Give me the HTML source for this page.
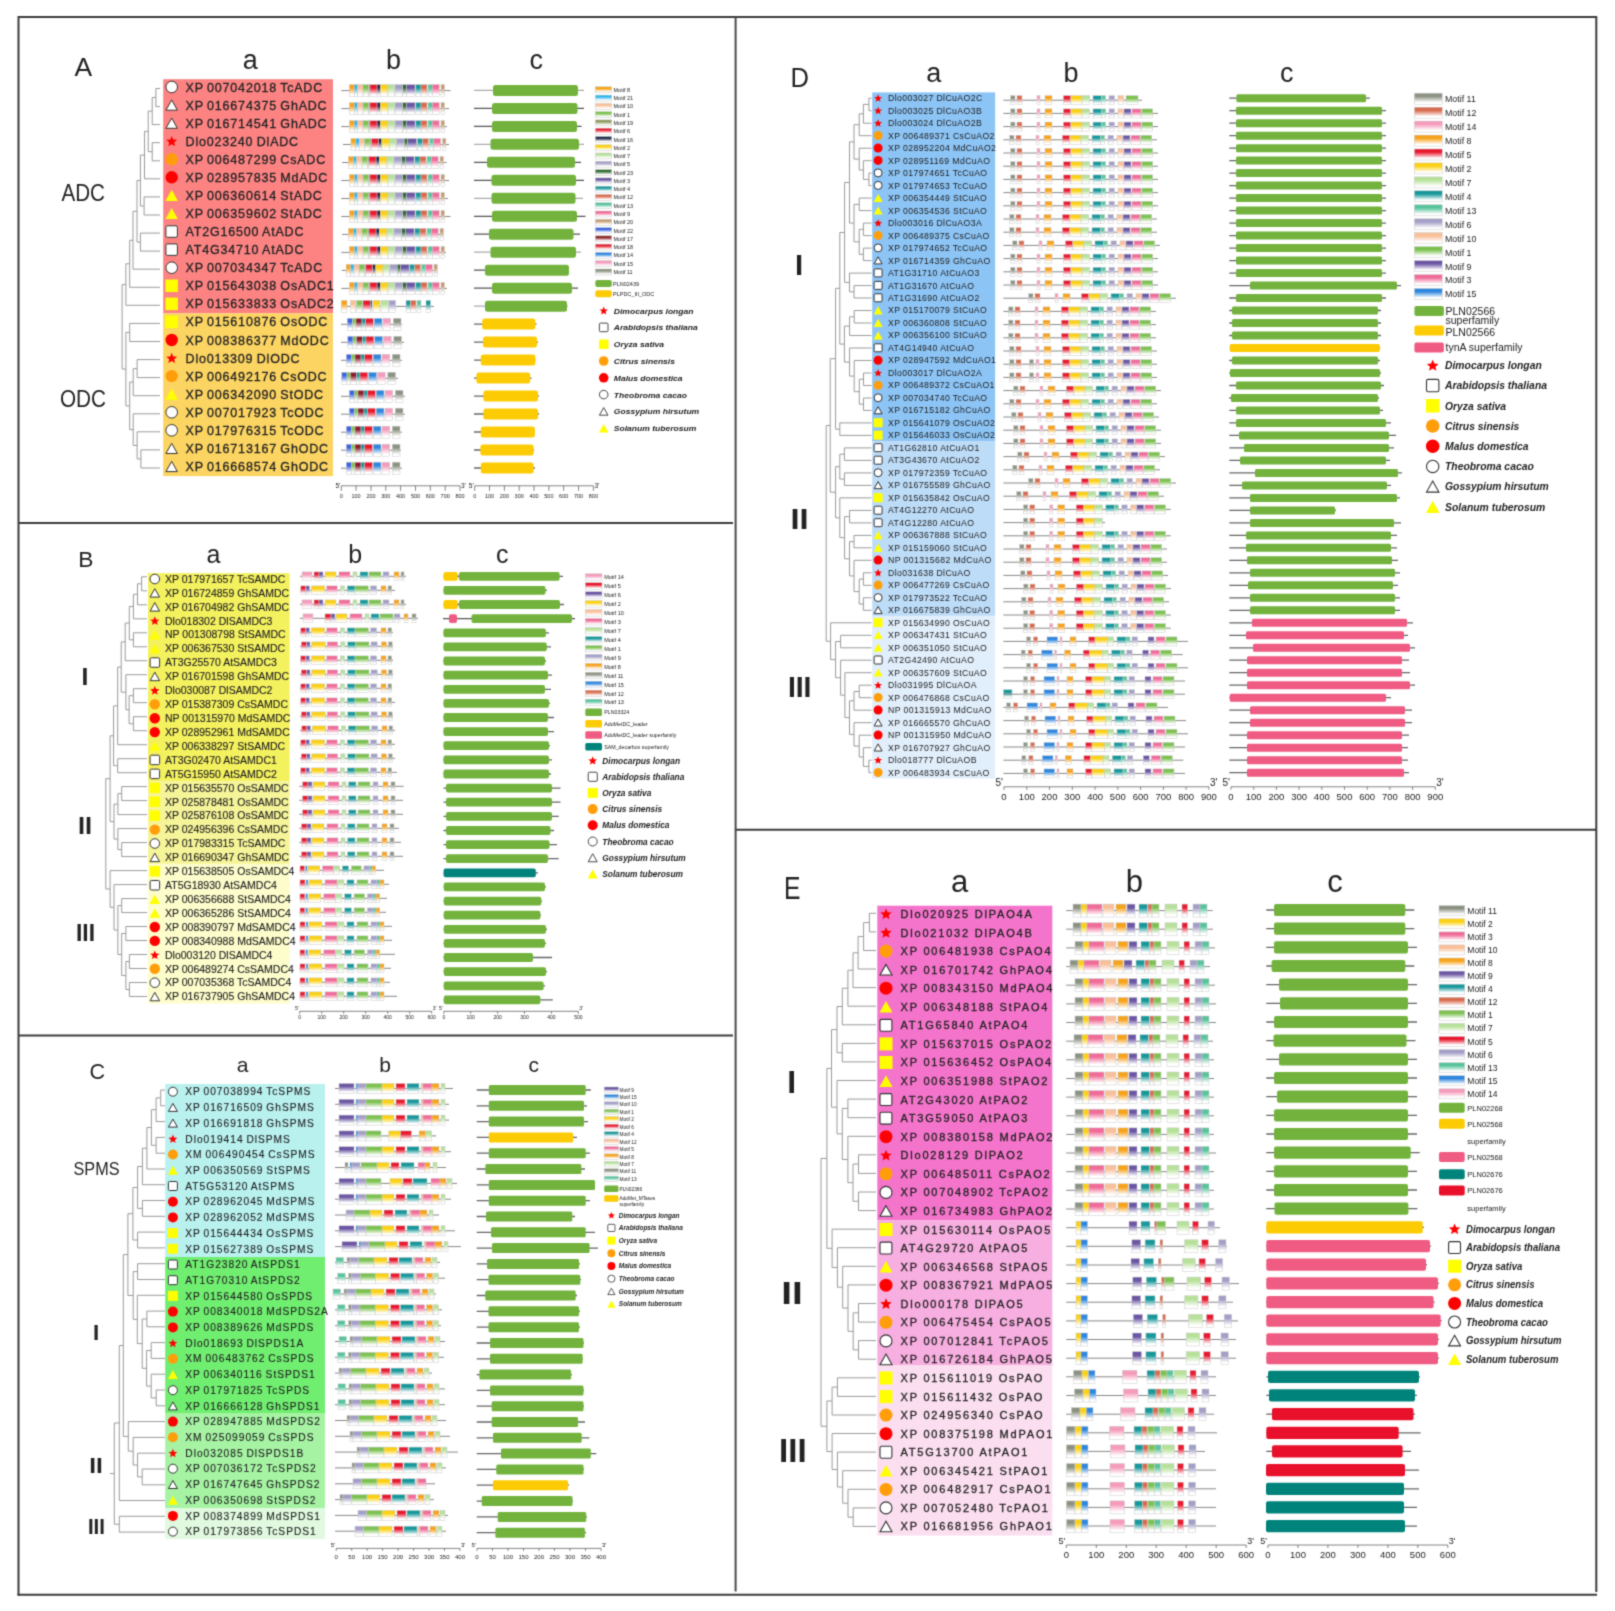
<!DOCTYPE html>
<html><head><meta charset="utf-8"><title>Polyamine gene families</title>
<style>html,body{margin:0;padding:0;background:#fff;}svg{display:block;}text{font-family:'Liberation Sans',Arial,sans-serif;fill:#222;}.m{stroke:#c9c9c9;stroke-width:.5px}.t{stroke:#222;stroke-width:.3px}.t2{stroke:#222;stroke-width:.12px}</style>
</head><body>
<svg width="1615" height="1611" viewBox="0 0 1615 1611">
<defs><linearGradient id="g0" x1="0" y1="0" x2="0" y2="1"><stop offset="0" stop-color="#f7a21b"/><stop offset="0.28" stop-color="#f7a21b"/><stop offset="0.84" stop-color="#fff"/><stop offset="1" stop-color="#fff"/></linearGradient>
<linearGradient id="g1" x1="0" y1="0" x2="0" y2="1"><stop offset="0" stop-color="#2cb5ea"/><stop offset="0.28" stop-color="#2cb5ea"/><stop offset="0.84" stop-color="#fff"/><stop offset="1" stop-color="#fff"/></linearGradient>
<linearGradient id="g2" x1="0" y1="0" x2="0" y2="1"><stop offset="0" stop-color="#f9bf98"/><stop offset="0.28" stop-color="#f9bf98"/><stop offset="0.84" stop-color="#fff"/><stop offset="1" stop-color="#fff"/></linearGradient>
<linearGradient id="g3" x1="0" y1="0" x2="0" y2="1"><stop offset="0" stop-color="#7cc150"/><stop offset="0.28" stop-color="#7cc150"/><stop offset="0.84" stop-color="#fff"/><stop offset="1" stop-color="#fff"/></linearGradient>
<linearGradient id="g4" x1="0" y1="0" x2="0" y2="1"><stop offset="0" stop-color="#8c9a5e"/><stop offset="0.28" stop-color="#8c9a5e"/><stop offset="0.84" stop-color="#fff"/><stop offset="1" stop-color="#fff"/></linearGradient>
<linearGradient id="g5" x1="0" y1="0" x2="0" y2="1"><stop offset="0" stop-color="#e8182e"/><stop offset="0.28" stop-color="#e8182e"/><stop offset="0.84" stop-color="#fff"/><stop offset="1" stop-color="#fff"/></linearGradient>
<linearGradient id="g6" x1="0" y1="0" x2="0" y2="1"><stop offset="0" stop-color="#1d2747"/><stop offset="0.28" stop-color="#1d2747"/><stop offset="0.84" stop-color="#fff"/><stop offset="1" stop-color="#fff"/></linearGradient>
<linearGradient id="g7" x1="0" y1="0" x2="0" y2="1"><stop offset="0" stop-color="#fbd014"/><stop offset="0.28" stop-color="#fbd014"/><stop offset="0.84" stop-color="#fff"/><stop offset="1" stop-color="#fff"/></linearGradient>
<linearGradient id="g8" x1="0" y1="0" x2="0" y2="1"><stop offset="0" stop-color="#b7e19a"/><stop offset="0.28" stop-color="#b7e19a"/><stop offset="0.84" stop-color="#fff"/><stop offset="1" stop-color="#fff"/></linearGradient>
<linearGradient id="g9" x1="0" y1="0" x2="0" y2="1"><stop offset="0" stop-color="#a29ec6"/><stop offset="0.28" stop-color="#a29ec6"/><stop offset="0.84" stop-color="#fff"/><stop offset="1" stop-color="#fff"/></linearGradient>
<linearGradient id="g10" x1="0" y1="0" x2="0" y2="1"><stop offset="0" stop-color="#2f6b2f"/><stop offset="0.28" stop-color="#2f6b2f"/><stop offset="0.84" stop-color="#fff"/><stop offset="1" stop-color="#fff"/></linearGradient>
<linearGradient id="g11" x1="0" y1="0" x2="0" y2="1"><stop offset="0" stop-color="#6b56a3"/><stop offset="0.28" stop-color="#6b56a3"/><stop offset="0.84" stop-color="#fff"/><stop offset="1" stop-color="#fff"/></linearGradient>
<linearGradient id="g12" x1="0" y1="0" x2="0" y2="1"><stop offset="0" stop-color="#17979a"/><stop offset="0.28" stop-color="#17979a"/><stop offset="0.84" stop-color="#fff"/><stop offset="1" stop-color="#fff"/></linearGradient>
<linearGradient id="g13" x1="0" y1="0" x2="0" y2="1"><stop offset="0" stop-color="#d8694c"/><stop offset="0.28" stop-color="#d8694c"/><stop offset="0.84" stop-color="#fff"/><stop offset="1" stop-color="#fff"/></linearGradient>
<linearGradient id="g14" x1="0" y1="0" x2="0" y2="1"><stop offset="0" stop-color="#58c49c"/><stop offset="0.28" stop-color="#58c49c"/><stop offset="0.84" stop-color="#fff"/><stop offset="1" stop-color="#fff"/></linearGradient>
<linearGradient id="g15" x1="0" y1="0" x2="0" y2="1"><stop offset="0" stop-color="#f06c98"/><stop offset="0.28" stop-color="#f06c98"/><stop offset="0.84" stop-color="#fff"/><stop offset="1" stop-color="#fff"/></linearGradient>
<linearGradient id="g16" x1="0" y1="0" x2="0" y2="1"><stop offset="0" stop-color="#c59a6d"/><stop offset="0.28" stop-color="#c59a6d"/><stop offset="0.84" stop-color="#fff"/><stop offset="1" stop-color="#fff"/></linearGradient>
<linearGradient id="g17" x1="0" y1="0" x2="0" y2="1"><stop offset="0" stop-color="#3a63e0"/><stop offset="0.28" stop-color="#3a63e0"/><stop offset="0.84" stop-color="#fff"/><stop offset="1" stop-color="#fff"/></linearGradient>
<linearGradient id="g18" x1="0" y1="0" x2="0" y2="1"><stop offset="0" stop-color="#8c1c2c"/><stop offset="0.28" stop-color="#8c1c2c"/><stop offset="0.84" stop-color="#fff"/><stop offset="1" stop-color="#fff"/></linearGradient>
<linearGradient id="g19" x1="0" y1="0" x2="0" y2="1"><stop offset="0" stop-color="#2f86dd"/><stop offset="0.28" stop-color="#2f86dd"/><stop offset="0.84" stop-color="#fff"/><stop offset="1" stop-color="#fff"/></linearGradient>
<linearGradient id="g20" x1="0" y1="0" x2="0" y2="1"><stop offset="0" stop-color="#f59bbb"/><stop offset="0.28" stop-color="#f59bbb"/><stop offset="0.84" stop-color="#fff"/><stop offset="1" stop-color="#fff"/></linearGradient>
<linearGradient id="g21" x1="0" y1="0" x2="0" y2="1"><stop offset="0" stop-color="#8b9282"/><stop offset="0.28" stop-color="#8b9282"/><stop offset="0.84" stop-color="#fff"/><stop offset="1" stop-color="#fff"/></linearGradient>
<linearGradient id="g22" x1="0" y1="0" x2="0" y2="1"><stop offset="0" stop-color="#8e2a2a"/><stop offset="0.28" stop-color="#8e2a2a"/><stop offset="0.84" stop-color="#fff"/><stop offset="1" stop-color="#fff"/></linearGradient>
<linearGradient id="g23" x1="0" y1="0" x2="0" y2="1"><stop offset="0" stop-color="#e3202f"/><stop offset="0.28" stop-color="#e3202f"/><stop offset="0.84" stop-color="#fff"/><stop offset="1" stop-color="#fff"/></linearGradient><filter id="bl" x="0" y="0" width="1615" height="1611" filterUnits="userSpaceOnUse" color-interpolation-filters="sRGB"><feConvolveMatrix order="3" kernelMatrix="0.0277 0.1110 0.0277 0.1110 0.4452 0.1110 0.0277 0.1110 0.0277" edgeMode="duplicate" preserveAlpha="true"/></filter></defs>
<g filter="url(#bl)">
<rect x="0" y="0" width="1615" height="1611" fill="#ffffff"/>
<path d="M18.5 17H1596.5" stroke="#3c3c3c" stroke-width="2"/>
<path d="M18.5 16V1595.5" stroke="#3c3c3c" stroke-width="2"/>
<path d="M17.5 1594.7H1597" stroke="#3c3c3c" stroke-width="2"/>
<path d="M1596.3 16V1592" stroke="#3c3c3c" stroke-width="2"/>
<path d="M735.6 17V1591.5" stroke="#4a4a4a" stroke-width="2"/>
<path d="M18.5 522.9H733" stroke="#3c3c3c" stroke-width="2"/>
<path d="M18.5 1035.6H733" stroke="#3c3c3c" stroke-width="2"/>
<path d="M735.6 829.7H1596.3" stroke="#3c3c3c" stroke-width="2"/>
<text x="74.5" y="76" font-size="26.5" fill="#111">A</text>
<text x="250.2" y="68.6" font-size="27" fill="#111" text-anchor="middle">a</text>
<text x="393.5" y="68.6" font-size="27" fill="#111" text-anchor="middle">b</text>
<text x="536.3" y="68.6" font-size="27" fill="#111" text-anchor="middle">c</text>
<text x="61.5" y="200.5" font-size="23.7" fill="#111" textLength="43.5" lengthAdjust="spacingAndGlyphs">ADC</text>
<text x="60" y="407" font-size="23.7" fill="#111" textLength="46" lengthAdjust="spacingAndGlyphs">ODC</text>
<rect x="163.2" y="79.2" width="169.8" height="234.2" fill="#fd8383"/>
<rect x="163.2" y="313.4" width="169.8" height="162.7" fill="#fcd462"/>
<path d="M155.9 88.5H160" stroke="#9a9a9a" stroke-width="1"/>
<path d="M155.9 106.6H160" stroke="#9a9a9a" stroke-width="1"/>
<path d="M155.9 88.5V106.6" stroke="#9a9a9a" stroke-width="1"/>
<path d="M152.2 97.5H155.9" stroke="#9a9a9a" stroke-width="1"/>
<path d="M152.2 124.6H160" stroke="#9a9a9a" stroke-width="1"/>
<path d="M152.2 97.5V124.6" stroke="#9a9a9a" stroke-width="1"/>
<path d="M152.2 142.7H160" stroke="#9a9a9a" stroke-width="1"/>
<path d="M152.2 160.8H160" stroke="#9a9a9a" stroke-width="1"/>
<path d="M152.2 142.7V160.8" stroke="#9a9a9a" stroke-width="1"/>
<path d="M148.2 111.1H152.2" stroke="#9a9a9a" stroke-width="1"/>
<path d="M148.2 151.7H152.2" stroke="#9a9a9a" stroke-width="1"/>
<path d="M148.2 111.1V151.7" stroke="#9a9a9a" stroke-width="1"/>
<path d="M144.5 131.4H148.2" stroke="#9a9a9a" stroke-width="1"/>
<path d="M144.5 178.8H160" stroke="#9a9a9a" stroke-width="1"/>
<path d="M144.5 131.4V178.8" stroke="#9a9a9a" stroke-width="1"/>
<path d="M144.1 196.9H160" stroke="#9a9a9a" stroke-width="1"/>
<path d="M144.1 215H160" stroke="#9a9a9a" stroke-width="1"/>
<path d="M144.1 196.9V215" stroke="#9a9a9a" stroke-width="1"/>
<path d="M140.4 155.1H144.5" stroke="#9a9a9a" stroke-width="1"/>
<path d="M140.4 206H144.1" stroke="#9a9a9a" stroke-width="1"/>
<path d="M140.4 155.1V206" stroke="#9a9a9a" stroke-width="1"/>
<path d="M140.4 233.1H160" stroke="#9a9a9a" stroke-width="1"/>
<path d="M140.4 251.1H160" stroke="#9a9a9a" stroke-width="1"/>
<path d="M140.4 233.1V251.1" stroke="#9a9a9a" stroke-width="1"/>
<path d="M137 180.5H140.4" stroke="#9a9a9a" stroke-width="1"/>
<path d="M137 242.1H140.4" stroke="#9a9a9a" stroke-width="1"/>
<path d="M137 180.5V242.1" stroke="#9a9a9a" stroke-width="1"/>
<path d="M133 211.3H137" stroke="#9a9a9a" stroke-width="1"/>
<path d="M133 269.2H160" stroke="#9a9a9a" stroke-width="1"/>
<path d="M133 211.3V269.2" stroke="#9a9a9a" stroke-width="1"/>
<path d="M129.7 240.3H133" stroke="#9a9a9a" stroke-width="1"/>
<path d="M129.7 287.3H160" stroke="#9a9a9a" stroke-width="1"/>
<path d="M129.7 240.3V287.3" stroke="#9a9a9a" stroke-width="1"/>
<path d="M125.9 263.8H129.7" stroke="#9a9a9a" stroke-width="1"/>
<path d="M125.9 305.3H160" stroke="#9a9a9a" stroke-width="1"/>
<path d="M125.9 263.8V305.3" stroke="#9a9a9a" stroke-width="1"/>
<path d="M129.7 323.4H160" stroke="#9a9a9a" stroke-width="1"/>
<path d="M129.7 341.5H160" stroke="#9a9a9a" stroke-width="1"/>
<path d="M129.7 323.4V341.5" stroke="#9a9a9a" stroke-width="1"/>
<path d="M137.1 359.6H160" stroke="#9a9a9a" stroke-width="1"/>
<path d="M137.1 377.6H160" stroke="#9a9a9a" stroke-width="1"/>
<path d="M137.1 359.6V377.6" stroke="#9a9a9a" stroke-width="1"/>
<path d="M133.2 368.6H137.1" stroke="#9a9a9a" stroke-width="1"/>
<path d="M133.2 395.7H160" stroke="#9a9a9a" stroke-width="1"/>
<path d="M133.2 368.6V395.7" stroke="#9a9a9a" stroke-width="1"/>
<path d="M140.9 449.9H160" stroke="#9a9a9a" stroke-width="1"/>
<path d="M140.9 468H160" stroke="#9a9a9a" stroke-width="1"/>
<path d="M140.9 449.9V468" stroke="#9a9a9a" stroke-width="1"/>
<path d="M137.1 431.8H160" stroke="#9a9a9a" stroke-width="1"/>
<path d="M137.1 458.9H140.9" stroke="#9a9a9a" stroke-width="1"/>
<path d="M137.1 431.8V458.9" stroke="#9a9a9a" stroke-width="1"/>
<path d="M133.2 413.8H160" stroke="#9a9a9a" stroke-width="1"/>
<path d="M133.2 445.4H137.1" stroke="#9a9a9a" stroke-width="1"/>
<path d="M133.2 413.8V445.4" stroke="#9a9a9a" stroke-width="1"/>
<path d="M129.7 382.1H133.2" stroke="#9a9a9a" stroke-width="1"/>
<path d="M129.7 429.6H133.2" stroke="#9a9a9a" stroke-width="1"/>
<path d="M129.7 382.1V429.6" stroke="#9a9a9a" stroke-width="1"/>
<path d="M125.9 332.4H129.7" stroke="#9a9a9a" stroke-width="1"/>
<path d="M125.9 405.9H129.7" stroke="#9a9a9a" stroke-width="1"/>
<path d="M125.9 332.4V405.9" stroke="#9a9a9a" stroke-width="1"/>
<path d="M122.1 284.6H125.9" stroke="#9a9a9a" stroke-width="1"/>
<path d="M122.1 369.1H125.9" stroke="#9a9a9a" stroke-width="1"/>
<path d="M122.1 284.6V369.1" stroke="#9a9a9a" stroke-width="1"/>
<circle cx="171.7" cy="87" r="5.8" fill="#fff" stroke="#333" stroke-width="1"/>
<text x="185.6" y="91.5" font-size="12.5" class="t" letter-spacing="0.8" word-spacing="-0.8">XP 007042018 TcADC</text>
<polygon points="171.7,99.9 177.4,110.2 165.9,110.2" fill="#fff" stroke="#333" stroke-width="1" stroke-linejoin="miter"/>
<text x="185.6" y="109.5" font-size="12.5" class="t" letter-spacing="0.8" word-spacing="-0.8">XP 016674375 GhADC</text>
<polygon points="171.7,118 177.4,128.3 165.9,128.3" fill="#fff" stroke="#333" stroke-width="1" stroke-linejoin="miter"/>
<text x="185.6" y="127.6" font-size="12.5" class="t" letter-spacing="0.8" word-spacing="-0.8">XP 016714541 GhADC</text>
<polygon points="171.7,135.9 173.2,139.5 177.2,139.8 174.2,142.4 175.1,146.3 171.7,144.2 168.3,146.3 169.2,142.4 166.2,139.8 170.2,139.5" fill="#f00"/>
<text x="185.6" y="145.7" font-size="12.5" class="t" letter-spacing="0.8" word-spacing="-0.8">Dlo023240 DlADC</text>
<circle cx="171.7" cy="159.3" r="6.2" fill="#ff9e0a"/>
<text x="185.6" y="163.8" font-size="12.5" class="t" letter-spacing="0.8" word-spacing="-0.8">XP 006487299 CsADC</text>
<circle cx="171.7" cy="177.3" r="6.2" fill="#ff0000"/>
<text x="185.6" y="181.8" font-size="12.5" class="t" letter-spacing="0.8" word-spacing="-0.8">XP 028957835 MdADC</text>
<polygon points="171.7,189.8 177.9,201 165.4,201" fill="#ffff00"/>
<text x="185.6" y="199.9" font-size="12.5" class="t" letter-spacing="0.8" word-spacing="-0.8">XP 006360614 StADC</text>
<polygon points="171.7,207.9 177.9,219.1 165.4,219.1" fill="#ffff00"/>
<text x="185.6" y="218" font-size="12.5" class="t" letter-spacing="0.8" word-spacing="-0.8">XP 006359602 StADC</text>
<rect x="165.9" y="225.8" width="11.5" height="11.5" rx="1.5" fill="#fff" stroke="#333" stroke-width="1"/>
<text x="185.6" y="236" font-size="12.5" class="t" letter-spacing="0.8" word-spacing="-0.8">AT2G16500 AtADC</text>
<rect x="165.9" y="243.9" width="11.5" height="11.5" rx="1.5" fill="#fff" stroke="#333" stroke-width="1"/>
<text x="185.6" y="254.1" font-size="12.5" class="t" letter-spacing="0.8" word-spacing="-0.8">AT4G34710 AtADC</text>
<circle cx="171.7" cy="267.7" r="5.8" fill="#fff" stroke="#333" stroke-width="1"/>
<text x="185.6" y="272.2" font-size="12.5" class="t" letter-spacing="0.8" word-spacing="-0.8">XP 007034347 TcADC</text>
<rect x="165.4" y="279.5" width="12.5" height="12.5" fill="#ffff00"/>
<text x="185.6" y="290.2" font-size="12.5" class="t" letter-spacing="0.8" word-spacing="-0.8">XP 015643038 OsADC1</text>
<rect x="165.4" y="297.6" width="12.5" height="12.5" fill="#ffff00"/>
<text x="185.6" y="308.3" font-size="12.5" class="t" letter-spacing="0.8" word-spacing="-0.8">XP 015633833 OsADC2</text>
<rect x="165.4" y="315.7" width="12.5" height="12.5" fill="#ffff00"/>
<text x="185.6" y="326.4" font-size="12.5" class="t" letter-spacing="0.8" word-spacing="-0.8">XP 015610876 OsODC</text>
<circle cx="171.7" cy="340" r="6.2" fill="#ff0000"/>
<text x="185.6" y="344.5" font-size="12.5" class="t" letter-spacing="0.8" word-spacing="-0.8">XP 008386377 MdODC</text>
<polygon points="171.7,352.7 173.2,356.4 177.2,356.7 174.2,359.2 175.1,363.1 171.7,361 168.3,363.1 169.2,359.2 166.2,356.7 170.2,356.4" fill="#f00"/>
<text x="185.6" y="362.5" font-size="12.5" class="t" letter-spacing="0.8" word-spacing="-0.8">Dlo013309 DlODC</text>
<circle cx="171.7" cy="376.1" r="6.2" fill="#ff9e0a"/>
<text x="185.6" y="380.6" font-size="12.5" class="t" letter-spacing="0.8" word-spacing="-0.8">XP 006492176 CsODC</text>
<polygon points="171.7,388.6 177.9,399.8 165.4,399.8" fill="#ffff00"/>
<text x="185.6" y="398.7" font-size="12.5" class="t" letter-spacing="0.8" word-spacing="-0.8">XP 006342090 StODC</text>
<circle cx="171.7" cy="412.3" r="5.8" fill="#fff" stroke="#333" stroke-width="1"/>
<text x="185.6" y="416.7" font-size="12.5" class="t" letter-spacing="0.8" word-spacing="-0.8">XP 007017923 TcODC</text>
<circle cx="171.7" cy="430.3" r="5.8" fill="#fff" stroke="#333" stroke-width="1"/>
<text x="185.6" y="434.8" font-size="12.5" class="t" letter-spacing="0.8" word-spacing="-0.8">XP 017976315 TcODC</text>
<polygon points="171.7,443.3 177.4,453.5 165.9,453.5" fill="#fff" stroke="#333" stroke-width="1" stroke-linejoin="miter"/>
<text x="185.6" y="452.9" font-size="12.5" class="t" letter-spacing="0.8" word-spacing="-0.8">XP 016713167 GhODC</text>
<polygon points="171.7,461.3 177.4,471.6 165.9,471.6" fill="#fff" stroke="#333" stroke-width="1" stroke-linejoin="miter"/>
<text x="185.6" y="470.9" font-size="12.5" class="t" letter-spacing="0.8" word-spacing="-0.8">XP 016668574 GhODC</text>
<path d="M341.3 90.6H450.5" stroke="#888" stroke-width="1"/>
<rect class="m" x="349.4" y="84.6" width="4.9" height="12" fill="url(#g0)"/>
<rect class="m" x="354.3" y="84.6" width="3.4" height="12" fill="url(#g1)"/>
<rect class="m" x="357.7" y="84.6" width="5.3" height="12" fill="url(#g2)"/>
<rect class="m" x="363" y="84.6" width="5.5" height="12" fill="url(#g3)"/>
<rect class="m" x="368.5" y="84.6" width="1.5" height="12" fill="url(#g4)"/>
<rect class="m" x="370" y="84.6" width="7.1" height="12" fill="url(#g5)"/>
<rect class="m" x="377.1" y="84.6" width="3.2" height="12" fill="url(#g6)"/>
<rect class="m" x="380.3" y="84.6" width="7.7" height="12" fill="url(#g7)"/>
<rect class="m" x="388" y="84.6" width="6.5" height="12" fill="url(#g8)"/>
<rect class="m" x="395" y="84.6" width="7.8" height="12" fill="url(#g9)"/>
<rect class="m" x="402.8" y="84.6" width="3.5" height="12" fill="url(#g10)"/>
<rect class="m" x="406.3" y="84.6" width="8.7" height="12" fill="url(#g11)"/>
<rect class="m" x="415.8" y="84.6" width="5.2" height="12" fill="url(#g12)"/>
<rect class="m" x="421" y="84.6" width="6" height="12" fill="url(#g13)"/>
<rect class="m" x="428" y="84.6" width="4.3" height="12" fill="url(#g14)"/>
<rect class="m" x="432.3" y="84.6" width="6.9" height="12" fill="url(#g15)"/>
<rect class="m" x="441" y="84.6" width="3.4" height="12" fill="url(#g16)"/>
<path d="M341.3 108.6H449" stroke="#888" stroke-width="1"/>
<rect class="m" x="349.4" y="102.6" width="4.9" height="12" fill="url(#g0)"/>
<rect class="m" x="354.3" y="102.6" width="3.4" height="12" fill="url(#g1)"/>
<rect class="m" x="357.7" y="102.6" width="5.3" height="12" fill="url(#g2)"/>
<rect class="m" x="363" y="102.6" width="5.5" height="12" fill="url(#g3)"/>
<rect class="m" x="368.5" y="102.6" width="1.5" height="12" fill="url(#g4)"/>
<rect class="m" x="370" y="102.6" width="7.1" height="12" fill="url(#g5)"/>
<rect class="m" x="377.1" y="102.6" width="3.2" height="12" fill="url(#g6)"/>
<rect class="m" x="380.3" y="102.6" width="7.7" height="12" fill="url(#g7)"/>
<rect class="m" x="388" y="102.6" width="6.5" height="12" fill="url(#g8)"/>
<rect class="m" x="395" y="102.6" width="7.8" height="12" fill="url(#g9)"/>
<rect class="m" x="402.8" y="102.6" width="3.5" height="12" fill="url(#g10)"/>
<rect class="m" x="406.3" y="102.6" width="8.7" height="12" fill="url(#g11)"/>
<rect class="m" x="415.8" y="102.6" width="5.2" height="12" fill="url(#g12)"/>
<rect class="m" x="421" y="102.6" width="6" height="12" fill="url(#g13)"/>
<rect class="m" x="428" y="102.6" width="4.3" height="12" fill="url(#g14)"/>
<rect class="m" x="432.3" y="102.6" width="6.9" height="12" fill="url(#g15)"/>
<rect class="m" x="441" y="102.6" width="3.4" height="12" fill="url(#g16)"/>
<path d="M341.3 126.6H447" stroke="#888" stroke-width="1"/>
<rect class="m" x="349.4" y="120.6" width="4.9" height="12" fill="url(#g0)"/>
<rect class="m" x="354.3" y="120.6" width="3.4" height="12" fill="url(#g1)"/>
<rect class="m" x="357.7" y="120.6" width="5.3" height="12" fill="url(#g2)"/>
<rect class="m" x="363" y="120.6" width="5.5" height="12" fill="url(#g3)"/>
<rect class="m" x="368.5" y="120.6" width="1.5" height="12" fill="url(#g4)"/>
<rect class="m" x="370" y="120.6" width="7.1" height="12" fill="url(#g5)"/>
<rect class="m" x="377.1" y="120.6" width="3.2" height="12" fill="url(#g6)"/>
<rect class="m" x="380.3" y="120.6" width="7.7" height="12" fill="url(#g7)"/>
<rect class="m" x="388" y="120.6" width="6.5" height="12" fill="url(#g8)"/>
<rect class="m" x="395" y="120.6" width="7.8" height="12" fill="url(#g9)"/>
<rect class="m" x="402.8" y="120.6" width="3.5" height="12" fill="url(#g10)"/>
<rect class="m" x="406.3" y="120.6" width="8.7" height="12" fill="url(#g11)"/>
<rect class="m" x="415.8" y="120.6" width="5.2" height="12" fill="url(#g12)"/>
<rect class="m" x="421" y="120.6" width="6" height="12" fill="url(#g13)"/>
<rect class="m" x="428" y="120.6" width="4.3" height="12" fill="url(#g14)"/>
<rect class="m" x="432.3" y="120.6" width="6.9" height="12" fill="url(#g15)"/>
<rect class="m" x="441" y="120.6" width="3.4" height="12" fill="url(#g16)"/>
<path d="M343 144.5H449" stroke="#888" stroke-width="1"/>
<rect class="m" x="350.9" y="138.5" width="4.9" height="12" fill="url(#g0)"/>
<rect class="m" x="355.8" y="138.5" width="3.4" height="12" fill="url(#g1)"/>
<rect class="m" x="359.2" y="138.5" width="5.3" height="12" fill="url(#g2)"/>
<rect class="m" x="364.5" y="138.5" width="5.5" height="12" fill="url(#g3)"/>
<rect class="m" x="370" y="138.5" width="1.5" height="12" fill="url(#g4)"/>
<rect class="m" x="371.5" y="138.5" width="7.1" height="12" fill="url(#g5)"/>
<rect class="m" x="378.6" y="138.5" width="3.2" height="12" fill="url(#g6)"/>
<rect class="m" x="381.8" y="138.5" width="7.7" height="12" fill="url(#g7)"/>
<rect class="m" x="389.5" y="138.5" width="6.5" height="12" fill="url(#g8)"/>
<rect class="m" x="396.5" y="138.5" width="7.8" height="12" fill="url(#g9)"/>
<rect class="m" x="404.3" y="138.5" width="3.5" height="12" fill="url(#g10)"/>
<rect class="m" x="407.8" y="138.5" width="8.7" height="12" fill="url(#g11)"/>
<rect class="m" x="417.3" y="138.5" width="5.2" height="12" fill="url(#g12)"/>
<rect class="m" x="422.5" y="138.5" width="6" height="12" fill="url(#g13)"/>
<rect class="m" x="429.5" y="138.5" width="4.3" height="12" fill="url(#g14)"/>
<rect class="m" x="433.8" y="138.5" width="6.9" height="12" fill="url(#g15)"/>
<rect class="m" x="442.5" y="138.5" width="3.4" height="12" fill="url(#g16)"/>
<path d="M342 162.5H446.6" stroke="#888" stroke-width="1"/>
<rect class="m" x="348.4" y="156.5" width="4.9" height="12" fill="url(#g0)"/>
<rect class="m" x="353.3" y="156.5" width="3.4" height="12" fill="url(#g1)"/>
<rect class="m" x="356.7" y="156.5" width="5.3" height="12" fill="url(#g2)"/>
<rect class="m" x="362" y="156.5" width="5.5" height="12" fill="url(#g3)"/>
<rect class="m" x="367.5" y="156.5" width="1.5" height="12" fill="url(#g4)"/>
<rect class="m" x="369" y="156.5" width="7.1" height="12" fill="url(#g5)"/>
<rect class="m" x="376.1" y="156.5" width="3.2" height="12" fill="url(#g6)"/>
<rect class="m" x="379.3" y="156.5" width="7.7" height="12" fill="url(#g7)"/>
<rect class="m" x="387" y="156.5" width="6.5" height="12" fill="url(#g8)"/>
<rect class="m" x="394" y="156.5" width="7.8" height="12" fill="url(#g9)"/>
<rect class="m" x="401.8" y="156.5" width="3.5" height="12" fill="url(#g10)"/>
<rect class="m" x="405.3" y="156.5" width="8.7" height="12" fill="url(#g11)"/>
<rect class="m" x="414.8" y="156.5" width="5.2" height="12" fill="url(#g12)"/>
<rect class="m" x="420" y="156.5" width="6" height="12" fill="url(#g13)"/>
<rect class="m" x="427" y="156.5" width="4.3" height="12" fill="url(#g14)"/>
<rect class="m" x="431.3" y="156.5" width="6.9" height="12" fill="url(#g15)"/>
<rect class="m" x="440" y="156.5" width="3.4" height="12" fill="url(#g16)"/>
<path d="M341.3 180.5H449" stroke="#888" stroke-width="1"/>
<rect class="m" x="349.4" y="174.5" width="4.9" height="12" fill="url(#g0)"/>
<rect class="m" x="354.3" y="174.5" width="3.4" height="12" fill="url(#g1)"/>
<rect class="m" x="357.7" y="174.5" width="5.3" height="12" fill="url(#g2)"/>
<rect class="m" x="363" y="174.5" width="5.5" height="12" fill="url(#g3)"/>
<rect class="m" x="368.5" y="174.5" width="1.5" height="12" fill="url(#g4)"/>
<rect class="m" x="370" y="174.5" width="7.1" height="12" fill="url(#g5)"/>
<rect class="m" x="377.1" y="174.5" width="3.2" height="12" fill="url(#g6)"/>
<rect class="m" x="380.3" y="174.5" width="7.7" height="12" fill="url(#g7)"/>
<rect class="m" x="388" y="174.5" width="6.5" height="12" fill="url(#g8)"/>
<rect class="m" x="395" y="174.5" width="7.8" height="12" fill="url(#g9)"/>
<rect class="m" x="402.8" y="174.5" width="3.5" height="12" fill="url(#g10)"/>
<rect class="m" x="406.3" y="174.5" width="8.7" height="12" fill="url(#g11)"/>
<rect class="m" x="415.8" y="174.5" width="5.2" height="12" fill="url(#g12)"/>
<rect class="m" x="421" y="174.5" width="6" height="12" fill="url(#g13)"/>
<rect class="m" x="428" y="174.5" width="4.3" height="12" fill="url(#g14)"/>
<rect class="m" x="432.3" y="174.5" width="6.9" height="12" fill="url(#g15)"/>
<rect class="m" x="441" y="174.5" width="3.4" height="12" fill="url(#g16)"/>
<path d="M341.3 198.5H448" stroke="#888" stroke-width="1"/>
<rect class="m" x="349.4" y="192.5" width="4.9" height="12" fill="url(#g0)"/>
<rect class="m" x="354.3" y="192.5" width="3.4" height="12" fill="url(#g1)"/>
<rect class="m" x="357.7" y="192.5" width="5.3" height="12" fill="url(#g2)"/>
<rect class="m" x="363" y="192.5" width="5.5" height="12" fill="url(#g3)"/>
<rect class="m" x="368.5" y="192.5" width="1.5" height="12" fill="url(#g4)"/>
<rect class="m" x="370" y="192.5" width="7.1" height="12" fill="url(#g5)"/>
<rect class="m" x="377.1" y="192.5" width="3.2" height="12" fill="url(#g6)"/>
<rect class="m" x="380.3" y="192.5" width="7.7" height="12" fill="url(#g7)"/>
<rect class="m" x="388" y="192.5" width="6.5" height="12" fill="url(#g8)"/>
<rect class="m" x="395" y="192.5" width="7.8" height="12" fill="url(#g9)"/>
<rect class="m" x="402.8" y="192.5" width="3.5" height="12" fill="url(#g10)"/>
<rect class="m" x="406.3" y="192.5" width="8.7" height="12" fill="url(#g11)"/>
<rect class="m" x="415.8" y="192.5" width="5.2" height="12" fill="url(#g12)"/>
<rect class="m" x="421" y="192.5" width="6" height="12" fill="url(#g13)"/>
<rect class="m" x="428" y="192.5" width="4.3" height="12" fill="url(#g14)"/>
<rect class="m" x="432.3" y="192.5" width="6.9" height="12" fill="url(#g15)"/>
<rect class="m" x="441" y="192.5" width="3.4" height="12" fill="url(#g16)"/>
<path d="M341.3 216.5H450.5" stroke="#888" stroke-width="1"/>
<rect class="m" x="349.4" y="210.5" width="4.9" height="12" fill="url(#g0)"/>
<rect class="m" x="354.3" y="210.5" width="3.4" height="12" fill="url(#g1)"/>
<rect class="m" x="357.7" y="210.5" width="5.3" height="12" fill="url(#g2)"/>
<rect class="m" x="363" y="210.5" width="5.5" height="12" fill="url(#g3)"/>
<rect class="m" x="368.5" y="210.5" width="1.5" height="12" fill="url(#g4)"/>
<rect class="m" x="370" y="210.5" width="7.1" height="12" fill="url(#g5)"/>
<rect class="m" x="377.1" y="210.5" width="3.2" height="12" fill="url(#g6)"/>
<rect class="m" x="380.3" y="210.5" width="7.7" height="12" fill="url(#g7)"/>
<rect class="m" x="388" y="210.5" width="6.5" height="12" fill="url(#g8)"/>
<rect class="m" x="395" y="210.5" width="7.8" height="12" fill="url(#g9)"/>
<rect class="m" x="402.8" y="210.5" width="3.5" height="12" fill="url(#g10)"/>
<rect class="m" x="406.3" y="210.5" width="8.7" height="12" fill="url(#g11)"/>
<rect class="m" x="415.8" y="210.5" width="5.2" height="12" fill="url(#g12)"/>
<rect class="m" x="421" y="210.5" width="6" height="12" fill="url(#g13)"/>
<rect class="m" x="428" y="210.5" width="4.3" height="12" fill="url(#g14)"/>
<rect class="m" x="432.3" y="210.5" width="6.9" height="12" fill="url(#g15)"/>
<rect class="m" x="441" y="210.5" width="3.4" height="12" fill="url(#g16)"/>
<path d="M342 234.4H444" stroke="#888" stroke-width="1"/>
<rect class="m" x="348.4" y="228.4" width="4.9" height="12" fill="url(#g0)"/>
<rect class="m" x="353.3" y="228.4" width="3.4" height="12" fill="url(#g1)"/>
<rect class="m" x="356.7" y="228.4" width="5.3" height="12" fill="url(#g2)"/>
<rect class="m" x="362" y="228.4" width="5.5" height="12" fill="url(#g3)"/>
<rect class="m" x="367.5" y="228.4" width="1.5" height="12" fill="url(#g4)"/>
<rect class="m" x="369" y="228.4" width="7.1" height="12" fill="url(#g5)"/>
<rect class="m" x="376.1" y="228.4" width="3.2" height="12" fill="url(#g6)"/>
<rect class="m" x="379.3" y="228.4" width="7.7" height="12" fill="url(#g7)"/>
<rect class="m" x="387" y="228.4" width="6.5" height="12" fill="url(#g8)"/>
<rect class="m" x="394" y="228.4" width="7.8" height="12" fill="url(#g9)"/>
<rect class="m" x="401.8" y="228.4" width="3.5" height="12" fill="url(#g10)"/>
<rect class="m" x="405.3" y="228.4" width="8.7" height="12" fill="url(#g11)"/>
<rect class="m" x="414.8" y="228.4" width="5.2" height="12" fill="url(#g12)"/>
<rect class="m" x="420" y="228.4" width="6" height="12" fill="url(#g13)"/>
<rect class="m" x="427" y="228.4" width="4.3" height="12" fill="url(#g14)"/>
<rect class="m" x="431.3" y="228.4" width="6.9" height="12" fill="url(#g15)"/>
<rect class="m" x="440" y="228.4" width="3.4" height="12" fill="url(#g16)"/>
<path d="M341.3 252.4H446" stroke="#888" stroke-width="1"/>
<rect class="m" x="349.4" y="246.4" width="4.9" height="12" fill="url(#g0)"/>
<rect class="m" x="354.3" y="246.4" width="3.4" height="12" fill="url(#g1)"/>
<rect class="m" x="357.7" y="246.4" width="5.3" height="12" fill="url(#g2)"/>
<rect class="m" x="363" y="246.4" width="5.5" height="12" fill="url(#g3)"/>
<rect class="m" x="368.5" y="246.4" width="1.5" height="12" fill="url(#g4)"/>
<rect class="m" x="370" y="246.4" width="7.1" height="12" fill="url(#g5)"/>
<rect class="m" x="377.1" y="246.4" width="3.2" height="12" fill="url(#g6)"/>
<rect class="m" x="380.3" y="246.4" width="7.7" height="12" fill="url(#g7)"/>
<rect class="m" x="388" y="246.4" width="6.5" height="12" fill="url(#g8)"/>
<rect class="m" x="395" y="246.4" width="7.8" height="12" fill="url(#g9)"/>
<rect class="m" x="402.8" y="246.4" width="3.5" height="12" fill="url(#g10)"/>
<rect class="m" x="406.3" y="246.4" width="8.7" height="12" fill="url(#g11)"/>
<rect class="m" x="415.8" y="246.4" width="5.2" height="12" fill="url(#g12)"/>
<rect class="m" x="421" y="246.4" width="6" height="12" fill="url(#g13)"/>
<rect class="m" x="428" y="246.4" width="4.3" height="12" fill="url(#g14)"/>
<rect class="m" x="432.3" y="246.4" width="6.9" height="12" fill="url(#g15)"/>
<rect class="m" x="441" y="246.4" width="3.4" height="12" fill="url(#g16)"/>
<path d="M341.8 270.4H437" stroke="#888" stroke-width="1"/>
<rect class="m" x="346.1" y="264.4" width="4.7" height="12" fill="url(#g0)"/>
<rect class="m" x="350.8" y="264.4" width="3.3" height="12" fill="url(#g1)"/>
<rect class="m" x="354" y="264.4" width="5.1" height="12" fill="url(#g2)"/>
<rect class="m" x="359.1" y="264.4" width="5.3" height="12" fill="url(#g3)"/>
<rect class="m" x="364.4" y="264.4" width="1.4" height="12" fill="url(#g4)"/>
<rect class="m" x="365.9" y="264.4" width="6.8" height="12" fill="url(#g5)"/>
<rect class="m" x="372.7" y="264.4" width="3.1" height="12" fill="url(#g6)"/>
<rect class="m" x="375.7" y="264.4" width="7.4" height="12" fill="url(#g7)"/>
<rect class="m" x="383.1" y="264.4" width="6.2" height="12" fill="url(#g8)"/>
<rect class="m" x="389.9" y="264.4" width="7.5" height="12" fill="url(#g9)"/>
<rect class="m" x="397.3" y="264.4" width="3.4" height="12" fill="url(#g10)"/>
<rect class="m" x="400.7" y="264.4" width="8.4" height="12" fill="url(#g11)"/>
<rect class="m" x="409.8" y="264.4" width="5" height="12" fill="url(#g12)"/>
<rect class="m" x="414.8" y="264.4" width="5.8" height="12" fill="url(#g13)"/>
<rect class="m" x="421.5" y="264.4" width="4.1" height="12" fill="url(#g14)"/>
<rect class="m" x="425.7" y="264.4" width="6.6" height="12" fill="url(#g15)"/>
<rect class="m" x="434" y="264.4" width="3.3" height="12" fill="url(#g16)"/>
<path d="M341.3 288.4H447" stroke="#888" stroke-width="1"/>
<rect class="m" x="349.4" y="282.4" width="4.9" height="12" fill="url(#g0)"/>
<rect class="m" x="354.3" y="282.4" width="3.4" height="12" fill="url(#g1)"/>
<rect class="m" x="357.7" y="282.4" width="5.3" height="12" fill="url(#g2)"/>
<rect class="m" x="363" y="282.4" width="5.5" height="12" fill="url(#g3)"/>
<rect class="m" x="368.5" y="282.4" width="1.5" height="12" fill="url(#g4)"/>
<rect class="m" x="370" y="282.4" width="7.1" height="12" fill="url(#g5)"/>
<rect class="m" x="377.1" y="282.4" width="3.2" height="12" fill="url(#g6)"/>
<rect class="m" x="380.3" y="282.4" width="7.7" height="12" fill="url(#g7)"/>
<rect class="m" x="388" y="282.4" width="6.5" height="12" fill="url(#g8)"/>
<rect class="m" x="395" y="282.4" width="7.8" height="12" fill="url(#g9)"/>
<rect class="m" x="402.8" y="282.4" width="3.5" height="12" fill="url(#g10)"/>
<rect class="m" x="406.3" y="282.4" width="8.7" height="12" fill="url(#g11)"/>
<rect class="m" x="415.8" y="282.4" width="5.2" height="12" fill="url(#g12)"/>
<rect class="m" x="421" y="282.4" width="6" height="12" fill="url(#g13)"/>
<rect class="m" x="428" y="282.4" width="4.3" height="12" fill="url(#g14)"/>
<rect class="m" x="432.3" y="282.4" width="6.9" height="12" fill="url(#g15)"/>
<rect class="m" x="441" y="282.4" width="3.4" height="12" fill="url(#g16)"/>
<path d="M341.3 306.4H434" stroke="#888" stroke-width="1"/>
<rect class="m" x="341.3" y="300.4" width="5.7" height="12" fill="url(#g0)"/>
<rect class="m" x="350.5" y="300.4" width="5.2" height="12" fill="url(#g2)"/>
<rect class="m" x="356.5" y="300.4" width="6" height="12" fill="url(#g3)"/>
<rect class="m" x="363" y="300.4" width="7.5" height="12" fill="url(#g5)"/>
<rect class="m" x="370.5" y="300.4" width="1.5" height="12" fill="url(#g6)"/>
<rect class="m" x="373" y="300.4" width="7" height="12" fill="url(#g7)"/>
<rect class="m" x="381" y="300.4" width="7.5" height="12" fill="url(#g8)"/>
<rect class="m" x="389" y="300.4" width="6.5" height="12" fill="url(#g9)"/>
<rect class="m" x="406" y="300.4" width="4.5" height="12" fill="url(#g12)"/>
<rect class="m" x="410.5" y="300.4" width="5.5" height="12" fill="url(#g13)"/>
<rect class="m" x="417" y="300.4" width="4" height="12" fill="url(#g14)"/>
<rect class="m" x="426" y="300.4" width="4.5" height="12" fill="url(#g12)"/>
<path d="M341 324.3H402" stroke="#888" stroke-width="1"/>
<rect class="m" x="347.3" y="318.3" width="5.2" height="12" fill="url(#g17)"/>
<rect class="m" x="352.5" y="318.3" width="3.5" height="12" fill="url(#g3)"/>
<rect class="m" x="356" y="318.3" width="6" height="12" fill="url(#g18)"/>
<rect class="m" x="362" y="318.3" width="3.5" height="12" fill="url(#g12)"/>
<rect class="m" x="365.5" y="318.3" width="7.8" height="12" fill="url(#g5)"/>
<rect class="m" x="374.2" y="318.3" width="7.8" height="12" fill="url(#g19)"/>
<rect class="m" x="383" y="318.3" width="7.7" height="12" fill="url(#g20)"/>
<rect class="m" x="393.3" y="318.3" width="7.7" height="12" fill="url(#g21)"/>
<path d="M341 342.3H404" stroke="#888" stroke-width="1"/>
<rect class="m" x="347.8" y="336.3" width="5.2" height="12" fill="url(#g17)"/>
<rect class="m" x="353" y="336.3" width="3.5" height="12" fill="url(#g3)"/>
<rect class="m" x="356.5" y="336.3" width="6" height="12" fill="url(#g18)"/>
<rect class="m" x="362.5" y="336.3" width="3.5" height="12" fill="url(#g12)"/>
<rect class="m" x="366" y="336.3" width="7.8" height="12" fill="url(#g5)"/>
<rect class="m" x="374.7" y="336.3" width="7.8" height="12" fill="url(#g19)"/>
<rect class="m" x="383.5" y="336.3" width="7.7" height="12" fill="url(#g20)"/>
<rect class="m" x="393.8" y="336.3" width="7.7" height="12" fill="url(#g21)"/>
<path d="M341 360.3H402" stroke="#888" stroke-width="1"/>
<rect class="m" x="346.3" y="354.3" width="5.2" height="12" fill="url(#g17)"/>
<rect class="m" x="351.5" y="354.3" width="3.5" height="12" fill="url(#g3)"/>
<rect class="m" x="355" y="354.3" width="6" height="12" fill="url(#g18)"/>
<rect class="m" x="361" y="354.3" width="3.5" height="12" fill="url(#g12)"/>
<rect class="m" x="364.5" y="354.3" width="7.8" height="12" fill="url(#g5)"/>
<rect class="m" x="373.2" y="354.3" width="7.8" height="12" fill="url(#g19)"/>
<rect class="m" x="382" y="354.3" width="7.7" height="12" fill="url(#g20)"/>
<rect class="m" x="392.3" y="354.3" width="7.7" height="12" fill="url(#g21)"/>
<path d="M341 378.3H398" stroke="#888" stroke-width="1"/>
<rect class="m" x="341.8" y="372.3" width="5.2" height="12" fill="url(#g17)"/>
<rect class="m" x="347" y="372.3" width="3.5" height="12" fill="url(#g3)"/>
<rect class="m" x="350.5" y="372.3" width="6" height="12" fill="url(#g18)"/>
<rect class="m" x="356.5" y="372.3" width="3.5" height="12" fill="url(#g12)"/>
<rect class="m" x="360" y="372.3" width="7.8" height="12" fill="url(#g5)"/>
<rect class="m" x="368.7" y="372.3" width="7.8" height="12" fill="url(#g19)"/>
<rect class="m" x="377.5" y="372.3" width="7.7" height="12" fill="url(#g20)"/>
<rect class="m" x="387.8" y="372.3" width="7.7" height="12" fill="url(#g21)"/>
<path d="M341 396.3H405" stroke="#888" stroke-width="1"/>
<rect class="m" x="349.3" y="390.3" width="5.2" height="12" fill="url(#g17)"/>
<rect class="m" x="354.5" y="390.3" width="3.5" height="12" fill="url(#g3)"/>
<rect class="m" x="358" y="390.3" width="6" height="12" fill="url(#g18)"/>
<rect class="m" x="364" y="390.3" width="3.5" height="12" fill="url(#g12)"/>
<rect class="m" x="367.5" y="390.3" width="7.8" height="12" fill="url(#g5)"/>
<rect class="m" x="376.2" y="390.3" width="7.8" height="12" fill="url(#g19)"/>
<rect class="m" x="385" y="390.3" width="7.7" height="12" fill="url(#g20)"/>
<rect class="m" x="395.3" y="390.3" width="7.7" height="12" fill="url(#g21)"/>
<path d="M341 414.2H405" stroke="#888" stroke-width="1"/>
<rect class="m" x="349.3" y="408.2" width="5.2" height="12" fill="url(#g17)"/>
<rect class="m" x="354.5" y="408.2" width="3.5" height="12" fill="url(#g3)"/>
<rect class="m" x="358" y="408.2" width="6" height="12" fill="url(#g18)"/>
<rect class="m" x="364" y="408.2" width="3.5" height="12" fill="url(#g12)"/>
<rect class="m" x="367.5" y="408.2" width="7.8" height="12" fill="url(#g5)"/>
<rect class="m" x="376.2" y="408.2" width="7.8" height="12" fill="url(#g19)"/>
<rect class="m" x="385" y="408.2" width="7.7" height="12" fill="url(#g20)"/>
<rect class="m" x="395.3" y="408.2" width="7.7" height="12" fill="url(#g21)"/>
<path d="M341 432.2H402" stroke="#888" stroke-width="1"/>
<rect class="m" x="346.3" y="426.2" width="5.2" height="12" fill="url(#g17)"/>
<rect class="m" x="351.5" y="426.2" width="3.5" height="12" fill="url(#g3)"/>
<rect class="m" x="355" y="426.2" width="6" height="12" fill="url(#g18)"/>
<rect class="m" x="361" y="426.2" width="3.5" height="12" fill="url(#g12)"/>
<rect class="m" x="364.5" y="426.2" width="7.8" height="12" fill="url(#g5)"/>
<rect class="m" x="373.2" y="426.2" width="7.8" height="12" fill="url(#g19)"/>
<rect class="m" x="382" y="426.2" width="7.7" height="12" fill="url(#g20)"/>
<rect class="m" x="392.3" y="426.2" width="7.7" height="12" fill="url(#g21)"/>
<path d="M341 450.2H401" stroke="#888" stroke-width="1"/>
<rect class="m" x="346.3" y="444.2" width="5.2" height="12" fill="url(#g17)"/>
<rect class="m" x="351.5" y="444.2" width="3.5" height="12" fill="url(#g3)"/>
<rect class="m" x="355" y="444.2" width="6" height="12" fill="url(#g18)"/>
<rect class="m" x="361" y="444.2" width="3.5" height="12" fill="url(#g12)"/>
<rect class="m" x="364.5" y="444.2" width="7.8" height="12" fill="url(#g5)"/>
<rect class="m" x="373.2" y="444.2" width="7.8" height="12" fill="url(#g19)"/>
<rect class="m" x="382" y="444.2" width="7.7" height="12" fill="url(#g20)"/>
<rect class="m" x="392.3" y="444.2" width="7.7" height="12" fill="url(#g21)"/>
<path d="M341 468.2H402" stroke="#888" stroke-width="1"/>
<rect class="m" x="346.3" y="462.2" width="5.2" height="12" fill="url(#g17)"/>
<rect class="m" x="351.5" y="462.2" width="3.5" height="12" fill="url(#g3)"/>
<rect class="m" x="355" y="462.2" width="6" height="12" fill="url(#g18)"/>
<rect class="m" x="361" y="462.2" width="3.5" height="12" fill="url(#g12)"/>
<rect class="m" x="364.5" y="462.2" width="7.8" height="12" fill="url(#g5)"/>
<rect class="m" x="373.2" y="462.2" width="7.8" height="12" fill="url(#g19)"/>
<rect class="m" x="382" y="462.2" width="7.7" height="12" fill="url(#g20)"/>
<rect class="m" x="392.3" y="462.2" width="7.7" height="12" fill="url(#g21)"/>
<path d="M474 90.4H584" stroke="#aaa" stroke-width="1.3"/>
<rect x="493" y="84.9" width="85" height="11" fill="#73b33d" rx="2.5"/>
<path d="M474 108.4H584" stroke="#555" stroke-width="1.3"/>
<rect x="492" y="102.9" width="85.5" height="11" fill="#73b33d" rx="2.5"/>
<path d="M474 126.4H581.5" stroke="#555" stroke-width="1.3"/>
<rect x="492" y="120.9" width="85" height="11" fill="#73b33d" rx="2.5"/>
<path d="M474 144.3H584" stroke="#aaa" stroke-width="1.3"/>
<rect x="490.5" y="138.8" width="88.5" height="11" fill="#73b33d" rx="2.5"/>
<path d="M474 162.3H581" stroke="#555" stroke-width="1.3"/>
<rect x="487" y="156.8" width="88" height="11" fill="#73b33d" rx="2.5"/>
<path d="M474 180.3H584" stroke="#555" stroke-width="1.3"/>
<rect x="491.5" y="174.8" width="84.5" height="11" fill="#73b33d" rx="2.5"/>
<path d="M474 198.3H583" stroke="#aaa" stroke-width="1.3"/>
<rect x="491.5" y="192.8" width="84" height="11" fill="#73b33d" rx="2.5"/>
<path d="M474 216.3H585.5" stroke="#555" stroke-width="1.3"/>
<rect x="492" y="210.8" width="85" height="11" fill="#73b33d" rx="2.5"/>
<path d="M474 234.2H580" stroke="#555" stroke-width="1.3"/>
<rect x="489" y="228.7" width="84.5" height="11" fill="#73b33d" rx="2.5"/>
<path d="M474 252.2H581" stroke="#aaa" stroke-width="1.3"/>
<rect x="490.5" y="246.7" width="85.5" height="11" fill="#73b33d" rx="2.5"/>
<path d="M474 270.2H569" stroke="#555" stroke-width="1.3"/>
<rect x="485" y="264.7" width="84" height="11" fill="#73b33d" rx="2.5"/>
<path d="M474 288.2H578" stroke="#555" stroke-width="1.3"/>
<rect x="492" y="282.7" width="80" height="11" fill="#73b33d" rx="2.5"/>
<path d="M474 306.2H568" stroke="#aaa" stroke-width="1.3"/>
<rect x="485" y="300.7" width="82" height="11" fill="#73b33d" rx="2.5"/>
<path d="M474 324.1H536.5" stroke="#666" stroke-width="1.3"/>
<rect x="482.2" y="318.6" width="53.2" height="11" fill="#fdcb03" rx="2.5"/>
<path d="M474 342.1H538" stroke="#666" stroke-width="1.3"/>
<rect x="483" y="336.6" width="54" height="11" fill="#fdcb03" rx="2.5"/>
<path d="M474 360.1H535.4" stroke="#666" stroke-width="1.3"/>
<rect x="480.8" y="354.6" width="54.6" height="11" fill="#fdcb03" rx="2.5"/>
<path d="M474 378.1H531.6" stroke="#666" stroke-width="1.3"/>
<rect x="476.4" y="372.6" width="53.8" height="11" fill="#fdcb03" rx="2.5"/>
<path d="M474 396.1H539" stroke="#666" stroke-width="1.3"/>
<rect x="483.4" y="390.6" width="54.6" height="11" fill="#fdcb03" rx="2.5"/>
<path d="M474 414H539" stroke="#666" stroke-width="1.3"/>
<rect x="483.4" y="408.5" width="54.6" height="11" fill="#fdcb03" rx="2.5"/>
<path d="M474 432H535" stroke="#666" stroke-width="1.3"/>
<rect x="480.8" y="426.5" width="54.1" height="11" fill="#fdcb03" rx="2.5"/>
<path d="M474 450H534" stroke="#666" stroke-width="1.3"/>
<rect x="480.4" y="444.5" width="53.2" height="11" fill="#fdcb03" rx="2.5"/>
<path d="M474 468H535" stroke="#666" stroke-width="1.3"/>
<rect x="480.8" y="462.5" width="52.8" height="11" fill="#fdcb03" rx="2.5"/>
<path d="M341.3 485.8H460" stroke="#666" stroke-width="0.8"/>
<path d="M341.3 485.8V490.8" stroke="#666" stroke-width="0.8"/>
<text x="341.3" y="497.8" font-size="5.5" text-anchor="middle">0</text>
<path d="M356.1 485.8V490.8" stroke="#666" stroke-width="0.8"/>
<text x="356.1" y="497.8" font-size="5.5" text-anchor="middle">100</text>
<path d="M371 485.8V490.8" stroke="#666" stroke-width="0.8"/>
<text x="371" y="497.8" font-size="5.5" text-anchor="middle">200</text>
<path d="M385.8 485.8V490.8" stroke="#666" stroke-width="0.8"/>
<text x="385.8" y="497.8" font-size="5.5" text-anchor="middle">300</text>
<path d="M400.6 485.8V490.8" stroke="#666" stroke-width="0.8"/>
<text x="400.6" y="497.8" font-size="5.5" text-anchor="middle">400</text>
<path d="M415.5 485.8V490.8" stroke="#666" stroke-width="0.8"/>
<text x="415.5" y="497.8" font-size="5.5" text-anchor="middle">500</text>
<path d="M430.3 485.8V490.8" stroke="#666" stroke-width="0.8"/>
<text x="430.3" y="497.8" font-size="5.5" text-anchor="middle">600</text>
<path d="M445.2 485.8V490.8" stroke="#666" stroke-width="0.8"/>
<text x="445.2" y="497.8" font-size="5.5" text-anchor="middle">700</text>
<path d="M460 485.8V490.8" stroke="#666" stroke-width="0.8"/>
<text x="460" y="497.8" font-size="5.5" text-anchor="middle">800</text>
<text x="340.3" y="488.3" font-size="6.5" fill="#333" text-anchor="end">5'</text>
<text x="461" y="488.3" font-size="6.5" fill="#333">3'</text>
<path d="M474.7 485.8H593.4" stroke="#666" stroke-width="0.8"/>
<path d="M474.7 485.8V490.8" stroke="#666" stroke-width="0.8"/>
<text x="474.7" y="497.8" font-size="5.5" text-anchor="middle">0</text>
<path d="M489.5 485.8V490.8" stroke="#666" stroke-width="0.8"/>
<text x="489.5" y="497.8" font-size="5.5" text-anchor="middle">100</text>
<path d="M504.4 485.8V490.8" stroke="#666" stroke-width="0.8"/>
<text x="504.4" y="497.8" font-size="5.5" text-anchor="middle">200</text>
<path d="M519.2 485.8V490.8" stroke="#666" stroke-width="0.8"/>
<text x="519.2" y="497.8" font-size="5.5" text-anchor="middle">300</text>
<path d="M534 485.8V490.8" stroke="#666" stroke-width="0.8"/>
<text x="534" y="497.8" font-size="5.5" text-anchor="middle">400</text>
<path d="M548.9 485.8V490.8" stroke="#666" stroke-width="0.8"/>
<text x="548.9" y="497.8" font-size="5.5" text-anchor="middle">500</text>
<path d="M563.7 485.8V490.8" stroke="#666" stroke-width="0.8"/>
<text x="563.7" y="497.8" font-size="5.5" text-anchor="middle">600</text>
<path d="M578.6 485.8V490.8" stroke="#666" stroke-width="0.8"/>
<text x="578.6" y="497.8" font-size="5.5" text-anchor="middle">700</text>
<path d="M593.4 485.8V490.8" stroke="#666" stroke-width="0.8"/>
<text x="593.4" y="497.8" font-size="5.5" text-anchor="middle">800</text>
<text x="473.7" y="488.3" font-size="6.5" fill="#333" text-anchor="end">5'</text>
<text x="594.4" y="488.3" font-size="6.5" fill="#333">3'</text>
<rect class="m" x="595.3" y="86.8" width="16.4" height="6" fill="url(#g0)" stroke="#ddd"/>
<text x="613.5" y="91.8" font-size="5.5" fill="#555">Motif 8</text>
<rect class="m" x="595.3" y="95.1" width="16.4" height="6" fill="url(#g1)" stroke="#ddd"/>
<text x="613.5" y="100.1" font-size="5.5" fill="#555">Motif 21</text>
<rect class="m" x="595.3" y="103.4" width="16.4" height="6" fill="url(#g2)" stroke="#ddd"/>
<text x="613.5" y="108.4" font-size="5.5" fill="#555">Motif 10</text>
<rect class="m" x="595.3" y="111.6" width="16.4" height="6" fill="url(#g3)" stroke="#ddd"/>
<text x="613.5" y="116.6" font-size="5.5" fill="#555">Motif 1</text>
<rect class="m" x="595.3" y="119.9" width="16.4" height="6" fill="url(#g4)" stroke="#ddd"/>
<text x="613.5" y="124.9" font-size="5.5" fill="#555">Motif 19</text>
<rect class="m" x="595.3" y="128.2" width="16.4" height="6" fill="url(#g5)" stroke="#ddd"/>
<text x="613.5" y="133.2" font-size="5.5" fill="#555">Motif 6</text>
<rect class="m" x="595.3" y="136.5" width="16.4" height="6" fill="url(#g6)" stroke="#ddd"/>
<text x="613.5" y="141.5" font-size="5.5" fill="#555">Motif 16</text>
<rect class="m" x="595.3" y="144.8" width="16.4" height="6" fill="url(#g7)" stroke="#ddd"/>
<text x="613.5" y="149.8" font-size="5.5" fill="#555">Motif 2</text>
<rect class="m" x="595.3" y="153" width="16.4" height="6" fill="url(#g8)" stroke="#ddd"/>
<text x="613.5" y="158" font-size="5.5" fill="#555">Motif 7</text>
<rect class="m" x="595.3" y="161.3" width="16.4" height="6" fill="url(#g9)" stroke="#ddd"/>
<text x="613.5" y="166.3" font-size="5.5" fill="#555">Motif 5</text>
<rect class="m" x="595.3" y="169.6" width="16.4" height="6" fill="url(#g10)" stroke="#ddd"/>
<text x="613.5" y="174.6" font-size="5.5" fill="#555">Motif 23</text>
<rect class="m" x="595.3" y="177.9" width="16.4" height="6" fill="url(#g11)" stroke="#ddd"/>
<text x="613.5" y="182.9" font-size="5.5" fill="#555">Motif 3</text>
<rect class="m" x="595.3" y="186.2" width="16.4" height="6" fill="url(#g12)" stroke="#ddd"/>
<text x="613.5" y="191.2" font-size="5.5" fill="#555">Motif 4</text>
<rect class="m" x="595.3" y="194.4" width="16.4" height="6" fill="url(#g13)" stroke="#ddd"/>
<text x="613.5" y="199.4" font-size="5.5" fill="#555">Motif 12</text>
<rect class="m" x="595.3" y="202.7" width="16.4" height="6" fill="url(#g14)" stroke="#ddd"/>
<text x="613.5" y="207.7" font-size="5.5" fill="#555">Motif 13</text>
<rect class="m" x="595.3" y="211" width="16.4" height="6" fill="url(#g15)" stroke="#ddd"/>
<text x="613.5" y="216" font-size="5.5" fill="#555">Motif 9</text>
<rect class="m" x="595.3" y="219.3" width="16.4" height="6" fill="url(#g16)" stroke="#ddd"/>
<text x="613.5" y="224.3" font-size="5.5" fill="#555">Motif 20</text>
<rect class="m" x="595.3" y="227.6" width="16.4" height="6" fill="url(#g17)" stroke="#ddd"/>
<text x="613.5" y="232.6" font-size="5.5" fill="#555">Motif 22</text>
<rect class="m" x="595.3" y="235.8" width="16.4" height="6" fill="url(#g22)" stroke="#ddd"/>
<text x="613.5" y="240.8" font-size="5.5" fill="#555">Motif 17</text>
<rect class="m" x="595.3" y="244.1" width="16.4" height="6" fill="url(#g23)" stroke="#ddd"/>
<text x="613.5" y="249.1" font-size="5.5" fill="#555">Motif 18</text>
<rect class="m" x="595.3" y="252.4" width="16.4" height="6" fill="url(#g19)" stroke="#ddd"/>
<text x="613.5" y="257.4" font-size="5.5" fill="#555">Motif 14</text>
<rect class="m" x="595.3" y="260.7" width="16.4" height="6" fill="url(#g20)" stroke="#ddd"/>
<text x="613.5" y="265.7" font-size="5.5" fill="#555">Motif 15</text>
<rect class="m" x="595.3" y="269" width="16.4" height="6" fill="url(#g21)" stroke="#ddd"/>
<text x="613.5" y="274" font-size="5.5" fill="#555">Motif 11</text>
<rect x="595.3" y="280" width="16.5" height="7" fill="#73b33d" rx="2"/>
<text x="613" y="286" font-size="5.5" fill="#444">PLN02439</text>
<rect x="595.3" y="290.2" width="16.5" height="7" fill="#fdcb03" rx="2"/>
<text x="613" y="296" font-size="5.5" fill="#444">PLPDC_III_ODC</text>
<polygon points="603.7,306.6 604.9,309.4 607.9,309.6 605.6,311.6 606.3,314.5 603.7,313 601.1,314.5 601.8,311.6 599.5,309.6 602.5,309.4" fill="#f00"/>
<text x="613.8" y="313.5" font-size="8" font-weight="bold" font-style="italic" textLength="79.7" lengthAdjust="spacingAndGlyphs">Dimocarpus longan</text>
<rect x="599.4" y="323.1" width="8.6" height="8.6" rx="1.1" fill="#fff" stroke="#333" stroke-width="0.9"/>
<text x="613.8" y="330.3" font-size="8" font-weight="bold" font-style="italic" textLength="84" lengthAdjust="spacingAndGlyphs">Arabidopsis thaliana</text>
<rect x="599" y="339.5" width="9.5" height="9.5" fill="#ffff00"/>
<text x="613.8" y="347.1" font-size="8" font-weight="bold" font-style="italic" textLength="50.3" lengthAdjust="spacingAndGlyphs">Oryza sativa</text>
<circle cx="603.7" cy="361" r="4.8" fill="#ff9e0a"/>
<text x="613.8" y="363.9" font-size="8" font-weight="bold" font-style="italic" textLength="61.2" lengthAdjust="spacingAndGlyphs">Citrus sinensis</text>
<circle cx="603.7" cy="377.8" r="4.8" fill="#ff0000"/>
<text x="613.8" y="380.7" font-size="8" font-weight="bold" font-style="italic" textLength="68.8" lengthAdjust="spacingAndGlyphs">Malus domestica</text>
<circle cx="603.7" cy="394.6" r="4.3" fill="#fff" stroke="#333" stroke-width="0.9"/>
<text x="613.8" y="397.5" font-size="8" font-weight="bold" font-style="italic" textLength="73.1" lengthAdjust="spacingAndGlyphs">Theobroma cacao</text>
<polygon points="603.7,407.6 608,415.2 599.4,415.2" fill="#fff" stroke="#333" stroke-width="0.9" stroke-linejoin="miter"/>
<text x="613.8" y="414.3" font-size="8" font-weight="bold" font-style="italic" textLength="85.4" lengthAdjust="spacingAndGlyphs">Gossypium hirsutum</text>
<polygon points="603.7,423.9 608.5,432.5 599,432.5" fill="#ffff00"/>
<text x="613.8" y="431.1" font-size="8" font-weight="bold" font-style="italic" textLength="82.6" lengthAdjust="spacingAndGlyphs">Solanum tuberosum</text>
<text x="78.2" y="567.1" font-size="22.8" fill="#111">B</text>
<text x="213.4" y="563.3" font-size="25" fill="#111" text-anchor="middle">a</text>
<text x="355.3" y="563.3" font-size="25" fill="#111" text-anchor="middle">b</text>
<text x="502.2" y="563.3" font-size="25" fill="#111" text-anchor="middle">c</text>
<text x="81.6" y="684.5" font-size="24.7" fill="#111" font-weight="bold">I</text>
<text x="77.9" y="833.5" font-size="24.7" fill="#111" font-weight="bold" textLength="14.1" lengthAdjust="spacingAndGlyphs">II</text>
<text x="76" y="940.7" font-size="24.7" fill="#111" font-weight="bold" textLength="19" lengthAdjust="spacingAndGlyphs">III</text>
<rect x="148" y="573.1" width="141.6" height="208.2" fill="#f4f15f"/>
<rect x="148" y="781.3" width="141.6" height="82.6" fill="#f6f498"/>
<rect x="148" y="863.9" width="141.6" height="139.7" fill="#fdfdcc"/>
<path d="M141.6 576.8H147" stroke="#9a9a9a" stroke-width="1"/>
<path d="M141.6 590.8H147" stroke="#9a9a9a" stroke-width="1"/>
<path d="M141.6 576.8V590.8" stroke="#9a9a9a" stroke-width="1"/>
<path d="M137.5 583.8H141.6" stroke="#9a9a9a" stroke-width="1"/>
<path d="M137.5 604.8H147" stroke="#9a9a9a" stroke-width="1"/>
<path d="M137.5 583.8V604.8" stroke="#9a9a9a" stroke-width="1"/>
<path d="M133.4 594.3H137.5" stroke="#9a9a9a" stroke-width="1"/>
<path d="M133.4 618.8H147" stroke="#9a9a9a" stroke-width="1"/>
<path d="M133.4 594.3V618.8" stroke="#9a9a9a" stroke-width="1"/>
<path d="M133.4 632.8H147" stroke="#9a9a9a" stroke-width="1"/>
<path d="M133.4 646.8H147" stroke="#9a9a9a" stroke-width="1"/>
<path d="M133.4 632.8V646.8" stroke="#9a9a9a" stroke-width="1"/>
<path d="M129.3 606.5H133.4" stroke="#9a9a9a" stroke-width="1"/>
<path d="M129.3 639.8H133.4" stroke="#9a9a9a" stroke-width="1"/>
<path d="M129.3 606.5V639.8" stroke="#9a9a9a" stroke-width="1"/>
<path d="M125.2 623.1H129.3" stroke="#9a9a9a" stroke-width="1"/>
<path d="M125.2 660.7H147" stroke="#9a9a9a" stroke-width="1"/>
<path d="M125.2 623.1V660.7" stroke="#9a9a9a" stroke-width="1"/>
<path d="M133.4 688.7H147" stroke="#9a9a9a" stroke-width="1"/>
<path d="M133.4 702.7H147" stroke="#9a9a9a" stroke-width="1"/>
<path d="M133.4 688.7V702.7" stroke="#9a9a9a" stroke-width="1"/>
<path d="M133.4 716.7H147" stroke="#9a9a9a" stroke-width="1"/>
<path d="M133.4 730.7H147" stroke="#9a9a9a" stroke-width="1"/>
<path d="M133.4 716.7V730.7" stroke="#9a9a9a" stroke-width="1"/>
<path d="M129.1 695.7H133.4" stroke="#9a9a9a" stroke-width="1"/>
<path d="M129.1 723.7H133.4" stroke="#9a9a9a" stroke-width="1"/>
<path d="M129.1 695.7V723.7" stroke="#9a9a9a" stroke-width="1"/>
<path d="M125.9 674.7H147" stroke="#9a9a9a" stroke-width="1"/>
<path d="M125.9 709.7H129.1" stroke="#9a9a9a" stroke-width="1"/>
<path d="M125.9 674.7V709.7" stroke="#9a9a9a" stroke-width="1"/>
<path d="M121.2 641.9H125.2" stroke="#9a9a9a" stroke-width="1"/>
<path d="M121.2 692.2H125.9" stroke="#9a9a9a" stroke-width="1"/>
<path d="M121.2 641.9V692.2" stroke="#9a9a9a" stroke-width="1"/>
<path d="M117.7 667.1H121.2" stroke="#9a9a9a" stroke-width="1"/>
<path d="M117.7 744.7H147" stroke="#9a9a9a" stroke-width="1"/>
<path d="M117.7 667.1V744.7" stroke="#9a9a9a" stroke-width="1"/>
<path d="M117.7 758.7H147" stroke="#9a9a9a" stroke-width="1"/>
<path d="M117.7 772.7H147" stroke="#9a9a9a" stroke-width="1"/>
<path d="M117.7 758.7V772.7" stroke="#9a9a9a" stroke-width="1"/>
<path d="M113.6 705.9H117.7" stroke="#9a9a9a" stroke-width="1"/>
<path d="M113.6 765.7H117.7" stroke="#9a9a9a" stroke-width="1"/>
<path d="M113.6 705.9V765.7" stroke="#9a9a9a" stroke-width="1"/>
<path d="M121.7 786.6H147" stroke="#9a9a9a" stroke-width="1"/>
<path d="M121.7 800.6H147" stroke="#9a9a9a" stroke-width="1"/>
<path d="M121.7 786.6V800.6" stroke="#9a9a9a" stroke-width="1"/>
<path d="M117.9 793.6H121.7" stroke="#9a9a9a" stroke-width="1"/>
<path d="M117.9 814.6H147" stroke="#9a9a9a" stroke-width="1"/>
<path d="M117.9 793.6V814.6" stroke="#9a9a9a" stroke-width="1"/>
<path d="M121.7 842.6H147" stroke="#9a9a9a" stroke-width="1"/>
<path d="M121.7 856.6H147" stroke="#9a9a9a" stroke-width="1"/>
<path d="M121.7 842.6V856.6" stroke="#9a9a9a" stroke-width="1"/>
<path d="M117.9 828.6H147" stroke="#9a9a9a" stroke-width="1"/>
<path d="M117.9 849.6H121.7" stroke="#9a9a9a" stroke-width="1"/>
<path d="M117.9 828.6V849.6" stroke="#9a9a9a" stroke-width="1"/>
<path d="M114 804.1H117.9" stroke="#9a9a9a" stroke-width="1"/>
<path d="M114 839.1H117.9" stroke="#9a9a9a" stroke-width="1"/>
<path d="M114 804.1V839.1" stroke="#9a9a9a" stroke-width="1"/>
<path d="M110.1 735.8H113.6" stroke="#9a9a9a" stroke-width="1"/>
<path d="M110.1 821.6H114" stroke="#9a9a9a" stroke-width="1"/>
<path d="M110.1 735.8V821.6" stroke="#9a9a9a" stroke-width="1"/>
<path d="M121.7 898.6H147" stroke="#9a9a9a" stroke-width="1"/>
<path d="M121.7 912.6H147" stroke="#9a9a9a" stroke-width="1"/>
<path d="M121.7 898.6V912.6" stroke="#9a9a9a" stroke-width="1"/>
<path d="M125.9 926.5H147" stroke="#9a9a9a" stroke-width="1"/>
<path d="M125.9 940.5H147" stroke="#9a9a9a" stroke-width="1"/>
<path d="M125.9 926.5V940.5" stroke="#9a9a9a" stroke-width="1"/>
<path d="M129.4 954.5H147" stroke="#9a9a9a" stroke-width="1"/>
<path d="M129.4 968.5H147" stroke="#9a9a9a" stroke-width="1"/>
<path d="M129.4 954.5V968.5" stroke="#9a9a9a" stroke-width="1"/>
<path d="M129.4 982.5H147" stroke="#9a9a9a" stroke-width="1"/>
<path d="M129.4 996.5H147" stroke="#9a9a9a" stroke-width="1"/>
<path d="M129.4 982.5V996.5" stroke="#9a9a9a" stroke-width="1"/>
<path d="M125.9 961.5H129.4" stroke="#9a9a9a" stroke-width="1"/>
<path d="M125.9 989.5H129.4" stroke="#9a9a9a" stroke-width="1"/>
<path d="M125.9 961.5V989.5" stroke="#9a9a9a" stroke-width="1"/>
<path d="M121.7 933.5H125.9" stroke="#9a9a9a" stroke-width="1"/>
<path d="M121.7 975.5H125.9" stroke="#9a9a9a" stroke-width="1"/>
<path d="M121.7 933.5V975.5" stroke="#9a9a9a" stroke-width="1"/>
<path d="M117.9 905.6H121.7" stroke="#9a9a9a" stroke-width="1"/>
<path d="M117.9 954.5H121.7" stroke="#9a9a9a" stroke-width="1"/>
<path d="M117.9 905.6V954.5" stroke="#9a9a9a" stroke-width="1"/>
<path d="M114 884.6H147" stroke="#9a9a9a" stroke-width="1"/>
<path d="M114 930H117.9" stroke="#9a9a9a" stroke-width="1"/>
<path d="M114 884.6V930" stroke="#9a9a9a" stroke-width="1"/>
<path d="M110.1 870.6H147" stroke="#9a9a9a" stroke-width="1"/>
<path d="M110.1 907.3H114" stroke="#9a9a9a" stroke-width="1"/>
<path d="M110.1 870.6V907.3" stroke="#9a9a9a" stroke-width="1"/>
<path d="M105.8 778.7H110.1" stroke="#9a9a9a" stroke-width="1"/>
<path d="M105.8 889H110.1" stroke="#9a9a9a" stroke-width="1"/>
<path d="M105.8 778.7V889" stroke="#9a9a9a" stroke-width="1"/>
<circle cx="154.8" cy="579" r="4.8" fill="#fff" stroke="#333" stroke-width="1"/>
<text x="165" y="582.8" font-size="10.5" class="t2" letter-spacing="0">XP 017971657 TcSAMDC</text>
<polygon points="154.8,588.7 159.6,597.1 150.1,597.1" fill="#fff" stroke="#333" stroke-width="1" stroke-linejoin="miter"/>
<text x="165" y="596.7" font-size="10.5" class="t2" letter-spacing="0">XP 016724859 GhSAMDC</text>
<polygon points="154.8,602.6 159.6,611.1 150.1,611.1" fill="#fff" stroke="#333" stroke-width="1" stroke-linejoin="miter"/>
<text x="165" y="610.6" font-size="10.5" class="t2" letter-spacing="0">XP 016704982 GhSAMDC</text>
<polygon points="154.8,616.3 156.1,619.4 159.4,619.7 156.9,621.8 157.6,625.1 154.8,623.3 152,625.1 152.7,621.8 150.2,619.7 153.5,619.4" fill="#f00"/>
<text x="165" y="624.5" font-size="10.5" class="t2" letter-spacing="0">Dlo018302 DlSAMDC3</text>
<polygon points="154.8,630 160.1,639.4 149.6,639.4" fill="#ffff00"/>
<text x="165" y="638.4" font-size="10.5" class="t2" letter-spacing="0">NP 001308798 StSAMDC</text>
<polygon points="154.8,643.9 160.1,653.3 149.6,653.3" fill="#ffff00"/>
<text x="165" y="652.4" font-size="10.5" class="t2" letter-spacing="0">XP 006367530 StSAMDC</text>
<rect x="150.1" y="657.8" width="9.5" height="9.5" rx="1.3" fill="#fff" stroke="#333" stroke-width="1"/>
<text x="165" y="666.3" font-size="10.5" class="t2" letter-spacing="0">AT3G25570 AtSAMDC3</text>
<polygon points="154.8,672.2 159.6,680.7 150.1,680.7" fill="#fff" stroke="#333" stroke-width="1" stroke-linejoin="miter"/>
<text x="165" y="680.2" font-size="10.5" class="t2" letter-spacing="0">XP 016701598 GhSAMDC</text>
<polygon points="154.8,685.9 156.1,689 159.4,689.3 156.9,691.4 157.6,694.7 154.8,692.9 152,694.7 152.7,691.4 150.2,689.3 153.5,689" fill="#f00"/>
<text x="165" y="694.1" font-size="10.5" class="t2" letter-spacing="0">Dlo030087 DlSAMDC2</text>
<circle cx="154.8" cy="704.3" r="5.2" fill="#ff9e0a"/>
<text x="165" y="708" font-size="10.5" class="t2" letter-spacing="0">XP 015387309 CsSAMDC</text>
<circle cx="154.8" cy="718.2" r="5.2" fill="#ff0000"/>
<text x="165" y="722" font-size="10.5" class="t2" letter-spacing="0">NP 001315970 MdSAMDC</text>
<circle cx="154.8" cy="732.1" r="5.2" fill="#ff0000"/>
<text x="165" y="735.9" font-size="10.5" class="t2" letter-spacing="0">XP 028952961 MdSAMDC</text>
<polygon points="154.8,741.3 160.1,750.8 149.6,750.8" fill="#ffff00"/>
<text x="165" y="749.8" font-size="10.5" class="t2" letter-spacing="0">XP 006338297 StSAMDC</text>
<rect x="150.1" y="755.2" width="9.5" height="9.5" rx="1.3" fill="#fff" stroke="#333" stroke-width="1"/>
<text x="165" y="763.7" font-size="10.5" class="t2" letter-spacing="0">AT3G02470 AtSAMDC1</text>
<rect x="150.1" y="769.1" width="9.5" height="9.5" rx="1.3" fill="#fff" stroke="#333" stroke-width="1"/>
<text x="165" y="777.6" font-size="10.5" class="t2" letter-spacing="0">AT5G15950 AtSAMDC2</text>
<rect x="149.6" y="782.5" width="10.5" height="10.5" fill="#ffff00"/>
<text x="165" y="791.6" font-size="10.5" class="t2" letter-spacing="0">XP 015635570 OsSAMDC</text>
<rect x="149.6" y="796.5" width="10.5" height="10.5" fill="#ffff00"/>
<text x="165" y="805.5" font-size="10.5" class="t2" letter-spacing="0">XP 025878481 OsSAMDC</text>
<rect x="149.6" y="810.4" width="10.5" height="10.5" fill="#ffff00"/>
<text x="165" y="819.4" font-size="10.5" class="t2" letter-spacing="0">XP 025876108 OsSAMDC</text>
<circle cx="154.8" cy="829.6" r="5.2" fill="#ff9e0a"/>
<text x="165" y="833.3" font-size="10.5" class="t2" letter-spacing="0">XP 024956396 CsSAMDC</text>
<circle cx="154.8" cy="843.5" r="4.8" fill="#fff" stroke="#333" stroke-width="1"/>
<text x="165" y="847.2" font-size="10.5" class="t2" letter-spacing="0">XP 017983315 TcSAMDC</text>
<polygon points="154.8,853.2 159.6,861.6 150.1,861.6" fill="#fff" stroke="#333" stroke-width="1" stroke-linejoin="miter"/>
<text x="165" y="861.2" font-size="10.5" class="t2" letter-spacing="0">XP 016690347 GhSAMDC</text>
<rect x="149.6" y="866.1" width="10.5" height="10.5" fill="#ffff00"/>
<text x="165" y="875.1" font-size="10.5" class="t2" letter-spacing="0">XP 015638505 OsSAMDC4</text>
<rect x="150.1" y="880.5" width="9.5" height="9.5" rx="1.3" fill="#fff" stroke="#333" stroke-width="1"/>
<text x="165" y="889" font-size="10.5" class="t2" letter-spacing="0">AT5G18930 AtSAMDC4</text>
<polygon points="154.8,894.4 160.1,903.9 149.6,903.9" fill="#ffff00"/>
<text x="165" y="902.9" font-size="10.5" class="t2" letter-spacing="0">XP 006356688 StSAMDC4</text>
<polygon points="154.8,908.4 160.1,917.8 149.6,917.8" fill="#ffff00"/>
<text x="165" y="916.8" font-size="10.5" class="t2" letter-spacing="0">XP 006365286 StSAMDC4</text>
<circle cx="154.8" cy="927" r="5.2" fill="#ff0000"/>
<text x="165" y="930.8" font-size="10.5" class="t2" letter-spacing="0">XP 008390797 MdSAMDC4</text>
<circle cx="154.8" cy="940.9" r="5.2" fill="#ff0000"/>
<text x="165" y="944.7" font-size="10.5" class="t2" letter-spacing="0">XP 008340988 MdSAMDC4</text>
<polygon points="154.8,950.4 156.1,953.5 159.4,953.7 156.9,955.9 157.6,959.1 154.8,957.4 152,959.1 152.7,955.9 150.2,953.7 153.5,953.5" fill="#f00"/>
<text x="165" y="958.6" font-size="10.5" class="t2" letter-spacing="0">Dlo003120 DlSAMDC4</text>
<circle cx="154.8" cy="968.8" r="5.2" fill="#ff9e0a"/>
<text x="165" y="972.5" font-size="10.5" class="t2" letter-spacing="0">XP 006489274 CsSAMDC4</text>
<circle cx="154.8" cy="982.7" r="4.8" fill="#fff" stroke="#333" stroke-width="1"/>
<text x="165" y="986.4" font-size="10.5" class="t2" letter-spacing="0">XP 007035368 TcSAMDC4</text>
<polygon points="154.8,992.4 159.6,1000.8 150.1,1000.8" fill="#fff" stroke="#333" stroke-width="1" stroke-linejoin="miter"/>
<text x="165" y="1000.4" font-size="10.5" class="t2" letter-spacing="0">XP 016737905 GhSAMDC4</text>
<path d="M300 576.3H406" stroke="#888" stroke-width="1"/>
<rect class="m" x="302" y="571.9" width="10" height="8.8" fill="url(#g20)"/>
<rect class="m" x="314" y="571.9" width="5" height="8.8" fill="url(#g5)"/>
<rect class="m" x="319" y="571.9" width="4" height="8.8" fill="url(#g11)"/>
<rect class="m" x="325" y="571.9" width="11" height="8.8" fill="url(#g7)"/>
<rect class="m" x="339" y="571.9" width="11" height="8.8" fill="url(#g15)"/>
<rect class="m" x="353" y="571.9" width="4" height="8.8" fill="url(#g8)"/>
<rect class="m" x="360" y="571.9" width="8" height="8.8" fill="url(#g12)"/>
<rect class="m" x="369" y="571.9" width="12" height="8.8" fill="url(#g3)"/>
<rect class="m" x="383" y="571.9" width="6" height="8.8" fill="url(#g9)"/>
<rect class="m" x="394" y="571.9" width="5" height="8.8" fill="url(#g0)"/>
<rect class="m" x="401" y="571.9" width="3" height="8.8" fill="url(#g21)"/>
<path d="M300 590.3H395" stroke="#888" stroke-width="1"/>
<rect class="m" x="300.8" y="585.9" width="5" height="8.8" fill="url(#g5)"/>
<rect class="m" x="306" y="585.9" width="3.5" height="8.8" fill="url(#g11)"/>
<rect class="m" x="311.3" y="585.9" width="13.5" height="8.8" fill="url(#g7)"/>
<rect class="m" x="326.7" y="585.9" width="10.5" height="8.8" fill="url(#g15)"/>
<rect class="m" x="340.3" y="585.9" width="4.2" height="8.8" fill="url(#g8)"/>
<rect class="m" x="347.2" y="585.9" width="7.8" height="8.8" fill="url(#g12)"/>
<rect class="m" x="355" y="585.9" width="13.5" height="8.8" fill="url(#g3)"/>
<rect class="m" x="370.5" y="585.9" width="6.2" height="8.8" fill="url(#g9)"/>
<rect class="m" x="381" y="585.9" width="5" height="8.8" fill="url(#g0)"/>
<rect class="m" x="388" y="585.9" width="3.7" height="8.8" fill="url(#g21)"/>
<path d="M300 604.3H406" stroke="#888" stroke-width="1"/>
<rect class="m" x="302" y="599.9" width="10" height="8.8" fill="url(#g20)"/>
<rect class="m" x="314" y="599.9" width="5" height="8.8" fill="url(#g5)"/>
<rect class="m" x="319" y="599.9" width="4" height="8.8" fill="url(#g11)"/>
<rect class="m" x="325" y="599.9" width="11" height="8.8" fill="url(#g7)"/>
<rect class="m" x="339" y="599.9" width="11" height="8.8" fill="url(#g15)"/>
<rect class="m" x="353" y="599.9" width="4" height="8.8" fill="url(#g8)"/>
<rect class="m" x="360" y="599.9" width="8" height="8.8" fill="url(#g12)"/>
<rect class="m" x="369" y="599.9" width="12" height="8.8" fill="url(#g3)"/>
<rect class="m" x="383" y="599.9" width="6" height="8.8" fill="url(#g9)"/>
<rect class="m" x="394" y="599.9" width="5" height="8.8" fill="url(#g0)"/>
<rect class="m" x="401" y="599.9" width="3" height="8.8" fill="url(#g21)"/>
<path d="M300 618.3H418" stroke="#888" stroke-width="1"/>
<rect class="m" x="303" y="613.9" width="10" height="8.8" fill="url(#g20)"/>
<rect class="m" x="325" y="613.9" width="6" height="8.8" fill="url(#g5)"/>
<rect class="m" x="331" y="613.9" width="4" height="8.8" fill="url(#g11)"/>
<rect class="m" x="336" y="613.9" width="11" height="8.8" fill="url(#g7)"/>
<rect class="m" x="350" y="613.9" width="12" height="8.8" fill="url(#g15)"/>
<rect class="m" x="365" y="613.9" width="4" height="8.8" fill="url(#g8)"/>
<rect class="m" x="371" y="613.9" width="8" height="8.8" fill="url(#g12)"/>
<rect class="m" x="380" y="613.9" width="13" height="8.8" fill="url(#g3)"/>
<rect class="m" x="394" y="613.9" width="6" height="8.8" fill="url(#g9)"/>
<rect class="m" x="404" y="613.9" width="4" height="8.8" fill="url(#g0)"/>
<rect class="m" x="412" y="613.9" width="4" height="8.8" fill="url(#g21)"/>
<path d="M300 632.3H393" stroke="#888" stroke-width="1"/>
<rect class="m" x="300.8" y="627.9" width="5" height="8.8" fill="url(#g5)"/>
<rect class="m" x="306" y="627.9" width="3.5" height="8.8" fill="url(#g11)"/>
<rect class="m" x="311.3" y="627.9" width="13.5" height="8.8" fill="url(#g7)"/>
<rect class="m" x="326.7" y="627.9" width="10.5" height="8.8" fill="url(#g15)"/>
<rect class="m" x="340.3" y="627.9" width="4.2" height="8.8" fill="url(#g8)"/>
<rect class="m" x="347.2" y="627.9" width="7.8" height="8.8" fill="url(#g12)"/>
<rect class="m" x="355" y="627.9" width="13.5" height="8.8" fill="url(#g3)"/>
<rect class="m" x="370.5" y="627.9" width="6.2" height="8.8" fill="url(#g9)"/>
<rect class="m" x="381" y="627.9" width="5" height="8.8" fill="url(#g0)"/>
<rect class="m" x="388" y="627.9" width="3.7" height="8.8" fill="url(#g21)"/>
<path d="M300 646.3H393" stroke="#888" stroke-width="1"/>
<rect class="m" x="301.3" y="641.9" width="5" height="8.8" fill="url(#g5)"/>
<rect class="m" x="306.5" y="641.9" width="3.5" height="8.8" fill="url(#g11)"/>
<rect class="m" x="311.8" y="641.9" width="13.5" height="8.8" fill="url(#g7)"/>
<rect class="m" x="327.2" y="641.9" width="10.5" height="8.8" fill="url(#g15)"/>
<rect class="m" x="340.8" y="641.9" width="4.2" height="8.8" fill="url(#g8)"/>
<rect class="m" x="347.7" y="641.9" width="7.8" height="8.8" fill="url(#g12)"/>
<rect class="m" x="355.5" y="641.9" width="13.5" height="8.8" fill="url(#g3)"/>
<rect class="m" x="371" y="641.9" width="6.2" height="8.8" fill="url(#g9)"/>
<rect class="m" x="381.5" y="641.9" width="5" height="8.8" fill="url(#g0)"/>
<rect class="m" x="388.5" y="641.9" width="3.7" height="8.8" fill="url(#g21)"/>
<path d="M300 660.3H393" stroke="#888" stroke-width="1"/>
<rect class="m" x="300.8" y="655.9" width="5" height="8.8" fill="url(#g5)"/>
<rect class="m" x="306" y="655.9" width="3.5" height="8.8" fill="url(#g11)"/>
<rect class="m" x="311.3" y="655.9" width="13.5" height="8.8" fill="url(#g7)"/>
<rect class="m" x="326.7" y="655.9" width="10.5" height="8.8" fill="url(#g15)"/>
<rect class="m" x="340.3" y="655.9" width="4.2" height="8.8" fill="url(#g8)"/>
<rect class="m" x="347.2" y="655.9" width="7.8" height="8.8" fill="url(#g12)"/>
<rect class="m" x="355" y="655.9" width="13.5" height="8.8" fill="url(#g3)"/>
<rect class="m" x="370.5" y="655.9" width="6.2" height="8.8" fill="url(#g9)"/>
<rect class="m" x="381" y="655.9" width="5" height="8.8" fill="url(#g0)"/>
<rect class="m" x="388" y="655.9" width="3.7" height="8.8" fill="url(#g21)"/>
<path d="M300 674.3H393" stroke="#888" stroke-width="1"/>
<rect class="m" x="301.3" y="669.9" width="5" height="8.8" fill="url(#g5)"/>
<rect class="m" x="306.5" y="669.9" width="3.5" height="8.8" fill="url(#g11)"/>
<rect class="m" x="311.8" y="669.9" width="13.5" height="8.8" fill="url(#g7)"/>
<rect class="m" x="327.2" y="669.9" width="10.5" height="8.8" fill="url(#g15)"/>
<rect class="m" x="340.8" y="669.9" width="4.2" height="8.8" fill="url(#g8)"/>
<rect class="m" x="347.7" y="669.9" width="7.8" height="8.8" fill="url(#g12)"/>
<rect class="m" x="355.5" y="669.9" width="13.5" height="8.8" fill="url(#g3)"/>
<rect class="m" x="371" y="669.9" width="6.2" height="8.8" fill="url(#g9)"/>
<rect class="m" x="381.5" y="669.9" width="5" height="8.8" fill="url(#g0)"/>
<rect class="m" x="388.5" y="669.9" width="3.7" height="8.8" fill="url(#g21)"/>
<path d="M300 688.3H390" stroke="#888" stroke-width="1"/>
<rect class="m" x="300.8" y="683.9" width="5" height="8.8" fill="url(#g5)"/>
<rect class="m" x="306" y="683.9" width="3.5" height="8.8" fill="url(#g11)"/>
<rect class="m" x="311.3" y="683.9" width="13.5" height="8.8" fill="url(#g7)"/>
<rect class="m" x="326.7" y="683.9" width="10.5" height="8.8" fill="url(#g15)"/>
<rect class="m" x="340.3" y="683.9" width="4.2" height="8.8" fill="url(#g8)"/>
<rect class="m" x="347.2" y="683.9" width="7.8" height="8.8" fill="url(#g12)"/>
<rect class="m" x="355" y="683.9" width="13.5" height="8.8" fill="url(#g3)"/>
<rect class="m" x="370.5" y="683.9" width="6.2" height="8.8" fill="url(#g9)"/>
<rect class="m" x="381" y="683.9" width="5" height="8.8" fill="url(#g0)"/>
<rect class="m" x="388" y="683.9" width="3.7" height="8.8" fill="url(#g21)"/>
<path d="M300 702.3H395" stroke="#888" stroke-width="1"/>
<rect class="m" x="300.8" y="697.9" width="5" height="8.8" fill="url(#g5)"/>
<rect class="m" x="306" y="697.9" width="3.5" height="8.8" fill="url(#g11)"/>
<rect class="m" x="311.3" y="697.9" width="13.5" height="8.8" fill="url(#g7)"/>
<rect class="m" x="326.7" y="697.9" width="10.5" height="8.8" fill="url(#g15)"/>
<rect class="m" x="340.3" y="697.9" width="4.2" height="8.8" fill="url(#g8)"/>
<rect class="m" x="347.2" y="697.9" width="7.8" height="8.8" fill="url(#g12)"/>
<rect class="m" x="355" y="697.9" width="13.5" height="8.8" fill="url(#g3)"/>
<rect class="m" x="370.5" y="697.9" width="6.2" height="8.8" fill="url(#g9)"/>
<rect class="m" x="381" y="697.9" width="5" height="8.8" fill="url(#g0)"/>
<rect class="m" x="388" y="697.9" width="3.7" height="8.8" fill="url(#g21)"/>
<path d="M300 716.3H393" stroke="#888" stroke-width="1"/>
<rect class="m" x="301.3" y="711.9" width="5" height="8.8" fill="url(#g5)"/>
<rect class="m" x="306.5" y="711.9" width="3.5" height="8.8" fill="url(#g11)"/>
<rect class="m" x="311.8" y="711.9" width="13.5" height="8.8" fill="url(#g7)"/>
<rect class="m" x="327.2" y="711.9" width="10.5" height="8.8" fill="url(#g15)"/>
<rect class="m" x="340.8" y="711.9" width="4.2" height="8.8" fill="url(#g8)"/>
<rect class="m" x="347.7" y="711.9" width="7.8" height="8.8" fill="url(#g12)"/>
<rect class="m" x="355.5" y="711.9" width="13.5" height="8.8" fill="url(#g3)"/>
<rect class="m" x="371" y="711.9" width="6.2" height="8.8" fill="url(#g9)"/>
<rect class="m" x="381.5" y="711.9" width="5" height="8.8" fill="url(#g0)"/>
<rect class="m" x="388.5" y="711.9" width="3.7" height="8.8" fill="url(#g21)"/>
<path d="M300 730.3H395" stroke="#888" stroke-width="1"/>
<rect class="m" x="301.8" y="725.9" width="5" height="8.8" fill="url(#g5)"/>
<rect class="m" x="307" y="725.9" width="3.5" height="8.8" fill="url(#g11)"/>
<rect class="m" x="312.3" y="725.9" width="13.5" height="8.8" fill="url(#g7)"/>
<rect class="m" x="327.7" y="725.9" width="10.5" height="8.8" fill="url(#g15)"/>
<rect class="m" x="341.3" y="725.9" width="4.2" height="8.8" fill="url(#g8)"/>
<rect class="m" x="348.2" y="725.9" width="7.8" height="8.8" fill="url(#g12)"/>
<rect class="m" x="356" y="725.9" width="13.5" height="8.8" fill="url(#g3)"/>
<rect class="m" x="371.5" y="725.9" width="6.2" height="8.8" fill="url(#g9)"/>
<rect class="m" x="382" y="725.9" width="5" height="8.8" fill="url(#g0)"/>
<rect class="m" x="389" y="725.9" width="3.7" height="8.8" fill="url(#g21)"/>
<path d="M300 744.3H395" stroke="#888" stroke-width="1"/>
<rect class="m" x="300.8" y="739.9" width="5" height="8.8" fill="url(#g5)"/>
<rect class="m" x="306" y="739.9" width="3.5" height="8.8" fill="url(#g11)"/>
<rect class="m" x="311.3" y="739.9" width="13.5" height="8.8" fill="url(#g7)"/>
<rect class="m" x="326.7" y="739.9" width="10.5" height="8.8" fill="url(#g15)"/>
<rect class="m" x="340.3" y="739.9" width="4.2" height="8.8" fill="url(#g8)"/>
<rect class="m" x="347.2" y="739.9" width="7.8" height="8.8" fill="url(#g12)"/>
<rect class="m" x="355" y="739.9" width="13.5" height="8.8" fill="url(#g3)"/>
<rect class="m" x="370.5" y="739.9" width="6.2" height="8.8" fill="url(#g9)"/>
<rect class="m" x="381" y="739.9" width="5" height="8.8" fill="url(#g0)"/>
<rect class="m" x="388" y="739.9" width="3.7" height="8.8" fill="url(#g21)"/>
<path d="M300 758.3H395" stroke="#888" stroke-width="1"/>
<rect class="m" x="301.3" y="753.9" width="5" height="8.8" fill="url(#g5)"/>
<rect class="m" x="306.5" y="753.9" width="3.5" height="8.8" fill="url(#g11)"/>
<rect class="m" x="311.8" y="753.9" width="13.5" height="8.8" fill="url(#g7)"/>
<rect class="m" x="327.2" y="753.9" width="10.5" height="8.8" fill="url(#g15)"/>
<rect class="m" x="340.8" y="753.9" width="4.2" height="8.8" fill="url(#g8)"/>
<rect class="m" x="347.7" y="753.9" width="7.8" height="8.8" fill="url(#g12)"/>
<rect class="m" x="355.5" y="753.9" width="13.5" height="8.8" fill="url(#g3)"/>
<rect class="m" x="371" y="753.9" width="6.2" height="8.8" fill="url(#g9)"/>
<rect class="m" x="381.5" y="753.9" width="5" height="8.8" fill="url(#g0)"/>
<rect class="m" x="388.5" y="753.9" width="3.7" height="8.8" fill="url(#g21)"/>
<path d="M300 772.3H397" stroke="#888" stroke-width="1"/>
<rect class="m" x="300.8" y="767.9" width="5" height="8.8" fill="url(#g5)"/>
<rect class="m" x="306" y="767.9" width="3.5" height="8.8" fill="url(#g11)"/>
<rect class="m" x="311.3" y="767.9" width="13.5" height="8.8" fill="url(#g7)"/>
<rect class="m" x="326.7" y="767.9" width="10.5" height="8.8" fill="url(#g15)"/>
<rect class="m" x="340.3" y="767.9" width="4.2" height="8.8" fill="url(#g8)"/>
<rect class="m" x="347.2" y="767.9" width="7.8" height="8.8" fill="url(#g12)"/>
<rect class="m" x="355" y="767.9" width="13.5" height="8.8" fill="url(#g3)"/>
<rect class="m" x="370.5" y="767.9" width="6.2" height="8.8" fill="url(#g9)"/>
<rect class="m" x="381" y="767.9" width="5" height="8.8" fill="url(#g0)"/>
<rect class="m" x="388" y="767.9" width="3.7" height="8.8" fill="url(#g21)"/>
<path d="M299.3 786.3H403.6" stroke="#888" stroke-width="1"/>
<rect class="m" x="302.5" y="781.9" width="5.5" height="8.8" fill="url(#g5)"/>
<rect class="m" x="308" y="781.9" width="4" height="8.8" fill="url(#g11)"/>
<rect class="m" x="313" y="781.9" width="12" height="8.8" fill="url(#g7)"/>
<rect class="m" x="328" y="781.9" width="11" height="8.8" fill="url(#g15)"/>
<rect class="m" x="342" y="781.9" width="4" height="8.8" fill="url(#g8)"/>
<rect class="m" x="348.6" y="781.9" width="7.4" height="8.8" fill="url(#g12)"/>
<rect class="m" x="358" y="781.9" width="12" height="8.8" fill="url(#g3)"/>
<rect class="m" x="373" y="781.9" width="5" height="8.8" fill="url(#g9)"/>
<rect class="m" x="383" y="781.9" width="5" height="8.8" fill="url(#g0)"/>
<rect class="m" x="391" y="781.9" width="4" height="8.8" fill="url(#g21)"/>
<path d="M299.3 800.3H403" stroke="#888" stroke-width="1"/>
<rect class="m" x="302.5" y="795.9" width="5.5" height="8.8" fill="url(#g5)"/>
<rect class="m" x="308" y="795.9" width="4" height="8.8" fill="url(#g11)"/>
<rect class="m" x="313" y="795.9" width="12" height="8.8" fill="url(#g7)"/>
<rect class="m" x="328" y="795.9" width="11" height="8.8" fill="url(#g15)"/>
<rect class="m" x="342" y="795.9" width="4" height="8.8" fill="url(#g8)"/>
<rect class="m" x="348.6" y="795.9" width="7.4" height="8.8" fill="url(#g12)"/>
<rect class="m" x="358" y="795.9" width="12" height="8.8" fill="url(#g3)"/>
<rect class="m" x="373" y="795.9" width="5" height="8.8" fill="url(#g9)"/>
<rect class="m" x="383" y="795.9" width="5" height="8.8" fill="url(#g0)"/>
<rect class="m" x="391" y="795.9" width="4" height="8.8" fill="url(#g21)"/>
<path d="M299.3 814.3H403" stroke="#888" stroke-width="1"/>
<rect class="m" x="302.5" y="809.9" width="5.5" height="8.8" fill="url(#g5)"/>
<rect class="m" x="308" y="809.9" width="4" height="8.8" fill="url(#g11)"/>
<rect class="m" x="313" y="809.9" width="12" height="8.8" fill="url(#g7)"/>
<rect class="m" x="328" y="809.9" width="11" height="8.8" fill="url(#g15)"/>
<rect class="m" x="342" y="809.9" width="4" height="8.8" fill="url(#g8)"/>
<rect class="m" x="348.6" y="809.9" width="7.4" height="8.8" fill="url(#g12)"/>
<rect class="m" x="358" y="809.9" width="12" height="8.8" fill="url(#g3)"/>
<rect class="m" x="373" y="809.9" width="5" height="8.8" fill="url(#g9)"/>
<rect class="m" x="383" y="809.9" width="5" height="8.8" fill="url(#g0)"/>
<rect class="m" x="391" y="809.9" width="4" height="8.8" fill="url(#g21)"/>
<path d="M299.3 828.3H399" stroke="#888" stroke-width="1"/>
<rect class="m" x="301.5" y="823.9" width="5.5" height="8.8" fill="url(#g5)"/>
<rect class="m" x="307" y="823.9" width="4" height="8.8" fill="url(#g11)"/>
<rect class="m" x="312" y="823.9" width="12" height="8.8" fill="url(#g7)"/>
<rect class="m" x="327" y="823.9" width="11" height="8.8" fill="url(#g15)"/>
<rect class="m" x="341" y="823.9" width="4" height="8.8" fill="url(#g8)"/>
<rect class="m" x="347.6" y="823.9" width="7.4" height="8.8" fill="url(#g12)"/>
<rect class="m" x="357" y="823.9" width="12" height="8.8" fill="url(#g3)"/>
<rect class="m" x="372" y="823.9" width="5" height="8.8" fill="url(#g9)"/>
<rect class="m" x="382" y="823.9" width="5" height="8.8" fill="url(#g0)"/>
<rect class="m" x="390" y="823.9" width="4" height="8.8" fill="url(#g21)"/>
<path d="M299.3 842.3H401" stroke="#888" stroke-width="1"/>
<rect class="m" x="301.5" y="837.9" width="5.5" height="8.8" fill="url(#g5)"/>
<rect class="m" x="307" y="837.9" width="4" height="8.8" fill="url(#g11)"/>
<rect class="m" x="312" y="837.9" width="12" height="8.8" fill="url(#g7)"/>
<rect class="m" x="327" y="837.9" width="11" height="8.8" fill="url(#g15)"/>
<rect class="m" x="341" y="837.9" width="4" height="8.8" fill="url(#g8)"/>
<rect class="m" x="347.6" y="837.9" width="7.4" height="8.8" fill="url(#g12)"/>
<rect class="m" x="357" y="837.9" width="12" height="8.8" fill="url(#g3)"/>
<rect class="m" x="372" y="837.9" width="5" height="8.8" fill="url(#g9)"/>
<rect class="m" x="382" y="837.9" width="5" height="8.8" fill="url(#g0)"/>
<rect class="m" x="390" y="837.9" width="4" height="8.8" fill="url(#g21)"/>
<path d="M299.3 856.3H403" stroke="#888" stroke-width="1"/>
<rect class="m" x="301.5" y="851.9" width="5.5" height="8.8" fill="url(#g5)"/>
<rect class="m" x="307" y="851.9" width="4" height="8.8" fill="url(#g11)"/>
<rect class="m" x="312" y="851.9" width="12" height="8.8" fill="url(#g7)"/>
<rect class="m" x="327" y="851.9" width="11" height="8.8" fill="url(#g15)"/>
<rect class="m" x="341" y="851.9" width="4" height="8.8" fill="url(#g8)"/>
<rect class="m" x="347.6" y="851.9" width="7.4" height="8.8" fill="url(#g12)"/>
<rect class="m" x="357" y="851.9" width="12" height="8.8" fill="url(#g3)"/>
<rect class="m" x="372" y="851.9" width="5" height="8.8" fill="url(#g9)"/>
<rect class="m" x="382" y="851.9" width="5" height="8.8" fill="url(#g0)"/>
<rect class="m" x="390" y="851.9" width="4" height="8.8" fill="url(#g21)"/>
<path d="M299.5 870.3H384" stroke="#888" stroke-width="1"/>
<rect class="m" x="300" y="865.9" width="4.5" height="8.8" fill="url(#g5)"/>
<rect class="m" x="305.4" y="865.9" width="1.8" height="8.8" fill="url(#g19)"/>
<rect class="m" x="308.1" y="865.9" width="11.7" height="8.8" fill="url(#g7)"/>
<rect class="m" x="322.5" y="865.9" width="10.8" height="8.8" fill="url(#g15)"/>
<rect class="m" x="333.8" y="865.9" width="5.9" height="8.8" fill="url(#g8)"/>
<rect class="m" x="342.3" y="865.9" width="6.3" height="8.8" fill="url(#g12)"/>
<rect class="m" x="351.3" y="865.9" width="9.9" height="8.8" fill="url(#g3)"/>
<rect class="m" x="363.9" y="865.9" width="5.4" height="8.8" fill="url(#g9)"/>
<rect class="m" x="369.3" y="865.9" width="2.7" height="8.8" fill="url(#g14)"/>
<rect class="m" x="372" y="865.9" width="3.6" height="8.8" fill="url(#g0)"/>
<path d="M299.5 884.3H389" stroke="#888" stroke-width="1"/>
<rect class="m" x="300" y="879.9" width="5" height="8.8" fill="url(#g5)"/>
<rect class="m" x="306" y="879.9" width="2" height="8.8" fill="url(#g19)"/>
<rect class="m" x="309" y="879.9" width="13" height="8.8" fill="url(#g7)"/>
<rect class="m" x="325" y="879.9" width="12" height="8.8" fill="url(#g15)"/>
<rect class="m" x="337.5" y="879.9" width="6.5" height="8.8" fill="url(#g8)"/>
<rect class="m" x="347" y="879.9" width="7" height="8.8" fill="url(#g12)"/>
<rect class="m" x="357" y="879.9" width="11" height="8.8" fill="url(#g3)"/>
<rect class="m" x="371" y="879.9" width="6" height="8.8" fill="url(#g9)"/>
<rect class="m" x="377" y="879.9" width="3" height="8.8" fill="url(#g14)"/>
<rect class="m" x="380" y="879.9" width="4" height="8.8" fill="url(#g0)"/>
<path d="M299.5 898.3H387" stroke="#888" stroke-width="1"/>
<rect class="m" x="300" y="893.9" width="4.8" height="8.8" fill="url(#g5)"/>
<rect class="m" x="305.7" y="893.9" width="1.9" height="8.8" fill="url(#g19)"/>
<rect class="m" x="308.6" y="893.9" width="12.3" height="8.8" fill="url(#g7)"/>
<rect class="m" x="323.8" y="893.9" width="11.4" height="8.8" fill="url(#g15)"/>
<rect class="m" x="335.6" y="893.9" width="6.2" height="8.8" fill="url(#g8)"/>
<rect class="m" x="344.6" y="893.9" width="6.7" height="8.8" fill="url(#g12)"/>
<rect class="m" x="354.1" y="893.9" width="10.5" height="8.8" fill="url(#g3)"/>
<rect class="m" x="367.4" y="893.9" width="5.7" height="8.8" fill="url(#g9)"/>
<rect class="m" x="373.1" y="893.9" width="2.9" height="8.8" fill="url(#g14)"/>
<rect class="m" x="376" y="893.9" width="3.8" height="8.8" fill="url(#g0)"/>
<path d="M299.5 912.3H386" stroke="#888" stroke-width="1"/>
<rect class="m" x="300" y="907.9" width="4.8" height="8.8" fill="url(#g5)"/>
<rect class="m" x="305.7" y="907.9" width="1.9" height="8.8" fill="url(#g19)"/>
<rect class="m" x="308.6" y="907.9" width="12.3" height="8.8" fill="url(#g7)"/>
<rect class="m" x="323.8" y="907.9" width="11.4" height="8.8" fill="url(#g15)"/>
<rect class="m" x="335.6" y="907.9" width="6.2" height="8.8" fill="url(#g8)"/>
<rect class="m" x="344.6" y="907.9" width="6.7" height="8.8" fill="url(#g12)"/>
<rect class="m" x="354.1" y="907.9" width="10.5" height="8.8" fill="url(#g3)"/>
<rect class="m" x="367.4" y="907.9" width="5.7" height="8.8" fill="url(#g9)"/>
<rect class="m" x="373.1" y="907.9" width="2.9" height="8.8" fill="url(#g14)"/>
<rect class="m" x="376" y="907.9" width="3.8" height="8.8" fill="url(#g0)"/>
<path d="M299.5 926.3H392" stroke="#888" stroke-width="1"/>
<rect class="m" x="300" y="921.9" width="5" height="8.8" fill="url(#g5)"/>
<rect class="m" x="306" y="921.9" width="2" height="8.8" fill="url(#g19)"/>
<rect class="m" x="309" y="921.9" width="13" height="8.8" fill="url(#g7)"/>
<rect class="m" x="325" y="921.9" width="12" height="8.8" fill="url(#g15)"/>
<rect class="m" x="337.5" y="921.9" width="6.5" height="8.8" fill="url(#g8)"/>
<rect class="m" x="347" y="921.9" width="7" height="8.8" fill="url(#g12)"/>
<rect class="m" x="357" y="921.9" width="11" height="8.8" fill="url(#g3)"/>
<rect class="m" x="371" y="921.9" width="6" height="8.8" fill="url(#g9)"/>
<rect class="m" x="377" y="921.9" width="3" height="8.8" fill="url(#g14)"/>
<rect class="m" x="380" y="921.9" width="4" height="8.8" fill="url(#g0)"/>
<path d="M299.5 940.3H392" stroke="#888" stroke-width="1"/>
<rect class="m" x="300" y="935.9" width="5" height="8.8" fill="url(#g5)"/>
<rect class="m" x="306" y="935.9" width="2" height="8.8" fill="url(#g19)"/>
<rect class="m" x="309" y="935.9" width="13" height="8.8" fill="url(#g7)"/>
<rect class="m" x="325" y="935.9" width="12" height="8.8" fill="url(#g15)"/>
<rect class="m" x="337.5" y="935.9" width="6.5" height="8.8" fill="url(#g8)"/>
<rect class="m" x="347" y="935.9" width="7" height="8.8" fill="url(#g12)"/>
<rect class="m" x="357" y="935.9" width="11" height="8.8" fill="url(#g3)"/>
<rect class="m" x="371" y="935.9" width="6" height="8.8" fill="url(#g9)"/>
<rect class="m" x="377" y="935.9" width="3" height="8.8" fill="url(#g14)"/>
<rect class="m" x="380" y="935.9" width="4" height="8.8" fill="url(#g0)"/>
<path d="M299.5 954.3H395" stroke="#888" stroke-width="1"/>
<rect class="m" x="300" y="949.9" width="4.8" height="8.8" fill="url(#g5)"/>
<rect class="m" x="305.7" y="949.9" width="1.9" height="8.8" fill="url(#g19)"/>
<rect class="m" x="308.6" y="949.9" width="12.3" height="8.8" fill="url(#g7)"/>
<rect class="m" x="323.8" y="949.9" width="11.4" height="8.8" fill="url(#g15)"/>
<rect class="m" x="335.6" y="949.9" width="6.2" height="8.8" fill="url(#g8)"/>
<rect class="m" x="344.6" y="949.9" width="6.7" height="8.8" fill="url(#g12)"/>
<rect class="m" x="354.1" y="949.9" width="10.5" height="8.8" fill="url(#g3)"/>
<rect class="m" x="367.4" y="949.9" width="5.7" height="8.8" fill="url(#g9)"/>
<rect class="m" x="373.1" y="949.9" width="2.9" height="8.8" fill="url(#g14)"/>
<rect class="m" x="376" y="949.9" width="3.8" height="8.8" fill="url(#g0)"/>
<path d="M299.5 968.3H391" stroke="#888" stroke-width="1"/>
<rect class="m" x="300" y="963.9" width="5" height="8.8" fill="url(#g5)"/>
<rect class="m" x="306" y="963.9" width="2" height="8.8" fill="url(#g19)"/>
<rect class="m" x="309" y="963.9" width="13" height="8.8" fill="url(#g7)"/>
<rect class="m" x="325" y="963.9" width="12" height="8.8" fill="url(#g15)"/>
<rect class="m" x="337.5" y="963.9" width="6.5" height="8.8" fill="url(#g8)"/>
<rect class="m" x="347" y="963.9" width="7" height="8.8" fill="url(#g12)"/>
<rect class="m" x="357" y="963.9" width="11" height="8.8" fill="url(#g3)"/>
<rect class="m" x="371" y="963.9" width="6" height="8.8" fill="url(#g9)"/>
<rect class="m" x="377" y="963.9" width="3" height="8.8" fill="url(#g14)"/>
<rect class="m" x="380" y="963.9" width="4" height="8.8" fill="url(#g0)"/>
<path d="M299.5 982.3H390" stroke="#888" stroke-width="1"/>
<rect class="m" x="300" y="977.9" width="5" height="8.8" fill="url(#g5)"/>
<rect class="m" x="306" y="977.9" width="2" height="8.8" fill="url(#g19)"/>
<rect class="m" x="309" y="977.9" width="13" height="8.8" fill="url(#g7)"/>
<rect class="m" x="325" y="977.9" width="12" height="8.8" fill="url(#g15)"/>
<rect class="m" x="337.5" y="977.9" width="6.5" height="8.8" fill="url(#g8)"/>
<rect class="m" x="347" y="977.9" width="7" height="8.8" fill="url(#g12)"/>
<rect class="m" x="357" y="977.9" width="11" height="8.8" fill="url(#g3)"/>
<rect class="m" x="371" y="977.9" width="6" height="8.8" fill="url(#g9)"/>
<rect class="m" x="377" y="977.9" width="3" height="8.8" fill="url(#g14)"/>
<rect class="m" x="380" y="977.9" width="4" height="8.8" fill="url(#g0)"/>
<path d="M299.5 996.3H397" stroke="#888" stroke-width="1"/>
<rect class="m" x="300" y="991.9" width="5" height="8.8" fill="url(#g5)"/>
<rect class="m" x="306" y="991.9" width="2" height="8.8" fill="url(#g19)"/>
<rect class="m" x="309" y="991.9" width="13" height="8.8" fill="url(#g7)"/>
<rect class="m" x="325" y="991.9" width="12" height="8.8" fill="url(#g15)"/>
<rect class="m" x="337.5" y="991.9" width="6.5" height="8.8" fill="url(#g8)"/>
<rect class="m" x="347" y="991.9" width="7" height="8.8" fill="url(#g12)"/>
<rect class="m" x="357" y="991.9" width="11" height="8.8" fill="url(#g3)"/>
<rect class="m" x="371" y="991.9" width="6" height="8.8" fill="url(#g9)"/>
<rect class="m" x="377" y="991.9" width="3" height="8.8" fill="url(#g14)"/>
<rect class="m" x="380" y="991.9" width="4" height="8.8" fill="url(#g0)"/>
<path d="M443.5 576.3H459" stroke="#666" stroke-width="1.3"/>
<rect x="443.5" y="571.9" width="14.3" height="8.8" fill="#fdcb03" rx="2"/>
<path d="M457.8 576.3H563" stroke="#666" stroke-width="1.3"/>
<rect x="459" y="571.9" width="100.6" height="8.8" fill="#73b33d" rx="2"/>
<path d="M443.5 590.4H547" stroke="#666" stroke-width="1.3"/>
<rect x="443.5" y="586" width="102" height="8.8" fill="#73b33d" rx="2"/>
<path d="M443.5 604.5H459" stroke="#666" stroke-width="1.3"/>
<rect x="443.5" y="600.1" width="14.3" height="8.8" fill="#fdcb03" rx="2"/>
<path d="M457.8 604.5H564" stroke="#666" stroke-width="1.3"/>
<rect x="459" y="600.1" width="101" height="8.8" fill="#73b33d" rx="2"/>
<path d="M443 618.7H575" stroke="#555" stroke-width="1.3"/>
<rect x="449" y="614.3" width="8" height="8.8" fill="#ef5b82" rx="2"/>
<rect x="471.5" y="614.3" width="100.5" height="8.8" fill="#73b33d" rx="2"/>
<path d="M443.5 632.8H549" stroke="#666" stroke-width="1.3"/>
<rect x="443.5" y="628.4" width="102.4" height="8.8" fill="#73b33d" rx="2"/>
<path d="M443.5 646.9H551" stroke="#666" stroke-width="1.3"/>
<rect x="443.5" y="642.5" width="103.3" height="8.8" fill="#73b33d" rx="2"/>
<path d="M443.5 661H546" stroke="#666" stroke-width="1.3"/>
<rect x="443.5" y="656.6" width="101.5" height="8.8" fill="#73b33d" rx="2"/>
<path d="M443.5 675.1H552" stroke="#666" stroke-width="1.3"/>
<rect x="443.5" y="670.7" width="104.5" height="8.8" fill="#73b33d" rx="2"/>
<path d="M443.5 689.3H551" stroke="#666" stroke-width="1.3"/>
<rect x="443.5" y="684.9" width="101.5" height="8.8" fill="#73b33d" rx="2"/>
<path d="M443.5 703.4H550" stroke="#666" stroke-width="1.3"/>
<rect x="443.5" y="699" width="105.5" height="8.8" fill="#73b33d" rx="2"/>
<path d="M443.5 717.5H554" stroke="#666" stroke-width="1.3"/>
<rect x="443.5" y="713.1" width="104.5" height="8.8" fill="#73b33d" rx="2"/>
<path d="M443.5 731.6H554" stroke="#666" stroke-width="1.3"/>
<rect x="443.5" y="727.2" width="104.5" height="8.8" fill="#73b33d" rx="2"/>
<path d="M443.5 745.7H550" stroke="#666" stroke-width="1.3"/>
<rect x="443.5" y="741.3" width="105.5" height="8.8" fill="#73b33d" rx="2"/>
<path d="M443.5 759.9H552" stroke="#666" stroke-width="1.3"/>
<rect x="443.5" y="755.5" width="105.5" height="8.8" fill="#73b33d" rx="2"/>
<path d="M443.5 774H551" stroke="#666" stroke-width="1.3"/>
<rect x="443.5" y="769.6" width="105.5" height="8.8" fill="#73b33d" rx="2"/>
<path d="M443.5 788.1H560.5" stroke="#666" stroke-width="1.3"/>
<rect x="446" y="783.7" width="106" height="8.8" fill="#73b33d" rx="2"/>
<path d="M443.5 802.2H560.5" stroke="#666" stroke-width="1.3"/>
<rect x="446" y="797.8" width="106" height="8.8" fill="#73b33d" rx="2"/>
<path d="M443.5 816.3H558.7" stroke="#666" stroke-width="1.3"/>
<rect x="446" y="811.9" width="106" height="8.8" fill="#73b33d" rx="2"/>
<path d="M443.5 830.5H554" stroke="#666" stroke-width="1.3"/>
<rect x="446" y="826.1" width="104.5" height="8.8" fill="#73b33d" rx="2"/>
<path d="M443.5 844.6H557" stroke="#666" stroke-width="1.3"/>
<rect x="446" y="840.2" width="103.5" height="8.8" fill="#73b33d" rx="2"/>
<path d="M443.5 858.7H558.7" stroke="#666" stroke-width="1.3"/>
<rect x="446" y="854.3" width="102" height="8.8" fill="#73b33d" rx="2"/>
<path d="M443.5 872.8H538" stroke="#666" stroke-width="1.3"/>
<rect x="443.6" y="868.4" width="92.2" height="8.8" fill="#00837b" rx="2"/>
<path d="M443.5 886.9H546" stroke="#666" stroke-width="1.3"/>
<rect x="443.8" y="882.5" width="101.2" height="8.8" fill="#73b33d" rx="2"/>
<path d="M443.5 901.1H542" stroke="#666" stroke-width="1.3"/>
<rect x="443.8" y="896.7" width="97.5" height="8.8" fill="#73b33d" rx="2"/>
<path d="M443.5 915.2H541" stroke="#666" stroke-width="1.3"/>
<rect x="443.8" y="910.8" width="96.6" height="8.8" fill="#73b33d" rx="2"/>
<path d="M443.5 929.3H547" stroke="#666" stroke-width="1.3"/>
<rect x="443.8" y="924.9" width="102.2" height="8.8" fill="#73b33d" rx="2"/>
<path d="M443.5 943.4H546" stroke="#666" stroke-width="1.3"/>
<rect x="443.8" y="939" width="101.2" height="8.8" fill="#73b33d" rx="2"/>
<path d="M443.5 957.5H552" stroke="#666" stroke-width="1.3"/>
<rect x="443.8" y="953.1" width="89.2" height="8.8" fill="#73b33d" rx="2"/>
<path d="M443.5 971.7H547" stroke="#666" stroke-width="1.3"/>
<rect x="443.8" y="967.3" width="102.2" height="8.8" fill="#73b33d" rx="2"/>
<path d="M443.5 985.8H545" stroke="#666" stroke-width="1.3"/>
<rect x="443.8" y="981.4" width="99.8" height="8.8" fill="#73b33d" rx="2"/>
<path d="M443.5 999.9H552.8" stroke="#666" stroke-width="1.3"/>
<rect x="443.8" y="995.5" width="96.6" height="8.8" fill="#73b33d" rx="2"/>
<path d="M299.7 1011.3H431.7" stroke="#666" stroke-width="0.8"/>
<path d="M299.7 1011.3V1013.8" stroke="#666" stroke-width="0.8"/>
<text x="299.7" y="1019.3" font-size="5" fill="#333" text-anchor="middle">0</text>
<path d="M321.7 1011.3V1013.8" stroke="#666" stroke-width="0.8"/>
<text x="321.7" y="1019.3" font-size="5" fill="#333" text-anchor="middle">100</text>
<path d="M343.7 1011.3V1013.8" stroke="#666" stroke-width="0.8"/>
<text x="343.7" y="1019.3" font-size="5" fill="#333" text-anchor="middle">200</text>
<path d="M365.7 1011.3V1013.8" stroke="#666" stroke-width="0.8"/>
<text x="365.7" y="1019.3" font-size="5" fill="#333" text-anchor="middle">300</text>
<path d="M387.7 1011.3V1013.8" stroke="#666" stroke-width="0.8"/>
<text x="387.7" y="1019.3" font-size="5" fill="#333" text-anchor="middle">400</text>
<path d="M409.7 1011.3V1013.8" stroke="#666" stroke-width="0.8"/>
<text x="409.7" y="1019.3" font-size="5" fill="#333" text-anchor="middle">500</text>
<path d="M431.7 1011.3V1013.8" stroke="#666" stroke-width="0.8"/>
<text x="431.7" y="1019.3" font-size="5" fill="#333" text-anchor="middle">600</text>
<text x="298.7" y="1010.3" font-size="5" fill="#333" text-anchor="end">5'</text>
<text x="432.7" y="1010.3" font-size="5" fill="#333">3'</text>
<path d="M443.8 1011.3H578.3" stroke="#666" stroke-width="0.8"/>
<path d="M443.8 1011.3V1013.8" stroke="#666" stroke-width="0.8"/>
<text x="443.8" y="1019.3" font-size="5" fill="#333" text-anchor="middle">0</text>
<path d="M470.7 1011.3V1013.8" stroke="#666" stroke-width="0.8"/>
<text x="470.7" y="1019.3" font-size="5" fill="#333" text-anchor="middle">100</text>
<path d="M497.6 1011.3V1013.8" stroke="#666" stroke-width="0.8"/>
<text x="497.6" y="1019.3" font-size="5" fill="#333" text-anchor="middle">200</text>
<path d="M524.5 1011.3V1013.8" stroke="#666" stroke-width="0.8"/>
<text x="524.5" y="1019.3" font-size="5" fill="#333" text-anchor="middle">300</text>
<path d="M551.4 1011.3V1013.8" stroke="#666" stroke-width="0.8"/>
<text x="551.4" y="1019.3" font-size="5" fill="#333" text-anchor="middle">400</text>
<path d="M578.3 1011.3V1013.8" stroke="#666" stroke-width="0.8"/>
<text x="578.3" y="1019.3" font-size="5" fill="#333" text-anchor="middle">500</text>
<text x="442.8" y="1010.3" font-size="5" fill="#333" text-anchor="end">5'</text>
<text x="579.3" y="1010.3" font-size="5" fill="#333">3'</text>
<rect class="m" x="585.3" y="573.8" width="16.7" height="6.5" fill="url(#g20)" stroke="#ddd"/>
<text x="604.2" y="579" font-size="5.5" fill="#555">Motif 14</text>
<rect class="m" x="585.3" y="582.7" width="16.7" height="6.5" fill="url(#g5)" stroke="#ddd"/>
<text x="604.2" y="588" font-size="5.5" fill="#555">Motif 5</text>
<rect class="m" x="585.3" y="591.7" width="16.7" height="6.5" fill="url(#g11)" stroke="#ddd"/>
<text x="604.2" y="596.9" font-size="5.5" fill="#555">Motif 6</text>
<rect class="m" x="585.3" y="600.6" width="16.7" height="6.5" fill="url(#g7)" stroke="#ddd"/>
<text x="604.2" y="605.9" font-size="5.5" fill="#555">Motif 2</text>
<rect class="m" x="585.3" y="609.6" width="16.7" height="6.5" fill="url(#g2)" stroke="#ddd"/>
<text x="604.2" y="614.8" font-size="5.5" fill="#555">Motif 10</text>
<rect class="m" x="585.3" y="618.5" width="16.7" height="6.5" fill="url(#g15)" stroke="#ddd"/>
<text x="604.2" y="623.8" font-size="5.5" fill="#555">Motif 3</text>
<rect class="m" x="585.3" y="627.5" width="16.7" height="6.5" fill="url(#g8)" stroke="#ddd"/>
<text x="604.2" y="632.8" font-size="5.5" fill="#555">Motif 7</text>
<rect class="m" x="585.3" y="636.5" width="16.7" height="6.5" fill="url(#g12)" stroke="#ddd"/>
<text x="604.2" y="641.7" font-size="5.5" fill="#555">Motif 4</text>
<rect class="m" x="585.3" y="645.4" width="16.7" height="6.5" fill="url(#g3)" stroke="#ddd"/>
<text x="604.2" y="650.7" font-size="5.5" fill="#555">Motif 1</text>
<rect class="m" x="585.3" y="654.4" width="16.7" height="6.5" fill="url(#g9)" stroke="#ddd"/>
<text x="604.2" y="659.6" font-size="5.5" fill="#555">Motif 9</text>
<rect class="m" x="585.3" y="663.4" width="16.7" height="6.5" fill="url(#g0)" stroke="#ddd"/>
<text x="604.2" y="668.6" font-size="5.5" fill="#555">Motif 8</text>
<rect class="m" x="585.3" y="672.3" width="16.7" height="6.5" fill="url(#g21)" stroke="#ddd"/>
<text x="604.2" y="677.6" font-size="5.5" fill="#555">Motif 11</text>
<rect class="m" x="585.3" y="681.3" width="16.7" height="6.5" fill="url(#g19)" stroke="#ddd"/>
<text x="604.2" y="686.5" font-size="5.5" fill="#555">Motif 15</text>
<rect class="m" x="585.3" y="690.2" width="16.7" height="6.5" fill="url(#g13)" stroke="#ddd"/>
<text x="604.2" y="695.5" font-size="5.5" fill="#555">Motif 12</text>
<rect class="m" x="585.3" y="699.2" width="16.7" height="6.5" fill="url(#g14)" stroke="#ddd"/>
<text x="604.2" y="704.4" font-size="5.5" fill="#555">Motif 13</text>
<rect x="585.3" y="708.5" width="16.7" height="7.6" fill="#73b33d" rx="1.5"/>
<text x="604.2" y="714.3" font-size="5.3" fill="#444">PLN03324</text>
<rect x="585.3" y="720" width="16.7" height="7.6" fill="#fdcb03" rx="1.5"/>
<text x="604.2" y="725.8" font-size="5.3" fill="#444">AdoMetDC_leader</text>
<rect x="585.3" y="731.2" width="16.7" height="7.6" fill="#ef5b82" rx="1.5"/>
<text x="604.2" y="737" font-size="5.3" fill="#444">AdoMetDC_leader superfamily</text>
<rect x="585.3" y="742.9" width="16.7" height="7.6" fill="#00837b" rx="1.5"/>
<text x="604.2" y="748.7" font-size="5.3" fill="#444">SAM_decarbox superfamily</text>
<polygon points="592.7,756.3 593.9,759.2 597.1,759.5 594.7,761.5 595.4,764.6 592.7,763 590,764.6 590.7,761.5 588.3,759.5 591.5,759.2" fill="#f00"/>
<text x="602.3" y="763.6" font-size="8.5" font-weight="bold" font-style="italic" textLength="77.8" lengthAdjust="spacingAndGlyphs">Dimocarpus longan</text>
<rect x="588.2" y="772.2" width="9.1" height="9.1" rx="1.2" fill="#fff" stroke="#333" stroke-width="0.9"/>
<text x="602.3" y="779.8" font-size="8.5" font-weight="bold" font-style="italic" textLength="82" lengthAdjust="spacingAndGlyphs">Arabidopsis thaliana</text>
<rect x="587.7" y="787.9" width="10" height="10" fill="#ffff00"/>
<text x="602.3" y="796" font-size="8.5" font-weight="bold" font-style="italic" textLength="49.1" lengthAdjust="spacingAndGlyphs">Oryza sativa</text>
<circle cx="592.7" cy="809.1" r="5" fill="#ff9e0a"/>
<text x="602.3" y="812.2" font-size="8.5" font-weight="bold" font-style="italic" textLength="59.8" lengthAdjust="spacingAndGlyphs">Citrus sinensis</text>
<circle cx="592.7" cy="825.3" r="5" fill="#ff0000"/>
<text x="602.3" y="828.4" font-size="8.5" font-weight="bold" font-style="italic" textLength="67.2" lengthAdjust="spacingAndGlyphs">Malus domestica</text>
<circle cx="592.7" cy="841.5" r="4.5" fill="#fff" stroke="#333" stroke-width="0.9"/>
<text x="602.3" y="844.6" font-size="8.5" font-weight="bold" font-style="italic" textLength="71.4" lengthAdjust="spacingAndGlyphs">Theobroma cacao</text>
<polygon points="592.7,853.7 597.2,861.8 588.2,861.8" fill="#fff" stroke="#333" stroke-width="0.9" stroke-linejoin="miter"/>
<text x="602.3" y="860.8" font-size="8.5" font-weight="bold" font-style="italic" textLength="83.4" lengthAdjust="spacingAndGlyphs">Gossypium hirsutum</text>
<polygon points="592.7,869.4 597.7,878.4 587.7,878.4" fill="#ffff00"/>
<text x="602.3" y="877" font-size="8.5" font-weight="bold" font-style="italic" textLength="80.6" lengthAdjust="spacingAndGlyphs">Solanum tuberosum</text>
<text x="89.6" y="1079.4" font-size="21.5" fill="#111">C</text>
<text x="242.7" y="1072.3" font-size="21" fill="#111" text-anchor="middle">a</text>
<text x="385" y="1072.3" font-size="21" fill="#111" text-anchor="middle">b</text>
<text x="533.7" y="1072.3" font-size="21" fill="#111" text-anchor="middle">c</text>
<text x="73.5" y="1175.4" font-size="17.5" fill="#111" textLength="46" lengthAdjust="spacingAndGlyphs">SPMS</text>
<text x="92.9" y="1339.6" font-size="22.3" fill="#111" font-weight="bold">I</text>
<text x="89.2" y="1472.7" font-size="22.3" fill="#111" font-weight="bold" textLength="13.6" lengthAdjust="spacingAndGlyphs">II</text>
<text x="87.9" y="1533.7" font-size="21.6" fill="#111" font-weight="bold" textLength="17" lengthAdjust="spacingAndGlyphs">III</text>
<rect x="165.2" y="1084" width="159.8" height="173" fill="#b9f1ef"/>
<rect x="165.2" y="1257" width="159.8" height="156" fill="#70ee70"/>
<rect x="165.2" y="1413" width="159.8" height="95.2" fill="#a5f3a3"/>
<rect x="165.2" y="1508.2" width="159.8" height="30.7" fill="#e0f9df"/>
<path d="M160.7 1090H165" stroke="#9a9a9a" stroke-width="1"/>
<path d="M160.7 1105.8H165" stroke="#9a9a9a" stroke-width="1"/>
<path d="M160.7 1090V1105.8" stroke="#9a9a9a" stroke-width="1"/>
<path d="M156.1 1097.9H160.7" stroke="#9a9a9a" stroke-width="1"/>
<path d="M156.1 1121.6H165" stroke="#9a9a9a" stroke-width="1"/>
<path d="M156.1 1097.9V1121.6" stroke="#9a9a9a" stroke-width="1"/>
<path d="M156.1 1137.4H165" stroke="#9a9a9a" stroke-width="1"/>
<path d="M156.1 1153.2H165" stroke="#9a9a9a" stroke-width="1"/>
<path d="M156.1 1137.4V1153.2" stroke="#9a9a9a" stroke-width="1"/>
<path d="M151.4 1109.7H156.1" stroke="#9a9a9a" stroke-width="1"/>
<path d="M151.4 1145.3H156.1" stroke="#9a9a9a" stroke-width="1"/>
<path d="M151.4 1109.7V1145.3" stroke="#9a9a9a" stroke-width="1"/>
<path d="M146.9 1127.5H151.4" stroke="#9a9a9a" stroke-width="1"/>
<path d="M146.9 1169H165" stroke="#9a9a9a" stroke-width="1"/>
<path d="M146.9 1127.5V1169" stroke="#9a9a9a" stroke-width="1"/>
<path d="M142.4 1148.2H146.9" stroke="#9a9a9a" stroke-width="1"/>
<path d="M142.4 1184.7H165" stroke="#9a9a9a" stroke-width="1"/>
<path d="M142.4 1148.2V1184.7" stroke="#9a9a9a" stroke-width="1"/>
<path d="M142.4 1200.5H165" stroke="#9a9a9a" stroke-width="1"/>
<path d="M142.4 1216.3H165" stroke="#9a9a9a" stroke-width="1"/>
<path d="M142.4 1200.5V1216.3" stroke="#9a9a9a" stroke-width="1"/>
<path d="M137.6 1166.5H142.4" stroke="#9a9a9a" stroke-width="1"/>
<path d="M137.6 1208.4H142.4" stroke="#9a9a9a" stroke-width="1"/>
<path d="M137.6 1166.5V1208.4" stroke="#9a9a9a" stroke-width="1"/>
<path d="M137.6 1232.1H165" stroke="#9a9a9a" stroke-width="1"/>
<path d="M137.6 1247.9H165" stroke="#9a9a9a" stroke-width="1"/>
<path d="M137.6 1232.1V1247.9" stroke="#9a9a9a" stroke-width="1"/>
<path d="M132.9 1187.5H137.6" stroke="#9a9a9a" stroke-width="1"/>
<path d="M132.9 1240H137.6" stroke="#9a9a9a" stroke-width="1"/>
<path d="M132.9 1187.5V1240" stroke="#9a9a9a" stroke-width="1"/>
<path d="M137.6 1263.7H165" stroke="#9a9a9a" stroke-width="1"/>
<path d="M137.6 1279.5H165" stroke="#9a9a9a" stroke-width="1"/>
<path d="M137.6 1263.7V1279.5" stroke="#9a9a9a" stroke-width="1"/>
<path d="M146.9 1311.1H165" stroke="#9a9a9a" stroke-width="1"/>
<path d="M146.9 1326.8H165" stroke="#9a9a9a" stroke-width="1"/>
<path d="M146.9 1311.1V1326.8" stroke="#9a9a9a" stroke-width="1"/>
<path d="M151.2 1342.6H165" stroke="#9a9a9a" stroke-width="1"/>
<path d="M151.2 1358.4H165" stroke="#9a9a9a" stroke-width="1"/>
<path d="M151.2 1342.6V1358.4" stroke="#9a9a9a" stroke-width="1"/>
<path d="M156.2 1390H165" stroke="#9a9a9a" stroke-width="1"/>
<path d="M156.2 1405.8H165" stroke="#9a9a9a" stroke-width="1"/>
<path d="M156.2 1390V1405.8" stroke="#9a9a9a" stroke-width="1"/>
<path d="M151.2 1374.2H165" stroke="#9a9a9a" stroke-width="1"/>
<path d="M151.2 1397.9H156.2" stroke="#9a9a9a" stroke-width="1"/>
<path d="M151.2 1374.2V1397.9" stroke="#9a9a9a" stroke-width="1"/>
<path d="M146.6 1350.5H151.2" stroke="#9a9a9a" stroke-width="1"/>
<path d="M146.6 1386.1H151.2" stroke="#9a9a9a" stroke-width="1"/>
<path d="M146.6 1350.5V1386.1" stroke="#9a9a9a" stroke-width="1"/>
<path d="M142.2 1319H146.9" stroke="#9a9a9a" stroke-width="1"/>
<path d="M142.2 1368.3H146.6" stroke="#9a9a9a" stroke-width="1"/>
<path d="M142.2 1319V1368.3" stroke="#9a9a9a" stroke-width="1"/>
<path d="M137.3 1295.3H165" stroke="#9a9a9a" stroke-width="1"/>
<path d="M137.3 1343.6H142.2" stroke="#9a9a9a" stroke-width="1"/>
<path d="M137.3 1295.3V1343.6" stroke="#9a9a9a" stroke-width="1"/>
<path d="M133.2 1271.6H137.6" stroke="#9a9a9a" stroke-width="1"/>
<path d="M133.2 1319.4H137.3" stroke="#9a9a9a" stroke-width="1"/>
<path d="M133.2 1271.6V1319.4" stroke="#9a9a9a" stroke-width="1"/>
<path d="M127.9 1213.7H132.9" stroke="#9a9a9a" stroke-width="1"/>
<path d="M127.9 1295.5H133.2" stroke="#9a9a9a" stroke-width="1"/>
<path d="M127.9 1213.7V1295.5" stroke="#9a9a9a" stroke-width="1"/>
<path d="M142.2 1469H165" stroke="#9a9a9a" stroke-width="1"/>
<path d="M142.2 1484.8H165" stroke="#9a9a9a" stroke-width="1"/>
<path d="M142.2 1469V1484.8" stroke="#9a9a9a" stroke-width="1"/>
<path d="M137.6 1453.2H165" stroke="#9a9a9a" stroke-width="1"/>
<path d="M137.6 1476.9H142.2" stroke="#9a9a9a" stroke-width="1"/>
<path d="M137.6 1453.2V1476.9" stroke="#9a9a9a" stroke-width="1"/>
<path d="M133.2 1437.4H165" stroke="#9a9a9a" stroke-width="1"/>
<path d="M133.2 1465H137.6" stroke="#9a9a9a" stroke-width="1"/>
<path d="M133.2 1437.4V1465" stroke="#9a9a9a" stroke-width="1"/>
<path d="M128.3 1421.6H165" stroke="#9a9a9a" stroke-width="1"/>
<path d="M128.3 1451.2H133.2" stroke="#9a9a9a" stroke-width="1"/>
<path d="M128.3 1421.6V1451.2" stroke="#9a9a9a" stroke-width="1"/>
<path d="M123.3 1254.6H127.9" stroke="#9a9a9a" stroke-width="1"/>
<path d="M123.3 1436.4H128.3" stroke="#9a9a9a" stroke-width="1"/>
<path d="M123.3 1254.6V1436.4" stroke="#9a9a9a" stroke-width="1"/>
<path d="M119.3 1345.5H123.3" stroke="#9a9a9a" stroke-width="1"/>
<path d="M119.3 1500.5H165" stroke="#9a9a9a" stroke-width="1"/>
<path d="M119.3 1345.5V1500.5" stroke="#9a9a9a" stroke-width="1"/>
<path d="M119.3 1516.3H165" stroke="#9a9a9a" stroke-width="1"/>
<path d="M119.3 1532.1H165" stroke="#9a9a9a" stroke-width="1"/>
<path d="M119.3 1516.3V1532.1" stroke="#9a9a9a" stroke-width="1"/>
<path d="M114.3 1423H119.3" stroke="#9a9a9a" stroke-width="1"/>
<path d="M114.3 1524.2H119.3" stroke="#9a9a9a" stroke-width="1"/>
<path d="M114.3 1423V1524.2" stroke="#9a9a9a" stroke-width="1"/>
<path d="M109.7 1473.6H114.3" stroke="#9a9a9a" stroke-width="1"/>
<circle cx="172.9" cy="1091.7" r="4.5" fill="#fff" stroke="#333" stroke-width="1"/>
<text x="185.3" y="1095.4" font-size="10.2" class="t2" letter-spacing="1" word-spacing="-1">XP 007038994 TcSPMS</text>
<polygon points="172.9,1103.4 177.4,1111.4 168.4,1111.4" fill="#fff" stroke="#333" stroke-width="1" stroke-linejoin="miter"/>
<text x="185.3" y="1111.1" font-size="10.2" class="t2" letter-spacing="1" word-spacing="-1">XP 016716509 GhSPMS</text>
<polygon points="172.9,1119.1 177.4,1127.1 168.4,1127.1" fill="#fff" stroke="#333" stroke-width="1" stroke-linejoin="miter"/>
<text x="185.3" y="1126.8" font-size="10.2" class="t2" letter-spacing="1" word-spacing="-1">XP 016691818 GhSPMS</text>
<polygon points="172.9,1134.6 174.1,1137.6 177.3,1137.8 174.9,1139.9 175.6,1143 172.9,1141.3 170.2,1143 170.9,1139.9 168.5,1137.8 171.7,1137.6" fill="#f00"/>
<text x="185.3" y="1142.5" font-size="10.2" class="t2" letter-spacing="1" word-spacing="-1">Dlo019414 DlSPMS</text>
<circle cx="172.9" cy="1154.5" r="5" fill="#ff9e0a"/>
<text x="185.3" y="1158.2" font-size="10.2" class="t2" letter-spacing="1" word-spacing="-1">XM 006490454 CsSPMS</text>
<polygon points="172.9,1165.8 177.9,1174.8 167.9,1174.8" fill="#ffff00"/>
<text x="185.3" y="1173.9" font-size="10.2" class="t2" letter-spacing="1" word-spacing="-1">XP 006350569 StSPMS</text>
<rect x="168.4" y="1181.5" width="9" height="9" rx="1.2" fill="#fff" stroke="#333" stroke-width="1"/>
<text x="185.3" y="1189.6" font-size="10.2" class="t2" letter-spacing="1" word-spacing="-1">AT5G53120 AtSPMS</text>
<circle cx="172.9" cy="1201.7" r="5" fill="#ff0000"/>
<text x="185.3" y="1205.3" font-size="10.2" class="t2" letter-spacing="1" word-spacing="-1">XP 028962045 MdSPMS</text>
<circle cx="172.9" cy="1217.4" r="5" fill="#ff0000"/>
<text x="185.3" y="1221" font-size="10.2" class="t2" letter-spacing="1" word-spacing="-1">XP 028962052 MdSPMS</text>
<rect x="167.9" y="1228.1" width="10" height="10" fill="#ffff00"/>
<text x="185.3" y="1236.7" font-size="10.2" class="t2" letter-spacing="1" word-spacing="-1">XP 015644434 OsSPMS</text>
<rect x="167.9" y="1243.8" width="10" height="10" fill="#ffff00"/>
<text x="185.3" y="1252.5" font-size="10.2" class="t2" letter-spacing="1" word-spacing="-1">XP 015627389 OsSPMS</text>
<rect x="168.4" y="1260" width="9" height="9" rx="1.2" fill="#fff" stroke="#333" stroke-width="1"/>
<text x="185.3" y="1268.2" font-size="10.2" class="t2" letter-spacing="1" word-spacing="-1">AT1G23820 AtSPDS1</text>
<rect x="168.4" y="1275.7" width="9" height="9" rx="1.2" fill="#fff" stroke="#333" stroke-width="1"/>
<text x="185.3" y="1283.9" font-size="10.2" class="t2" letter-spacing="1" word-spacing="-1">AT1G70310 AtSPDS2</text>
<rect x="167.9" y="1290.9" width="10" height="10" fill="#ffff00"/>
<text x="185.3" y="1299.6" font-size="10.2" class="t2" letter-spacing="1" word-spacing="-1">XP 015644580 OsSPDS</text>
<circle cx="172.9" cy="1311.6" r="5" fill="#ff0000"/>
<text x="185.3" y="1315.3" font-size="10.2" class="t2" letter-spacing="1" word-spacing="-1">XP 008340018 MdSPDS2A</text>
<circle cx="172.9" cy="1327.4" r="5" fill="#ff0000"/>
<text x="185.3" y="1331" font-size="10.2" class="t2" letter-spacing="1" word-spacing="-1">XP 008389626 MdSPDS</text>
<polygon points="172.9,1338.9 174.1,1341.8 177.3,1342 174.9,1344.1 175.6,1347.2 172.9,1345.5 170.2,1347.2 170.9,1344.1 168.5,1342 171.7,1341.8" fill="#f00"/>
<text x="185.3" y="1346.7" font-size="10.2" class="t2" letter-spacing="1" word-spacing="-1">Dlo018693 DlSPDS1A</text>
<circle cx="172.9" cy="1358.8" r="5" fill="#ff9e0a"/>
<text x="185.3" y="1362.4" font-size="10.2" class="t2" letter-spacing="1" word-spacing="-1">XM 006483762 CsSPDS</text>
<polygon points="172.9,1370 177.9,1379 167.9,1379" fill="#ffff00"/>
<text x="185.3" y="1378.1" font-size="10.2" class="t2" letter-spacing="1" word-spacing="-1">XP 006340116 StSPDS1</text>
<circle cx="172.9" cy="1390.2" r="4.5" fill="#fff" stroke="#333" stroke-width="1"/>
<text x="185.3" y="1393.8" font-size="10.2" class="t2" letter-spacing="1" word-spacing="-1">XP 017971825 TcSPDS</text>
<polygon points="172.9,1401.9 177.4,1409.9 168.4,1409.9" fill="#fff" stroke="#333" stroke-width="1" stroke-linejoin="miter"/>
<text x="185.3" y="1409.6" font-size="10.2" class="t2" letter-spacing="1" word-spacing="-1">XP 016666128 GhSPDS1</text>
<circle cx="172.9" cy="1421.6" r="5" fill="#ff0000"/>
<text x="185.3" y="1425.3" font-size="10.2" class="t2" letter-spacing="1" word-spacing="-1">XP 028947885 MdSPDS2</text>
<circle cx="172.9" cy="1437.3" r="5" fill="#ff9e0a"/>
<text x="185.3" y="1441" font-size="10.2" class="t2" letter-spacing="1" word-spacing="-1">XM 025099059 CsSPDS</text>
<polygon points="172.9,1448.8 174.1,1451.8 177.3,1452 174.9,1454.1 175.6,1457.2 172.9,1455.5 170.2,1457.2 170.9,1454.1 168.5,1452 171.7,1451.8" fill="#f00"/>
<text x="185.3" y="1456.7" font-size="10.2" class="t2" letter-spacing="1" word-spacing="-1">Dlo032085 DlSPDS1B</text>
<circle cx="172.9" cy="1468.7" r="4.5" fill="#fff" stroke="#333" stroke-width="1"/>
<text x="185.3" y="1472.4" font-size="10.2" class="t2" letter-spacing="1" word-spacing="-1">XP 007036172 TcSPDS2</text>
<polygon points="172.9,1480.5 177.4,1488.5 168.4,1488.5" fill="#fff" stroke="#333" stroke-width="1" stroke-linejoin="miter"/>
<text x="185.3" y="1488.1" font-size="10.2" class="t2" letter-spacing="1" word-spacing="-1">XP 016747645 GhSPDS2</text>
<polygon points="172.9,1495.7 177.9,1504.7 167.9,1504.7" fill="#ffff00"/>
<text x="185.3" y="1503.8" font-size="10.2" class="t2" letter-spacing="1" word-spacing="-1">XP 006350698 StSPDS2</text>
<circle cx="172.9" cy="1515.9" r="5" fill="#ff0000"/>
<text x="185.3" y="1519.5" font-size="10.2" class="t2" letter-spacing="1" word-spacing="-1">XP 008374899 MdSPDS1</text>
<circle cx="172.9" cy="1531.6" r="4.5" fill="#fff" stroke="#333" stroke-width="1"/>
<text x="185.3" y="1535.2" font-size="10.2" class="t2" letter-spacing="1" word-spacing="-1">XP 017973856 TcSPDS1</text>
<path d="M335 1088.5H453" stroke="#888" stroke-width="1"/>
<rect class="m" x="339" y="1083.5" width="15" height="10" fill="url(#g11)"/>
<rect class="m" x="356" y="1083.5" width="2" height="10" fill="url(#g19)"/>
<rect class="m" x="358" y="1083.5" width="8" height="10" fill="url(#g9)"/>
<rect class="m" x="366" y="1083.5" width="16" height="10" fill="url(#g3)"/>
<rect class="m" x="382" y="1083.5" width="12" height="10" fill="url(#g7)"/>
<rect class="m" x="396" y="1083.5" width="9" height="10" fill="url(#g5)"/>
<rect class="m" x="407" y="1083.5" width="12" height="10" fill="url(#g12)"/>
<rect class="m" x="421" y="1083.5" width="2" height="10" fill="url(#g2)"/>
<rect class="m" x="423" y="1083.5" width="9" height="10" fill="url(#g15)"/>
<rect class="m" x="432" y="1083.5" width="7" height="10" fill="url(#g0)"/>
<rect class="m" x="441" y="1083.5" width="4" height="10" fill="url(#g8)"/>
<path d="M335 1104.3H449" stroke="#888" stroke-width="1"/>
<rect class="m" x="339" y="1099.3" width="15" height="10" fill="url(#g11)"/>
<rect class="m" x="356" y="1099.3" width="2" height="10" fill="url(#g19)"/>
<rect class="m" x="358" y="1099.3" width="8" height="10" fill="url(#g9)"/>
<rect class="m" x="366" y="1099.3" width="16" height="10" fill="url(#g3)"/>
<rect class="m" x="382" y="1099.3" width="12" height="10" fill="url(#g7)"/>
<rect class="m" x="396" y="1099.3" width="9" height="10" fill="url(#g5)"/>
<rect class="m" x="407" y="1099.3" width="12" height="10" fill="url(#g12)"/>
<rect class="m" x="421" y="1099.3" width="2" height="10" fill="url(#g2)"/>
<rect class="m" x="423" y="1099.3" width="9" height="10" fill="url(#g15)"/>
<rect class="m" x="432" y="1099.3" width="7" height="10" fill="url(#g0)"/>
<rect class="m" x="441" y="1099.3" width="4" height="10" fill="url(#g8)"/>
<path d="M335 1120.1H449" stroke="#888" stroke-width="1"/>
<rect class="m" x="339" y="1115.1" width="15" height="10" fill="url(#g11)"/>
<rect class="m" x="356" y="1115.1" width="2" height="10" fill="url(#g19)"/>
<rect class="m" x="358" y="1115.1" width="8" height="10" fill="url(#g9)"/>
<rect class="m" x="366" y="1115.1" width="16" height="10" fill="url(#g3)"/>
<rect class="m" x="382" y="1115.1" width="12" height="10" fill="url(#g7)"/>
<rect class="m" x="396" y="1115.1" width="9" height="10" fill="url(#g5)"/>
<rect class="m" x="407" y="1115.1" width="12" height="10" fill="url(#g12)"/>
<rect class="m" x="421" y="1115.1" width="2" height="10" fill="url(#g2)"/>
<rect class="m" x="423" y="1115.1" width="9" height="10" fill="url(#g15)"/>
<rect class="m" x="432" y="1115.1" width="7" height="10" fill="url(#g0)"/>
<rect class="m" x="441" y="1115.1" width="4" height="10" fill="url(#g8)"/>
<path d="M335 1135.9H436.2" stroke="#888" stroke-width="1"/>
<rect class="m" x="339" y="1130.9" width="15" height="10" fill="url(#g11)"/>
<rect class="m" x="356" y="1130.9" width="2" height="10" fill="url(#g19)"/>
<rect class="m" x="358" y="1130.9" width="8" height="10" fill="url(#g9)"/>
<rect class="m" x="366" y="1130.9" width="15" height="10" fill="url(#g3)"/>
<rect class="m" x="388.8" y="1130.9" width="11.8" height="10" fill="url(#g7)"/>
<rect class="m" x="400.6" y="1130.9" width="10.8" height="10" fill="url(#g5)"/>
<rect class="m" x="419.1" y="1130.9" width="6.2" height="10" fill="url(#g0)"/>
<rect class="m" x="425.3" y="1130.9" width="6.2" height="10" fill="url(#g8)"/>
<path d="M335 1151.7H451" stroke="#888" stroke-width="1"/>
<rect class="m" x="339" y="1146.7" width="15" height="10" fill="url(#g11)"/>
<rect class="m" x="356" y="1146.7" width="2" height="10" fill="url(#g19)"/>
<rect class="m" x="358" y="1146.7" width="8" height="10" fill="url(#g9)"/>
<rect class="m" x="366" y="1146.7" width="16" height="10" fill="url(#g3)"/>
<rect class="m" x="382" y="1146.7" width="12" height="10" fill="url(#g7)"/>
<rect class="m" x="396" y="1146.7" width="9" height="10" fill="url(#g5)"/>
<rect class="m" x="407" y="1146.7" width="12" height="10" fill="url(#g12)"/>
<rect class="m" x="421" y="1146.7" width="2" height="10" fill="url(#g2)"/>
<rect class="m" x="423" y="1146.7" width="9" height="10" fill="url(#g15)"/>
<rect class="m" x="432" y="1146.7" width="7" height="10" fill="url(#g0)"/>
<rect class="m" x="441" y="1146.7" width="4" height="10" fill="url(#g8)"/>
<path d="M335 1167.5H446" stroke="#888" stroke-width="1"/>
<rect class="m" x="345" y="1162.5" width="3" height="10" fill="url(#g21)"/>
<rect class="m" x="350" y="1162.5" width="2" height="10" fill="url(#g19)"/>
<rect class="m" x="352" y="1162.5" width="8" height="10" fill="url(#g9)"/>
<rect class="m" x="361" y="1162.5" width="16" height="10" fill="url(#g3)"/>
<rect class="m" x="377" y="1162.5" width="12" height="10" fill="url(#g7)"/>
<rect class="m" x="391" y="1162.5" width="8" height="10" fill="url(#g5)"/>
<rect class="m" x="401" y="1162.5" width="13" height="10" fill="url(#g12)"/>
<rect class="m" x="418" y="1162.5" width="7" height="10" fill="url(#g15)"/>
<rect class="m" x="425" y="1162.5" width="5" height="10" fill="url(#g0)"/>
<rect class="m" x="433" y="1162.5" width="4" height="10" fill="url(#g8)"/>
<path d="M335 1183.4H457" stroke="#888" stroke-width="1"/>
<rect class="m" x="339" y="1178.4" width="15" height="10" fill="url(#g11)"/>
<rect class="m" x="356" y="1178.4" width="2" height="10" fill="url(#g19)"/>
<rect class="m" x="358" y="1178.4" width="8" height="10" fill="url(#g9)"/>
<rect class="m" x="366" y="1178.4" width="15" height="10" fill="url(#g3)"/>
<rect class="m" x="390" y="1178.4" width="12" height="10" fill="url(#g7)"/>
<rect class="m" x="403" y="1178.4" width="9" height="10" fill="url(#g5)"/>
<rect class="m" x="413" y="1178.4" width="14" height="10" fill="url(#g12)"/>
<rect class="m" x="431" y="1178.4" width="9" height="10" fill="url(#g15)"/>
<rect class="m" x="440" y="1178.4" width="6" height="10" fill="url(#g0)"/>
<rect class="m" x="447" y="1178.4" width="5" height="10" fill="url(#g8)"/>
<path d="M335 1199.2H451" stroke="#888" stroke-width="1"/>
<rect class="m" x="339" y="1194.2" width="15" height="10" fill="url(#g11)"/>
<rect class="m" x="356" y="1194.2" width="2" height="10" fill="url(#g19)"/>
<rect class="m" x="358" y="1194.2" width="8" height="10" fill="url(#g9)"/>
<rect class="m" x="366" y="1194.2" width="16" height="10" fill="url(#g3)"/>
<rect class="m" x="382" y="1194.2" width="12" height="10" fill="url(#g7)"/>
<rect class="m" x="396" y="1194.2" width="9" height="10" fill="url(#g5)"/>
<rect class="m" x="407" y="1194.2" width="12" height="10" fill="url(#g12)"/>
<rect class="m" x="421" y="1194.2" width="2" height="10" fill="url(#g2)"/>
<rect class="m" x="423" y="1194.2" width="9" height="10" fill="url(#g15)"/>
<rect class="m" x="432" y="1194.2" width="7" height="10" fill="url(#g0)"/>
<rect class="m" x="441" y="1194.2" width="4" height="10" fill="url(#g8)"/>
<path d="M335 1215H439" stroke="#888" stroke-width="1"/>
<rect class="m" x="346" y="1210" width="8" height="10" fill="url(#g9)"/>
<rect class="m" x="354" y="1210" width="16" height="10" fill="url(#g3)"/>
<rect class="m" x="370" y="1210" width="12" height="10" fill="url(#g7)"/>
<rect class="m" x="384" y="1210" width="9" height="10" fill="url(#g5)"/>
<rect class="m" x="395" y="1210" width="12" height="10" fill="url(#g12)"/>
<rect class="m" x="409" y="1210" width="2" height="10" fill="url(#g2)"/>
<rect class="m" x="411" y="1210" width="9" height="10" fill="url(#g15)"/>
<rect class="m" x="420" y="1210" width="7" height="10" fill="url(#g0)"/>
<rect class="m" x="429" y="1210" width="4" height="10" fill="url(#g8)"/>
<path d="M335 1230.8H455" stroke="#888" stroke-width="1"/>
<rect class="m" x="339" y="1225.8" width="15" height="10" fill="url(#g11)"/>
<rect class="m" x="356" y="1225.8" width="2" height="10" fill="url(#g19)"/>
<rect class="m" x="358" y="1225.8" width="8" height="10" fill="url(#g9)"/>
<rect class="m" x="366" y="1225.8" width="16" height="10" fill="url(#g3)"/>
<rect class="m" x="382" y="1225.8" width="12" height="10" fill="url(#g7)"/>
<rect class="m" x="396" y="1225.8" width="9" height="10" fill="url(#g5)"/>
<rect class="m" x="407" y="1225.8" width="12" height="10" fill="url(#g12)"/>
<rect class="m" x="421" y="1225.8" width="2" height="10" fill="url(#g2)"/>
<rect class="m" x="423" y="1225.8" width="9" height="10" fill="url(#g15)"/>
<rect class="m" x="432" y="1225.8" width="7" height="10" fill="url(#g0)"/>
<rect class="m" x="441" y="1225.8" width="4" height="10" fill="url(#g8)"/>
<path d="M335 1246.6H461" stroke="#888" stroke-width="1"/>
<rect class="m" x="342" y="1241.6" width="15" height="10" fill="url(#g11)"/>
<rect class="m" x="359" y="1241.6" width="2" height="10" fill="url(#g19)"/>
<rect class="m" x="361" y="1241.6" width="8" height="10" fill="url(#g9)"/>
<rect class="m" x="369" y="1241.6" width="16" height="10" fill="url(#g3)"/>
<rect class="m" x="385" y="1241.6" width="12" height="10" fill="url(#g7)"/>
<rect class="m" x="399" y="1241.6" width="9" height="10" fill="url(#g5)"/>
<rect class="m" x="410" y="1241.6" width="12" height="10" fill="url(#g12)"/>
<rect class="m" x="424" y="1241.6" width="2" height="10" fill="url(#g2)"/>
<rect class="m" x="426" y="1241.6" width="9" height="10" fill="url(#g15)"/>
<rect class="m" x="435" y="1241.6" width="7" height="10" fill="url(#g0)"/>
<rect class="m" x="444" y="1241.6" width="4" height="10" fill="url(#g8)"/>
<path d="M335 1262.4H440" stroke="#888" stroke-width="1"/>
<rect class="m" x="336" y="1257.4" width="7.5" height="10" fill="url(#g14)"/>
<rect class="m" x="347" y="1257.4" width="3" height="10" fill="url(#g21)"/>
<rect class="m" x="350" y="1257.4" width="8.5" height="10" fill="url(#g9)"/>
<rect class="m" x="358.5" y="1257.4" width="15.5" height="10" fill="url(#g3)"/>
<rect class="m" x="374" y="1257.4" width="13" height="10" fill="url(#g7)"/>
<rect class="m" x="389" y="1257.4" width="9" height="10" fill="url(#g5)"/>
<rect class="m" x="399" y="1257.4" width="13" height="10" fill="url(#g12)"/>
<rect class="m" x="413" y="1257.4" width="2" height="10" fill="url(#g2)"/>
<rect class="m" x="415" y="1257.4" width="8" height="10" fill="url(#g15)"/>
<rect class="m" x="425" y="1257.4" width="6" height="10" fill="url(#g0)"/>
<rect class="m" x="432" y="1257.4" width="5" height="10" fill="url(#g8)"/>
<path d="M335 1278.2H445" stroke="#888" stroke-width="1"/>
<rect class="m" x="337.7" y="1273.2" width="7.5" height="10" fill="url(#g14)"/>
<rect class="m" x="348.7" y="1273.2" width="3" height="10" fill="url(#g21)"/>
<rect class="m" x="351.7" y="1273.2" width="8.5" height="10" fill="url(#g9)"/>
<rect class="m" x="360.2" y="1273.2" width="15.5" height="10" fill="url(#g3)"/>
<rect class="m" x="375.7" y="1273.2" width="13" height="10" fill="url(#g7)"/>
<rect class="m" x="390.7" y="1273.2" width="9" height="10" fill="url(#g5)"/>
<rect class="m" x="400.7" y="1273.2" width="13" height="10" fill="url(#g12)"/>
<rect class="m" x="414.7" y="1273.2" width="2" height="10" fill="url(#g2)"/>
<rect class="m" x="416.7" y="1273.2" width="8" height="10" fill="url(#g15)"/>
<rect class="m" x="426.7" y="1273.2" width="6" height="10" fill="url(#g0)"/>
<rect class="m" x="433.7" y="1273.2" width="5" height="10" fill="url(#g8)"/>
<path d="M335 1294H436" stroke="#888" stroke-width="1"/>
<rect class="m" x="333" y="1289" width="7.5" height="10" fill="url(#g14)"/>
<rect class="m" x="344" y="1289" width="3" height="10" fill="url(#g21)"/>
<rect class="m" x="347" y="1289" width="8.5" height="10" fill="url(#g9)"/>
<rect class="m" x="355.5" y="1289" width="15.5" height="10" fill="url(#g3)"/>
<rect class="m" x="371" y="1289" width="13" height="10" fill="url(#g7)"/>
<rect class="m" x="386" y="1289" width="9" height="10" fill="url(#g5)"/>
<rect class="m" x="396" y="1289" width="13" height="10" fill="url(#g12)"/>
<rect class="m" x="410" y="1289" width="2" height="10" fill="url(#g2)"/>
<rect class="m" x="412" y="1289" width="8" height="10" fill="url(#g15)"/>
<rect class="m" x="422" y="1289" width="6" height="10" fill="url(#g0)"/>
<rect class="m" x="429" y="1289" width="5" height="10" fill="url(#g8)"/>
<path d="M335 1309.8H442" stroke="#888" stroke-width="1"/>
<rect class="m" x="337.5" y="1304.8" width="7.5" height="10" fill="url(#g14)"/>
<rect class="m" x="348.5" y="1304.8" width="3" height="10" fill="url(#g21)"/>
<rect class="m" x="351.5" y="1304.8" width="8.5" height="10" fill="url(#g9)"/>
<rect class="m" x="360" y="1304.8" width="15.5" height="10" fill="url(#g3)"/>
<rect class="m" x="375.5" y="1304.8" width="13" height="10" fill="url(#g7)"/>
<rect class="m" x="390.5" y="1304.8" width="9" height="10" fill="url(#g5)"/>
<rect class="m" x="400.5" y="1304.8" width="13" height="10" fill="url(#g12)"/>
<rect class="m" x="414.5" y="1304.8" width="2" height="10" fill="url(#g2)"/>
<rect class="m" x="416.5" y="1304.8" width="8" height="10" fill="url(#g15)"/>
<rect class="m" x="426.5" y="1304.8" width="6" height="10" fill="url(#g0)"/>
<rect class="m" x="433.5" y="1304.8" width="5" height="10" fill="url(#g8)"/>
<path d="M335 1325.7H441" stroke="#888" stroke-width="1"/>
<rect class="m" x="337.5" y="1320.7" width="7.5" height="10" fill="url(#g14)"/>
<rect class="m" x="348.5" y="1320.7" width="3" height="10" fill="url(#g21)"/>
<rect class="m" x="351.5" y="1320.7" width="8.5" height="10" fill="url(#g9)"/>
<rect class="m" x="360" y="1320.7" width="15.5" height="10" fill="url(#g3)"/>
<rect class="m" x="375.5" y="1320.7" width="13" height="10" fill="url(#g7)"/>
<rect class="m" x="390.5" y="1320.7" width="9" height="10" fill="url(#g5)"/>
<rect class="m" x="400.5" y="1320.7" width="13" height="10" fill="url(#g12)"/>
<rect class="m" x="414.5" y="1320.7" width="2" height="10" fill="url(#g2)"/>
<rect class="m" x="416.5" y="1320.7" width="8" height="10" fill="url(#g15)"/>
<rect class="m" x="426.5" y="1320.7" width="6" height="10" fill="url(#g0)"/>
<rect class="m" x="433.5" y="1320.7" width="5" height="10" fill="url(#g8)"/>
<path d="M335 1341.5H445" stroke="#888" stroke-width="1"/>
<rect class="m" x="339" y="1336.5" width="7.5" height="10" fill="url(#g14)"/>
<rect class="m" x="350" y="1336.5" width="3" height="10" fill="url(#g21)"/>
<rect class="m" x="353" y="1336.5" width="8.5" height="10" fill="url(#g9)"/>
<rect class="m" x="361.5" y="1336.5" width="15.5" height="10" fill="url(#g3)"/>
<rect class="m" x="377" y="1336.5" width="13" height="10" fill="url(#g7)"/>
<rect class="m" x="392" y="1336.5" width="9" height="10" fill="url(#g5)"/>
<rect class="m" x="402" y="1336.5" width="13" height="10" fill="url(#g12)"/>
<rect class="m" x="416" y="1336.5" width="2" height="10" fill="url(#g2)"/>
<rect class="m" x="418" y="1336.5" width="8" height="10" fill="url(#g15)"/>
<rect class="m" x="428" y="1336.5" width="6" height="10" fill="url(#g0)"/>
<rect class="m" x="435" y="1336.5" width="5" height="10" fill="url(#g8)"/>
<path d="M335 1357.3H444" stroke="#888" stroke-width="1"/>
<rect class="m" x="337.5" y="1352.3" width="7.5" height="10" fill="url(#g14)"/>
<rect class="m" x="348.5" y="1352.3" width="3" height="10" fill="url(#g21)"/>
<rect class="m" x="351.5" y="1352.3" width="8.5" height="10" fill="url(#g9)"/>
<rect class="m" x="360" y="1352.3" width="15.5" height="10" fill="url(#g3)"/>
<rect class="m" x="375.5" y="1352.3" width="13" height="10" fill="url(#g7)"/>
<rect class="m" x="390.5" y="1352.3" width="9" height="10" fill="url(#g5)"/>
<rect class="m" x="400.5" y="1352.3" width="13" height="10" fill="url(#g12)"/>
<rect class="m" x="414.5" y="1352.3" width="2" height="10" fill="url(#g2)"/>
<rect class="m" x="416.5" y="1352.3" width="8" height="10" fill="url(#g15)"/>
<rect class="m" x="426.5" y="1352.3" width="6" height="10" fill="url(#g0)"/>
<rect class="m" x="433.5" y="1352.3" width="5" height="10" fill="url(#g8)"/>
<path d="M335 1373.1H432" stroke="#888" stroke-width="1"/>
<rect class="m" x="339" y="1368.1" width="3" height="10" fill="url(#g21)"/>
<rect class="m" x="342" y="1368.1" width="8.5" height="10" fill="url(#g9)"/>
<rect class="m" x="350.5" y="1368.1" width="15.5" height="10" fill="url(#g3)"/>
<rect class="m" x="366" y="1368.1" width="13" height="10" fill="url(#g7)"/>
<rect class="m" x="381" y="1368.1" width="9" height="10" fill="url(#g5)"/>
<rect class="m" x="391" y="1368.1" width="13" height="10" fill="url(#g12)"/>
<rect class="m" x="405" y="1368.1" width="2" height="10" fill="url(#g2)"/>
<rect class="m" x="407" y="1368.1" width="8" height="10" fill="url(#g15)"/>
<rect class="m" x="417" y="1368.1" width="6" height="10" fill="url(#g0)"/>
<rect class="m" x="424" y="1368.1" width="5" height="10" fill="url(#g8)"/>
<path d="M335 1388.9H445" stroke="#888" stroke-width="1"/>
<rect class="m" x="338" y="1383.9" width="7.5" height="10" fill="url(#g14)"/>
<rect class="m" x="349" y="1383.9" width="3" height="10" fill="url(#g21)"/>
<rect class="m" x="352" y="1383.9" width="8.5" height="10" fill="url(#g9)"/>
<rect class="m" x="360.5" y="1383.9" width="15.5" height="10" fill="url(#g3)"/>
<rect class="m" x="376" y="1383.9" width="13" height="10" fill="url(#g7)"/>
<rect class="m" x="391" y="1383.9" width="9" height="10" fill="url(#g5)"/>
<rect class="m" x="401" y="1383.9" width="13" height="10" fill="url(#g12)"/>
<rect class="m" x="415" y="1383.9" width="2" height="10" fill="url(#g2)"/>
<rect class="m" x="417" y="1383.9" width="8" height="10" fill="url(#g15)"/>
<rect class="m" x="427" y="1383.9" width="6" height="10" fill="url(#g0)"/>
<rect class="m" x="434" y="1383.9" width="5" height="10" fill="url(#g8)"/>
<path d="M335 1404.7H445" stroke="#888" stroke-width="1"/>
<rect class="m" x="338" y="1399.7" width="7.5" height="10" fill="url(#g14)"/>
<rect class="m" x="349" y="1399.7" width="3" height="10" fill="url(#g21)"/>
<rect class="m" x="352" y="1399.7" width="8.5" height="10" fill="url(#g9)"/>
<rect class="m" x="360.5" y="1399.7" width="15.5" height="10" fill="url(#g3)"/>
<rect class="m" x="376" y="1399.7" width="13" height="10" fill="url(#g7)"/>
<rect class="m" x="391" y="1399.7" width="9" height="10" fill="url(#g5)"/>
<rect class="m" x="401" y="1399.7" width="13" height="10" fill="url(#g12)"/>
<rect class="m" x="415" y="1399.7" width="2" height="10" fill="url(#g2)"/>
<rect class="m" x="417" y="1399.7" width="8" height="10" fill="url(#g15)"/>
<rect class="m" x="427" y="1399.7" width="6" height="10" fill="url(#g0)"/>
<rect class="m" x="434" y="1399.7" width="5" height="10" fill="url(#g8)"/>
<path d="M335 1420.5H446" stroke="#888" stroke-width="1"/>
<rect class="m" x="347" y="1415.5" width="3" height="10" fill="url(#g21)"/>
<rect class="m" x="350" y="1415.5" width="8.5" height="10" fill="url(#g9)"/>
<rect class="m" x="358.5" y="1415.5" width="15.5" height="10" fill="url(#g3)"/>
<rect class="m" x="374" y="1415.5" width="13" height="10" fill="url(#g7)"/>
<rect class="m" x="389" y="1415.5" width="9" height="10" fill="url(#g5)"/>
<rect class="m" x="399" y="1415.5" width="13" height="10" fill="url(#g12)"/>
<rect class="m" x="413" y="1415.5" width="2" height="10" fill="url(#g2)"/>
<rect class="m" x="415" y="1415.5" width="8" height="10" fill="url(#g15)"/>
<rect class="m" x="425" y="1415.5" width="6" height="10" fill="url(#g0)"/>
<rect class="m" x="432" y="1415.5" width="5" height="10" fill="url(#g8)"/>
<path d="M335 1436.3H450" stroke="#888" stroke-width="1"/>
<rect class="m" x="350" y="1431.3" width="3" height="10" fill="url(#g21)"/>
<rect class="m" x="353" y="1431.3" width="8.5" height="10" fill="url(#g9)"/>
<rect class="m" x="361.5" y="1431.3" width="15.5" height="10" fill="url(#g3)"/>
<rect class="m" x="377" y="1431.3" width="13" height="10" fill="url(#g7)"/>
<rect class="m" x="392" y="1431.3" width="9" height="10" fill="url(#g5)"/>
<rect class="m" x="402" y="1431.3" width="13" height="10" fill="url(#g12)"/>
<rect class="m" x="416" y="1431.3" width="2" height="10" fill="url(#g2)"/>
<rect class="m" x="418" y="1431.3" width="8" height="10" fill="url(#g15)"/>
<rect class="m" x="428" y="1431.3" width="6" height="10" fill="url(#g0)"/>
<rect class="m" x="435" y="1431.3" width="5" height="10" fill="url(#g8)"/>
<path d="M335 1452.1H458" stroke="#888" stroke-width="1"/>
<rect class="m" x="357" y="1447.1" width="3" height="10" fill="url(#g21)"/>
<rect class="m" x="360" y="1447.1" width="8.5" height="10" fill="url(#g9)"/>
<rect class="m" x="368.5" y="1447.1" width="15.5" height="10" fill="url(#g3)"/>
<rect class="m" x="384" y="1447.1" width="13" height="10" fill="url(#g7)"/>
<rect class="m" x="399" y="1447.1" width="9" height="10" fill="url(#g5)"/>
<rect class="m" x="409" y="1447.1" width="13" height="10" fill="url(#g12)"/>
<rect class="m" x="423" y="1447.1" width="2" height="10" fill="url(#g2)"/>
<rect class="m" x="425" y="1447.1" width="8" height="10" fill="url(#g15)"/>
<rect class="m" x="435" y="1447.1" width="6" height="10" fill="url(#g0)"/>
<rect class="m" x="442" y="1447.1" width="5" height="10" fill="url(#g8)"/>
<path d="M335 1467.9H446" stroke="#888" stroke-width="1"/>
<rect class="m" x="352" y="1462.9" width="3" height="10" fill="url(#g21)"/>
<rect class="m" x="355" y="1462.9" width="8.5" height="10" fill="url(#g9)"/>
<rect class="m" x="363.5" y="1462.9" width="15.5" height="10" fill="url(#g3)"/>
<rect class="m" x="379" y="1462.9" width="13" height="10" fill="url(#g7)"/>
<rect class="m" x="394" y="1462.9" width="9" height="10" fill="url(#g5)"/>
<rect class="m" x="404" y="1462.9" width="13" height="10" fill="url(#g12)"/>
<rect class="m" x="418" y="1462.9" width="2" height="10" fill="url(#g2)"/>
<rect class="m" x="420" y="1462.9" width="8" height="10" fill="url(#g15)"/>
<rect class="m" x="430" y="1462.9" width="6" height="10" fill="url(#g0)"/>
<rect class="m" x="437" y="1462.9" width="5" height="10" fill="url(#g8)"/>
<path d="M335 1483.8H435" stroke="#888" stroke-width="1"/>
<rect class="m" x="353" y="1478.8" width="8.5" height="10" fill="url(#g9)"/>
<rect class="m" x="361.5" y="1478.8" width="15.5" height="10" fill="url(#g3)"/>
<rect class="m" x="377" y="1478.8" width="13" height="10" fill="url(#g7)"/>
<rect class="m" x="392" y="1478.8" width="9" height="10" fill="url(#g5)"/>
<rect class="m" x="402" y="1478.8" width="13" height="10" fill="url(#g12)"/>
<rect class="m" x="416" y="1478.8" width="2" height="10" fill="url(#g2)"/>
<rect class="m" x="418" y="1478.8" width="8" height="10" fill="url(#g15)"/>
<path d="M335 1499.6H434" stroke="#888" stroke-width="1"/>
<rect class="m" x="340" y="1494.6" width="3" height="10" fill="url(#g21)"/>
<rect class="m" x="343" y="1494.6" width="8.5" height="10" fill="url(#g9)"/>
<rect class="m" x="351.5" y="1494.6" width="15.5" height="10" fill="url(#g3)"/>
<rect class="m" x="367" y="1494.6" width="13" height="10" fill="url(#g7)"/>
<rect class="m" x="382" y="1494.6" width="9" height="10" fill="url(#g5)"/>
<rect class="m" x="392" y="1494.6" width="13" height="10" fill="url(#g12)"/>
<rect class="m" x="406" y="1494.6" width="2" height="10" fill="url(#g2)"/>
<rect class="m" x="408" y="1494.6" width="8" height="10" fill="url(#g15)"/>
<rect class="m" x="418" y="1494.6" width="6" height="10" fill="url(#g0)"/>
<rect class="m" x="425" y="1494.6" width="5" height="10" fill="url(#g8)"/>
<path d="M335 1515.4H448" stroke="#888" stroke-width="1"/>
<rect class="m" x="358" y="1510.4" width="8.5" height="10" fill="url(#g9)"/>
<rect class="m" x="366.5" y="1510.4" width="15.5" height="10" fill="url(#g3)"/>
<rect class="m" x="382" y="1510.4" width="13" height="10" fill="url(#g7)"/>
<rect class="m" x="397" y="1510.4" width="9" height="10" fill="url(#g5)"/>
<rect class="m" x="407" y="1510.4" width="13" height="10" fill="url(#g12)"/>
<rect class="m" x="421" y="1510.4" width="2" height="10" fill="url(#g2)"/>
<rect class="m" x="423" y="1510.4" width="8" height="10" fill="url(#g15)"/>
<rect class="m" x="433" y="1510.4" width="6" height="10" fill="url(#g0)"/>
<rect class="m" x="440" y="1510.4" width="5" height="10" fill="url(#g8)"/>
<path d="M335 1531.2H446" stroke="#888" stroke-width="1"/>
<rect class="m" x="355" y="1526.2" width="8.5" height="10" fill="url(#g9)"/>
<rect class="m" x="363.5" y="1526.2" width="15.5" height="10" fill="url(#g3)"/>
<rect class="m" x="379" y="1526.2" width="13" height="10" fill="url(#g7)"/>
<rect class="m" x="394" y="1526.2" width="9" height="10" fill="url(#g5)"/>
<rect class="m" x="404" y="1526.2" width="13" height="10" fill="url(#g12)"/>
<rect class="m" x="418" y="1526.2" width="2" height="10" fill="url(#g2)"/>
<rect class="m" x="420" y="1526.2" width="8" height="10" fill="url(#g15)"/>
<rect class="m" x="430" y="1526.2" width="6" height="10" fill="url(#g0)"/>
<rect class="m" x="437" y="1526.2" width="5" height="10" fill="url(#g8)"/>
<path d="M476.7 1090H590.8" stroke="#666" stroke-width="1.3"/>
<rect x="488.8" y="1085" width="96.9" height="10" fill="#73b33d" rx="1.5"/>
<path d="M476.7 1105.8H587" stroke="#666" stroke-width="1.3"/>
<rect x="488.8" y="1100.8" width="95.2" height="10" fill="#73b33d" rx="1.5"/>
<path d="M476.7 1121.6H588" stroke="#666" stroke-width="1.3"/>
<rect x="488.8" y="1116.6" width="95.2" height="10" fill="#73b33d" rx="1.5"/>
<path d="M476.7 1137.4H577" stroke="#666" stroke-width="1.3"/>
<rect x="488.8" y="1132.4" width="84.4" height="10" fill="#fdcb03" rx="1.5"/>
<path d="M476.7 1153.2H590" stroke="#666" stroke-width="1.3"/>
<rect x="488.8" y="1148.2" width="96.9" height="10" fill="#73b33d" rx="1.5"/>
<path d="M476.7 1169H585" stroke="#666" stroke-width="1.3"/>
<rect x="485.4" y="1164" width="96" height="10" fill="#73b33d" rx="1.5"/>
<path d="M476.7 1184.9H595" stroke="#666" stroke-width="1.3"/>
<rect x="488.8" y="1179.9" width="106.2" height="10" fill="#73b33d" rx="1.5"/>
<path d="M476.7 1200.7H590" stroke="#666" stroke-width="1.3"/>
<rect x="488.8" y="1195.7" width="96.9" height="10" fill="#73b33d" rx="1.5"/>
<path d="M476.7 1216.5H575" stroke="#666" stroke-width="1.3"/>
<rect x="486" y="1211.5" width="86.3" height="10" fill="#73b33d" rx="1.5"/>
<path d="M476.7 1232.3H595" stroke="#666" stroke-width="1.3"/>
<rect x="491" y="1227.3" width="94.7" height="10" fill="#73b33d" rx="1.5"/>
<path d="M476.7 1248.1H598" stroke="#666" stroke-width="1.3"/>
<rect x="492" y="1243.1" width="97.6" height="10" fill="#73b33d" rx="1.5"/>
<path d="M476.7 1263.9H580" stroke="#666" stroke-width="1.3"/>
<rect x="487" y="1258.9" width="92" height="10" fill="#73b33d" rx="1.5"/>
<path d="M476.7 1279.7H581" stroke="#666" stroke-width="1.3"/>
<rect x="488.5" y="1274.7" width="91.8" height="10" fill="#73b33d" rx="1.5"/>
<path d="M476.7 1295.5H577" stroke="#666" stroke-width="1.3"/>
<rect x="485.3" y="1290.5" width="90.4" height="10" fill="#73b33d" rx="1.5"/>
<path d="M476.7 1311.3H580" stroke="#666" stroke-width="1.3"/>
<rect x="488.5" y="1306.3" width="90.5" height="10" fill="#73b33d" rx="1.5"/>
<path d="M476.7 1327.2H580" stroke="#666" stroke-width="1.3"/>
<rect x="488.5" y="1322.2" width="90.5" height="10" fill="#73b33d" rx="1.5"/>
<path d="M476.7 1343H584" stroke="#666" stroke-width="1.3"/>
<rect x="490" y="1338" width="93.5" height="10" fill="#73b33d" rx="1.5"/>
<path d="M476.7 1358.8H583" stroke="#666" stroke-width="1.3"/>
<rect x="490" y="1353.8" width="92.6" height="10" fill="#73b33d" rx="1.5"/>
<path d="M476.7 1374.6H572" stroke="#666" stroke-width="1.3"/>
<rect x="479.4" y="1369.6" width="91.7" height="10" fill="#73b33d" rx="1.5"/>
<path d="M476.7 1390.4H584" stroke="#666" stroke-width="1.3"/>
<rect x="490" y="1385.4" width="93.5" height="10" fill="#73b33d" rx="1.5"/>
<path d="M476.7 1406.2H584" stroke="#666" stroke-width="1.3"/>
<rect x="491.7" y="1401.2" width="91.8" height="10" fill="#73b33d" rx="1.5"/>
<path d="M476.7 1422H585" stroke="#666" stroke-width="1.3"/>
<rect x="491.7" y="1417" width="86.3" height="10" fill="#73b33d" rx="1.5"/>
<path d="M476.7 1437.8H589.4" stroke="#666" stroke-width="1.3"/>
<rect x="493" y="1432.8" width="88.7" height="10" fill="#73b33d" rx="1.5"/>
<path d="M476.7 1453.6H596.3" stroke="#666" stroke-width="1.3"/>
<rect x="501" y="1448.6" width="89.8" height="10" fill="#73b33d" rx="1.5"/>
<path d="M476.7 1469.4H584" stroke="#666" stroke-width="1.3"/>
<rect x="496.3" y="1464.4" width="87.2" height="10" fill="#73b33d" rx="1.5"/>
<path d="M476.7 1485.2H569" stroke="#666" stroke-width="1.3"/>
<rect x="493" y="1480.2" width="75" height="10" fill="#fdcb03" rx="1.5"/>
<path d="M476.7 1501.1H573" stroke="#666" stroke-width="1.3"/>
<rect x="481.7" y="1496.1" width="90.8" height="10" fill="#73b33d" rx="1.5"/>
<path d="M476.7 1516.9H587" stroke="#666" stroke-width="1.3"/>
<rect x="497.7" y="1511.9" width="88.5" height="10" fill="#73b33d" rx="1.5"/>
<path d="M476.7 1532.7H586" stroke="#666" stroke-width="1.3"/>
<rect x="495.4" y="1527.7" width="89.5" height="10" fill="#73b33d" rx="1.5"/>
<path d="M336.2 1548.4H460" stroke="#666" stroke-width="0.8"/>
<path d="M336.2 1548.4V1550.9" stroke="#666" stroke-width="0.8"/>
<text x="336.2" y="1558.9" font-size="6" fill="#333" text-anchor="middle">0</text>
<path d="M351.7 1548.4V1550.9" stroke="#666" stroke-width="0.8"/>
<text x="351.7" y="1558.9" font-size="6" fill="#333" text-anchor="middle">50</text>
<path d="M367.1 1548.4V1550.9" stroke="#666" stroke-width="0.8"/>
<text x="367.1" y="1558.9" font-size="6" fill="#333" text-anchor="middle">100</text>
<path d="M382.6 1548.4V1550.9" stroke="#666" stroke-width="0.8"/>
<text x="382.6" y="1558.9" font-size="6" fill="#333" text-anchor="middle">150</text>
<path d="M398.1 1548.4V1550.9" stroke="#666" stroke-width="0.8"/>
<text x="398.1" y="1558.9" font-size="6" fill="#333" text-anchor="middle">200</text>
<path d="M413.6 1548.4V1550.9" stroke="#666" stroke-width="0.8"/>
<text x="413.6" y="1558.9" font-size="6" fill="#333" text-anchor="middle">250</text>
<path d="M429.1 1548.4V1550.9" stroke="#666" stroke-width="0.8"/>
<text x="429.1" y="1558.9" font-size="6" fill="#333" text-anchor="middle">300</text>
<path d="M444.5 1548.4V1550.9" stroke="#666" stroke-width="0.8"/>
<text x="444.5" y="1558.9" font-size="6" fill="#333" text-anchor="middle">350</text>
<path d="M460 1548.4V1550.9" stroke="#666" stroke-width="0.8"/>
<text x="460" y="1558.9" font-size="6" fill="#333" text-anchor="middle">400</text>
<text x="335.2" y="1547.4" font-size="6" fill="#333" text-anchor="end">5'</text>
<text x="461" y="1547.4" font-size="6" fill="#333">3'</text>
<path d="M477 1548.4H601" stroke="#666" stroke-width="0.8"/>
<path d="M477 1548.4V1550.9" stroke="#666" stroke-width="0.8"/>
<text x="477" y="1558.9" font-size="6" fill="#333" text-anchor="middle">0</text>
<path d="M492.5 1548.4V1550.9" stroke="#666" stroke-width="0.8"/>
<text x="492.5" y="1558.9" font-size="6" fill="#333" text-anchor="middle">50</text>
<path d="M508 1548.4V1550.9" stroke="#666" stroke-width="0.8"/>
<text x="508" y="1558.9" font-size="6" fill="#333" text-anchor="middle">100</text>
<path d="M523.5 1548.4V1550.9" stroke="#666" stroke-width="0.8"/>
<text x="523.5" y="1558.9" font-size="6" fill="#333" text-anchor="middle">150</text>
<path d="M539 1548.4V1550.9" stroke="#666" stroke-width="0.8"/>
<text x="539" y="1558.9" font-size="6" fill="#333" text-anchor="middle">200</text>
<path d="M554.5 1548.4V1550.9" stroke="#666" stroke-width="0.8"/>
<text x="554.5" y="1558.9" font-size="6" fill="#333" text-anchor="middle">250</text>
<path d="M570 1548.4V1550.9" stroke="#666" stroke-width="0.8"/>
<text x="570" y="1558.9" font-size="6" fill="#333" text-anchor="middle">300</text>
<path d="M585.5 1548.4V1550.9" stroke="#666" stroke-width="0.8"/>
<text x="585.5" y="1558.9" font-size="6" fill="#333" text-anchor="middle">350</text>
<path d="M601 1548.4V1550.9" stroke="#666" stroke-width="0.8"/>
<text x="601" y="1558.9" font-size="6" fill="#333" text-anchor="middle">400</text>
<text x="476" y="1547.4" font-size="6" fill="#333" text-anchor="end">5'</text>
<text x="602" y="1547.4" font-size="6" fill="#333">3'</text>
<rect class="m" x="604.2" y="1087" width="14.3" height="5.5" fill="url(#g11)" stroke="#ddd"/>
<text x="619.5" y="1091.5" font-size="4.8" fill="#666">Motif 9</text>
<rect class="m" x="604.2" y="1094.4" width="14.3" height="5.5" fill="url(#g19)" stroke="#ddd"/>
<text x="619.5" y="1098.9" font-size="4.8" fill="#666">Motif 15</text>
<rect class="m" x="604.2" y="1101.8" width="14.3" height="5.5" fill="url(#g9)" stroke="#ddd"/>
<text x="619.5" y="1106.4" font-size="4.8" fill="#666">Motif 10</text>
<rect class="m" x="604.2" y="1109.3" width="14.3" height="5.5" fill="url(#g3)" stroke="#ddd"/>
<text x="619.5" y="1113.8" font-size="4.8" fill="#666">Motif 1</text>
<rect class="m" x="604.2" y="1116.7" width="14.3" height="5.5" fill="url(#g7)" stroke="#ddd"/>
<text x="619.5" y="1121.3" font-size="4.8" fill="#666">Motif 2</text>
<rect class="m" x="604.2" y="1124.2" width="14.3" height="5.5" fill="url(#g5)" stroke="#ddd"/>
<text x="619.5" y="1128.7" font-size="4.8" fill="#666">Motif 6</text>
<rect class="m" x="604.2" y="1131.6" width="14.3" height="5.5" fill="url(#g12)" stroke="#ddd"/>
<text x="619.5" y="1136.1" font-size="4.8" fill="#666">Motif 4</text>
<rect class="m" x="604.2" y="1139" width="14.3" height="5.5" fill="url(#g2)" stroke="#ddd"/>
<text x="619.5" y="1143.6" font-size="4.8" fill="#666">Motif 12</text>
<rect class="m" x="604.2" y="1146.5" width="14.3" height="5.5" fill="url(#g15)" stroke="#ddd"/>
<text x="619.5" y="1151" font-size="4.8" fill="#666">Motif 5</text>
<rect class="m" x="604.2" y="1153.9" width="14.3" height="5.5" fill="url(#g0)" stroke="#ddd"/>
<text x="619.5" y="1158.5" font-size="4.8" fill="#666">Motif 8</text>
<rect class="m" x="604.2" y="1161.4" width="14.3" height="5.5" fill="url(#g8)" stroke="#ddd"/>
<text x="619.5" y="1165.9" font-size="4.8" fill="#666">Motif 7</text>
<rect class="m" x="604.2" y="1168.8" width="14.3" height="5.5" fill="url(#g21)" stroke="#ddd"/>
<text x="619.5" y="1173.3" font-size="4.8" fill="#666">Motif 11</text>
<rect class="m" x="604.2" y="1176.2" width="14.3" height="5.5" fill="url(#g14)" stroke="#ddd"/>
<text x="619.5" y="1180.8" font-size="4.8" fill="#666">Motif 13</text>
<rect x="604.2" y="1185.5" width="14.3" height="6.5" fill="#73b33d" rx="1.5"/>
<text x="619.5" y="1190.5" font-size="4.8" fill="#444">PLN02366</text>
<rect x="604.2" y="1195.2" width="14.3" height="6.5" fill="#fdcb03" rx="1.5"/>
<text x="619.5" y="1199.5" font-size="4.8" fill="#444">AdoMet_MTases</text>
<text x="619.5" y="1205.5" font-size="4.8" fill="#444">superfamily</text>
<polygon points="611.4,1211.9 612.4,1214.3 614.9,1214.5 613,1216.1 613.6,1218.6 611.4,1217.3 609.2,1218.6 609.8,1216.1 607.9,1214.5 610.4,1214.3" fill="#f00"/>
<text x="618.8" y="1217.5" font-size="6.3" font-weight="bold" font-style="italic" textLength="60.7" lengthAdjust="spacingAndGlyphs">Dimocarpus longan</text>
<rect x="607.8" y="1224.3" width="7.2" height="7.2" rx="1" fill="#fff" stroke="#333" stroke-width="0.8"/>
<text x="618.8" y="1230.2" font-size="6.3" font-weight="bold" font-style="italic" textLength="64" lengthAdjust="spacingAndGlyphs">Arabidopsis thaliana</text>
<rect x="607.4" y="1236.6" width="8" height="8" fill="#ffff00"/>
<text x="618.8" y="1242.9" font-size="6.3" font-weight="bold" font-style="italic" textLength="38.3" lengthAdjust="spacingAndGlyphs">Oryza sativa</text>
<circle cx="611.4" cy="1253.3" r="4" fill="#ff9e0a"/>
<text x="618.8" y="1255.6" font-size="6.3" font-weight="bold" font-style="italic" textLength="46.6" lengthAdjust="spacingAndGlyphs">Citrus sinensis</text>
<circle cx="611.4" cy="1266" r="4" fill="#ff0000"/>
<text x="618.8" y="1268.3" font-size="6.3" font-weight="bold" font-style="italic" textLength="52.4" lengthAdjust="spacingAndGlyphs">Malus domestica</text>
<circle cx="611.4" cy="1278.7" r="3.6" fill="#fff" stroke="#333" stroke-width="0.8"/>
<text x="618.8" y="1281" font-size="6.3" font-weight="bold" font-style="italic" textLength="55.7" lengthAdjust="spacingAndGlyphs">Theobroma cacao</text>
<polygon points="611.4,1288.2 615,1294.6 607.8,1294.6" fill="#fff" stroke="#333" stroke-width="0.8" stroke-linejoin="miter"/>
<text x="618.8" y="1293.7" font-size="6.3" font-weight="bold" font-style="italic" textLength="65.1" lengthAdjust="spacingAndGlyphs">Gossypium hirsutum</text>
<polygon points="611.4,1300.5 615.4,1307.7 607.4,1307.7" fill="#ffff00"/>
<text x="618.8" y="1306.4" font-size="6.3" font-weight="bold" font-style="italic" textLength="62.9" lengthAdjust="spacingAndGlyphs">Solanum tuberosum</text>
<text x="790.5" y="87.4" font-size="27.5" fill="#111" textLength="18.5" lengthAdjust="spacingAndGlyphs">D</text>
<text x="933.8" y="81.8" font-size="27" fill="#111" text-anchor="middle">a</text>
<text x="1071" y="81.8" font-size="27" fill="#111" text-anchor="middle">b</text>
<text x="1286.7" y="81.8" font-size="27" fill="#111" text-anchor="middle">c</text>
<text x="794.9" y="275.4" font-size="29.3" fill="#111" font-weight="bold">I</text>
<text x="790.4" y="529.3" font-size="29.3" fill="#111" font-weight="bold" textLength="18.1" lengthAdjust="spacingAndGlyphs">II</text>
<text x="787.9" y="696.6" font-size="29.3" fill="#111" font-weight="bold" textLength="23.6" lengthAdjust="spacingAndGlyphs">III</text>
<rect x="872.2" y="92.4" width="122.9" height="349.1" fill="#8cc4f5"/>
<rect x="872.2" y="441.5" width="122.9" height="174.4" fill="#bddcf8"/>
<rect x="872.2" y="615.9" width="122.9" height="162.6" fill="#e1eefb"/>
<path d="M868.9 98.2H871.5" stroke="#9a9a9a" stroke-width="1"/>
<path d="M868.9 110.7H871.5" stroke="#9a9a9a" stroke-width="1"/>
<path d="M868.9 98.2V110.7" stroke="#9a9a9a" stroke-width="1"/>
<path d="M863.4 104.4H868.9" stroke="#9a9a9a" stroke-width="1"/>
<path d="M863.4 123.2H871.5" stroke="#9a9a9a" stroke-width="1"/>
<path d="M863.4 104.4V123.2" stroke="#9a9a9a" stroke-width="1"/>
<path d="M859.2 113.8H863.4" stroke="#9a9a9a" stroke-width="1"/>
<path d="M859.2 135.7H871.5" stroke="#9a9a9a" stroke-width="1"/>
<path d="M859.2 113.8V135.7" stroke="#9a9a9a" stroke-width="1"/>
<path d="M868.9 173.1H871.5" stroke="#9a9a9a" stroke-width="1"/>
<path d="M868.9 185.6H871.5" stroke="#9a9a9a" stroke-width="1"/>
<path d="M868.9 173.1V185.6" stroke="#9a9a9a" stroke-width="1"/>
<path d="M863.4 160.7H871.5" stroke="#9a9a9a" stroke-width="1"/>
<path d="M863.4 179.4H868.9" stroke="#9a9a9a" stroke-width="1"/>
<path d="M863.4 160.7V179.4" stroke="#9a9a9a" stroke-width="1"/>
<path d="M859.2 148.2H871.5" stroke="#9a9a9a" stroke-width="1"/>
<path d="M859.2 170H863.4" stroke="#9a9a9a" stroke-width="1"/>
<path d="M859.2 148.2V170" stroke="#9a9a9a" stroke-width="1"/>
<path d="M854 124.7H859.2" stroke="#9a9a9a" stroke-width="1"/>
<path d="M854 159.1H859.2" stroke="#9a9a9a" stroke-width="1"/>
<path d="M854 124.7V159.1" stroke="#9a9a9a" stroke-width="1"/>
<path d="M859.2 198.1H871.5" stroke="#9a9a9a" stroke-width="1"/>
<path d="M859.2 210.6H871.5" stroke="#9a9a9a" stroke-width="1"/>
<path d="M859.2 198.1V210.6" stroke="#9a9a9a" stroke-width="1"/>
<path d="M863.4 223.1H871.5" stroke="#9a9a9a" stroke-width="1"/>
<path d="M863.4 235.6H871.5" stroke="#9a9a9a" stroke-width="1"/>
<path d="M863.4 223.1V235.6" stroke="#9a9a9a" stroke-width="1"/>
<path d="M863.4 248.1H871.5" stroke="#9a9a9a" stroke-width="1"/>
<path d="M863.4 260.6H871.5" stroke="#9a9a9a" stroke-width="1"/>
<path d="M863.4 248.1V260.6" stroke="#9a9a9a" stroke-width="1"/>
<path d="M859.2 229.3H863.4" stroke="#9a9a9a" stroke-width="1"/>
<path d="M859.2 254.3H863.4" stroke="#9a9a9a" stroke-width="1"/>
<path d="M859.2 229.3V254.3" stroke="#9a9a9a" stroke-width="1"/>
<path d="M854 204.4H859.2" stroke="#9a9a9a" stroke-width="1"/>
<path d="M854 241.8H859.2" stroke="#9a9a9a" stroke-width="1"/>
<path d="M854 204.4V241.8" stroke="#9a9a9a" stroke-width="1"/>
<path d="M849.5 141.9H854" stroke="#9a9a9a" stroke-width="1"/>
<path d="M849.5 223.1H854" stroke="#9a9a9a" stroke-width="1"/>
<path d="M849.5 141.9V223.1" stroke="#9a9a9a" stroke-width="1"/>
<path d="M854 285.6H871.5" stroke="#9a9a9a" stroke-width="1"/>
<path d="M854 298H871.5" stroke="#9a9a9a" stroke-width="1"/>
<path d="M854 285.6V298" stroke="#9a9a9a" stroke-width="1"/>
<path d="M849.5 273.1H871.5" stroke="#9a9a9a" stroke-width="1"/>
<path d="M849.5 291.8H854" stroke="#9a9a9a" stroke-width="1"/>
<path d="M849.5 273.1V291.8" stroke="#9a9a9a" stroke-width="1"/>
<path d="M844.6 182.5H849.5" stroke="#9a9a9a" stroke-width="1"/>
<path d="M844.6 282.4H849.5" stroke="#9a9a9a" stroke-width="1"/>
<path d="M844.6 182.5V282.4" stroke="#9a9a9a" stroke-width="1"/>
<path d="M854.2 310.5H871.5" stroke="#9a9a9a" stroke-width="1"/>
<path d="M854.2 323H871.5" stroke="#9a9a9a" stroke-width="1"/>
<path d="M854.2 310.5V323" stroke="#9a9a9a" stroke-width="1"/>
<path d="M849.6 316.8H854.2" stroke="#9a9a9a" stroke-width="1"/>
<path d="M849.6 335.5H871.5" stroke="#9a9a9a" stroke-width="1"/>
<path d="M849.6 316.8V335.5" stroke="#9a9a9a" stroke-width="1"/>
<path d="M863.5 373H871.5" stroke="#9a9a9a" stroke-width="1"/>
<path d="M863.5 385.5H871.5" stroke="#9a9a9a" stroke-width="1"/>
<path d="M863.5 373V385.5" stroke="#9a9a9a" stroke-width="1"/>
<path d="M863.5 398H871.5" stroke="#9a9a9a" stroke-width="1"/>
<path d="M863.5 410.4H871.5" stroke="#9a9a9a" stroke-width="1"/>
<path d="M863.5 398V410.4" stroke="#9a9a9a" stroke-width="1"/>
<path d="M859.3 379.2H863.5" stroke="#9a9a9a" stroke-width="1"/>
<path d="M859.3 404.2H863.5" stroke="#9a9a9a" stroke-width="1"/>
<path d="M859.3 379.2V404.2" stroke="#9a9a9a" stroke-width="1"/>
<path d="M854.2 360.5H871.5" stroke="#9a9a9a" stroke-width="1"/>
<path d="M854.2 391.7H859.3" stroke="#9a9a9a" stroke-width="1"/>
<path d="M854.2 360.5V391.7" stroke="#9a9a9a" stroke-width="1"/>
<path d="M849.6 348H871.5" stroke="#9a9a9a" stroke-width="1"/>
<path d="M849.6 376.1H854.2" stroke="#9a9a9a" stroke-width="1"/>
<path d="M849.6 348V376.1" stroke="#9a9a9a" stroke-width="1"/>
<path d="M844.4 326.1H849.6" stroke="#9a9a9a" stroke-width="1"/>
<path d="M844.4 362.1H849.6" stroke="#9a9a9a" stroke-width="1"/>
<path d="M844.4 326.1V362.1" stroke="#9a9a9a" stroke-width="1"/>
<path d="M839.8 232.5H844.6" stroke="#9a9a9a" stroke-width="1"/>
<path d="M839.8 344.1H844.4" stroke="#9a9a9a" stroke-width="1"/>
<path d="M839.8 232.5V344.1" stroke="#9a9a9a" stroke-width="1"/>
<path d="M839.8 422.9H871.5" stroke="#9a9a9a" stroke-width="1"/>
<path d="M839.8 435.4H871.5" stroke="#9a9a9a" stroke-width="1"/>
<path d="M839.8 422.9V435.4" stroke="#9a9a9a" stroke-width="1"/>
<path d="M835.6 288.3H839.8" stroke="#9a9a9a" stroke-width="1"/>
<path d="M835.6 429.2H839.8" stroke="#9a9a9a" stroke-width="1"/>
<path d="M835.6 288.3V429.2" stroke="#9a9a9a" stroke-width="1"/>
<path d="M844.4 447.9H871.5" stroke="#9a9a9a" stroke-width="1"/>
<path d="M844.4 460.4H871.5" stroke="#9a9a9a" stroke-width="1"/>
<path d="M844.4 447.9V460.4" stroke="#9a9a9a" stroke-width="1"/>
<path d="M844.4 472.9H871.5" stroke="#9a9a9a" stroke-width="1"/>
<path d="M844.4 485.4H871.5" stroke="#9a9a9a" stroke-width="1"/>
<path d="M844.4 472.9V485.4" stroke="#9a9a9a" stroke-width="1"/>
<path d="M839.8 454.2H844.4" stroke="#9a9a9a" stroke-width="1"/>
<path d="M839.8 479.1H844.4" stroke="#9a9a9a" stroke-width="1"/>
<path d="M839.8 454.2V479.1" stroke="#9a9a9a" stroke-width="1"/>
<path d="M849.6 510.4H871.5" stroke="#9a9a9a" stroke-width="1"/>
<path d="M849.6 522.9H871.5" stroke="#9a9a9a" stroke-width="1"/>
<path d="M849.6 510.4V522.9" stroke="#9a9a9a" stroke-width="1"/>
<path d="M854 535.4H871.5" stroke="#9a9a9a" stroke-width="1"/>
<path d="M854 547.8H871.5" stroke="#9a9a9a" stroke-width="1"/>
<path d="M854 535.4V547.8" stroke="#9a9a9a" stroke-width="1"/>
<path d="M863.4 572.8H871.5" stroke="#9a9a9a" stroke-width="1"/>
<path d="M863.4 585.3H871.5" stroke="#9a9a9a" stroke-width="1"/>
<path d="M863.4 572.8V585.3" stroke="#9a9a9a" stroke-width="1"/>
<path d="M863.4 597.8H871.5" stroke="#9a9a9a" stroke-width="1"/>
<path d="M863.4 610.3H871.5" stroke="#9a9a9a" stroke-width="1"/>
<path d="M863.4 597.8V610.3" stroke="#9a9a9a" stroke-width="1"/>
<path d="M859.2 579.1H863.4" stroke="#9a9a9a" stroke-width="1"/>
<path d="M859.2 604H863.4" stroke="#9a9a9a" stroke-width="1"/>
<path d="M859.2 579.1V604" stroke="#9a9a9a" stroke-width="1"/>
<path d="M854 560.3H871.5" stroke="#9a9a9a" stroke-width="1"/>
<path d="M854 591.6H859.2" stroke="#9a9a9a" stroke-width="1"/>
<path d="M854 560.3V591.6" stroke="#9a9a9a" stroke-width="1"/>
<path d="M849.5 541.6H854" stroke="#9a9a9a" stroke-width="1"/>
<path d="M849.5 575.9H854" stroke="#9a9a9a" stroke-width="1"/>
<path d="M849.5 541.6V575.9" stroke="#9a9a9a" stroke-width="1"/>
<path d="M844.6 516.6H849.6" stroke="#9a9a9a" stroke-width="1"/>
<path d="M844.6 558.8H849.5" stroke="#9a9a9a" stroke-width="1"/>
<path d="M844.6 516.6V558.8" stroke="#9a9a9a" stroke-width="1"/>
<path d="M839.8 497.9H871.5" stroke="#9a9a9a" stroke-width="1"/>
<path d="M839.8 537.7H844.6" stroke="#9a9a9a" stroke-width="1"/>
<path d="M839.8 497.9V537.7" stroke="#9a9a9a" stroke-width="1"/>
<path d="M835.6 466.7H839.8" stroke="#9a9a9a" stroke-width="1"/>
<path d="M835.6 517.8H839.8" stroke="#9a9a9a" stroke-width="1"/>
<path d="M835.6 466.7V517.8" stroke="#9a9a9a" stroke-width="1"/>
<path d="M830.2 358.7H835.6" stroke="#9a9a9a" stroke-width="1"/>
<path d="M830.2 492.2H835.6" stroke="#9a9a9a" stroke-width="1"/>
<path d="M830.2 358.7V492.2" stroke="#9a9a9a" stroke-width="1"/>
<path d="M840.6 635.3H871.5" stroke="#9a9a9a" stroke-width="1"/>
<path d="M840.6 647.8H871.5" stroke="#9a9a9a" stroke-width="1"/>
<path d="M840.6 635.3V647.8" stroke="#9a9a9a" stroke-width="1"/>
<path d="M859.2 685.2H871.5" stroke="#9a9a9a" stroke-width="1"/>
<path d="M859.2 697.7H871.5" stroke="#9a9a9a" stroke-width="1"/>
<path d="M859.2 685.2V697.7" stroke="#9a9a9a" stroke-width="1"/>
<path d="M854 691.5H859.2" stroke="#9a9a9a" stroke-width="1"/>
<path d="M854 710.2H871.5" stroke="#9a9a9a" stroke-width="1"/>
<path d="M854 691.5V710.2" stroke="#9a9a9a" stroke-width="1"/>
<path d="M868.9 760.2H871.5" stroke="#9a9a9a" stroke-width="1"/>
<path d="M868.9 772.7H871.5" stroke="#9a9a9a" stroke-width="1"/>
<path d="M868.9 760.2V772.7" stroke="#9a9a9a" stroke-width="1"/>
<path d="M863.4 747.7H871.5" stroke="#9a9a9a" stroke-width="1"/>
<path d="M863.4 766.4H868.9" stroke="#9a9a9a" stroke-width="1"/>
<path d="M863.4 747.7V766.4" stroke="#9a9a9a" stroke-width="1"/>
<path d="M859.2 735.2H871.5" stroke="#9a9a9a" stroke-width="1"/>
<path d="M859.2 757H863.4" stroke="#9a9a9a" stroke-width="1"/>
<path d="M859.2 735.2V757" stroke="#9a9a9a" stroke-width="1"/>
<path d="M854 722.7H871.5" stroke="#9a9a9a" stroke-width="1"/>
<path d="M854 746.1H859.2" stroke="#9a9a9a" stroke-width="1"/>
<path d="M854 722.7V746.1" stroke="#9a9a9a" stroke-width="1"/>
<path d="M849.5 700.8H854" stroke="#9a9a9a" stroke-width="1"/>
<path d="M849.5 734.4H854" stroke="#9a9a9a" stroke-width="1"/>
<path d="M849.5 700.8V734.4" stroke="#9a9a9a" stroke-width="1"/>
<path d="M844.9 672.7H871.5" stroke="#9a9a9a" stroke-width="1"/>
<path d="M844.9 717.6H849.5" stroke="#9a9a9a" stroke-width="1"/>
<path d="M844.9 672.7V717.6" stroke="#9a9a9a" stroke-width="1"/>
<path d="M840.6 660.2H871.5" stroke="#9a9a9a" stroke-width="1"/>
<path d="M840.6 695.2H844.9" stroke="#9a9a9a" stroke-width="1"/>
<path d="M840.6 660.2V695.2" stroke="#9a9a9a" stroke-width="1"/>
<path d="M835.6 641.5H840.6" stroke="#9a9a9a" stroke-width="1"/>
<path d="M835.6 677.7H840.6" stroke="#9a9a9a" stroke-width="1"/>
<path d="M835.6 641.5V677.7" stroke="#9a9a9a" stroke-width="1"/>
<path d="M830.6 622.8H871.5" stroke="#9a9a9a" stroke-width="1"/>
<path d="M830.6 659.6H835.6" stroke="#9a9a9a" stroke-width="1"/>
<path d="M830.6 622.8V659.6" stroke="#9a9a9a" stroke-width="1"/>
<path d="M826.2 425.5H830.2" stroke="#9a9a9a" stroke-width="1"/>
<path d="M826.2 641.2H830.6" stroke="#9a9a9a" stroke-width="1"/>
<path d="M826.2 425.5V641.2" stroke="#9a9a9a" stroke-width="1"/>
<polygon points="878.1,94.3 879.2,96.9 882,97.1 879.9,99 880.5,101.7 878.1,100.3 875.7,101.7 876.3,99 874.2,97.1 877,96.9" fill="#f00"/>
<text x="888" y="101.1" font-size="8.7" fill="#333" letter-spacing="0.4">Dlo003027 DlCuAO2C</text>
<polygon points="878.1,106.8 879.2,109.4 882,109.6 879.9,111.5 880.5,114.2 878.1,112.8 875.7,114.2 876.3,111.5 874.2,109.6 877,109.4" fill="#f00"/>
<text x="888" y="113.6" font-size="8.7" fill="#333" letter-spacing="0.4">Dlo003025 DlCuAO3B</text>
<polygon points="878.1,119.2 879.2,121.9 882,122.1 879.9,124 880.5,126.7 878.1,125.2 875.7,126.7 876.3,124 874.2,122.1 877,121.9" fill="#f00"/>
<text x="888" y="126.1" font-size="8.7" fill="#333" letter-spacing="0.4">Dlo003024 DlCuAO2B</text>
<circle cx="878.1" cy="135.5" r="4.5" fill="#ff9e0a"/>
<text x="888" y="138.6" font-size="8.7" fill="#333" letter-spacing="0.4">XP 006489371 CsCuAO2</text>
<circle cx="878.1" cy="148" r="4.5" fill="#ff0000"/>
<text x="888" y="151.1" font-size="8.7" fill="#333" letter-spacing="0.4">XP 028952204 MdCuAO2</text>
<circle cx="878.1" cy="160.4" r="4.5" fill="#ff0000"/>
<text x="888" y="163.6" font-size="8.7" fill="#333" letter-spacing="0.4">XP 028951169 MdCuAO</text>
<circle cx="878.1" cy="172.9" r="4" fill="#fff" stroke="#333" stroke-width="1"/>
<text x="888" y="176.1" font-size="8.7" fill="#333" letter-spacing="0.4">XP 017974651 TcCuAO</text>
<circle cx="878.1" cy="185.4" r="4" fill="#fff" stroke="#333" stroke-width="1"/>
<text x="888" y="188.5" font-size="8.7" fill="#333" letter-spacing="0.4">XP 017974653 TcCuAO</text>
<polygon points="878.1,193.9 882.6,202 873.6,202" fill="#ffff00"/>
<text x="888" y="201" font-size="8.7" fill="#333" letter-spacing="0.4">XP 006354449 StCuAO</text>
<polygon points="878.1,206.4 882.6,214.5 873.6,214.5" fill="#ffff00"/>
<text x="888" y="213.5" font-size="8.7" fill="#333" letter-spacing="0.4">XP 006354536 StCuAO</text>
<polygon points="878.1,219.2 879.2,221.8 882,222 879.9,223.9 880.5,226.6 878.1,225.2 875.7,226.6 876.3,223.9 874.2,222 877,221.8" fill="#f00"/>
<text x="888" y="226" font-size="8.7" fill="#333" letter-spacing="0.4">Dlo003016 DlCuAO3A</text>
<circle cx="878.1" cy="235.4" r="4.5" fill="#ff9e0a"/>
<text x="888" y="238.5" font-size="8.7" fill="#333" letter-spacing="0.4">XP 006489375 CsCuAO</text>
<circle cx="878.1" cy="247.9" r="4" fill="#fff" stroke="#333" stroke-width="1"/>
<text x="888" y="251" font-size="8.7" fill="#333" letter-spacing="0.4">XP 017974652 TcCuAO</text>
<polygon points="878.1,256.8 882.1,263.9 874.1,263.9" fill="#fff" stroke="#333" stroke-width="1" stroke-linejoin="miter"/>
<text x="888" y="263.5" font-size="8.7" fill="#333" letter-spacing="0.4">XP 016714359 GhCuAO</text>
<rect x="874.1" y="268.9" width="8" height="8" rx="1.1" fill="#fff" stroke="#333" stroke-width="1"/>
<text x="888" y="276" font-size="8.7" fill="#333" letter-spacing="0.4">AT1G31710 AtCuAO3</text>
<rect x="874.1" y="281.4" width="8" height="8" rx="1.1" fill="#fff" stroke="#333" stroke-width="1"/>
<text x="888" y="288.5" font-size="8.7" fill="#333" letter-spacing="0.4">AT1G31670 AtCuAO</text>
<rect x="874.1" y="293.8" width="8" height="8" rx="1.1" fill="#fff" stroke="#333" stroke-width="1"/>
<text x="888" y="301" font-size="8.7" fill="#333" letter-spacing="0.4">AT1G31690 AtCuAO2</text>
<polygon points="878.1,306.3 882.6,314.4 873.6,314.4" fill="#ffff00"/>
<text x="888" y="313.4" font-size="8.7" fill="#333" letter-spacing="0.4">XP 015170079 StCuAO</text>
<polygon points="878.1,318.8 882.6,326.9 873.6,326.9" fill="#ffff00"/>
<text x="888" y="325.9" font-size="8.7" fill="#333" letter-spacing="0.4">XP 006360808 StCuAO</text>
<polygon points="878.1,331.3 882.6,339.4 873.6,339.4" fill="#ffff00"/>
<text x="888" y="338.4" font-size="8.7" fill="#333" letter-spacing="0.4">XP 006356100 StCuAO</text>
<rect x="874.1" y="343.8" width="8" height="8" rx="1.1" fill="#fff" stroke="#333" stroke-width="1"/>
<text x="888" y="350.9" font-size="8.7" fill="#333" letter-spacing="0.4">AT4G14940 AtCuAO</text>
<circle cx="878.1" cy="360.3" r="4.5" fill="#ff0000"/>
<text x="888" y="363.4" font-size="8.7" fill="#333" letter-spacing="0.4">XP 028947592 MdCuAO1</text>
<polygon points="878.1,369 879.2,371.7 882,371.9 879.9,373.8 880.5,376.5 878.1,375 875.7,376.5 876.3,373.8 874.2,371.9 877,371.7" fill="#f00"/>
<text x="888" y="375.9" font-size="8.7" fill="#333" letter-spacing="0.4">Dlo003017 DlCuAO2A</text>
<circle cx="878.1" cy="385.3" r="4.5" fill="#ff9e0a"/>
<text x="888" y="388.4" font-size="8.7" fill="#333" letter-spacing="0.4">XP 006489372 CsCuAO1</text>
<circle cx="878.1" cy="397.8" r="4" fill="#fff" stroke="#333" stroke-width="1"/>
<text x="888" y="400.9" font-size="8.7" fill="#333" letter-spacing="0.4">XP 007034740 TcCuAO</text>
<polygon points="878.1,406.7 882.1,413.8 874.1,413.8" fill="#fff" stroke="#333" stroke-width="1" stroke-linejoin="miter"/>
<text x="888" y="413.4" font-size="8.7" fill="#333" letter-spacing="0.4">XP 016715182 GhCuAO</text>
<rect x="873.6" y="418.2" width="9" height="9" fill="#ffff00"/>
<text x="888" y="425.9" font-size="8.7" fill="#333" letter-spacing="0.4">XP 015641079 OsCuAO2</text>
<rect x="873.6" y="430.7" width="9" height="9" fill="#ffff00"/>
<text x="888" y="438.3" font-size="8.7" fill="#333" letter-spacing="0.4">XP 015646033 OsCuAO2</text>
<rect x="874.1" y="443.7" width="8" height="8" rx="1.1" fill="#fff" stroke="#333" stroke-width="1"/>
<text x="888" y="450.8" font-size="8.7" fill="#333" letter-spacing="0.4">AT1G62810 AtCuAO1</text>
<rect x="874.1" y="456.2" width="8" height="8" rx="1.1" fill="#fff" stroke="#333" stroke-width="1"/>
<text x="888" y="463.3" font-size="8.7" fill="#333" letter-spacing="0.4">AT3G43670 AtCuAO2</text>
<circle cx="878.1" cy="472.7" r="4" fill="#fff" stroke="#333" stroke-width="1"/>
<text x="888" y="475.8" font-size="8.7" fill="#333" letter-spacing="0.4">XP 017972359 TcCuAO</text>
<polygon points="878.1,481.6 882.1,488.7 874.1,488.7" fill="#fff" stroke="#333" stroke-width="1" stroke-linejoin="miter"/>
<text x="888" y="488.3" font-size="8.7" fill="#333" letter-spacing="0.4">XP 016755589 GhCuAO</text>
<rect x="873.6" y="493.2" width="9" height="9" fill="#ffff00"/>
<text x="888" y="500.8" font-size="8.7" fill="#333" letter-spacing="0.4">XP 015635842 OsCuAO</text>
<rect x="874.1" y="506.2" width="8" height="8" rx="1.1" fill="#fff" stroke="#333" stroke-width="1"/>
<text x="888" y="513.3" font-size="8.7" fill="#333" letter-spacing="0.4">AT4G12270 AtCuAO</text>
<rect x="874.1" y="518.7" width="8" height="8" rx="1.1" fill="#fff" stroke="#333" stroke-width="1"/>
<text x="888" y="525.8" font-size="8.7" fill="#333" letter-spacing="0.4">AT4G12280 AtCuAO</text>
<polygon points="878.1,531.1 882.6,539.2 873.6,539.2" fill="#ffff00"/>
<text x="888" y="538.3" font-size="8.7" fill="#333" letter-spacing="0.4">XP 006367888 StCuAO</text>
<polygon points="878.1,543.6 882.6,551.7 873.6,551.7" fill="#ffff00"/>
<text x="888" y="550.8" font-size="8.7" fill="#333" letter-spacing="0.4">XP 015159060 StCuAO</text>
<circle cx="878.1" cy="560.1" r="4.5" fill="#ff0000"/>
<text x="888" y="563.2" font-size="8.7" fill="#333" letter-spacing="0.4">NP 001315682 MdCuAO</text>
<polygon points="878.1,568.9 879.2,571.5 882,571.7 879.9,573.6 880.5,576.4 878.1,574.9 875.7,576.4 876.3,573.6 874.2,571.7 877,571.5" fill="#f00"/>
<text x="888" y="575.7" font-size="8.7" fill="#333" letter-spacing="0.4">Dlo031638 DlCuAO</text>
<circle cx="878.1" cy="585.1" r="4.5" fill="#ff9e0a"/>
<text x="888" y="588.2" font-size="8.7" fill="#333" letter-spacing="0.4">XP 006477269 CsCuAO</text>
<circle cx="878.1" cy="597.6" r="4" fill="#fff" stroke="#333" stroke-width="1"/>
<text x="888" y="600.7" font-size="8.7" fill="#333" letter-spacing="0.4">XP 017973522 TcCuAO</text>
<polygon points="878.1,606.5 882.1,613.6 874.1,613.6" fill="#fff" stroke="#333" stroke-width="1" stroke-linejoin="miter"/>
<text x="888" y="613.2" font-size="8.7" fill="#333" letter-spacing="0.4">XP 016675839 GhCuAO</text>
<rect x="873.6" y="618.1" width="9" height="9" fill="#ffff00"/>
<text x="888" y="625.7" font-size="8.7" fill="#333" letter-spacing="0.4">XP 015634990 OsCuAO</text>
<polygon points="878.1,631 882.6,639.1 873.6,639.1" fill="#ffff00"/>
<text x="888" y="638.2" font-size="8.7" fill="#333" letter-spacing="0.4">XP 006347431 StCuAO</text>
<polygon points="878.1,643.5 882.6,651.6 873.6,651.6" fill="#ffff00"/>
<text x="888" y="650.7" font-size="8.7" fill="#333" letter-spacing="0.4">XP 006351050 StCuAO</text>
<rect x="874.1" y="656" width="8" height="8" rx="1.1" fill="#fff" stroke="#333" stroke-width="1"/>
<text x="888" y="663.2" font-size="8.7" fill="#333" letter-spacing="0.4">AT2G42490 AtCuAO</text>
<polygon points="878.1,668.5 882.6,676.6 873.6,676.6" fill="#ffff00"/>
<text x="888" y="675.7" font-size="8.7" fill="#333" letter-spacing="0.4">XP 006357609 StCuAO</text>
<polygon points="878.1,681.3 879.2,683.9 882,684.2 879.9,686 880.5,688.8 878.1,687.3 875.7,688.8 876.3,686 874.2,684.2 877,683.9" fill="#f00"/>
<text x="888" y="688.1" font-size="8.7" fill="#333" letter-spacing="0.4">Dlo031995 DlCuAOA</text>
<circle cx="878.1" cy="697.5" r="4.5" fill="#ff9e0a"/>
<text x="888" y="700.6" font-size="8.7" fill="#333" letter-spacing="0.4">XP 006476868 CsCuAO</text>
<circle cx="878.1" cy="710" r="4.5" fill="#ff0000"/>
<text x="888" y="713.1" font-size="8.7" fill="#333" letter-spacing="0.4">NP 001315913 MdCuAO</text>
<polygon points="878.1,719 882.1,726 874.1,726" fill="#fff" stroke="#333" stroke-width="1" stroke-linejoin="miter"/>
<text x="888" y="725.6" font-size="8.7" fill="#333" letter-spacing="0.4">XP 016665570 GhCuAO</text>
<circle cx="878.1" cy="735" r="4.5" fill="#ff0000"/>
<text x="888" y="738.1" font-size="8.7" fill="#333" letter-spacing="0.4">NP 001315950 MdCuAO</text>
<polygon points="878.1,743.9 882.1,751 874.1,751" fill="#fff" stroke="#333" stroke-width="1" stroke-linejoin="miter"/>
<text x="888" y="750.6" font-size="8.7" fill="#333" letter-spacing="0.4">XP 016707927 GhCuAO</text>
<polygon points="878.1,756.2 879.2,758.9 882,759.1 879.9,760.9 880.5,763.7 878.1,762.2 875.7,763.7 876.3,760.9 874.2,759.1 877,758.9" fill="#f00"/>
<text x="888" y="763.1" font-size="8.7" fill="#333" letter-spacing="0.4">Dlo018777 DlCuAOB</text>
<circle cx="878.1" cy="772.5" r="4.5" fill="#ff9e0a"/>
<text x="888" y="775.6" font-size="8.7" fill="#333" letter-spacing="0.4">XP 006483934 CsCuAO</text>
<path d="M1003.4 100.2H1142" stroke="#888" stroke-width="1"/>
<rect class="m" x="1010.7" y="95.7" width="4.3" height="9" fill="url(#g21)"/>
<rect class="m" x="1017" y="95.7" width="5" height="9" fill="url(#g13)"/>
<rect class="m" x="1037" y="95.7" width="3" height="9" fill="url(#g20)"/>
<rect class="m" x="1045" y="95.7" width="7" height="9" fill="url(#g0)"/>
<rect class="m" x="1063.4" y="95.7" width="7.3" height="9" fill="url(#g5)"/>
<rect class="m" x="1071" y="95.7" width="11" height="9" fill="url(#g7)"/>
<rect class="m" x="1082" y="95.7" width="7.7" height="9" fill="url(#g8)"/>
<rect class="m" x="1093" y="95.7" width="8.6" height="9" fill="url(#g12)"/>
<rect class="m" x="1101.6" y="95.7" width="4.1" height="9" fill="url(#g14)"/>
<rect class="m" x="1109" y="95.7" width="5.5" height="9" fill="url(#g9)"/>
<rect class="m" x="1118" y="95.7" width="5.4" height="9" fill="url(#g2)"/>
<rect class="m" x="1126" y="95.7" width="12" height="9" fill="url(#g3)"/>
<path d="M1003.4 113.4H1158" stroke="#888" stroke-width="1"/>
<rect class="m" x="1010.7" y="108.9" width="4.3" height="9" fill="url(#g21)"/>
<rect class="m" x="1017" y="108.9" width="5" height="9" fill="url(#g13)"/>
<rect class="m" x="1037" y="108.9" width="3" height="9" fill="url(#g20)"/>
<rect class="m" x="1045" y="108.9" width="7" height="9" fill="url(#g0)"/>
<rect class="m" x="1063.4" y="108.9" width="7.3" height="9" fill="url(#g5)"/>
<rect class="m" x="1071" y="108.9" width="11" height="9" fill="url(#g7)"/>
<rect class="m" x="1082" y="108.9" width="7.7" height="9" fill="url(#g8)"/>
<rect class="m" x="1093" y="108.9" width="8.6" height="9" fill="url(#g12)"/>
<rect class="m" x="1101.6" y="108.9" width="4.1" height="9" fill="url(#g14)"/>
<rect class="m" x="1109" y="108.9" width="5.5" height="9" fill="url(#g9)"/>
<rect class="m" x="1118" y="108.9" width="5.4" height="9" fill="url(#g2)"/>
<rect class="m" x="1124" y="108.9" width="7" height="9" fill="url(#g11)"/>
<rect class="m" x="1132" y="108.9" width="9" height="9" fill="url(#g15)"/>
<rect class="m" x="1141.8" y="108.9" width="10.9" height="9" fill="url(#g3)"/>
<path d="M1003.4 126.6H1158" stroke="#888" stroke-width="1"/>
<rect class="m" x="1010.7" y="122.1" width="4.3" height="9" fill="url(#g21)"/>
<rect class="m" x="1017" y="122.1" width="5" height="9" fill="url(#g13)"/>
<rect class="m" x="1037" y="122.1" width="3" height="9" fill="url(#g20)"/>
<rect class="m" x="1045" y="122.1" width="7" height="9" fill="url(#g0)"/>
<rect class="m" x="1063.4" y="122.1" width="7.3" height="9" fill="url(#g5)"/>
<rect class="m" x="1071" y="122.1" width="11" height="9" fill="url(#g7)"/>
<rect class="m" x="1082" y="122.1" width="7.7" height="9" fill="url(#g8)"/>
<rect class="m" x="1093" y="122.1" width="8.6" height="9" fill="url(#g12)"/>
<rect class="m" x="1101.6" y="122.1" width="4.1" height="9" fill="url(#g14)"/>
<rect class="m" x="1109" y="122.1" width="5.5" height="9" fill="url(#g9)"/>
<rect class="m" x="1118" y="122.1" width="5.4" height="9" fill="url(#g2)"/>
<rect class="m" x="1124" y="122.1" width="7" height="9" fill="url(#g11)"/>
<rect class="m" x="1132" y="122.1" width="9" height="9" fill="url(#g15)"/>
<rect class="m" x="1141.8" y="122.1" width="10.9" height="9" fill="url(#g3)"/>
<path d="M1003.4 139.8H1157" stroke="#888" stroke-width="1"/>
<rect class="m" x="1009.7" y="135.3" width="4.3" height="9" fill="url(#g21)"/>
<rect class="m" x="1016" y="135.3" width="5" height="9" fill="url(#g13)"/>
<rect class="m" x="1036" y="135.3" width="3" height="9" fill="url(#g20)"/>
<rect class="m" x="1044" y="135.3" width="7" height="9" fill="url(#g0)"/>
<rect class="m" x="1062.4" y="135.3" width="7.3" height="9" fill="url(#g5)"/>
<rect class="m" x="1070" y="135.3" width="11" height="9" fill="url(#g7)"/>
<rect class="m" x="1081" y="135.3" width="7.7" height="9" fill="url(#g8)"/>
<rect class="m" x="1092" y="135.3" width="8.6" height="9" fill="url(#g12)"/>
<rect class="m" x="1100.6" y="135.3" width="4.1" height="9" fill="url(#g14)"/>
<rect class="m" x="1108" y="135.3" width="5.5" height="9" fill="url(#g9)"/>
<rect class="m" x="1117" y="135.3" width="5.4" height="9" fill="url(#g2)"/>
<rect class="m" x="1123" y="135.3" width="7" height="9" fill="url(#g11)"/>
<rect class="m" x="1131" y="135.3" width="9" height="9" fill="url(#g15)"/>
<rect class="m" x="1140.8" y="135.3" width="10.9" height="9" fill="url(#g3)"/>
<path d="M1003.4 153H1158" stroke="#888" stroke-width="1"/>
<rect class="m" x="1010.7" y="148.5" width="4.3" height="9" fill="url(#g21)"/>
<rect class="m" x="1017" y="148.5" width="5" height="9" fill="url(#g13)"/>
<rect class="m" x="1037" y="148.5" width="3" height="9" fill="url(#g20)"/>
<rect class="m" x="1045" y="148.5" width="7" height="9" fill="url(#g0)"/>
<rect class="m" x="1063.4" y="148.5" width="7.3" height="9" fill="url(#g5)"/>
<rect class="m" x="1071" y="148.5" width="11" height="9" fill="url(#g7)"/>
<rect class="m" x="1082" y="148.5" width="7.7" height="9" fill="url(#g8)"/>
<rect class="m" x="1093" y="148.5" width="8.6" height="9" fill="url(#g12)"/>
<rect class="m" x="1101.6" y="148.5" width="4.1" height="9" fill="url(#g14)"/>
<rect class="m" x="1109" y="148.5" width="5.5" height="9" fill="url(#g9)"/>
<rect class="m" x="1118" y="148.5" width="5.4" height="9" fill="url(#g2)"/>
<rect class="m" x="1124" y="148.5" width="7" height="9" fill="url(#g11)"/>
<rect class="m" x="1132" y="148.5" width="9" height="9" fill="url(#g15)"/>
<rect class="m" x="1141.8" y="148.5" width="10.9" height="9" fill="url(#g3)"/>
<path d="M1003.4 166.2H1158" stroke="#888" stroke-width="1"/>
<rect class="m" x="1010.7" y="161.7" width="4.3" height="9" fill="url(#g21)"/>
<rect class="m" x="1017" y="161.7" width="5" height="9" fill="url(#g13)"/>
<rect class="m" x="1037" y="161.7" width="3" height="9" fill="url(#g20)"/>
<rect class="m" x="1045" y="161.7" width="7" height="9" fill="url(#g0)"/>
<rect class="m" x="1063.4" y="161.7" width="7.3" height="9" fill="url(#g5)"/>
<rect class="m" x="1071" y="161.7" width="11" height="9" fill="url(#g7)"/>
<rect class="m" x="1082" y="161.7" width="7.7" height="9" fill="url(#g8)"/>
<rect class="m" x="1093" y="161.7" width="8.6" height="9" fill="url(#g12)"/>
<rect class="m" x="1101.6" y="161.7" width="4.1" height="9" fill="url(#g14)"/>
<rect class="m" x="1109" y="161.7" width="5.5" height="9" fill="url(#g9)"/>
<rect class="m" x="1118" y="161.7" width="5.4" height="9" fill="url(#g2)"/>
<rect class="m" x="1124" y="161.7" width="7" height="9" fill="url(#g11)"/>
<rect class="m" x="1132" y="161.7" width="9" height="9" fill="url(#g15)"/>
<rect class="m" x="1141.8" y="161.7" width="10.9" height="9" fill="url(#g3)"/>
<path d="M1003.4 179.4H1158" stroke="#888" stroke-width="1"/>
<rect class="m" x="1010.7" y="174.9" width="4.3" height="9" fill="url(#g21)"/>
<rect class="m" x="1017" y="174.9" width="5" height="9" fill="url(#g13)"/>
<rect class="m" x="1037" y="174.9" width="3" height="9" fill="url(#g20)"/>
<rect class="m" x="1045" y="174.9" width="7" height="9" fill="url(#g0)"/>
<rect class="m" x="1063.4" y="174.9" width="7.3" height="9" fill="url(#g5)"/>
<rect class="m" x="1071" y="174.9" width="11" height="9" fill="url(#g7)"/>
<rect class="m" x="1082" y="174.9" width="7.7" height="9" fill="url(#g8)"/>
<rect class="m" x="1093" y="174.9" width="8.6" height="9" fill="url(#g12)"/>
<rect class="m" x="1101.6" y="174.9" width="4.1" height="9" fill="url(#g14)"/>
<rect class="m" x="1109" y="174.9" width="5.5" height="9" fill="url(#g9)"/>
<rect class="m" x="1118" y="174.9" width="5.4" height="9" fill="url(#g2)"/>
<rect class="m" x="1124" y="174.9" width="7" height="9" fill="url(#g11)"/>
<rect class="m" x="1132" y="174.9" width="9" height="9" fill="url(#g15)"/>
<rect class="m" x="1141.8" y="174.9" width="10.9" height="9" fill="url(#g3)"/>
<path d="M1003.4 192.6H1158" stroke="#888" stroke-width="1"/>
<rect class="m" x="1010.7" y="188.1" width="4.3" height="9" fill="url(#g21)"/>
<rect class="m" x="1017" y="188.1" width="5" height="9" fill="url(#g13)"/>
<rect class="m" x="1037" y="188.1" width="3" height="9" fill="url(#g20)"/>
<rect class="m" x="1045" y="188.1" width="7" height="9" fill="url(#g0)"/>
<rect class="m" x="1063.4" y="188.1" width="7.3" height="9" fill="url(#g5)"/>
<rect class="m" x="1071" y="188.1" width="11" height="9" fill="url(#g7)"/>
<rect class="m" x="1082" y="188.1" width="7.7" height="9" fill="url(#g8)"/>
<rect class="m" x="1093" y="188.1" width="8.6" height="9" fill="url(#g12)"/>
<rect class="m" x="1101.6" y="188.1" width="4.1" height="9" fill="url(#g14)"/>
<rect class="m" x="1109" y="188.1" width="5.5" height="9" fill="url(#g9)"/>
<rect class="m" x="1118" y="188.1" width="5.4" height="9" fill="url(#g2)"/>
<rect class="m" x="1124" y="188.1" width="7" height="9" fill="url(#g11)"/>
<rect class="m" x="1132" y="188.1" width="9" height="9" fill="url(#g15)"/>
<rect class="m" x="1141.8" y="188.1" width="10.9" height="9" fill="url(#g3)"/>
<path d="M1003.4 205.8H1158" stroke="#888" stroke-width="1"/>
<rect class="m" x="1010.7" y="201.3" width="4.3" height="9" fill="url(#g21)"/>
<rect class="m" x="1017" y="201.3" width="5" height="9" fill="url(#g13)"/>
<rect class="m" x="1037" y="201.3" width="3" height="9" fill="url(#g20)"/>
<rect class="m" x="1045" y="201.3" width="7" height="9" fill="url(#g0)"/>
<rect class="m" x="1063.4" y="201.3" width="7.3" height="9" fill="url(#g5)"/>
<rect class="m" x="1071" y="201.3" width="11" height="9" fill="url(#g7)"/>
<rect class="m" x="1082" y="201.3" width="7.7" height="9" fill="url(#g8)"/>
<rect class="m" x="1093" y="201.3" width="8.6" height="9" fill="url(#g12)"/>
<rect class="m" x="1101.6" y="201.3" width="4.1" height="9" fill="url(#g14)"/>
<rect class="m" x="1109" y="201.3" width="5.5" height="9" fill="url(#g9)"/>
<rect class="m" x="1118" y="201.3" width="5.4" height="9" fill="url(#g2)"/>
<rect class="m" x="1124" y="201.3" width="7" height="9" fill="url(#g11)"/>
<rect class="m" x="1132" y="201.3" width="9" height="9" fill="url(#g15)"/>
<rect class="m" x="1141.8" y="201.3" width="10.9" height="9" fill="url(#g3)"/>
<path d="M1003.4 219H1157" stroke="#888" stroke-width="1"/>
<rect class="m" x="1009.7" y="214.5" width="4.3" height="9" fill="url(#g21)"/>
<rect class="m" x="1016" y="214.5" width="5" height="9" fill="url(#g13)"/>
<rect class="m" x="1036" y="214.5" width="3" height="9" fill="url(#g20)"/>
<rect class="m" x="1044" y="214.5" width="7" height="9" fill="url(#g0)"/>
<rect class="m" x="1062.4" y="214.5" width="7.3" height="9" fill="url(#g5)"/>
<rect class="m" x="1070" y="214.5" width="11" height="9" fill="url(#g7)"/>
<rect class="m" x="1081" y="214.5" width="7.7" height="9" fill="url(#g8)"/>
<rect class="m" x="1092" y="214.5" width="8.6" height="9" fill="url(#g12)"/>
<rect class="m" x="1100.6" y="214.5" width="4.1" height="9" fill="url(#g14)"/>
<rect class="m" x="1108" y="214.5" width="5.5" height="9" fill="url(#g9)"/>
<rect class="m" x="1117" y="214.5" width="5.4" height="9" fill="url(#g2)"/>
<rect class="m" x="1123" y="214.5" width="7" height="9" fill="url(#g11)"/>
<rect class="m" x="1131" y="214.5" width="9" height="9" fill="url(#g15)"/>
<rect class="m" x="1140.8" y="214.5" width="10.9" height="9" fill="url(#g3)"/>
<path d="M1003.4 232.2H1157" stroke="#888" stroke-width="1"/>
<rect class="m" x="1009.7" y="227.7" width="4.3" height="9" fill="url(#g21)"/>
<rect class="m" x="1016" y="227.7" width="5" height="9" fill="url(#g13)"/>
<rect class="m" x="1036" y="227.7" width="3" height="9" fill="url(#g20)"/>
<rect class="m" x="1044" y="227.7" width="7" height="9" fill="url(#g0)"/>
<rect class="m" x="1062.4" y="227.7" width="7.3" height="9" fill="url(#g5)"/>
<rect class="m" x="1070" y="227.7" width="11" height="9" fill="url(#g7)"/>
<rect class="m" x="1081" y="227.7" width="7.7" height="9" fill="url(#g8)"/>
<rect class="m" x="1092" y="227.7" width="8.6" height="9" fill="url(#g12)"/>
<rect class="m" x="1100.6" y="227.7" width="4.1" height="9" fill="url(#g14)"/>
<rect class="m" x="1108" y="227.7" width="5.5" height="9" fill="url(#g9)"/>
<rect class="m" x="1117" y="227.7" width="5.4" height="9" fill="url(#g2)"/>
<rect class="m" x="1123" y="227.7" width="7" height="9" fill="url(#g11)"/>
<rect class="m" x="1131" y="227.7" width="9" height="9" fill="url(#g15)"/>
<rect class="m" x="1140.8" y="227.7" width="10.9" height="9" fill="url(#g3)"/>
<path d="M1003.4 245.4H1160" stroke="#888" stroke-width="1"/>
<rect class="m" x="1012.7" y="240.9" width="4.3" height="9" fill="url(#g21)"/>
<rect class="m" x="1019" y="240.9" width="5" height="9" fill="url(#g13)"/>
<rect class="m" x="1039" y="240.9" width="3" height="9" fill="url(#g20)"/>
<rect class="m" x="1047" y="240.9" width="7" height="9" fill="url(#g0)"/>
<rect class="m" x="1065.4" y="240.9" width="7.3" height="9" fill="url(#g5)"/>
<rect class="m" x="1073" y="240.9" width="11" height="9" fill="url(#g7)"/>
<rect class="m" x="1084" y="240.9" width="7.7" height="9" fill="url(#g8)"/>
<rect class="m" x="1095" y="240.9" width="8.6" height="9" fill="url(#g12)"/>
<rect class="m" x="1103.6" y="240.9" width="4.1" height="9" fill="url(#g14)"/>
<rect class="m" x="1111" y="240.9" width="5.5" height="9" fill="url(#g9)"/>
<rect class="m" x="1120" y="240.9" width="5.4" height="9" fill="url(#g2)"/>
<rect class="m" x="1126" y="240.9" width="7" height="9" fill="url(#g11)"/>
<rect class="m" x="1134" y="240.9" width="9" height="9" fill="url(#g15)"/>
<rect class="m" x="1143.8" y="240.9" width="10.9" height="9" fill="url(#g3)"/>
<path d="M1003.4 258.6H1158" stroke="#888" stroke-width="1"/>
<rect class="m" x="1010.7" y="254.1" width="4.3" height="9" fill="url(#g21)"/>
<rect class="m" x="1017" y="254.1" width="5" height="9" fill="url(#g13)"/>
<rect class="m" x="1037" y="254.1" width="3" height="9" fill="url(#g20)"/>
<rect class="m" x="1045" y="254.1" width="7" height="9" fill="url(#g0)"/>
<rect class="m" x="1063.4" y="254.1" width="7.3" height="9" fill="url(#g5)"/>
<rect class="m" x="1071" y="254.1" width="11" height="9" fill="url(#g7)"/>
<rect class="m" x="1082" y="254.1" width="7.7" height="9" fill="url(#g8)"/>
<rect class="m" x="1093" y="254.1" width="8.6" height="9" fill="url(#g12)"/>
<rect class="m" x="1101.6" y="254.1" width="4.1" height="9" fill="url(#g14)"/>
<rect class="m" x="1109" y="254.1" width="5.5" height="9" fill="url(#g9)"/>
<rect class="m" x="1118" y="254.1" width="5.4" height="9" fill="url(#g2)"/>
<rect class="m" x="1124" y="254.1" width="7" height="9" fill="url(#g11)"/>
<rect class="m" x="1132" y="254.1" width="9" height="9" fill="url(#g15)"/>
<rect class="m" x="1141.8" y="254.1" width="10.9" height="9" fill="url(#g3)"/>
<path d="M1003.4 271.8H1158" stroke="#888" stroke-width="1"/>
<rect class="m" x="1010.7" y="267.3" width="4.3" height="9" fill="url(#g21)"/>
<rect class="m" x="1017" y="267.3" width="5" height="9" fill="url(#g13)"/>
<rect class="m" x="1037" y="267.3" width="3" height="9" fill="url(#g20)"/>
<rect class="m" x="1045" y="267.3" width="7" height="9" fill="url(#g0)"/>
<rect class="m" x="1063.4" y="267.3" width="7.3" height="9" fill="url(#g5)"/>
<rect class="m" x="1071" y="267.3" width="11" height="9" fill="url(#g7)"/>
<rect class="m" x="1082" y="267.3" width="7.7" height="9" fill="url(#g8)"/>
<rect class="m" x="1093" y="267.3" width="8.6" height="9" fill="url(#g12)"/>
<rect class="m" x="1101.6" y="267.3" width="4.1" height="9" fill="url(#g14)"/>
<rect class="m" x="1109" y="267.3" width="5.5" height="9" fill="url(#g9)"/>
<rect class="m" x="1118" y="267.3" width="5.4" height="9" fill="url(#g2)"/>
<rect class="m" x="1124" y="267.3" width="7" height="9" fill="url(#g11)"/>
<rect class="m" x="1132" y="267.3" width="9" height="9" fill="url(#g15)"/>
<rect class="m" x="1141.8" y="267.3" width="10.9" height="9" fill="url(#g3)"/>
<path d="M1003.4 285H1158" stroke="#888" stroke-width="1"/>
<rect class="m" x="1010.7" y="280.5" width="4.3" height="9" fill="url(#g21)"/>
<rect class="m" x="1017" y="280.5" width="5" height="9" fill="url(#g13)"/>
<rect class="m" x="1037" y="280.5" width="3" height="9" fill="url(#g20)"/>
<rect class="m" x="1045" y="280.5" width="7" height="9" fill="url(#g0)"/>
<rect class="m" x="1063.4" y="280.5" width="7.3" height="9" fill="url(#g5)"/>
<rect class="m" x="1071" y="280.5" width="11" height="9" fill="url(#g7)"/>
<rect class="m" x="1082" y="280.5" width="7.7" height="9" fill="url(#g8)"/>
<rect class="m" x="1093" y="280.5" width="8.6" height="9" fill="url(#g12)"/>
<rect class="m" x="1101.6" y="280.5" width="4.1" height="9" fill="url(#g14)"/>
<rect class="m" x="1109" y="280.5" width="5.5" height="9" fill="url(#g9)"/>
<rect class="m" x="1118" y="280.5" width="5.4" height="9" fill="url(#g2)"/>
<rect class="m" x="1124" y="280.5" width="7" height="9" fill="url(#g11)"/>
<rect class="m" x="1132" y="280.5" width="9" height="9" fill="url(#g15)"/>
<rect class="m" x="1141.8" y="280.5" width="10.9" height="9" fill="url(#g3)"/>
<path d="M1003.4 298.2H1176" stroke="#888" stroke-width="1"/>
<rect class="m" x="1028.7" y="293.7" width="4.3" height="9" fill="url(#g21)"/>
<rect class="m" x="1035" y="293.7" width="5" height="9" fill="url(#g13)"/>
<rect class="m" x="1055" y="293.7" width="3" height="9" fill="url(#g20)"/>
<rect class="m" x="1063" y="293.7" width="7" height="9" fill="url(#g0)"/>
<rect class="m" x="1081.4" y="293.7" width="7.3" height="9" fill="url(#g5)"/>
<rect class="m" x="1089" y="293.7" width="11" height="9" fill="url(#g7)"/>
<rect class="m" x="1100" y="293.7" width="7.7" height="9" fill="url(#g8)"/>
<rect class="m" x="1111" y="293.7" width="8.6" height="9" fill="url(#g12)"/>
<rect class="m" x="1119.6" y="293.7" width="4.1" height="9" fill="url(#g14)"/>
<rect class="m" x="1127" y="293.7" width="5.5" height="9" fill="url(#g9)"/>
<rect class="m" x="1136" y="293.7" width="5.4" height="9" fill="url(#g2)"/>
<rect class="m" x="1142" y="293.7" width="7" height="9" fill="url(#g11)"/>
<rect class="m" x="1150" y="293.7" width="9" height="9" fill="url(#g15)"/>
<rect class="m" x="1159.8" y="293.7" width="10.9" height="9" fill="url(#g3)"/>
<path d="M1003.4 311.4H1156" stroke="#888" stroke-width="1"/>
<rect class="m" x="1008.7" y="306.9" width="4.3" height="9" fill="url(#g21)"/>
<rect class="m" x="1015" y="306.9" width="5" height="9" fill="url(#g13)"/>
<rect class="m" x="1035" y="306.9" width="3" height="9" fill="url(#g20)"/>
<rect class="m" x="1043" y="306.9" width="7" height="9" fill="url(#g0)"/>
<rect class="m" x="1061.4" y="306.9" width="7.3" height="9" fill="url(#g5)"/>
<rect class="m" x="1069" y="306.9" width="11" height="9" fill="url(#g7)"/>
<rect class="m" x="1080" y="306.9" width="7.7" height="9" fill="url(#g8)"/>
<rect class="m" x="1091" y="306.9" width="8.6" height="9" fill="url(#g12)"/>
<rect class="m" x="1099.6" y="306.9" width="4.1" height="9" fill="url(#g14)"/>
<rect class="m" x="1107" y="306.9" width="5.5" height="9" fill="url(#g9)"/>
<rect class="m" x="1116" y="306.9" width="5.4" height="9" fill="url(#g2)"/>
<rect class="m" x="1122" y="306.9" width="7" height="9" fill="url(#g11)"/>
<rect class="m" x="1130" y="306.9" width="9" height="9" fill="url(#g15)"/>
<rect class="m" x="1139.8" y="306.9" width="10.9" height="9" fill="url(#g3)"/>
<path d="M1003.4 324.6H1156" stroke="#888" stroke-width="1"/>
<rect class="m" x="1008.7" y="320.1" width="4.3" height="9" fill="url(#g21)"/>
<rect class="m" x="1015" y="320.1" width="5" height="9" fill="url(#g13)"/>
<rect class="m" x="1035" y="320.1" width="3" height="9" fill="url(#g20)"/>
<rect class="m" x="1043" y="320.1" width="7" height="9" fill="url(#g0)"/>
<rect class="m" x="1061.4" y="320.1" width="7.3" height="9" fill="url(#g5)"/>
<rect class="m" x="1069" y="320.1" width="11" height="9" fill="url(#g7)"/>
<rect class="m" x="1080" y="320.1" width="7.7" height="9" fill="url(#g8)"/>
<rect class="m" x="1091" y="320.1" width="8.6" height="9" fill="url(#g12)"/>
<rect class="m" x="1099.6" y="320.1" width="4.1" height="9" fill="url(#g14)"/>
<rect class="m" x="1107" y="320.1" width="5.5" height="9" fill="url(#g9)"/>
<rect class="m" x="1116" y="320.1" width="5.4" height="9" fill="url(#g2)"/>
<rect class="m" x="1122" y="320.1" width="7" height="9" fill="url(#g11)"/>
<rect class="m" x="1130" y="320.1" width="9" height="9" fill="url(#g15)"/>
<rect class="m" x="1139.8" y="320.1" width="10.9" height="9" fill="url(#g3)"/>
<path d="M1003.4 337.8H1156" stroke="#888" stroke-width="1"/>
<rect class="m" x="1008.7" y="333.3" width="4.3" height="9" fill="url(#g21)"/>
<rect class="m" x="1015" y="333.3" width="5" height="9" fill="url(#g13)"/>
<rect class="m" x="1035" y="333.3" width="3" height="9" fill="url(#g20)"/>
<rect class="m" x="1043" y="333.3" width="7" height="9" fill="url(#g0)"/>
<rect class="m" x="1061.4" y="333.3" width="7.3" height="9" fill="url(#g5)"/>
<rect class="m" x="1069" y="333.3" width="11" height="9" fill="url(#g7)"/>
<rect class="m" x="1080" y="333.3" width="7.7" height="9" fill="url(#g8)"/>
<rect class="m" x="1091" y="333.3" width="8.6" height="9" fill="url(#g12)"/>
<rect class="m" x="1099.6" y="333.3" width="4.1" height="9" fill="url(#g14)"/>
<rect class="m" x="1107" y="333.3" width="5.5" height="9" fill="url(#g9)"/>
<rect class="m" x="1116" y="333.3" width="5.4" height="9" fill="url(#g2)"/>
<rect class="m" x="1122" y="333.3" width="7" height="9" fill="url(#g11)"/>
<rect class="m" x="1130" y="333.3" width="9" height="9" fill="url(#g15)"/>
<rect class="m" x="1139.8" y="333.3" width="10.9" height="9" fill="url(#g3)"/>
<path d="M1003.4 351H1157" stroke="#888" stroke-width="1"/>
<rect class="m" x="1009.7" y="346.5" width="4.3" height="9" fill="url(#g21)"/>
<rect class="m" x="1016" y="346.5" width="5" height="9" fill="url(#g13)"/>
<rect class="m" x="1036" y="346.5" width="3" height="9" fill="url(#g20)"/>
<rect class="m" x="1044" y="346.5" width="7" height="9" fill="url(#g0)"/>
<rect class="m" x="1062.4" y="346.5" width="7.3" height="9" fill="url(#g5)"/>
<rect class="m" x="1070" y="346.5" width="11" height="9" fill="url(#g7)"/>
<rect class="m" x="1081" y="346.5" width="7.7" height="9" fill="url(#g8)"/>
<rect class="m" x="1092" y="346.5" width="8.6" height="9" fill="url(#g12)"/>
<rect class="m" x="1100.6" y="346.5" width="4.1" height="9" fill="url(#g14)"/>
<rect class="m" x="1108" y="346.5" width="5.5" height="9" fill="url(#g9)"/>
<rect class="m" x="1117" y="346.5" width="5.4" height="9" fill="url(#g2)"/>
<rect class="m" x="1123" y="346.5" width="7" height="9" fill="url(#g11)"/>
<rect class="m" x="1131" y="346.5" width="9" height="9" fill="url(#g15)"/>
<rect class="m" x="1140.8" y="346.5" width="10.9" height="9" fill="url(#g3)"/>
<path d="M1003.4 364.2H1157" stroke="#888" stroke-width="1"/>
<rect class="m" x="1009.7" y="359.7" width="4.3" height="9" fill="url(#g21)"/>
<rect class="m" x="1016" y="359.7" width="5" height="9" fill="url(#g13)"/>
<rect class="m" x="1036" y="359.7" width="3" height="9" fill="url(#g20)"/>
<rect class="m" x="1044" y="359.7" width="7" height="9" fill="url(#g0)"/>
<rect class="m" x="1062.4" y="359.7" width="7.3" height="9" fill="url(#g5)"/>
<rect class="m" x="1070" y="359.7" width="11" height="9" fill="url(#g7)"/>
<rect class="m" x="1081" y="359.7" width="7.7" height="9" fill="url(#g8)"/>
<rect class="m" x="1092" y="359.7" width="8.6" height="9" fill="url(#g12)"/>
<rect class="m" x="1100.6" y="359.7" width="4.1" height="9" fill="url(#g14)"/>
<rect class="m" x="1108" y="359.7" width="5.5" height="9" fill="url(#g9)"/>
<rect class="m" x="1117" y="359.7" width="5.4" height="9" fill="url(#g2)"/>
<rect class="m" x="1123" y="359.7" width="7" height="9" fill="url(#g11)"/>
<rect class="m" x="1131" y="359.7" width="9" height="9" fill="url(#g15)"/>
<rect class="m" x="1140.8" y="359.7" width="10.9" height="9" fill="url(#g3)"/>
<rect class="m" x="1029.5" y="359.7" width="4" height="9" fill="url(#g21)"/>
<path d="M1003.4 377.4H1157" stroke="#888" stroke-width="1"/>
<rect class="m" x="1009.7" y="372.9" width="4.3" height="9" fill="url(#g21)"/>
<rect class="m" x="1016" y="372.9" width="5" height="9" fill="url(#g13)"/>
<rect class="m" x="1036" y="372.9" width="3" height="9" fill="url(#g20)"/>
<rect class="m" x="1044" y="372.9" width="7" height="9" fill="url(#g0)"/>
<rect class="m" x="1062.4" y="372.9" width="7.3" height="9" fill="url(#g5)"/>
<rect class="m" x="1070" y="372.9" width="11" height="9" fill="url(#g7)"/>
<rect class="m" x="1081" y="372.9" width="7.7" height="9" fill="url(#g8)"/>
<rect class="m" x="1092" y="372.9" width="8.6" height="9" fill="url(#g12)"/>
<rect class="m" x="1100.6" y="372.9" width="4.1" height="9" fill="url(#g14)"/>
<rect class="m" x="1108" y="372.9" width="5.5" height="9" fill="url(#g9)"/>
<rect class="m" x="1117" y="372.9" width="5.4" height="9" fill="url(#g2)"/>
<rect class="m" x="1123" y="372.9" width="7" height="9" fill="url(#g11)"/>
<rect class="m" x="1131" y="372.9" width="9" height="9" fill="url(#g15)"/>
<rect class="m" x="1140.8" y="372.9" width="10.9" height="9" fill="url(#g3)"/>
<rect class="m" x="1029.5" y="372.9" width="4" height="9" fill="url(#g21)"/>
<path d="M1003.4 390.6H1161" stroke="#888" stroke-width="1"/>
<rect class="m" x="1013.7" y="386.1" width="4.3" height="9" fill="url(#g21)"/>
<rect class="m" x="1020" y="386.1" width="5" height="9" fill="url(#g13)"/>
<rect class="m" x="1040" y="386.1" width="3" height="9" fill="url(#g20)"/>
<rect class="m" x="1048" y="386.1" width="7" height="9" fill="url(#g0)"/>
<rect class="m" x="1066.4" y="386.1" width="7.3" height="9" fill="url(#g5)"/>
<rect class="m" x="1074" y="386.1" width="11" height="9" fill="url(#g7)"/>
<rect class="m" x="1085" y="386.1" width="7.7" height="9" fill="url(#g8)"/>
<rect class="m" x="1096" y="386.1" width="8.6" height="9" fill="url(#g12)"/>
<rect class="m" x="1104.6" y="386.1" width="4.1" height="9" fill="url(#g14)"/>
<rect class="m" x="1112" y="386.1" width="5.5" height="9" fill="url(#g9)"/>
<rect class="m" x="1121" y="386.1" width="5.4" height="9" fill="url(#g2)"/>
<rect class="m" x="1127" y="386.1" width="7" height="9" fill="url(#g11)"/>
<rect class="m" x="1135" y="386.1" width="9" height="9" fill="url(#g15)"/>
<rect class="m" x="1144.8" y="386.1" width="10.9" height="9" fill="url(#g3)"/>
<path d="M1003.4 403.8H1157" stroke="#888" stroke-width="1"/>
<rect class="m" x="1009.7" y="399.3" width="4.3" height="9" fill="url(#g21)"/>
<rect class="m" x="1016" y="399.3" width="5" height="9" fill="url(#g13)"/>
<rect class="m" x="1036" y="399.3" width="3" height="9" fill="url(#g20)"/>
<rect class="m" x="1044" y="399.3" width="7" height="9" fill="url(#g0)"/>
<rect class="m" x="1062.4" y="399.3" width="7.3" height="9" fill="url(#g5)"/>
<rect class="m" x="1070" y="399.3" width="11" height="9" fill="url(#g7)"/>
<rect class="m" x="1081" y="399.3" width="7.7" height="9" fill="url(#g8)"/>
<rect class="m" x="1092" y="399.3" width="8.6" height="9" fill="url(#g12)"/>
<rect class="m" x="1100.6" y="399.3" width="4.1" height="9" fill="url(#g14)"/>
<rect class="m" x="1108" y="399.3" width="5.5" height="9" fill="url(#g9)"/>
<rect class="m" x="1117" y="399.3" width="5.4" height="9" fill="url(#g2)"/>
<rect class="m" x="1123" y="399.3" width="7" height="9" fill="url(#g11)"/>
<rect class="m" x="1131" y="399.3" width="9" height="9" fill="url(#g15)"/>
<rect class="m" x="1140.8" y="399.3" width="10.9" height="9" fill="url(#g3)"/>
<path d="M1003.4 417H1159" stroke="#888" stroke-width="1"/>
<rect class="m" x="1011.7" y="412.5" width="4.3" height="9" fill="url(#g21)"/>
<rect class="m" x="1018" y="412.5" width="5" height="9" fill="url(#g13)"/>
<rect class="m" x="1038" y="412.5" width="3" height="9" fill="url(#g20)"/>
<rect class="m" x="1046" y="412.5" width="7" height="9" fill="url(#g0)"/>
<rect class="m" x="1064.4" y="412.5" width="7.3" height="9" fill="url(#g5)"/>
<rect class="m" x="1072" y="412.5" width="11" height="9" fill="url(#g7)"/>
<rect class="m" x="1083" y="412.5" width="7.7" height="9" fill="url(#g8)"/>
<rect class="m" x="1094" y="412.5" width="8.6" height="9" fill="url(#g12)"/>
<rect class="m" x="1102.6" y="412.5" width="4.1" height="9" fill="url(#g14)"/>
<rect class="m" x="1110" y="412.5" width="5.5" height="9" fill="url(#g9)"/>
<rect class="m" x="1119" y="412.5" width="5.4" height="9" fill="url(#g2)"/>
<rect class="m" x="1125" y="412.5" width="7" height="9" fill="url(#g11)"/>
<rect class="m" x="1133" y="412.5" width="9" height="9" fill="url(#g15)"/>
<rect class="m" x="1142.8" y="412.5" width="10.9" height="9" fill="url(#g3)"/>
<path d="M1003.4 430.2H1161" stroke="#888" stroke-width="1"/>
<rect class="m" x="1013.7" y="425.7" width="4.3" height="9" fill="url(#g21)"/>
<rect class="m" x="1020" y="425.7" width="5" height="9" fill="url(#g13)"/>
<rect class="m" x="1040" y="425.7" width="3" height="9" fill="url(#g20)"/>
<rect class="m" x="1048" y="425.7" width="7" height="9" fill="url(#g0)"/>
<rect class="m" x="1066.4" y="425.7" width="7.3" height="9" fill="url(#g5)"/>
<rect class="m" x="1074" y="425.7" width="11" height="9" fill="url(#g7)"/>
<rect class="m" x="1085" y="425.7" width="7.7" height="9" fill="url(#g8)"/>
<rect class="m" x="1096" y="425.7" width="8.6" height="9" fill="url(#g12)"/>
<rect class="m" x="1104.6" y="425.7" width="4.1" height="9" fill="url(#g14)"/>
<rect class="m" x="1112" y="425.7" width="5.5" height="9" fill="url(#g9)"/>
<rect class="m" x="1121" y="425.7" width="5.4" height="9" fill="url(#g2)"/>
<rect class="m" x="1127" y="425.7" width="7" height="9" fill="url(#g11)"/>
<rect class="m" x="1135" y="425.7" width="9" height="9" fill="url(#g15)"/>
<rect class="m" x="1144.8" y="425.7" width="10.9" height="9" fill="url(#g3)"/>
<path d="M1003.4 443.4H1161" stroke="#888" stroke-width="1"/>
<rect class="m" x="1013.7" y="438.9" width="4.3" height="9" fill="url(#g21)"/>
<rect class="m" x="1020" y="438.9" width="5" height="9" fill="url(#g13)"/>
<rect class="m" x="1040" y="438.9" width="3" height="9" fill="url(#g20)"/>
<rect class="m" x="1048" y="438.9" width="7" height="9" fill="url(#g0)"/>
<rect class="m" x="1066.4" y="438.9" width="7.3" height="9" fill="url(#g5)"/>
<rect class="m" x="1074" y="438.9" width="11" height="9" fill="url(#g7)"/>
<rect class="m" x="1085" y="438.9" width="7.7" height="9" fill="url(#g8)"/>
<rect class="m" x="1096" y="438.9" width="8.6" height="9" fill="url(#g12)"/>
<rect class="m" x="1104.6" y="438.9" width="4.1" height="9" fill="url(#g14)"/>
<rect class="m" x="1112" y="438.9" width="5.5" height="9" fill="url(#g9)"/>
<rect class="m" x="1121" y="438.9" width="5.4" height="9" fill="url(#g2)"/>
<rect class="m" x="1127" y="438.9" width="7" height="9" fill="url(#g11)"/>
<rect class="m" x="1135" y="438.9" width="9" height="9" fill="url(#g15)"/>
<rect class="m" x="1144.8" y="438.9" width="10.9" height="9" fill="url(#g3)"/>
<path d="M1003.4 456.6H1165" stroke="#888" stroke-width="1"/>
<rect class="m" x="1017.7" y="452.1" width="4.3" height="9" fill="url(#g21)"/>
<rect class="m" x="1024" y="452.1" width="5" height="9" fill="url(#g13)"/>
<rect class="m" x="1044" y="452.1" width="3" height="9" fill="url(#g20)"/>
<rect class="m" x="1052" y="452.1" width="7" height="9" fill="url(#g0)"/>
<rect class="m" x="1070.4" y="452.1" width="7.3" height="9" fill="url(#g5)"/>
<rect class="m" x="1078" y="452.1" width="11" height="9" fill="url(#g7)"/>
<rect class="m" x="1089" y="452.1" width="7.7" height="9" fill="url(#g8)"/>
<rect class="m" x="1100" y="452.1" width="8.6" height="9" fill="url(#g12)"/>
<rect class="m" x="1108.6" y="452.1" width="4.1" height="9" fill="url(#g14)"/>
<rect class="m" x="1116" y="452.1" width="5.5" height="9" fill="url(#g9)"/>
<rect class="m" x="1125" y="452.1" width="5.4" height="9" fill="url(#g2)"/>
<rect class="m" x="1131" y="452.1" width="7" height="9" fill="url(#g11)"/>
<rect class="m" x="1139" y="452.1" width="9" height="9" fill="url(#g15)"/>
<rect class="m" x="1148.8" y="452.1" width="10.9" height="9" fill="url(#g3)"/>
<path d="M1003.4 469.8H1160" stroke="#888" stroke-width="1"/>
<rect class="m" x="1012.7" y="465.3" width="4.3" height="9" fill="url(#g21)"/>
<rect class="m" x="1019" y="465.3" width="5" height="9" fill="url(#g13)"/>
<rect class="m" x="1039" y="465.3" width="3" height="9" fill="url(#g20)"/>
<rect class="m" x="1047" y="465.3" width="7" height="9" fill="url(#g0)"/>
<rect class="m" x="1065.4" y="465.3" width="7.3" height="9" fill="url(#g5)"/>
<rect class="m" x="1073" y="465.3" width="11" height="9" fill="url(#g7)"/>
<rect class="m" x="1084" y="465.3" width="7.7" height="9" fill="url(#g8)"/>
<rect class="m" x="1095" y="465.3" width="8.6" height="9" fill="url(#g12)"/>
<rect class="m" x="1103.6" y="465.3" width="4.1" height="9" fill="url(#g14)"/>
<rect class="m" x="1111" y="465.3" width="5.5" height="9" fill="url(#g9)"/>
<rect class="m" x="1120" y="465.3" width="5.4" height="9" fill="url(#g2)"/>
<rect class="m" x="1126" y="465.3" width="7" height="9" fill="url(#g11)"/>
<rect class="m" x="1134" y="465.3" width="9" height="9" fill="url(#g15)"/>
<rect class="m" x="1143.8" y="465.3" width="10.9" height="9" fill="url(#g3)"/>
<path d="M1003.4 483H1176" stroke="#888" stroke-width="1"/>
<rect class="m" x="1028.7" y="478.5" width="4.3" height="9" fill="url(#g21)"/>
<rect class="m" x="1035" y="478.5" width="5" height="9" fill="url(#g13)"/>
<rect class="m" x="1055" y="478.5" width="3" height="9" fill="url(#g20)"/>
<rect class="m" x="1063" y="478.5" width="7" height="9" fill="url(#g0)"/>
<rect class="m" x="1081.4" y="478.5" width="7.3" height="9" fill="url(#g5)"/>
<rect class="m" x="1089" y="478.5" width="11" height="9" fill="url(#g7)"/>
<rect class="m" x="1100" y="478.5" width="7.7" height="9" fill="url(#g8)"/>
<rect class="m" x="1111" y="478.5" width="8.6" height="9" fill="url(#g12)"/>
<rect class="m" x="1119.6" y="478.5" width="4.1" height="9" fill="url(#g14)"/>
<rect class="m" x="1127" y="478.5" width="5.5" height="9" fill="url(#g9)"/>
<rect class="m" x="1136" y="478.5" width="5.4" height="9" fill="url(#g2)"/>
<rect class="m" x="1142" y="478.5" width="7" height="9" fill="url(#g11)"/>
<rect class="m" x="1150" y="478.5" width="9" height="9" fill="url(#g15)"/>
<rect class="m" x="1159.8" y="478.5" width="10.9" height="9" fill="url(#g3)"/>
<path d="M1003.4 496.2H1164" stroke="#888" stroke-width="1"/>
<rect class="m" x="1016.7" y="491.7" width="4.3" height="9" fill="url(#g21)"/>
<rect class="m" x="1023" y="491.7" width="5" height="9" fill="url(#g13)"/>
<rect class="m" x="1043" y="491.7" width="3" height="9" fill="url(#g20)"/>
<rect class="m" x="1051" y="491.7" width="7" height="9" fill="url(#g0)"/>
<rect class="m" x="1069.4" y="491.7" width="7.3" height="9" fill="url(#g5)"/>
<rect class="m" x="1077" y="491.7" width="11" height="9" fill="url(#g7)"/>
<rect class="m" x="1088" y="491.7" width="7.7" height="9" fill="url(#g8)"/>
<rect class="m" x="1099" y="491.7" width="8.6" height="9" fill="url(#g12)"/>
<rect class="m" x="1107.6" y="491.7" width="4.1" height="9" fill="url(#g14)"/>
<rect class="m" x="1115" y="491.7" width="5.5" height="9" fill="url(#g9)"/>
<rect class="m" x="1124" y="491.7" width="5.4" height="9" fill="url(#g2)"/>
<rect class="m" x="1130" y="491.7" width="7" height="9" fill="url(#g11)"/>
<rect class="m" x="1138" y="491.7" width="9" height="9" fill="url(#g15)"/>
<rect class="m" x="1147.8" y="491.7" width="10.9" height="9" fill="url(#g3)"/>
<path d="M1003.4 509.4H1170.8" stroke="#888" stroke-width="1"/>
<rect class="m" x="1023.5" y="504.9" width="4.3" height="9" fill="url(#g21)"/>
<rect class="m" x="1029.8" y="504.9" width="5" height="9" fill="url(#g13)"/>
<rect class="m" x="1049.8" y="504.9" width="3" height="9" fill="url(#g20)"/>
<rect class="m" x="1057.8" y="504.9" width="7" height="9" fill="url(#g0)"/>
<rect class="m" x="1076.2" y="504.9" width="7.3" height="9" fill="url(#g5)"/>
<rect class="m" x="1083.8" y="504.9" width="11" height="9" fill="url(#g7)"/>
<rect class="m" x="1094.8" y="504.9" width="7.7" height="9" fill="url(#g8)"/>
<rect class="m" x="1105.8" y="504.9" width="8.6" height="9" fill="url(#g12)"/>
<rect class="m" x="1114.4" y="504.9" width="4.1" height="9" fill="url(#g14)"/>
<rect class="m" x="1121.8" y="504.9" width="5.5" height="9" fill="url(#g9)"/>
<rect class="m" x="1130.8" y="504.9" width="5.4" height="9" fill="url(#g2)"/>
<rect class="m" x="1136.8" y="504.9" width="7" height="9" fill="url(#g11)"/>
<rect class="m" x="1144.8" y="504.9" width="9" height="9" fill="url(#g15)"/>
<rect class="m" x="1154.6" y="504.9" width="10.9" height="9" fill="url(#g3)"/>
<path d="M1003.4 522.6H1105" stroke="#888" stroke-width="1"/>
<rect class="m" x="1023.5" y="518.1" width="4.3" height="9" fill="url(#g21)"/>
<rect class="m" x="1029.8" y="518.1" width="5" height="9" fill="url(#g13)"/>
<rect class="m" x="1049.8" y="518.1" width="3" height="9" fill="url(#g20)"/>
<rect class="m" x="1057.8" y="518.1" width="7" height="9" fill="url(#g0)"/>
<rect class="m" x="1076.2" y="518.1" width="7.3" height="9" fill="url(#g5)"/>
<rect class="m" x="1083.8" y="518.1" width="11" height="9" fill="url(#g7)"/>
<rect class="m" x="1094.8" y="518.1" width="7.7" height="9" fill="url(#g8)"/>
<path d="M1003.4 535.8H1170.8" stroke="#888" stroke-width="1"/>
<rect class="m" x="1023.5" y="531.3" width="4.3" height="9" fill="url(#g21)"/>
<rect class="m" x="1029.8" y="531.3" width="5" height="9" fill="url(#g13)"/>
<rect class="m" x="1049.8" y="531.3" width="3" height="9" fill="url(#g20)"/>
<rect class="m" x="1057.8" y="531.3" width="7" height="9" fill="url(#g0)"/>
<rect class="m" x="1076.2" y="531.3" width="7.3" height="9" fill="url(#g5)"/>
<rect class="m" x="1083.8" y="531.3" width="11" height="9" fill="url(#g7)"/>
<rect class="m" x="1094.8" y="531.3" width="7.7" height="9" fill="url(#g8)"/>
<rect class="m" x="1105.8" y="531.3" width="8.6" height="9" fill="url(#g12)"/>
<rect class="m" x="1114.4" y="531.3" width="4.1" height="9" fill="url(#g14)"/>
<rect class="m" x="1121.8" y="531.3" width="5.5" height="9" fill="url(#g9)"/>
<rect class="m" x="1130.8" y="531.3" width="5.4" height="9" fill="url(#g2)"/>
<rect class="m" x="1136.8" y="531.3" width="7" height="9" fill="url(#g11)"/>
<rect class="m" x="1144.8" y="531.3" width="9" height="9" fill="url(#g15)"/>
<rect class="m" x="1154.6" y="531.3" width="10.9" height="9" fill="url(#g3)"/>
<path d="M1003.4 549H1167" stroke="#888" stroke-width="1"/>
<rect class="m" x="1019.7" y="544.5" width="4.3" height="9" fill="url(#g21)"/>
<rect class="m" x="1026" y="544.5" width="5" height="9" fill="url(#g13)"/>
<rect class="m" x="1046" y="544.5" width="3" height="9" fill="url(#g20)"/>
<rect class="m" x="1054" y="544.5" width="7" height="9" fill="url(#g0)"/>
<rect class="m" x="1072.4" y="544.5" width="7.3" height="9" fill="url(#g5)"/>
<rect class="m" x="1080" y="544.5" width="11" height="9" fill="url(#g7)"/>
<rect class="m" x="1091" y="544.5" width="7.7" height="9" fill="url(#g8)"/>
<rect class="m" x="1102" y="544.5" width="8.6" height="9" fill="url(#g12)"/>
<rect class="m" x="1110.6" y="544.5" width="4.1" height="9" fill="url(#g14)"/>
<rect class="m" x="1118" y="544.5" width="5.5" height="9" fill="url(#g9)"/>
<rect class="m" x="1127" y="544.5" width="5.4" height="9" fill="url(#g2)"/>
<rect class="m" x="1133" y="544.5" width="7" height="9" fill="url(#g11)"/>
<rect class="m" x="1141" y="544.5" width="9" height="9" fill="url(#g15)"/>
<rect class="m" x="1150.8" y="544.5" width="10.9" height="9" fill="url(#g3)"/>
<path d="M1003.4 562.2H1167" stroke="#888" stroke-width="1"/>
<rect class="m" x="1019.7" y="557.7" width="4.3" height="9" fill="url(#g21)"/>
<rect class="m" x="1026" y="557.7" width="5" height="9" fill="url(#g13)"/>
<rect class="m" x="1046" y="557.7" width="3" height="9" fill="url(#g20)"/>
<rect class="m" x="1054" y="557.7" width="7" height="9" fill="url(#g0)"/>
<rect class="m" x="1072.4" y="557.7" width="7.3" height="9" fill="url(#g5)"/>
<rect class="m" x="1080" y="557.7" width="11" height="9" fill="url(#g7)"/>
<rect class="m" x="1091" y="557.7" width="7.7" height="9" fill="url(#g8)"/>
<rect class="m" x="1102" y="557.7" width="8.6" height="9" fill="url(#g12)"/>
<rect class="m" x="1110.6" y="557.7" width="4.1" height="9" fill="url(#g14)"/>
<rect class="m" x="1118" y="557.7" width="5.5" height="9" fill="url(#g9)"/>
<rect class="m" x="1127" y="557.7" width="5.4" height="9" fill="url(#g2)"/>
<rect class="m" x="1133" y="557.7" width="7" height="9" fill="url(#g11)"/>
<rect class="m" x="1141" y="557.7" width="9" height="9" fill="url(#g15)"/>
<rect class="m" x="1150.8" y="557.7" width="10.9" height="9" fill="url(#g3)"/>
<path d="M1003.4 575.4H1168" stroke="#888" stroke-width="1"/>
<rect class="m" x="1020.7" y="570.9" width="4.3" height="9" fill="url(#g21)"/>
<rect class="m" x="1027" y="570.9" width="5" height="9" fill="url(#g13)"/>
<rect class="m" x="1047" y="570.9" width="3" height="9" fill="url(#g20)"/>
<rect class="m" x="1055" y="570.9" width="7" height="9" fill="url(#g0)"/>
<rect class="m" x="1073.4" y="570.9" width="7.3" height="9" fill="url(#g5)"/>
<rect class="m" x="1081" y="570.9" width="11" height="9" fill="url(#g7)"/>
<rect class="m" x="1092" y="570.9" width="7.7" height="9" fill="url(#g8)"/>
<rect class="m" x="1103" y="570.9" width="8.6" height="9" fill="url(#g12)"/>
<rect class="m" x="1111.6" y="570.9" width="4.1" height="9" fill="url(#g14)"/>
<rect class="m" x="1119" y="570.9" width="5.5" height="9" fill="url(#g9)"/>
<rect class="m" x="1128" y="570.9" width="5.4" height="9" fill="url(#g2)"/>
<rect class="m" x="1134" y="570.9" width="7" height="9" fill="url(#g11)"/>
<rect class="m" x="1142" y="570.9" width="9" height="9" fill="url(#g15)"/>
<rect class="m" x="1151.8" y="570.9" width="10.9" height="9" fill="url(#g3)"/>
<path d="M1003.4 588.6H1171" stroke="#888" stroke-width="1"/>
<rect class="m" x="1023.7" y="584.1" width="4.3" height="9" fill="url(#g21)"/>
<rect class="m" x="1030" y="584.1" width="5" height="9" fill="url(#g13)"/>
<rect class="m" x="1050" y="584.1" width="3" height="9" fill="url(#g20)"/>
<rect class="m" x="1058" y="584.1" width="7" height="9" fill="url(#g0)"/>
<rect class="m" x="1076.4" y="584.1" width="7.3" height="9" fill="url(#g5)"/>
<rect class="m" x="1084" y="584.1" width="11" height="9" fill="url(#g7)"/>
<rect class="m" x="1095" y="584.1" width="7.7" height="9" fill="url(#g8)"/>
<rect class="m" x="1106" y="584.1" width="8.6" height="9" fill="url(#g12)"/>
<rect class="m" x="1114.6" y="584.1" width="4.1" height="9" fill="url(#g14)"/>
<rect class="m" x="1122" y="584.1" width="5.5" height="9" fill="url(#g9)"/>
<rect class="m" x="1131" y="584.1" width="5.4" height="9" fill="url(#g2)"/>
<rect class="m" x="1137" y="584.1" width="7" height="9" fill="url(#g11)"/>
<rect class="m" x="1145" y="584.1" width="9" height="9" fill="url(#g15)"/>
<rect class="m" x="1154.8" y="584.1" width="10.9" height="9" fill="url(#g3)"/>
<path d="M1003.4 601.8H1169" stroke="#888" stroke-width="1"/>
<rect class="m" x="1021.7" y="597.3" width="4.3" height="9" fill="url(#g21)"/>
<rect class="m" x="1028" y="597.3" width="5" height="9" fill="url(#g13)"/>
<rect class="m" x="1048" y="597.3" width="3" height="9" fill="url(#g20)"/>
<rect class="m" x="1056" y="597.3" width="7" height="9" fill="url(#g0)"/>
<rect class="m" x="1074.4" y="597.3" width="7.3" height="9" fill="url(#g5)"/>
<rect class="m" x="1082" y="597.3" width="11" height="9" fill="url(#g7)"/>
<rect class="m" x="1093" y="597.3" width="7.7" height="9" fill="url(#g8)"/>
<rect class="m" x="1104" y="597.3" width="8.6" height="9" fill="url(#g12)"/>
<rect class="m" x="1112.6" y="597.3" width="4.1" height="9" fill="url(#g14)"/>
<rect class="m" x="1120" y="597.3" width="5.5" height="9" fill="url(#g9)"/>
<rect class="m" x="1129" y="597.3" width="5.4" height="9" fill="url(#g2)"/>
<rect class="m" x="1135" y="597.3" width="7" height="9" fill="url(#g11)"/>
<rect class="m" x="1143" y="597.3" width="9" height="9" fill="url(#g15)"/>
<rect class="m" x="1152.8" y="597.3" width="10.9" height="9" fill="url(#g3)"/>
<path d="M1003.4 615H1170.8" stroke="#888" stroke-width="1"/>
<rect class="m" x="1023.5" y="610.5" width="4.3" height="9" fill="url(#g21)"/>
<rect class="m" x="1029.8" y="610.5" width="5" height="9" fill="url(#g13)"/>
<rect class="m" x="1049.8" y="610.5" width="3" height="9" fill="url(#g20)"/>
<rect class="m" x="1057.8" y="610.5" width="7" height="9" fill="url(#g0)"/>
<rect class="m" x="1076.2" y="610.5" width="7.3" height="9" fill="url(#g5)"/>
<rect class="m" x="1083.8" y="610.5" width="11" height="9" fill="url(#g7)"/>
<rect class="m" x="1094.8" y="610.5" width="7.7" height="9" fill="url(#g8)"/>
<rect class="m" x="1105.8" y="610.5" width="8.6" height="9" fill="url(#g12)"/>
<rect class="m" x="1114.4" y="610.5" width="4.1" height="9" fill="url(#g14)"/>
<rect class="m" x="1121.8" y="610.5" width="5.5" height="9" fill="url(#g9)"/>
<rect class="m" x="1130.8" y="610.5" width="5.4" height="9" fill="url(#g2)"/>
<rect class="m" x="1136.8" y="610.5" width="7" height="9" fill="url(#g11)"/>
<rect class="m" x="1144.8" y="610.5" width="9" height="9" fill="url(#g15)"/>
<rect class="m" x="1154.6" y="610.5" width="10.9" height="9" fill="url(#g3)"/>
<path d="M1003.4 628.2H1170.8" stroke="#888" stroke-width="1"/>
<rect class="m" x="1023.5" y="623.7" width="4.3" height="9" fill="url(#g21)"/>
<rect class="m" x="1029.8" y="623.7" width="5" height="9" fill="url(#g13)"/>
<rect class="m" x="1049.8" y="623.7" width="3" height="9" fill="url(#g20)"/>
<rect class="m" x="1057.8" y="623.7" width="7" height="9" fill="url(#g0)"/>
<rect class="m" x="1076.2" y="623.7" width="7.3" height="9" fill="url(#g5)"/>
<rect class="m" x="1083.8" y="623.7" width="11" height="9" fill="url(#g7)"/>
<rect class="m" x="1094.8" y="623.7" width="7.7" height="9" fill="url(#g8)"/>
<rect class="m" x="1105.8" y="623.7" width="8.6" height="9" fill="url(#g12)"/>
<rect class="m" x="1114.4" y="623.7" width="4.1" height="9" fill="url(#g14)"/>
<rect class="m" x="1121.8" y="623.7" width="5.5" height="9" fill="url(#g9)"/>
<rect class="m" x="1130.8" y="623.7" width="5.4" height="9" fill="url(#g2)"/>
<rect class="m" x="1136.8" y="623.7" width="7" height="9" fill="url(#g11)"/>
<rect class="m" x="1144.8" y="623.7" width="9" height="9" fill="url(#g15)"/>
<rect class="m" x="1154.6" y="623.7" width="10.9" height="9" fill="url(#g3)"/>
<path d="M1003.4 641.4H1188" stroke="#888" stroke-width="1"/>
<rect class="m" x="1026.6" y="636.9" width="3.9" height="9" fill="url(#g21)"/>
<rect class="m" x="1033.5" y="636.9" width="4.2" height="9" fill="url(#g13)"/>
<rect class="m" x="1047" y="636.9" width="10.7" height="9" fill="url(#g19)"/>
<rect class="m" x="1060" y="636.9" width="2" height="9" fill="url(#g20)"/>
<rect class="m" x="1070" y="636.9" width="6" height="9" fill="url(#g0)"/>
<rect class="m" x="1088.6" y="636.9" width="6.4" height="9" fill="url(#g5)"/>
<rect class="m" x="1095" y="636.9" width="12.8" height="9" fill="url(#g7)"/>
<rect class="m" x="1107.8" y="636.9" width="5.9" height="9" fill="url(#g8)"/>
<rect class="m" x="1117" y="636.9" width="9" height="9" fill="url(#g12)"/>
<rect class="m" x="1126" y="636.9" width="4" height="9" fill="url(#g14)"/>
<rect class="m" x="1132" y="636.9" width="5.5" height="9" fill="url(#g9)"/>
<rect class="m" x="1148" y="636.9" width="6" height="9" fill="url(#g11)"/>
<rect class="m" x="1156" y="636.9" width="9" height="9" fill="url(#g15)"/>
<rect class="m" x="1166" y="636.9" width="11" height="9" fill="url(#g3)"/>
<path d="M1003.4 654.6H1182.6" stroke="#888" stroke-width="1"/>
<rect class="m" x="1021.2" y="650.1" width="3.9" height="9" fill="url(#g21)"/>
<rect class="m" x="1028.1" y="650.1" width="4.2" height="9" fill="url(#g13)"/>
<rect class="m" x="1041.6" y="650.1" width="10.7" height="9" fill="url(#g19)"/>
<rect class="m" x="1054.6" y="650.1" width="2" height="9" fill="url(#g20)"/>
<rect class="m" x="1064.6" y="650.1" width="6" height="9" fill="url(#g0)"/>
<rect class="m" x="1083.2" y="650.1" width="6.4" height="9" fill="url(#g5)"/>
<rect class="m" x="1089.6" y="650.1" width="12.8" height="9" fill="url(#g7)"/>
<rect class="m" x="1102.4" y="650.1" width="5.9" height="9" fill="url(#g8)"/>
<rect class="m" x="1111.6" y="650.1" width="9" height="9" fill="url(#g12)"/>
<rect class="m" x="1120.6" y="650.1" width="4" height="9" fill="url(#g14)"/>
<rect class="m" x="1126.6" y="650.1" width="5.5" height="9" fill="url(#g9)"/>
<rect class="m" x="1142.6" y="650.1" width="6" height="9" fill="url(#g11)"/>
<rect class="m" x="1150.6" y="650.1" width="9" height="9" fill="url(#g15)"/>
<rect class="m" x="1160.6" y="650.1" width="11" height="9" fill="url(#g3)"/>
<path d="M1003.4 667.8H1188" stroke="#888" stroke-width="1"/>
<rect class="m" x="1026.6" y="663.3" width="3.9" height="9" fill="url(#g21)"/>
<rect class="m" x="1033.5" y="663.3" width="4.2" height="9" fill="url(#g13)"/>
<rect class="m" x="1047" y="663.3" width="10.7" height="9" fill="url(#g19)"/>
<rect class="m" x="1060" y="663.3" width="2" height="9" fill="url(#g20)"/>
<rect class="m" x="1070" y="663.3" width="6" height="9" fill="url(#g0)"/>
<rect class="m" x="1088.6" y="663.3" width="6.4" height="9" fill="url(#g5)"/>
<rect class="m" x="1095" y="663.3" width="12.8" height="9" fill="url(#g7)"/>
<rect class="m" x="1107.8" y="663.3" width="5.9" height="9" fill="url(#g8)"/>
<rect class="m" x="1117" y="663.3" width="9" height="9" fill="url(#g12)"/>
<rect class="m" x="1126" y="663.3" width="4" height="9" fill="url(#g14)"/>
<rect class="m" x="1132" y="663.3" width="5.5" height="9" fill="url(#g9)"/>
<rect class="m" x="1148" y="663.3" width="6" height="9" fill="url(#g11)"/>
<rect class="m" x="1156" y="663.3" width="9" height="9" fill="url(#g15)"/>
<rect class="m" x="1166" y="663.3" width="11" height="9" fill="url(#g3)"/>
<path d="M1003.4 681H1185" stroke="#888" stroke-width="1"/>
<rect class="m" x="1023.6" y="676.5" width="3.9" height="9" fill="url(#g21)"/>
<rect class="m" x="1030.5" y="676.5" width="4.2" height="9" fill="url(#g13)"/>
<rect class="m" x="1044" y="676.5" width="10.7" height="9" fill="url(#g19)"/>
<rect class="m" x="1057" y="676.5" width="2" height="9" fill="url(#g20)"/>
<rect class="m" x="1067" y="676.5" width="6" height="9" fill="url(#g0)"/>
<rect class="m" x="1085.6" y="676.5" width="6.4" height="9" fill="url(#g5)"/>
<rect class="m" x="1092" y="676.5" width="12.8" height="9" fill="url(#g7)"/>
<rect class="m" x="1104.8" y="676.5" width="5.9" height="9" fill="url(#g8)"/>
<rect class="m" x="1114" y="676.5" width="9" height="9" fill="url(#g12)"/>
<rect class="m" x="1123" y="676.5" width="4" height="9" fill="url(#g14)"/>
<rect class="m" x="1129" y="676.5" width="5.5" height="9" fill="url(#g9)"/>
<rect class="m" x="1145" y="676.5" width="6" height="9" fill="url(#g11)"/>
<rect class="m" x="1153" y="676.5" width="9" height="9" fill="url(#g15)"/>
<rect class="m" x="1163" y="676.5" width="11" height="9" fill="url(#g3)"/>
<rect class="m" x="1003.5" y="689.7" width="8.5" height="9" fill="url(#g12)"/>
<path d="M1003.4 694.2H1185" stroke="#888" stroke-width="1"/>
<rect class="m" x="1023.6" y="689.7" width="3.9" height="9" fill="url(#g21)"/>
<rect class="m" x="1030.5" y="689.7" width="4.2" height="9" fill="url(#g13)"/>
<rect class="m" x="1044" y="689.7" width="10.7" height="9" fill="url(#g19)"/>
<rect class="m" x="1057" y="689.7" width="2" height="9" fill="url(#g20)"/>
<rect class="m" x="1067" y="689.7" width="6" height="9" fill="url(#g0)"/>
<rect class="m" x="1085.6" y="689.7" width="6.4" height="9" fill="url(#g5)"/>
<rect class="m" x="1092" y="689.7" width="12.8" height="9" fill="url(#g7)"/>
<rect class="m" x="1104.8" y="689.7" width="5.9" height="9" fill="url(#g8)"/>
<rect class="m" x="1114" y="689.7" width="9" height="9" fill="url(#g12)"/>
<rect class="m" x="1123" y="689.7" width="4" height="9" fill="url(#g14)"/>
<rect class="m" x="1129" y="689.7" width="5.5" height="9" fill="url(#g9)"/>
<rect class="m" x="1145" y="689.7" width="6" height="9" fill="url(#g11)"/>
<rect class="m" x="1153" y="689.7" width="9" height="9" fill="url(#g15)"/>
<rect class="m" x="1163" y="689.7" width="11" height="9" fill="url(#g3)"/>
<path d="M1003.4 707.4H1168" stroke="#888" stroke-width="1"/>
<rect class="m" x="1006.6" y="702.9" width="3.9" height="9" fill="url(#g21)"/>
<rect class="m" x="1013.5" y="702.9" width="4.2" height="9" fill="url(#g13)"/>
<rect class="m" x="1027" y="702.9" width="10.7" height="9" fill="url(#g19)"/>
<rect class="m" x="1040" y="702.9" width="2" height="9" fill="url(#g20)"/>
<rect class="m" x="1050" y="702.9" width="6" height="9" fill="url(#g0)"/>
<rect class="m" x="1068.6" y="702.9" width="6.4" height="9" fill="url(#g5)"/>
<rect class="m" x="1075" y="702.9" width="12.8" height="9" fill="url(#g7)"/>
<rect class="m" x="1087.8" y="702.9" width="5.9" height="9" fill="url(#g8)"/>
<rect class="m" x="1097" y="702.9" width="9" height="9" fill="url(#g12)"/>
<rect class="m" x="1106" y="702.9" width="4" height="9" fill="url(#g14)"/>
<rect class="m" x="1112" y="702.9" width="5.5" height="9" fill="url(#g9)"/>
<rect class="m" x="1128" y="702.9" width="6" height="9" fill="url(#g11)"/>
<rect class="m" x="1136" y="702.9" width="9" height="9" fill="url(#g15)"/>
<rect class="m" x="1146" y="702.9" width="11" height="9" fill="url(#g3)"/>
<path d="M1003.4 720.6H1186" stroke="#888" stroke-width="1"/>
<rect class="m" x="1024.6" y="716.1" width="3.9" height="9" fill="url(#g21)"/>
<rect class="m" x="1031.5" y="716.1" width="4.2" height="9" fill="url(#g13)"/>
<rect class="m" x="1045" y="716.1" width="10.7" height="9" fill="url(#g19)"/>
<rect class="m" x="1058" y="716.1" width="2" height="9" fill="url(#g20)"/>
<rect class="m" x="1068" y="716.1" width="6" height="9" fill="url(#g0)"/>
<rect class="m" x="1086.6" y="716.1" width="6.4" height="9" fill="url(#g5)"/>
<rect class="m" x="1093" y="716.1" width="12.8" height="9" fill="url(#g7)"/>
<rect class="m" x="1105.8" y="716.1" width="5.9" height="9" fill="url(#g8)"/>
<rect class="m" x="1115" y="716.1" width="9" height="9" fill="url(#g12)"/>
<rect class="m" x="1124" y="716.1" width="4" height="9" fill="url(#g14)"/>
<rect class="m" x="1130" y="716.1" width="5.5" height="9" fill="url(#g9)"/>
<rect class="m" x="1146" y="716.1" width="6" height="9" fill="url(#g11)"/>
<rect class="m" x="1154" y="716.1" width="9" height="9" fill="url(#g15)"/>
<rect class="m" x="1164" y="716.1" width="11" height="9" fill="url(#g3)"/>
<path d="M1003.4 733.8H1188" stroke="#888" stroke-width="1"/>
<rect class="m" x="1026.6" y="729.3" width="3.9" height="9" fill="url(#g21)"/>
<rect class="m" x="1033.5" y="729.3" width="4.2" height="9" fill="url(#g13)"/>
<rect class="m" x="1047" y="729.3" width="10.7" height="9" fill="url(#g19)"/>
<rect class="m" x="1060" y="729.3" width="2" height="9" fill="url(#g20)"/>
<rect class="m" x="1070" y="729.3" width="6" height="9" fill="url(#g0)"/>
<rect class="m" x="1088.6" y="729.3" width="6.4" height="9" fill="url(#g5)"/>
<rect class="m" x="1095" y="729.3" width="12.8" height="9" fill="url(#g7)"/>
<rect class="m" x="1107.8" y="729.3" width="5.9" height="9" fill="url(#g8)"/>
<rect class="m" x="1117" y="729.3" width="9" height="9" fill="url(#g12)"/>
<rect class="m" x="1126" y="729.3" width="4" height="9" fill="url(#g14)"/>
<rect class="m" x="1132" y="729.3" width="5.5" height="9" fill="url(#g9)"/>
<rect class="m" x="1148" y="729.3" width="6" height="9" fill="url(#g11)"/>
<rect class="m" x="1156" y="729.3" width="9" height="9" fill="url(#g15)"/>
<rect class="m" x="1166" y="729.3" width="11" height="9" fill="url(#g3)"/>
<path d="M1003.4 747H1185" stroke="#888" stroke-width="1"/>
<rect class="m" x="1023.6" y="742.5" width="3.9" height="9" fill="url(#g21)"/>
<rect class="m" x="1030.5" y="742.5" width="4.2" height="9" fill="url(#g13)"/>
<rect class="m" x="1044" y="742.5" width="10.7" height="9" fill="url(#g19)"/>
<rect class="m" x="1057" y="742.5" width="2" height="9" fill="url(#g20)"/>
<rect class="m" x="1067" y="742.5" width="6" height="9" fill="url(#g0)"/>
<rect class="m" x="1085.6" y="742.5" width="6.4" height="9" fill="url(#g5)"/>
<rect class="m" x="1092" y="742.5" width="12.8" height="9" fill="url(#g7)"/>
<rect class="m" x="1104.8" y="742.5" width="5.9" height="9" fill="url(#g8)"/>
<rect class="m" x="1114" y="742.5" width="9" height="9" fill="url(#g12)"/>
<rect class="m" x="1123" y="742.5" width="4" height="9" fill="url(#g14)"/>
<rect class="m" x="1129" y="742.5" width="5.5" height="9" fill="url(#g9)"/>
<rect class="m" x="1145" y="742.5" width="6" height="9" fill="url(#g11)"/>
<rect class="m" x="1153" y="742.5" width="9" height="9" fill="url(#g15)"/>
<rect class="m" x="1163" y="742.5" width="11" height="9" fill="url(#g3)"/>
<path d="M1003.4 760.2H1183.3" stroke="#888" stroke-width="1"/>
<rect class="m" x="1021.9" y="755.7" width="3.9" height="9" fill="url(#g21)"/>
<rect class="m" x="1028.8" y="755.7" width="4.2" height="9" fill="url(#g13)"/>
<rect class="m" x="1042.3" y="755.7" width="10.7" height="9" fill="url(#g19)"/>
<rect class="m" x="1055.3" y="755.7" width="2" height="9" fill="url(#g20)"/>
<rect class="m" x="1065.3" y="755.7" width="6" height="9" fill="url(#g0)"/>
<rect class="m" x="1083.9" y="755.7" width="6.4" height="9" fill="url(#g5)"/>
<rect class="m" x="1090.3" y="755.7" width="12.8" height="9" fill="url(#g7)"/>
<rect class="m" x="1103.1" y="755.7" width="5.9" height="9" fill="url(#g8)"/>
<rect class="m" x="1112.3" y="755.7" width="9" height="9" fill="url(#g12)"/>
<rect class="m" x="1121.3" y="755.7" width="4" height="9" fill="url(#g14)"/>
<rect class="m" x="1127.3" y="755.7" width="5.5" height="9" fill="url(#g9)"/>
<rect class="m" x="1143.3" y="755.7" width="6" height="9" fill="url(#g11)"/>
<rect class="m" x="1151.3" y="755.7" width="9" height="9" fill="url(#g15)"/>
<rect class="m" x="1161.3" y="755.7" width="11" height="9" fill="url(#g3)"/>
<path d="M1003.4 773.4H1185" stroke="#888" stroke-width="1"/>
<rect class="m" x="1023.6" y="768.9" width="3.9" height="9" fill="url(#g21)"/>
<rect class="m" x="1030.5" y="768.9" width="4.2" height="9" fill="url(#g13)"/>
<rect class="m" x="1044" y="768.9" width="10.7" height="9" fill="url(#g19)"/>
<rect class="m" x="1057" y="768.9" width="2" height="9" fill="url(#g20)"/>
<rect class="m" x="1067" y="768.9" width="6" height="9" fill="url(#g0)"/>
<rect class="m" x="1085.6" y="768.9" width="6.4" height="9" fill="url(#g5)"/>
<rect class="m" x="1092" y="768.9" width="12.8" height="9" fill="url(#g7)"/>
<rect class="m" x="1104.8" y="768.9" width="5.9" height="9" fill="url(#g8)"/>
<rect class="m" x="1114" y="768.9" width="9" height="9" fill="url(#g12)"/>
<rect class="m" x="1123" y="768.9" width="4" height="9" fill="url(#g14)"/>
<rect class="m" x="1129" y="768.9" width="5.5" height="9" fill="url(#g9)"/>
<rect class="m" x="1145" y="768.9" width="6" height="9" fill="url(#g11)"/>
<rect class="m" x="1153" y="768.9" width="9" height="9" fill="url(#g15)"/>
<rect class="m" x="1163" y="768.9" width="11" height="9" fill="url(#g3)"/>
<path d="M1229.3 98.2H1369.8" stroke="#666" stroke-width="1.3"/>
<rect x="1236.4" y="94.2" width="129.6" height="8" fill="#73b33d" rx="1.5"/>
<path d="M1229.3 110.7H1386" stroke="#666" stroke-width="1.3"/>
<rect x="1236" y="106.7" width="146" height="8" fill="#73b33d" rx="1.5"/>
<path d="M1229.3 123.2H1386" stroke="#666" stroke-width="1.3"/>
<rect x="1236" y="119.2" width="146" height="8" fill="#73b33d" rx="1.5"/>
<path d="M1229.3 135.7H1386" stroke="#666" stroke-width="1.3"/>
<rect x="1236" y="131.7" width="146" height="8" fill="#73b33d" rx="1.5"/>
<path d="M1229.3 148.2H1386" stroke="#666" stroke-width="1.3"/>
<rect x="1236" y="144.2" width="146" height="8" fill="#73b33d" rx="1.5"/>
<path d="M1229.3 160.6H1386" stroke="#666" stroke-width="1.3"/>
<rect x="1236" y="156.6" width="146" height="8" fill="#73b33d" rx="1.5"/>
<path d="M1229.3 173.1H1386" stroke="#666" stroke-width="1.3"/>
<rect x="1236" y="169.1" width="146" height="8" fill="#73b33d" rx="1.5"/>
<path d="M1229.3 185.6H1386" stroke="#666" stroke-width="1.3"/>
<rect x="1236" y="181.6" width="146" height="8" fill="#73b33d" rx="1.5"/>
<path d="M1229.3 198.1H1386" stroke="#666" stroke-width="1.3"/>
<rect x="1236" y="194.1" width="146" height="8" fill="#73b33d" rx="1.5"/>
<path d="M1229.3 210.6H1386" stroke="#666" stroke-width="1.3"/>
<rect x="1236" y="206.6" width="146" height="8" fill="#73b33d" rx="1.5"/>
<path d="M1229.3 223.1H1386" stroke="#666" stroke-width="1.3"/>
<rect x="1236" y="219.1" width="146" height="8" fill="#73b33d" rx="1.5"/>
<path d="M1229.3 235.6H1386" stroke="#666" stroke-width="1.3"/>
<rect x="1236" y="231.6" width="146" height="8" fill="#73b33d" rx="1.5"/>
<path d="M1229.3 248.1H1386" stroke="#666" stroke-width="1.3"/>
<rect x="1236" y="244.1" width="146" height="8" fill="#73b33d" rx="1.5"/>
<path d="M1229.3 260.6H1386" stroke="#666" stroke-width="1.3"/>
<rect x="1236" y="256.6" width="146" height="8" fill="#73b33d" rx="1.5"/>
<path d="M1229.3 273.1H1386" stroke="#666" stroke-width="1.3"/>
<rect x="1236" y="269.1" width="146" height="8" fill="#73b33d" rx="1.5"/>
<path d="M1229.3 285.6H1401" stroke="#666" stroke-width="1.3"/>
<rect x="1250" y="281.6" width="147" height="8" fill="#73b33d" rx="1.5"/>
<path d="M1229.3 298H1386" stroke="#666" stroke-width="1.3"/>
<rect x="1236" y="294" width="146" height="8" fill="#73b33d" rx="1.5"/>
<path d="M1229.3 310.5H1381" stroke="#666" stroke-width="1.3"/>
<rect x="1232" y="306.5" width="146" height="8" fill="#73b33d" rx="1.5"/>
<path d="M1229.3 323H1381" stroke="#666" stroke-width="1.3"/>
<rect x="1232" y="319" width="146" height="8" fill="#73b33d" rx="1.5"/>
<path d="M1229.3 335.5H1381" stroke="#666" stroke-width="1.3"/>
<rect x="1232" y="331.5" width="146" height="8" fill="#73b33d" rx="1.5"/>
<path d="M1229.8 348H1380" stroke="#666" stroke-width="1.3"/>
<rect x="1229.8" y="344" width="149.9" height="8" fill="#fdcb03" rx="1.5"/>
<path d="M1229.3 360.5H1380" stroke="#666" stroke-width="1.3"/>
<rect x="1232" y="356.5" width="146" height="8" fill="#73b33d" rx="1.5"/>
<path d="M1229.3 373H1381" stroke="#666" stroke-width="1.3"/>
<rect x="1230" y="369" width="150" height="8" fill="#73b33d" rx="1.5"/>
<path d="M1229.3 385.5H1384" stroke="#666" stroke-width="1.3"/>
<rect x="1236" y="381.5" width="145" height="8" fill="#73b33d" rx="1.5"/>
<path d="M1229.3 398H1379" stroke="#666" stroke-width="1.3"/>
<rect x="1231" y="394" width="147" height="8" fill="#73b33d" rx="1.5"/>
<path d="M1229.3 410.4H1383" stroke="#666" stroke-width="1.3"/>
<rect x="1236" y="406.4" width="144" height="8" fill="#73b33d" rx="1.5"/>
<path d="M1229.3 422.9H1391" stroke="#666" stroke-width="1.3"/>
<rect x="1236" y="418.9" width="150" height="8" fill="#73b33d" rx="1.5"/>
<path d="M1229.3 435.4H1396" stroke="#666" stroke-width="1.3"/>
<rect x="1239" y="431.4" width="150" height="8" fill="#73b33d" rx="1.5"/>
<path d="M1229.3 447.9H1394" stroke="#666" stroke-width="1.3"/>
<rect x="1244" y="443.9" width="145" height="8" fill="#73b33d" rx="1.5"/>
<path d="M1229.3 460.4H1390" stroke="#666" stroke-width="1.3"/>
<rect x="1240" y="456.4" width="146" height="8" fill="#73b33d" rx="1.5"/>
<path d="M1229.3 472.9H1402" stroke="#666" stroke-width="1.3"/>
<rect x="1255" y="468.9" width="143" height="8" fill="#73b33d" rx="1.5"/>
<path d="M1229.3 485.4H1391" stroke="#666" stroke-width="1.3"/>
<rect x="1242" y="481.4" width="145" height="8" fill="#73b33d" rx="1.5"/>
<path d="M1229.3 497.9H1400" stroke="#666" stroke-width="1.3"/>
<rect x="1250" y="493.9" width="147" height="8" fill="#73b33d" rx="1.5"/>
<path d="M1229.3 510.4H1336" stroke="#666" stroke-width="1.3"/>
<rect x="1250" y="506.4" width="85" height="8" fill="#73b33d" rx="1.5"/>
<path d="M1229.3 522.9H1401" stroke="#666" stroke-width="1.3"/>
<rect x="1250" y="518.9" width="144" height="8" fill="#73b33d" rx="1.5"/>
<path d="M1229.3 535.4H1397" stroke="#666" stroke-width="1.3"/>
<rect x="1246" y="531.4" width="145" height="8" fill="#73b33d" rx="1.5"/>
<path d="M1229.3 547.8H1397" stroke="#666" stroke-width="1.3"/>
<rect x="1246" y="543.8" width="145" height="8" fill="#73b33d" rx="1.5"/>
<path d="M1229.3 560.3H1398" stroke="#666" stroke-width="1.3"/>
<rect x="1247" y="556.3" width="145" height="8" fill="#73b33d" rx="1.5"/>
<path d="M1229.3 572.8H1400" stroke="#666" stroke-width="1.3"/>
<rect x="1250" y="568.8" width="145" height="8" fill="#73b33d" rx="1.5"/>
<path d="M1229.3 585.3H1398" stroke="#666" stroke-width="1.3"/>
<rect x="1248" y="581.3" width="145" height="8" fill="#73b33d" rx="1.5"/>
<path d="M1229.3 597.8H1400" stroke="#666" stroke-width="1.3"/>
<rect x="1250" y="593.8" width="145" height="8" fill="#73b33d" rx="1.5"/>
<path d="M1229.3 610.3H1400" stroke="#666" stroke-width="1.3"/>
<rect x="1250" y="606.3" width="145" height="8" fill="#73b33d" rx="1.5"/>
<path d="M1229.3 622.8H1413" stroke="#666" stroke-width="1.3"/>
<rect x="1252" y="618.8" width="155" height="8" fill="#ef5b82" rx="1.5"/>
<path d="M1229.3 635.3H1408" stroke="#666" stroke-width="1.3"/>
<rect x="1246" y="631.3" width="158" height="8" fill="#ef5b82" rx="1.5"/>
<path d="M1229.3 647.8H1415" stroke="#666" stroke-width="1.3"/>
<rect x="1253" y="643.8" width="157" height="8" fill="#ef5b82" rx="1.5"/>
<path d="M1229.3 660.2H1409" stroke="#666" stroke-width="1.3"/>
<rect x="1247" y="656.2" width="155" height="8" fill="#ef5b82" rx="1.5"/>
<path d="M1229.3 672.7H1410" stroke="#666" stroke-width="1.3"/>
<rect x="1247" y="668.7" width="155" height="8" fill="#ef5b82" rx="1.5"/>
<path d="M1229.3 685.2H1415" stroke="#666" stroke-width="1.3"/>
<rect x="1247" y="681.2" width="163" height="8" fill="#ef5b82" rx="1.5"/>
<path d="M1229.3 697.7H1391" stroke="#666" stroke-width="1.3"/>
<rect x="1229.8" y="693.7" width="156.2" height="8" fill="#ef5b82" rx="1.5"/>
<path d="M1229.3 710.2H1412" stroke="#666" stroke-width="1.3"/>
<rect x="1250" y="706.2" width="155" height="8" fill="#ef5b82" rx="1.5"/>
<path d="M1229.3 722.7H1412" stroke="#666" stroke-width="1.3"/>
<rect x="1250" y="718.7" width="155" height="8" fill="#ef5b82" rx="1.5"/>
<path d="M1229.3 735.2H1409" stroke="#666" stroke-width="1.3"/>
<rect x="1247" y="731.2" width="155" height="8" fill="#ef5b82" rx="1.5"/>
<path d="M1229.3 747.7H1408" stroke="#666" stroke-width="1.3"/>
<rect x="1247" y="743.7" width="155" height="8" fill="#ef5b82" rx="1.5"/>
<path d="M1229.3 760.2H1408" stroke="#666" stroke-width="1.3"/>
<rect x="1247" y="756.2" width="155" height="8" fill="#ef5b82" rx="1.5"/>
<path d="M1229.3 772.7H1409" stroke="#666" stroke-width="1.3"/>
<rect x="1247" y="768.7" width="157" height="8" fill="#ef5b82" rx="1.5"/>
<path d="M1004 786.8H1208.9" stroke="#666" stroke-width="0.8"/>
<path d="M1004 786.8V789.8" stroke="#666" stroke-width="0.8"/>
<text x="1004" y="800.3" font-size="9.5" fill="#333" text-anchor="middle">0</text>
<path d="M1026.8 786.8V789.8" stroke="#666" stroke-width="0.8"/>
<text x="1026.8" y="800.3" font-size="9.5" fill="#333" text-anchor="middle">100</text>
<path d="M1049.5 786.8V789.8" stroke="#666" stroke-width="0.8"/>
<text x="1049.5" y="800.3" font-size="9.5" fill="#333" text-anchor="middle">200</text>
<path d="M1072.3 786.8V789.8" stroke="#666" stroke-width="0.8"/>
<text x="1072.3" y="800.3" font-size="9.5" fill="#333" text-anchor="middle">300</text>
<path d="M1095.1 786.8V789.8" stroke="#666" stroke-width="0.8"/>
<text x="1095.1" y="800.3" font-size="9.5" fill="#333" text-anchor="middle">400</text>
<path d="M1117.8 786.8V789.8" stroke="#666" stroke-width="0.8"/>
<text x="1117.8" y="800.3" font-size="9.5" fill="#333" text-anchor="middle">500</text>
<path d="M1140.6 786.8V789.8" stroke="#666" stroke-width="0.8"/>
<text x="1140.6" y="800.3" font-size="9.5" fill="#333" text-anchor="middle">600</text>
<path d="M1163.4 786.8V789.8" stroke="#666" stroke-width="0.8"/>
<text x="1163.4" y="800.3" font-size="9.5" fill="#333" text-anchor="middle">700</text>
<path d="M1186.1 786.8V789.8" stroke="#666" stroke-width="0.8"/>
<text x="1186.1" y="800.3" font-size="9.5" fill="#333" text-anchor="middle">800</text>
<path d="M1208.9 786.8V789.8" stroke="#666" stroke-width="0.8"/>
<text x="1208.9" y="800.3" font-size="9.5" fill="#333" text-anchor="middle">900</text>
<text x="1003" y="785.8" font-size="10" fill="#333" text-anchor="end">5'</text>
<text x="1209.9" y="785.8" font-size="10" fill="#333">3'</text>
<path d="M1231 786.8H1435.3" stroke="#666" stroke-width="0.8"/>
<path d="M1231 786.8V789.8" stroke="#666" stroke-width="0.8"/>
<text x="1231" y="800.3" font-size="9.5" fill="#333" text-anchor="middle">0</text>
<path d="M1253.7 786.8V789.8" stroke="#666" stroke-width="0.8"/>
<text x="1253.7" y="800.3" font-size="9.5" fill="#333" text-anchor="middle">100</text>
<path d="M1276.4 786.8V789.8" stroke="#666" stroke-width="0.8"/>
<text x="1276.4" y="800.3" font-size="9.5" fill="#333" text-anchor="middle">200</text>
<path d="M1299.1 786.8V789.8" stroke="#666" stroke-width="0.8"/>
<text x="1299.1" y="800.3" font-size="9.5" fill="#333" text-anchor="middle">300</text>
<path d="M1321.8 786.8V789.8" stroke="#666" stroke-width="0.8"/>
<text x="1321.8" y="800.3" font-size="9.5" fill="#333" text-anchor="middle">400</text>
<path d="M1344.5 786.8V789.8" stroke="#666" stroke-width="0.8"/>
<text x="1344.5" y="800.3" font-size="9.5" fill="#333" text-anchor="middle">500</text>
<path d="M1367.2 786.8V789.8" stroke="#666" stroke-width="0.8"/>
<text x="1367.2" y="800.3" font-size="9.5" fill="#333" text-anchor="middle">600</text>
<path d="M1389.9 786.8V789.8" stroke="#666" stroke-width="0.8"/>
<text x="1389.9" y="800.3" font-size="9.5" fill="#333" text-anchor="middle">700</text>
<path d="M1412.6 786.8V789.8" stroke="#666" stroke-width="0.8"/>
<text x="1412.6" y="800.3" font-size="9.5" fill="#333" text-anchor="middle">800</text>
<path d="M1435.3 786.8V789.8" stroke="#666" stroke-width="0.8"/>
<text x="1435.3" y="800.3" font-size="9.5" fill="#333" text-anchor="middle">900</text>
<text x="1230" y="785.8" font-size="10" fill="#333" text-anchor="end">5'</text>
<text x="1436.3" y="785.8" font-size="10" fill="#333">3'</text>
<rect class="m" x="1414.4" y="93.2" width="27.8" height="11" fill="url(#g21)" stroke="#ccc"/>
<text x="1445" y="102.1" font-size="9.5" fill="#444" textLength="30.8" lengthAdjust="spacingAndGlyphs">Motif 11</text>
<rect class="m" x="1414.4" y="107.2" width="27.8" height="11" fill="url(#g13)" stroke="#ccc"/>
<text x="1445" y="116.1" font-size="9.5" fill="#444" textLength="31.4" lengthAdjust="spacingAndGlyphs">Motif 12</text>
<rect class="m" x="1414.4" y="121.1" width="27.8" height="11" fill="url(#g20)" stroke="#ccc"/>
<text x="1445" y="130" font-size="9.5" fill="#444" textLength="31.4" lengthAdjust="spacingAndGlyphs">Motif 14</text>
<rect class="m" x="1414.4" y="135.1" width="27.8" height="11" fill="url(#g0)" stroke="#ccc"/>
<text x="1445" y="144" font-size="9.5" fill="#444" textLength="26.5" lengthAdjust="spacingAndGlyphs">Motif 8</text>
<rect class="m" x="1414.4" y="149" width="27.8" height="11" fill="url(#g5)" stroke="#ccc"/>
<text x="1445" y="157.9" font-size="9.5" fill="#444" textLength="26.5" lengthAdjust="spacingAndGlyphs">Motif 5</text>
<rect class="m" x="1414.4" y="162.9" width="27.8" height="11" fill="url(#g7)" stroke="#ccc"/>
<text x="1445" y="171.8" font-size="9.5" fill="#444" textLength="26.5" lengthAdjust="spacingAndGlyphs">Motif 2</text>
<rect class="m" x="1414.4" y="176.9" width="27.8" height="11" fill="url(#g8)" stroke="#ccc"/>
<text x="1445" y="185.8" font-size="9.5" fill="#444" textLength="26.5" lengthAdjust="spacingAndGlyphs">Motif 7</text>
<rect class="m" x="1414.4" y="190.8" width="27.8" height="11" fill="url(#g12)" stroke="#ccc"/>
<text x="1445" y="199.8" font-size="9.5" fill="#444" textLength="26.5" lengthAdjust="spacingAndGlyphs">Motif 4</text>
<rect class="m" x="1414.4" y="204.8" width="27.8" height="11" fill="url(#g14)" stroke="#ccc"/>
<text x="1445" y="213.7" font-size="9.5" fill="#444" textLength="31.4" lengthAdjust="spacingAndGlyphs">Motif 13</text>
<rect class="m" x="1414.4" y="218.8" width="27.8" height="11" fill="url(#g9)" stroke="#ccc"/>
<text x="1445" y="227.7" font-size="9.5" fill="#444" textLength="26.5" lengthAdjust="spacingAndGlyphs">Motif 6</text>
<rect class="m" x="1414.4" y="232.7" width="27.8" height="11" fill="url(#g2)" stroke="#ccc"/>
<text x="1445" y="241.6" font-size="9.5" fill="#444" textLength="31.4" lengthAdjust="spacingAndGlyphs">Motif 10</text>
<rect class="m" x="1414.4" y="246.6" width="27.8" height="11" fill="url(#g3)" stroke="#ccc"/>
<text x="1445" y="255.5" font-size="9.5" fill="#444" textLength="26.5" lengthAdjust="spacingAndGlyphs">Motif 1</text>
<rect class="m" x="1414.4" y="260.6" width="27.8" height="11" fill="url(#g11)" stroke="#ccc"/>
<text x="1445" y="269.5" font-size="9.5" fill="#444" textLength="26.5" lengthAdjust="spacingAndGlyphs">Motif 9</text>
<rect class="m" x="1414.4" y="274.6" width="27.8" height="11" fill="url(#g15)" stroke="#ccc"/>
<text x="1445" y="283.4" font-size="9.5" fill="#444" textLength="26.5" lengthAdjust="spacingAndGlyphs">Motif 3</text>
<rect class="m" x="1414.4" y="288.5" width="27.8" height="11" fill="url(#g19)" stroke="#ccc"/>
<text x="1445" y="297.4" font-size="9.5" fill="#444" textLength="31.4" lengthAdjust="spacingAndGlyphs">Motif 15</text>
<rect x="1414.4" y="306" width="29.5" height="10" fill="#73b33d" rx="2"/>
<text x="1445.5" y="314.5" font-size="10.5" fill="#333">PLN02566</text>
<text x="1445.5" y="323.5" font-size="10.5" fill="#333">superfamily</text>
<rect x="1414.4" y="325.6" width="29.5" height="10" fill="#fdcb03" rx="2"/>
<text x="1445.5" y="335.5" font-size="10.5" fill="#333">PLN02566</text>
<rect x="1414.4" y="342.4" width="29.5" height="10" fill="#ef5b82" rx="2"/>
<text x="1445.5" y="351" font-size="10.5" fill="#333">tynA superfamily</text>
<polygon points="1432.7,359.6 1434.3,363.5 1438.6,363.9 1435.4,366.7 1436.4,370.8 1432.7,368.6 1429,370.8 1430,366.7 1426.8,363.9 1431.1,363.5" fill="#f00"/>
<text x="1445" y="369.2" font-size="10.5" font-weight="bold" font-style="italic" textLength="96.8" lengthAdjust="spacingAndGlyphs">Dimocarpus longan</text>
<rect x="1426.5" y="379.4" width="12.4" height="12.4" rx="1.6" fill="#fff" stroke="#333" stroke-width="1.1"/>
<text x="1445" y="389.4" font-size="10.5" font-weight="bold" font-style="italic" textLength="102" lengthAdjust="spacingAndGlyphs">Arabidopsis thaliana</text>
<rect x="1426" y="399" width="13.5" height="13.5" fill="#ffff00"/>
<text x="1445" y="409.6" font-size="10.5" font-weight="bold" font-style="italic" textLength="61.1" lengthAdjust="spacingAndGlyphs">Oryza sativa</text>
<circle cx="1432.7" cy="426" r="6.8" fill="#ff9e0a"/>
<text x="1445" y="429.8" font-size="10.5" font-weight="bold" font-style="italic" textLength="74.3" lengthAdjust="spacingAndGlyphs">Citrus sinensis</text>
<circle cx="1432.7" cy="446.2" r="6.8" fill="#ff0000"/>
<text x="1445" y="450" font-size="10.5" font-weight="bold" font-style="italic" textLength="83.6" lengthAdjust="spacingAndGlyphs">Malus domestica</text>
<circle cx="1432.7" cy="466.4" r="6.2" fill="#fff" stroke="#333" stroke-width="1.1"/>
<text x="1445" y="470.2" font-size="10.5" font-weight="bold" font-style="italic" textLength="88.8" lengthAdjust="spacingAndGlyphs">Theobroma cacao</text>
<polygon points="1432.7,481.1 1438.9,492.1 1426.5,492.1" fill="#fff" stroke="#333" stroke-width="1.1" stroke-linejoin="miter"/>
<text x="1445" y="490.4" font-size="10.5" font-weight="bold" font-style="italic" textLength="103.7" lengthAdjust="spacingAndGlyphs">Gossypium hirsutum</text>
<polygon points="1432.7,500.7 1439.5,512.9 1426,512.9" fill="#ffff00"/>
<text x="1445" y="510.6" font-size="10.5" font-weight="bold" font-style="italic" textLength="100.3" lengthAdjust="spacingAndGlyphs">Solanum tuberosum</text>
<text x="784.1" y="899" font-size="31" fill="#111" textLength="16.5" lengthAdjust="spacingAndGlyphs">E</text>
<text x="959.6" y="891.6" font-size="31" fill="#111" text-anchor="middle">a</text>
<text x="1134.3" y="891.6" font-size="31" fill="#111" text-anchor="middle">b</text>
<text x="1335" y="891.6" font-size="31" fill="#111" text-anchor="middle">c</text>
<text x="787.3" y="1092.7" font-size="32.1" fill="#111" font-weight="bold">I</text>
<text x="781.3" y="1304" font-size="32.1" fill="#111" font-weight="bold" textLength="21.5" lengthAdjust="spacingAndGlyphs">II</text>
<text x="779" y="1462" font-size="33.5" fill="#111" font-weight="bold" textLength="27.6" lengthAdjust="spacingAndGlyphs">III</text>
<rect x="877.3" y="905.7" width="175" height="314.5" fill="#f474cb"/>
<rect x="877.3" y="1220.2" width="175" height="145.3" fill="#f7aee0"/>
<rect x="877.3" y="1365.5" width="175" height="170.1" fill="#fbdff0"/>
<path d="M869.4 913.3H876" stroke="#9a9a9a" stroke-width="1"/>
<path d="M869.4 931.9H876" stroke="#9a9a9a" stroke-width="1"/>
<path d="M869.4 913.3V931.9" stroke="#9a9a9a" stroke-width="1"/>
<path d="M863.6 922.6H869.4" stroke="#9a9a9a" stroke-width="1"/>
<path d="M863.6 950.5H876" stroke="#9a9a9a" stroke-width="1"/>
<path d="M863.6 922.6V950.5" stroke="#9a9a9a" stroke-width="1"/>
<path d="M858.1 936.5H863.6" stroke="#9a9a9a" stroke-width="1"/>
<path d="M858.1 969H876" stroke="#9a9a9a" stroke-width="1"/>
<path d="M858.1 936.5V969" stroke="#9a9a9a" stroke-width="1"/>
<path d="M853 952.8H858.1" stroke="#9a9a9a" stroke-width="1"/>
<path d="M853 987.6H876" stroke="#9a9a9a" stroke-width="1"/>
<path d="M853 952.8V987.6" stroke="#9a9a9a" stroke-width="1"/>
<path d="M847.9 970.2H853" stroke="#9a9a9a" stroke-width="1"/>
<path d="M847.9 1006.2H876" stroke="#9a9a9a" stroke-width="1"/>
<path d="M847.9 970.2V1006.2" stroke="#9a9a9a" stroke-width="1"/>
<path d="M842.3 988.2H847.9" stroke="#9a9a9a" stroke-width="1"/>
<path d="M842.3 1024.8H876" stroke="#9a9a9a" stroke-width="1"/>
<path d="M842.3 988.2V1024.8" stroke="#9a9a9a" stroke-width="1"/>
<path d="M842.3 1043.4H876" stroke="#9a9a9a" stroke-width="1"/>
<path d="M842.3 1061.9H876" stroke="#9a9a9a" stroke-width="1"/>
<path d="M842.3 1043.4V1061.9" stroke="#9a9a9a" stroke-width="1"/>
<path d="M837 1006.5H842.3" stroke="#9a9a9a" stroke-width="1"/>
<path d="M837 1052.7H842.3" stroke="#9a9a9a" stroke-width="1"/>
<path d="M837 1006.5V1052.7" stroke="#9a9a9a" stroke-width="1"/>
<path d="M847.9 1099.1H876" stroke="#9a9a9a" stroke-width="1"/>
<path d="M847.9 1117.7H876" stroke="#9a9a9a" stroke-width="1"/>
<path d="M847.9 1099.1V1117.7" stroke="#9a9a9a" stroke-width="1"/>
<path d="M858.5 1154.8H876" stroke="#9a9a9a" stroke-width="1"/>
<path d="M858.5 1173.4H876" stroke="#9a9a9a" stroke-width="1"/>
<path d="M858.5 1154.8V1173.4" stroke="#9a9a9a" stroke-width="1"/>
<path d="M858.5 1192H876" stroke="#9a9a9a" stroke-width="1"/>
<path d="M858.5 1210.6H876" stroke="#9a9a9a" stroke-width="1"/>
<path d="M858.5 1192V1210.6" stroke="#9a9a9a" stroke-width="1"/>
<path d="M853 1164.1H858.5" stroke="#9a9a9a" stroke-width="1"/>
<path d="M853 1201.3H858.5" stroke="#9a9a9a" stroke-width="1"/>
<path d="M853 1164.1V1201.3" stroke="#9a9a9a" stroke-width="1"/>
<path d="M847.9 1136.3H876" stroke="#9a9a9a" stroke-width="1"/>
<path d="M847.9 1182.7H853" stroke="#9a9a9a" stroke-width="1"/>
<path d="M847.9 1136.3V1182.7" stroke="#9a9a9a" stroke-width="1"/>
<path d="M842.3 1108.4H847.9" stroke="#9a9a9a" stroke-width="1"/>
<path d="M842.3 1159.5H847.9" stroke="#9a9a9a" stroke-width="1"/>
<path d="M842.3 1108.4V1159.5" stroke="#9a9a9a" stroke-width="1"/>
<path d="M837 1080.5H876" stroke="#9a9a9a" stroke-width="1"/>
<path d="M837 1133.9H842.3" stroke="#9a9a9a" stroke-width="1"/>
<path d="M837 1080.5V1133.9" stroke="#9a9a9a" stroke-width="1"/>
<path d="M831.5 1029.6H837" stroke="#9a9a9a" stroke-width="1"/>
<path d="M831.5 1107.2H837" stroke="#9a9a9a" stroke-width="1"/>
<path d="M831.5 1029.6V1107.2" stroke="#9a9a9a" stroke-width="1"/>
<path d="M858.5 1303.5H876" stroke="#9a9a9a" stroke-width="1"/>
<path d="M858.5 1322.1H876" stroke="#9a9a9a" stroke-width="1"/>
<path d="M858.5 1303.5V1322.1" stroke="#9a9a9a" stroke-width="1"/>
<path d="M858.5 1340.6H876" stroke="#9a9a9a" stroke-width="1"/>
<path d="M858.5 1359.2H876" stroke="#9a9a9a" stroke-width="1"/>
<path d="M858.5 1340.6V1359.2" stroke="#9a9a9a" stroke-width="1"/>
<path d="M853.2 1312.8H858.5" stroke="#9a9a9a" stroke-width="1"/>
<path d="M853.2 1349.9H858.5" stroke="#9a9a9a" stroke-width="1"/>
<path d="M853.2 1312.8V1349.9" stroke="#9a9a9a" stroke-width="1"/>
<path d="M848 1284.9H876" stroke="#9a9a9a" stroke-width="1"/>
<path d="M848 1331.3H853.2" stroke="#9a9a9a" stroke-width="1"/>
<path d="M848 1284.9V1331.3" stroke="#9a9a9a" stroke-width="1"/>
<path d="M842.7 1266.3H876" stroke="#9a9a9a" stroke-width="1"/>
<path d="M842.7 1308.1H848" stroke="#9a9a9a" stroke-width="1"/>
<path d="M842.7 1266.3V1308.1" stroke="#9a9a9a" stroke-width="1"/>
<path d="M837.4 1247.7H876" stroke="#9a9a9a" stroke-width="1"/>
<path d="M837.4 1287.2H842.7" stroke="#9a9a9a" stroke-width="1"/>
<path d="M837.4 1247.7V1287.2" stroke="#9a9a9a" stroke-width="1"/>
<path d="M832.1 1229.2H876" stroke="#9a9a9a" stroke-width="1"/>
<path d="M832.1 1267.5H837.4" stroke="#9a9a9a" stroke-width="1"/>
<path d="M832.1 1229.2V1267.5" stroke="#9a9a9a" stroke-width="1"/>
<path d="M826.9 1068.4H831.5" stroke="#9a9a9a" stroke-width="1"/>
<path d="M826.9 1248.3H832.1" stroke="#9a9a9a" stroke-width="1"/>
<path d="M826.9 1068.4V1248.3" stroke="#9a9a9a" stroke-width="1"/>
<path d="M837.4 1377.8H876" stroke="#9a9a9a" stroke-width="1"/>
<path d="M837.4 1396.4H876" stroke="#9a9a9a" stroke-width="1"/>
<path d="M837.4 1377.8V1396.4" stroke="#9a9a9a" stroke-width="1"/>
<path d="M832.1 1387.1H837.4" stroke="#9a9a9a" stroke-width="1"/>
<path d="M832.1 1415H876" stroke="#9a9a9a" stroke-width="1"/>
<path d="M832.1 1387.1V1415" stroke="#9a9a9a" stroke-width="1"/>
<path d="M853.2 1507.9H876" stroke="#9a9a9a" stroke-width="1"/>
<path d="M853.2 1526.4H876" stroke="#9a9a9a" stroke-width="1"/>
<path d="M853.2 1507.9V1526.4" stroke="#9a9a9a" stroke-width="1"/>
<path d="M848 1489.3H876" stroke="#9a9a9a" stroke-width="1"/>
<path d="M848 1517.2H853.2" stroke="#9a9a9a" stroke-width="1"/>
<path d="M848 1489.3V1517.2" stroke="#9a9a9a" stroke-width="1"/>
<path d="M842.7 1470.7H876" stroke="#9a9a9a" stroke-width="1"/>
<path d="M842.7 1503.2H848" stroke="#9a9a9a" stroke-width="1"/>
<path d="M842.7 1470.7V1503.2" stroke="#9a9a9a" stroke-width="1"/>
<path d="M837.4 1452.1H876" stroke="#9a9a9a" stroke-width="1"/>
<path d="M837.4 1487H842.7" stroke="#9a9a9a" stroke-width="1"/>
<path d="M837.4 1452.1V1487" stroke="#9a9a9a" stroke-width="1"/>
<path d="M832.1 1433.5H876" stroke="#9a9a9a" stroke-width="1"/>
<path d="M832.1 1469.5H837.4" stroke="#9a9a9a" stroke-width="1"/>
<path d="M832.1 1433.5V1469.5" stroke="#9a9a9a" stroke-width="1"/>
<path d="M826.9 1401H832.1" stroke="#9a9a9a" stroke-width="1"/>
<path d="M826.9 1451.5H832.1" stroke="#9a9a9a" stroke-width="1"/>
<path d="M826.9 1401V1451.5" stroke="#9a9a9a" stroke-width="1"/>
<path d="M821 1158.4H826.9" stroke="#9a9a9a" stroke-width="1"/>
<path d="M821 1426.3H826.9" stroke="#9a9a9a" stroke-width="1"/>
<path d="M821 1158.4V1426.3" stroke="#9a9a9a" stroke-width="1"/>
<polygon points="886,908.4 887.6,912.2 891.7,912.6 888.6,915.2 889.5,919.2 886,917.1 882.5,919.2 883.4,915.2 880.3,912.6 884.4,912.2" fill="#f00"/>
<text x="900.5" y="917.9" font-size="11" class="t" letter-spacing="1.8">Dlo020925 DlPAO4A</text>
<polygon points="886,927 887.6,930.8 891.7,931.1 888.6,933.8 889.5,937.8 886,935.7 882.5,937.8 883.4,933.8 880.3,931.1 884.4,930.8" fill="#f00"/>
<text x="900.5" y="936.5" font-size="11" class="t" letter-spacing="1.8">Dlo021032 DlPAO4B</text>
<circle cx="886" cy="951.1" r="6.5" fill="#ff9e0a"/>
<text x="900.5" y="955.1" font-size="11" class="t" letter-spacing="1.8">XP 006481938 CsPAO4</text>
<polygon points="886,964.4 892,975 880,975" fill="#fff" stroke="#333" stroke-width="1.1" stroke-linejoin="miter"/>
<text x="900.5" y="973.6" font-size="11" class="t" letter-spacing="1.8">XP 016701742 GhPAO4</text>
<circle cx="886" cy="988.2" r="6.5" fill="#ff0000"/>
<text x="900.5" y="992.2" font-size="11" class="t" letter-spacing="1.8">XP 008343150 MdPAO4</text>
<polygon points="886,1000.9 892.5,1012.6 879.5,1012.6" fill="#ffff00"/>
<text x="900.5" y="1010.7" font-size="11" class="t" letter-spacing="1.8">XP 006348188 StPAO4</text>
<rect x="880" y="1019.4" width="11.9" height="11.9" rx="1.6" fill="#fff" stroke="#333" stroke-width="1.1"/>
<text x="900.5" y="1029.3" font-size="11" class="t" letter-spacing="1.8">AT1G65840 AtPAO4</text>
<rect x="879.5" y="1037.4" width="13" height="13" fill="#ffff00"/>
<text x="900.5" y="1047.9" font-size="11" class="t" letter-spacing="1.8">XP 015637015 OsPAO2</text>
<rect x="879.5" y="1056" width="13" height="13" fill="#ffff00"/>
<text x="900.5" y="1066.4" font-size="11" class="t" letter-spacing="1.8">XP 015636452 OsPAO4</text>
<polygon points="886,1075.2 892.5,1086.9 879.5,1086.9" fill="#ffff00"/>
<text x="900.5" y="1085" font-size="11" class="t" letter-spacing="1.8">XP 006351988 StPAO2</text>
<rect x="880" y="1093.6" width="11.9" height="11.9" rx="1.6" fill="#fff" stroke="#333" stroke-width="1.1"/>
<text x="900.5" y="1103.5" font-size="11" class="t" letter-spacing="1.8">AT2G43020 AtPAO2</text>
<rect x="880" y="1112.2" width="11.9" height="11.9" rx="1.6" fill="#fff" stroke="#333" stroke-width="1.1"/>
<text x="900.5" y="1122.1" font-size="11" class="t" letter-spacing="1.8">AT3G59050 AtPAO3</text>
<circle cx="886" cy="1136.7" r="6.5" fill="#ff0000"/>
<text x="900.5" y="1140.7" font-size="11" class="t" letter-spacing="1.8">XP 008380158 MdPAO2</text>
<polygon points="886,1149.7 887.6,1153.5 891.7,1153.8 888.6,1156.5 889.5,1160.5 886,1158.4 882.5,1160.5 883.4,1156.5 880.3,1153.8 884.4,1153.5" fill="#f00"/>
<text x="900.5" y="1159.2" font-size="11" class="t" letter-spacing="1.8">Dlo028129 DlPAO2</text>
<circle cx="886" cy="1173.8" r="6.5" fill="#ff9e0a"/>
<text x="900.5" y="1177.8" font-size="11" class="t" letter-spacing="1.8">XP 006485011 CsPAO2</text>
<circle cx="886" cy="1192.4" r="6" fill="#fff" stroke="#333" stroke-width="1.1"/>
<text x="900.5" y="1196.3" font-size="11" class="t" letter-spacing="1.8">XP 007048902 TcPAO2</text>
<polygon points="886,1205.7 892,1216.3 880,1216.3" fill="#fff" stroke="#333" stroke-width="1.1" stroke-linejoin="miter"/>
<text x="900.5" y="1214.9" font-size="11" class="t" letter-spacing="1.8">XP 016734983 GhPAO2</text>
<rect x="879.5" y="1223" width="13" height="13" fill="#ffff00"/>
<text x="900.5" y="1233.5" font-size="11" class="t" letter-spacing="1.8">XP 015630114 OsPAO5</text>
<rect x="880" y="1242.1" width="11.9" height="11.9" rx="1.6" fill="#fff" stroke="#333" stroke-width="1.1"/>
<text x="900.5" y="1252" font-size="11" class="t" letter-spacing="1.8">AT4G29720 AtPAO5</text>
<polygon points="886,1260.8 892.5,1272.5 879.5,1272.5" fill="#ffff00"/>
<text x="900.5" y="1270.6" font-size="11" class="t" letter-spacing="1.8">XP 006346568 StPAO5</text>
<circle cx="886" cy="1285.2" r="6.5" fill="#ff0000"/>
<text x="900.5" y="1289.1" font-size="11" class="t" letter-spacing="1.8">XP 008367921 MdPAO5</text>
<polygon points="886,1298.2 887.6,1302 891.7,1302.3 888.6,1305 889.5,1309 886,1306.9 882.5,1309 883.4,1305 880.3,1302.3 884.4,1302" fill="#f00"/>
<text x="900.5" y="1307.7" font-size="11" class="t" letter-spacing="1.8">Dlo000178 DlPAO5</text>
<circle cx="886" cy="1322.3" r="6.5" fill="#ff9e0a"/>
<text x="900.5" y="1326.3" font-size="11" class="t" letter-spacing="1.8">XP 006475454 CsPAO5</text>
<circle cx="886" cy="1340.9" r="6" fill="#fff" stroke="#333" stroke-width="1.1"/>
<text x="900.5" y="1344.8" font-size="11" class="t" letter-spacing="1.8">XP 007012841 TcPAO5</text>
<polygon points="886,1354.1 892,1364.7 880,1364.7" fill="#fff" stroke="#333" stroke-width="1.1" stroke-linejoin="miter"/>
<text x="900.5" y="1363.4" font-size="11" class="t" letter-spacing="1.8">XP 016726184 GhPAO5</text>
<rect x="879.5" y="1371.5" width="13" height="13" fill="#ffff00"/>
<text x="900.5" y="1381.9" font-size="11" class="t" letter-spacing="1.8">XP 015611019 OsPAO</text>
<rect x="879.5" y="1390.1" width="13" height="13" fill="#ffff00"/>
<text x="900.5" y="1400.5" font-size="11" class="t" letter-spacing="1.8">XP 015611432 OsPAO</text>
<circle cx="886" cy="1415.1" r="6.5" fill="#ff9e0a"/>
<text x="900.5" y="1419.1" font-size="11" class="t" letter-spacing="1.8">XP 024956340 CsPAO</text>
<circle cx="886" cy="1433.7" r="6.5" fill="#ff0000"/>
<text x="900.5" y="1437.6" font-size="11" class="t" letter-spacing="1.8">XP 008375198 MdPAO1</text>
<rect x="880" y="1446.3" width="11.9" height="11.9" rx="1.6" fill="#fff" stroke="#333" stroke-width="1.1"/>
<text x="900.5" y="1456.2" font-size="11" class="t" letter-spacing="1.8">AT5G13700 AtPAO1</text>
<polygon points="886,1465 892.5,1476.6 879.5,1476.6" fill="#ffff00"/>
<text x="900.5" y="1474.7" font-size="11" class="t" letter-spacing="1.8">XP 006345421 StPAO1</text>
<circle cx="886" cy="1489.4" r="6.5" fill="#ff9e0a"/>
<text x="900.5" y="1493.3" font-size="11" class="t" letter-spacing="1.8">XP 006482917 CsPAO1</text>
<circle cx="886" cy="1507.9" r="6" fill="#fff" stroke="#333" stroke-width="1.1"/>
<text x="900.5" y="1511.9" font-size="11" class="t" letter-spacing="1.8">XP 007052480 TcPAO1</text>
<polygon points="886,1521.2 892,1531.8 880,1531.8" fill="#fff" stroke="#333" stroke-width="1.1" stroke-linejoin="miter"/>
<text x="900.5" y="1530.4" font-size="11" class="t" letter-spacing="1.8">XP 016681956 GhPAO1</text>
<path d="M1066.2 910.6H1212.7" stroke="#888" stroke-width="1"/>
<rect class="m" x="1073" y="904.1" width="8" height="13" fill="url(#g21)"/>
<rect class="m" x="1081" y="904.1" width="6" height="13" fill="url(#g7)"/>
<rect class="m" x="1087" y="904.1" width="15" height="13" fill="url(#g15)"/>
<rect class="m" x="1103" y="904.1" width="11" height="13" fill="url(#g2)"/>
<rect class="m" x="1116" y="904.1" width="10" height="13" fill="url(#g0)"/>
<rect class="m" x="1127" y="904.1" width="8" height="13" fill="url(#g11)"/>
<rect class="m" x="1139" y="904.1" width="8.5" height="13" fill="url(#g12)"/>
<rect class="m" x="1148" y="904.1" width="4" height="13" fill="url(#g13)"/>
<rect class="m" x="1152" y="904.1" width="7" height="13" fill="url(#g3)"/>
<rect class="m" x="1165" y="904.1" width="12" height="13" fill="url(#g8)"/>
<rect class="m" x="1182" y="904.1" width="5.5" height="13" fill="url(#g5)"/>
<rect class="m" x="1193" y="904.1" width="7" height="13" fill="url(#g9)"/>
<rect class="m" x="1200" y="904.1" width="7" height="13" fill="url(#g14)"/>
<path d="M1066.2 929.2H1213" stroke="#888" stroke-width="1"/>
<rect class="m" x="1073" y="922.8" width="8" height="13" fill="url(#g21)"/>
<rect class="m" x="1081" y="922.8" width="6" height="13" fill="url(#g7)"/>
<rect class="m" x="1087" y="922.8" width="15" height="13" fill="url(#g15)"/>
<rect class="m" x="1103" y="922.8" width="11" height="13" fill="url(#g2)"/>
<rect class="m" x="1116" y="922.8" width="10" height="13" fill="url(#g0)"/>
<rect class="m" x="1127" y="922.8" width="8" height="13" fill="url(#g11)"/>
<rect class="m" x="1139" y="922.8" width="8.5" height="13" fill="url(#g12)"/>
<rect class="m" x="1148" y="922.8" width="4" height="13" fill="url(#g13)"/>
<rect class="m" x="1152" y="922.8" width="7" height="13" fill="url(#g3)"/>
<rect class="m" x="1165" y="922.8" width="12" height="13" fill="url(#g8)"/>
<rect class="m" x="1182" y="922.8" width="5.5" height="13" fill="url(#g5)"/>
<rect class="m" x="1193" y="922.8" width="7" height="13" fill="url(#g9)"/>
<rect class="m" x="1200" y="922.8" width="7" height="13" fill="url(#g14)"/>
<path d="M1066.2 947.9H1215" stroke="#888" stroke-width="1"/>
<rect class="m" x="1075" y="941.4" width="8" height="13" fill="url(#g21)"/>
<rect class="m" x="1083" y="941.4" width="6" height="13" fill="url(#g7)"/>
<rect class="m" x="1089" y="941.4" width="15" height="13" fill="url(#g15)"/>
<rect class="m" x="1105" y="941.4" width="11" height="13" fill="url(#g2)"/>
<rect class="m" x="1118" y="941.4" width="10" height="13" fill="url(#g0)"/>
<rect class="m" x="1129" y="941.4" width="8" height="13" fill="url(#g11)"/>
<rect class="m" x="1141" y="941.4" width="8.5" height="13" fill="url(#g12)"/>
<rect class="m" x="1150" y="941.4" width="4" height="13" fill="url(#g13)"/>
<rect class="m" x="1154" y="941.4" width="7" height="13" fill="url(#g3)"/>
<rect class="m" x="1167" y="941.4" width="12" height="13" fill="url(#g8)"/>
<rect class="m" x="1184" y="941.4" width="5.5" height="13" fill="url(#g5)"/>
<rect class="m" x="1195" y="941.4" width="7" height="13" fill="url(#g9)"/>
<rect class="m" x="1202" y="941.4" width="7" height="13" fill="url(#g14)"/>
<path d="M1066.2 966.6H1210" stroke="#888" stroke-width="1"/>
<rect class="m" x="1070" y="960.1" width="8" height="13" fill="url(#g21)"/>
<rect class="m" x="1078" y="960.1" width="6" height="13" fill="url(#g7)"/>
<rect class="m" x="1084" y="960.1" width="15" height="13" fill="url(#g15)"/>
<rect class="m" x="1100" y="960.1" width="11" height="13" fill="url(#g2)"/>
<rect class="m" x="1113" y="960.1" width="10" height="13" fill="url(#g0)"/>
<rect class="m" x="1124" y="960.1" width="8" height="13" fill="url(#g11)"/>
<rect class="m" x="1136" y="960.1" width="8.5" height="13" fill="url(#g12)"/>
<rect class="m" x="1145" y="960.1" width="4" height="13" fill="url(#g13)"/>
<rect class="m" x="1149" y="960.1" width="7" height="13" fill="url(#g3)"/>
<rect class="m" x="1162" y="960.1" width="12" height="13" fill="url(#g8)"/>
<rect class="m" x="1179" y="960.1" width="5.5" height="13" fill="url(#g5)"/>
<rect class="m" x="1190" y="960.1" width="7" height="13" fill="url(#g9)"/>
<rect class="m" x="1197" y="960.1" width="7" height="13" fill="url(#g14)"/>
<path d="M1066.2 985.2H1215" stroke="#888" stroke-width="1"/>
<rect class="m" x="1075" y="978.7" width="8" height="13" fill="url(#g21)"/>
<rect class="m" x="1083" y="978.7" width="6" height="13" fill="url(#g7)"/>
<rect class="m" x="1089" y="978.7" width="15" height="13" fill="url(#g15)"/>
<rect class="m" x="1105" y="978.7" width="11" height="13" fill="url(#g2)"/>
<rect class="m" x="1118" y="978.7" width="10" height="13" fill="url(#g0)"/>
<rect class="m" x="1129" y="978.7" width="8" height="13" fill="url(#g11)"/>
<rect class="m" x="1141" y="978.7" width="8.5" height="13" fill="url(#g12)"/>
<rect class="m" x="1150" y="978.7" width="4" height="13" fill="url(#g13)"/>
<rect class="m" x="1154" y="978.7" width="7" height="13" fill="url(#g3)"/>
<rect class="m" x="1167" y="978.7" width="12" height="13" fill="url(#g8)"/>
<rect class="m" x="1184" y="978.7" width="5.5" height="13" fill="url(#g5)"/>
<rect class="m" x="1195" y="978.7" width="7" height="13" fill="url(#g9)"/>
<rect class="m" x="1202" y="978.7" width="7" height="13" fill="url(#g14)"/>
<path d="M1066.2 1003.9H1216" stroke="#888" stroke-width="1"/>
<rect class="m" x="1075" y="997.4" width="8" height="13" fill="url(#g21)"/>
<rect class="m" x="1083" y="997.4" width="6" height="13" fill="url(#g7)"/>
<rect class="m" x="1089" y="997.4" width="15" height="13" fill="url(#g15)"/>
<rect class="m" x="1105" y="997.4" width="11" height="13" fill="url(#g2)"/>
<rect class="m" x="1118" y="997.4" width="10" height="13" fill="url(#g0)"/>
<rect class="m" x="1129" y="997.4" width="8" height="13" fill="url(#g11)"/>
<rect class="m" x="1141" y="997.4" width="8.5" height="13" fill="url(#g12)"/>
<rect class="m" x="1150" y="997.4" width="4" height="13" fill="url(#g13)"/>
<rect class="m" x="1154" y="997.4" width="7" height="13" fill="url(#g3)"/>
<rect class="m" x="1167" y="997.4" width="12" height="13" fill="url(#g8)"/>
<rect class="m" x="1184" y="997.4" width="5.5" height="13" fill="url(#g5)"/>
<rect class="m" x="1195" y="997.4" width="7" height="13" fill="url(#g9)"/>
<rect class="m" x="1202" y="997.4" width="7" height="13" fill="url(#g14)"/>
<path d="M1066.2 1022.5H1216" stroke="#888" stroke-width="1"/>
<rect class="m" x="1075" y="1016" width="8" height="13" fill="url(#g21)"/>
<rect class="m" x="1083" y="1016" width="6" height="13" fill="url(#g7)"/>
<rect class="m" x="1089" y="1016" width="15" height="13" fill="url(#g15)"/>
<rect class="m" x="1105" y="1016" width="11" height="13" fill="url(#g2)"/>
<rect class="m" x="1118" y="1016" width="10" height="13" fill="url(#g0)"/>
<rect class="m" x="1129" y="1016" width="8" height="13" fill="url(#g11)"/>
<rect class="m" x="1141" y="1016" width="8.5" height="13" fill="url(#g12)"/>
<rect class="m" x="1150" y="1016" width="4" height="13" fill="url(#g13)"/>
<rect class="m" x="1154" y="1016" width="7" height="13" fill="url(#g3)"/>
<rect class="m" x="1167" y="1016" width="12" height="13" fill="url(#g8)"/>
<rect class="m" x="1184" y="1016" width="5.5" height="13" fill="url(#g5)"/>
<rect class="m" x="1195" y="1016" width="7" height="13" fill="url(#g9)"/>
<rect class="m" x="1202" y="1016" width="7" height="13" fill="url(#g14)"/>
<path d="M1066.2 1041.2H1213" stroke="#888" stroke-width="1"/>
<rect class="m" x="1074" y="1034.7" width="8" height="13" fill="url(#g21)"/>
<rect class="m" x="1082" y="1034.7" width="6" height="13" fill="url(#g7)"/>
<rect class="m" x="1088" y="1034.7" width="15" height="13" fill="url(#g15)"/>
<rect class="m" x="1104" y="1034.7" width="11" height="13" fill="url(#g2)"/>
<rect class="m" x="1117" y="1034.7" width="10" height="13" fill="url(#g0)"/>
<rect class="m" x="1128" y="1034.7" width="8" height="13" fill="url(#g11)"/>
<rect class="m" x="1140" y="1034.7" width="8.5" height="13" fill="url(#g12)"/>
<rect class="m" x="1149" y="1034.7" width="4" height="13" fill="url(#g13)"/>
<rect class="m" x="1153" y="1034.7" width="7" height="13" fill="url(#g3)"/>
<rect class="m" x="1166" y="1034.7" width="12" height="13" fill="url(#g8)"/>
<rect class="m" x="1183" y="1034.7" width="5.5" height="13" fill="url(#g5)"/>
<rect class="m" x="1194" y="1034.7" width="7" height="13" fill="url(#g9)"/>
<rect class="m" x="1201" y="1034.7" width="7" height="13" fill="url(#g14)"/>
<path d="M1066.2 1059.8H1214" stroke="#888" stroke-width="1"/>
<rect class="m" x="1075" y="1053.3" width="8" height="13" fill="url(#g21)"/>
<rect class="m" x="1083" y="1053.3" width="6" height="13" fill="url(#g7)"/>
<rect class="m" x="1089" y="1053.3" width="15" height="13" fill="url(#g15)"/>
<rect class="m" x="1105" y="1053.3" width="11" height="13" fill="url(#g2)"/>
<rect class="m" x="1118" y="1053.3" width="10" height="13" fill="url(#g0)"/>
<rect class="m" x="1129" y="1053.3" width="8" height="13" fill="url(#g11)"/>
<rect class="m" x="1141" y="1053.3" width="8.5" height="13" fill="url(#g12)"/>
<rect class="m" x="1150" y="1053.3" width="4" height="13" fill="url(#g13)"/>
<rect class="m" x="1154" y="1053.3" width="7" height="13" fill="url(#g3)"/>
<rect class="m" x="1167" y="1053.3" width="12" height="13" fill="url(#g8)"/>
<rect class="m" x="1184" y="1053.3" width="5.5" height="13" fill="url(#g5)"/>
<rect class="m" x="1195" y="1053.3" width="7" height="13" fill="url(#g9)"/>
<rect class="m" x="1202" y="1053.3" width="7" height="13" fill="url(#g14)"/>
<path d="M1066.2 1078.5H1214" stroke="#888" stroke-width="1"/>
<rect class="m" x="1075" y="1072" width="8" height="13" fill="url(#g21)"/>
<rect class="m" x="1083" y="1072" width="6" height="13" fill="url(#g7)"/>
<rect class="m" x="1089" y="1072" width="15" height="13" fill="url(#g15)"/>
<rect class="m" x="1105" y="1072" width="11" height="13" fill="url(#g2)"/>
<rect class="m" x="1118" y="1072" width="10" height="13" fill="url(#g0)"/>
<rect class="m" x="1129" y="1072" width="8" height="13" fill="url(#g11)"/>
<rect class="m" x="1141" y="1072" width="8.5" height="13" fill="url(#g12)"/>
<rect class="m" x="1150" y="1072" width="4" height="13" fill="url(#g13)"/>
<rect class="m" x="1154" y="1072" width="7" height="13" fill="url(#g3)"/>
<rect class="m" x="1167" y="1072" width="12" height="13" fill="url(#g8)"/>
<rect class="m" x="1184" y="1072" width="5.5" height="13" fill="url(#g5)"/>
<rect class="m" x="1195" y="1072" width="7" height="13" fill="url(#g9)"/>
<rect class="m" x="1202" y="1072" width="7" height="13" fill="url(#g14)"/>
<path d="M1066.2 1097.1H1214" stroke="#888" stroke-width="1"/>
<rect class="m" x="1075" y="1090.6" width="8" height="13" fill="url(#g21)"/>
<rect class="m" x="1083" y="1090.6" width="6" height="13" fill="url(#g7)"/>
<rect class="m" x="1089" y="1090.6" width="15" height="13" fill="url(#g15)"/>
<rect class="m" x="1105" y="1090.6" width="11" height="13" fill="url(#g2)"/>
<rect class="m" x="1118" y="1090.6" width="10" height="13" fill="url(#g0)"/>
<rect class="m" x="1129" y="1090.6" width="8" height="13" fill="url(#g11)"/>
<rect class="m" x="1141" y="1090.6" width="8.5" height="13" fill="url(#g12)"/>
<rect class="m" x="1150" y="1090.6" width="4" height="13" fill="url(#g13)"/>
<rect class="m" x="1154" y="1090.6" width="7" height="13" fill="url(#g3)"/>
<rect class="m" x="1167" y="1090.6" width="12" height="13" fill="url(#g8)"/>
<rect class="m" x="1184" y="1090.6" width="5.5" height="13" fill="url(#g5)"/>
<rect class="m" x="1195" y="1090.6" width="7" height="13" fill="url(#g9)"/>
<rect class="m" x="1202" y="1090.6" width="7" height="13" fill="url(#g14)"/>
<path d="M1066.2 1115.8H1214" stroke="#888" stroke-width="1"/>
<rect class="m" x="1075" y="1109.2" width="8" height="13" fill="url(#g21)"/>
<rect class="m" x="1083" y="1109.2" width="6" height="13" fill="url(#g7)"/>
<rect class="m" x="1089" y="1109.2" width="15" height="13" fill="url(#g15)"/>
<rect class="m" x="1105" y="1109.2" width="11" height="13" fill="url(#g2)"/>
<rect class="m" x="1118" y="1109.2" width="10" height="13" fill="url(#g0)"/>
<rect class="m" x="1129" y="1109.2" width="8" height="13" fill="url(#g11)"/>
<rect class="m" x="1141" y="1109.2" width="8.5" height="13" fill="url(#g12)"/>
<rect class="m" x="1150" y="1109.2" width="4" height="13" fill="url(#g13)"/>
<rect class="m" x="1154" y="1109.2" width="7" height="13" fill="url(#g3)"/>
<rect class="m" x="1167" y="1109.2" width="12" height="13" fill="url(#g8)"/>
<rect class="m" x="1184" y="1109.2" width="5.5" height="13" fill="url(#g5)"/>
<rect class="m" x="1195" y="1109.2" width="7" height="13" fill="url(#g9)"/>
<rect class="m" x="1202" y="1109.2" width="7" height="13" fill="url(#g14)"/>
<path d="M1066.2 1134.4H1214" stroke="#888" stroke-width="1"/>
<rect class="m" x="1075" y="1127.9" width="8" height="13" fill="url(#g21)"/>
<rect class="m" x="1083" y="1127.9" width="6" height="13" fill="url(#g7)"/>
<rect class="m" x="1089" y="1127.9" width="15" height="13" fill="url(#g15)"/>
<rect class="m" x="1105" y="1127.9" width="11" height="13" fill="url(#g2)"/>
<rect class="m" x="1118" y="1127.9" width="10" height="13" fill="url(#g0)"/>
<rect class="m" x="1129" y="1127.9" width="8" height="13" fill="url(#g11)"/>
<rect class="m" x="1141" y="1127.9" width="8.5" height="13" fill="url(#g12)"/>
<rect class="m" x="1150" y="1127.9" width="4" height="13" fill="url(#g13)"/>
<rect class="m" x="1154" y="1127.9" width="7" height="13" fill="url(#g3)"/>
<rect class="m" x="1167" y="1127.9" width="12" height="13" fill="url(#g8)"/>
<rect class="m" x="1184" y="1127.9" width="5.5" height="13" fill="url(#g5)"/>
<rect class="m" x="1195" y="1127.9" width="7" height="13" fill="url(#g9)"/>
<rect class="m" x="1202" y="1127.9" width="7" height="13" fill="url(#g14)"/>
<path d="M1066.2 1153H1216" stroke="#888" stroke-width="1"/>
<rect class="m" x="1075" y="1146.5" width="8" height="13" fill="url(#g21)"/>
<rect class="m" x="1083" y="1146.5" width="6" height="13" fill="url(#g7)"/>
<rect class="m" x="1089" y="1146.5" width="15" height="13" fill="url(#g15)"/>
<rect class="m" x="1105" y="1146.5" width="11" height="13" fill="url(#g2)"/>
<rect class="m" x="1118" y="1146.5" width="10" height="13" fill="url(#g0)"/>
<rect class="m" x="1129" y="1146.5" width="8" height="13" fill="url(#g11)"/>
<rect class="m" x="1141" y="1146.5" width="8.5" height="13" fill="url(#g12)"/>
<rect class="m" x="1150" y="1146.5" width="4" height="13" fill="url(#g13)"/>
<rect class="m" x="1154" y="1146.5" width="7" height="13" fill="url(#g3)"/>
<rect class="m" x="1167" y="1146.5" width="12" height="13" fill="url(#g8)"/>
<rect class="m" x="1184" y="1146.5" width="5.5" height="13" fill="url(#g5)"/>
<rect class="m" x="1195" y="1146.5" width="7" height="13" fill="url(#g9)"/>
<rect class="m" x="1202" y="1146.5" width="7" height="13" fill="url(#g14)"/>
<path d="M1066.2 1171.7H1214" stroke="#888" stroke-width="1"/>
<rect class="m" x="1075" y="1165.2" width="8" height="13" fill="url(#g21)"/>
<rect class="m" x="1083" y="1165.2" width="6" height="13" fill="url(#g7)"/>
<rect class="m" x="1089" y="1165.2" width="15" height="13" fill="url(#g15)"/>
<rect class="m" x="1105" y="1165.2" width="11" height="13" fill="url(#g2)"/>
<rect class="m" x="1118" y="1165.2" width="10" height="13" fill="url(#g0)"/>
<rect class="m" x="1129" y="1165.2" width="8" height="13" fill="url(#g11)"/>
<rect class="m" x="1141" y="1165.2" width="8.5" height="13" fill="url(#g12)"/>
<rect class="m" x="1150" y="1165.2" width="4" height="13" fill="url(#g13)"/>
<rect class="m" x="1154" y="1165.2" width="7" height="13" fill="url(#g3)"/>
<rect class="m" x="1167" y="1165.2" width="12" height="13" fill="url(#g8)"/>
<rect class="m" x="1184" y="1165.2" width="5.5" height="13" fill="url(#g5)"/>
<rect class="m" x="1195" y="1165.2" width="7" height="13" fill="url(#g9)"/>
<rect class="m" x="1202" y="1165.2" width="7" height="13" fill="url(#g14)"/>
<path d="M1066.2 1190.3H1214" stroke="#888" stroke-width="1"/>
<rect class="m" x="1075" y="1183.8" width="8" height="13" fill="url(#g21)"/>
<rect class="m" x="1083" y="1183.8" width="6" height="13" fill="url(#g7)"/>
<rect class="m" x="1089" y="1183.8" width="15" height="13" fill="url(#g15)"/>
<rect class="m" x="1105" y="1183.8" width="11" height="13" fill="url(#g2)"/>
<rect class="m" x="1118" y="1183.8" width="10" height="13" fill="url(#g0)"/>
<rect class="m" x="1129" y="1183.8" width="8" height="13" fill="url(#g11)"/>
<rect class="m" x="1141" y="1183.8" width="8.5" height="13" fill="url(#g12)"/>
<rect class="m" x="1150" y="1183.8" width="4" height="13" fill="url(#g13)"/>
<rect class="m" x="1154" y="1183.8" width="7" height="13" fill="url(#g3)"/>
<rect class="m" x="1167" y="1183.8" width="12" height="13" fill="url(#g8)"/>
<rect class="m" x="1184" y="1183.8" width="5.5" height="13" fill="url(#g5)"/>
<rect class="m" x="1195" y="1183.8" width="7" height="13" fill="url(#g9)"/>
<rect class="m" x="1202" y="1183.8" width="7" height="13" fill="url(#g14)"/>
<path d="M1066.2 1209H1214" stroke="#888" stroke-width="1"/>
<rect class="m" x="1075" y="1202.5" width="8" height="13" fill="url(#g21)"/>
<rect class="m" x="1083" y="1202.5" width="6" height="13" fill="url(#g7)"/>
<rect class="m" x="1089" y="1202.5" width="15" height="13" fill="url(#g15)"/>
<rect class="m" x="1105" y="1202.5" width="11" height="13" fill="url(#g2)"/>
<rect class="m" x="1118" y="1202.5" width="10" height="13" fill="url(#g0)"/>
<rect class="m" x="1129" y="1202.5" width="8" height="13" fill="url(#g11)"/>
<rect class="m" x="1141" y="1202.5" width="8.5" height="13" fill="url(#g12)"/>
<rect class="m" x="1150" y="1202.5" width="4" height="13" fill="url(#g13)"/>
<rect class="m" x="1154" y="1202.5" width="7" height="13" fill="url(#g3)"/>
<rect class="m" x="1167" y="1202.5" width="12" height="13" fill="url(#g8)"/>
<rect class="m" x="1184" y="1202.5" width="5.5" height="13" fill="url(#g5)"/>
<rect class="m" x="1195" y="1202.5" width="7" height="13" fill="url(#g9)"/>
<rect class="m" x="1202" y="1202.5" width="7" height="13" fill="url(#g14)"/>
<path d="M1066.2 1227.7H1220" stroke="#888" stroke-width="1"/>
<rect class="m" x="1076" y="1221.2" width="5" height="13" fill="url(#g7)"/>
<rect class="m" x="1081" y="1221.2" width="6.5" height="13" fill="url(#g19)"/>
<rect class="m" x="1129" y="1221.2" width="8" height="13" fill="url(#g11)"/>
<rect class="m" x="1141" y="1221.2" width="9" height="13" fill="url(#g12)"/>
<rect class="m" x="1154.5" y="1221.2" width="2.5" height="13" fill="url(#g13)"/>
<rect class="m" x="1157" y="1221.2" width="8.5" height="13" fill="url(#g3)"/>
<rect class="m" x="1177" y="1221.2" width="12" height="13" fill="url(#g8)"/>
<rect class="m" x="1192.5" y="1221.2" width="6" height="13" fill="url(#g5)"/>
<rect class="m" x="1208" y="1221.2" width="6.5" height="13" fill="url(#g9)"/>
<path d="M1066.2 1246.3H1227" stroke="#888" stroke-width="1"/>
<rect class="m" x="1076" y="1239.8" width="5" height="13" fill="url(#g7)"/>
<rect class="m" x="1081" y="1239.8" width="6.5" height="13" fill="url(#g19)"/>
<rect class="m" x="1131.9" y="1239.8" width="8.8" height="13" fill="url(#g11)"/>
<rect class="m" x="1145.1" y="1239.8" width="9.9" height="13" fill="url(#g12)"/>
<rect class="m" x="1160" y="1239.8" width="2.8" height="13" fill="url(#g13)"/>
<rect class="m" x="1184.7" y="1239.8" width="13.2" height="13" fill="url(#g8)"/>
<rect class="m" x="1201.8" y="1239.8" width="6.6" height="13" fill="url(#g5)"/>
<rect class="m" x="1218.8" y="1239.8" width="7.2" height="13" fill="url(#g9)"/>
<path d="M1066.2 1265H1223" stroke="#888" stroke-width="1"/>
<rect class="m" x="1076" y="1258.5" width="5" height="13" fill="url(#g7)"/>
<rect class="m" x="1081" y="1258.5" width="6.5" height="13" fill="url(#g19)"/>
<rect class="m" x="1131" y="1258.5" width="8.6" height="13" fill="url(#g11)"/>
<rect class="m" x="1143.9" y="1258.5" width="9.6" height="13" fill="url(#g12)"/>
<rect class="m" x="1158.3" y="1258.5" width="2.7" height="13" fill="url(#g13)"/>
<rect class="m" x="1182.4" y="1258.5" width="12.8" height="13" fill="url(#g8)"/>
<rect class="m" x="1199" y="1258.5" width="6.4" height="13" fill="url(#g5)"/>
<rect class="m" x="1215.6" y="1258.5" width="7" height="13" fill="url(#g9)"/>
<path d="M1066.2 1283.6H1239" stroke="#888" stroke-width="1"/>
<rect class="m" x="1076" y="1277.1" width="5" height="13" fill="url(#g7)"/>
<rect class="m" x="1081" y="1277.1" width="6.5" height="13" fill="url(#g19)"/>
<rect class="m" x="1132.8" y="1277.1" width="9" height="13" fill="url(#g11)"/>
<rect class="m" x="1146.3" y="1277.1" width="10.2" height="13" fill="url(#g12)"/>
<rect class="m" x="1161.6" y="1277.1" width="2.8" height="13" fill="url(#g13)"/>
<rect class="m" x="1164.4" y="1277.1" width="9.6" height="13" fill="url(#g3)"/>
<rect class="m" x="1187" y="1277.1" width="13.6" height="13" fill="url(#g8)"/>
<rect class="m" x="1204.5" y="1277.1" width="6.8" height="13" fill="url(#g5)"/>
<rect class="m" x="1222" y="1277.1" width="7.3" height="13" fill="url(#g9)"/>
<path d="M1066.2 1302.2H1233" stroke="#888" stroke-width="1"/>
<rect class="m" x="1076" y="1295.8" width="5" height="13" fill="url(#g7)"/>
<rect class="m" x="1081" y="1295.8" width="6.5" height="13" fill="url(#g19)"/>
<rect class="m" x="1131.9" y="1295.8" width="8.8" height="13" fill="url(#g11)"/>
<rect class="m" x="1145.1" y="1295.8" width="9.9" height="13" fill="url(#g12)"/>
<rect class="m" x="1160" y="1295.8" width="2.8" height="13" fill="url(#g13)"/>
<rect class="m" x="1184.7" y="1295.8" width="13.2" height="13" fill="url(#g8)"/>
<rect class="m" x="1201.8" y="1295.8" width="6.6" height="13" fill="url(#g5)"/>
<rect class="m" x="1218.8" y="1295.8" width="7.2" height="13" fill="url(#g9)"/>
<path d="M1066.2 1320.9H1238" stroke="#888" stroke-width="1"/>
<rect class="m" x="1076" y="1314.4" width="5" height="13" fill="url(#g7)"/>
<rect class="m" x="1081" y="1314.4" width="6.5" height="13" fill="url(#g19)"/>
<rect class="m" x="1133.3" y="1314.4" width="9.2" height="13" fill="url(#g11)"/>
<rect class="m" x="1147.2" y="1314.4" width="10.3" height="13" fill="url(#g12)"/>
<rect class="m" x="1162.7" y="1314.4" width="2.9" height="13" fill="url(#g13)"/>
<rect class="m" x="1188.5" y="1314.4" width="13.8" height="13" fill="url(#g8)"/>
<rect class="m" x="1206.4" y="1314.4" width="6.9" height="13" fill="url(#g5)"/>
<rect class="m" x="1224.2" y="1314.4" width="7.5" height="13" fill="url(#g9)"/>
<path d="M1066.2 1339.5H1236" stroke="#888" stroke-width="1"/>
<rect class="m" x="1076" y="1333" width="5" height="13" fill="url(#g7)"/>
<rect class="m" x="1081" y="1333" width="6.5" height="13" fill="url(#g19)"/>
<rect class="m" x="1132.5" y="1333" width="9" height="13" fill="url(#g11)"/>
<rect class="m" x="1145.9" y="1333" width="10.1" height="13" fill="url(#g12)"/>
<rect class="m" x="1161" y="1333" width="2.8" height="13" fill="url(#g13)"/>
<rect class="m" x="1186.2" y="1333" width="13.4" height="13" fill="url(#g8)"/>
<rect class="m" x="1203.6" y="1333" width="6.7" height="13" fill="url(#g5)"/>
<rect class="m" x="1221" y="1333" width="7.3" height="13" fill="url(#g9)"/>
<path d="M1066.2 1358.2H1236" stroke="#888" stroke-width="1"/>
<rect class="m" x="1076" y="1351.7" width="5" height="13" fill="url(#g7)"/>
<rect class="m" x="1081" y="1351.7" width="6.5" height="13" fill="url(#g19)"/>
<rect class="m" x="1132.5" y="1351.7" width="9" height="13" fill="url(#g11)"/>
<rect class="m" x="1145.9" y="1351.7" width="10.1" height="13" fill="url(#g12)"/>
<rect class="m" x="1161" y="1351.7" width="2.8" height="13" fill="url(#g13)"/>
<rect class="m" x="1186.2" y="1351.7" width="13.4" height="13" fill="url(#g8)"/>
<rect class="m" x="1203.6" y="1351.7" width="6.7" height="13" fill="url(#g5)"/>
<rect class="m" x="1221" y="1351.7" width="7.3" height="13" fill="url(#g9)"/>
<path d="M1066.2 1376.8H1216" stroke="#888" stroke-width="1"/>
<rect class="m" x="1073.5" y="1370.3" width="8.5" height="13" fill="url(#g21)"/>
<rect class="m" x="1082" y="1370.3" width="6.5" height="13" fill="url(#g7)"/>
<rect class="m" x="1088.5" y="1370.3" width="6.5" height="13" fill="url(#g19)"/>
<rect class="m" x="1122.5" y="1370.3" width="14.5" height="13" fill="url(#g20)"/>
<rect class="m" x="1147" y="1370.3" width="8" height="13" fill="url(#g12)"/>
<rect class="m" x="1155" y="1370.3" width="5" height="13" fill="url(#g13)"/>
<rect class="m" x="1160.5" y="1370.3" width="6.5" height="13" fill="url(#g3)"/>
<rect class="m" x="1167" y="1370.3" width="6" height="13" fill="url(#g14)"/>
<rect class="m" x="1174" y="1370.3" width="12.5" height="13" fill="url(#g8)"/>
<rect class="m" x="1190" y="1370.3" width="6" height="13" fill="url(#g5)"/>
<rect class="m" x="1201" y="1370.3" width="7" height="13" fill="url(#g9)"/>
<path d="M1066.2 1395.5H1216" stroke="#888" stroke-width="1"/>
<rect class="m" x="1074.5" y="1389" width="8.5" height="13" fill="url(#g21)"/>
<rect class="m" x="1083" y="1389" width="6.5" height="13" fill="url(#g7)"/>
<rect class="m" x="1089.5" y="1389" width="6.5" height="13" fill="url(#g19)"/>
<rect class="m" x="1123.5" y="1389" width="14.5" height="13" fill="url(#g20)"/>
<rect class="m" x="1148" y="1389" width="8" height="13" fill="url(#g12)"/>
<rect class="m" x="1156" y="1389" width="5" height="13" fill="url(#g13)"/>
<rect class="m" x="1161.5" y="1389" width="6.5" height="13" fill="url(#g3)"/>
<rect class="m" x="1168" y="1389" width="6" height="13" fill="url(#g14)"/>
<rect class="m" x="1175" y="1389" width="12.5" height="13" fill="url(#g8)"/>
<rect class="m" x="1191" y="1389" width="6" height="13" fill="url(#g5)"/>
<rect class="m" x="1202" y="1389" width="7" height="13" fill="url(#g9)"/>
<path d="M1066.2 1414.2H1214" stroke="#888" stroke-width="1"/>
<rect class="m" x="1071.5" y="1407.7" width="8.5" height="13" fill="url(#g21)"/>
<rect class="m" x="1080" y="1407.7" width="6.5" height="13" fill="url(#g7)"/>
<rect class="m" x="1086.5" y="1407.7" width="6.5" height="13" fill="url(#g19)"/>
<rect class="m" x="1120.5" y="1407.7" width="14.5" height="13" fill="url(#g20)"/>
<rect class="m" x="1145" y="1407.7" width="8" height="13" fill="url(#g12)"/>
<rect class="m" x="1153" y="1407.7" width="5" height="13" fill="url(#g13)"/>
<rect class="m" x="1158.5" y="1407.7" width="6.5" height="13" fill="url(#g3)"/>
<rect class="m" x="1165" y="1407.7" width="6" height="13" fill="url(#g14)"/>
<rect class="m" x="1172" y="1407.7" width="12.5" height="13" fill="url(#g8)"/>
<rect class="m" x="1188" y="1407.7" width="6" height="13" fill="url(#g5)"/>
<rect class="m" x="1199" y="1407.7" width="7" height="13" fill="url(#g9)"/>
<path d="M1066.2 1432.8H1217" stroke="#888" stroke-width="1"/>
<rect class="m" x="1066.5" y="1426.3" width="8.5" height="13" fill="url(#g21)"/>
<rect class="m" x="1075" y="1426.3" width="6.5" height="13" fill="url(#g7)"/>
<rect class="m" x="1081.5" y="1426.3" width="6.5" height="13" fill="url(#g19)"/>
<rect class="m" x="1109.5" y="1426.3" width="14.5" height="13" fill="url(#g20)"/>
<rect class="m" x="1134" y="1426.3" width="8" height="13" fill="url(#g12)"/>
<rect class="m" x="1142" y="1426.3" width="5" height="13" fill="url(#g13)"/>
<rect class="m" x="1147.5" y="1426.3" width="6.5" height="13" fill="url(#g3)"/>
<rect class="m" x="1154" y="1426.3" width="6" height="13" fill="url(#g14)"/>
<rect class="m" x="1161" y="1426.3" width="12.5" height="13" fill="url(#g8)"/>
<rect class="m" x="1177" y="1426.3" width="6" height="13" fill="url(#g5)"/>
<rect class="m" x="1188" y="1426.3" width="7" height="13" fill="url(#g9)"/>
<path d="M1066.2 1451.4H1205" stroke="#888" stroke-width="1"/>
<rect class="m" x="1066.5" y="1444.9" width="8.5" height="13" fill="url(#g21)"/>
<rect class="m" x="1075" y="1444.9" width="6.5" height="13" fill="url(#g7)"/>
<rect class="m" x="1081.5" y="1444.9" width="6.5" height="13" fill="url(#g19)"/>
<rect class="m" x="1110.5" y="1444.9" width="14.5" height="13" fill="url(#g20)"/>
<rect class="m" x="1135" y="1444.9" width="8" height="13" fill="url(#g12)"/>
<rect class="m" x="1143" y="1444.9" width="5" height="13" fill="url(#g13)"/>
<rect class="m" x="1148.5" y="1444.9" width="6.5" height="13" fill="url(#g3)"/>
<rect class="m" x="1155" y="1444.9" width="6" height="13" fill="url(#g14)"/>
<rect class="m" x="1162" y="1444.9" width="12.5" height="13" fill="url(#g8)"/>
<rect class="m" x="1178" y="1444.9" width="6" height="13" fill="url(#g5)"/>
<rect class="m" x="1189" y="1444.9" width="7" height="13" fill="url(#g9)"/>
<path d="M1066.2 1470.1H1216" stroke="#888" stroke-width="1"/>
<rect class="m" x="1066.5" y="1463.6" width="8.5" height="13" fill="url(#g21)"/>
<rect class="m" x="1075" y="1463.6" width="6.5" height="13" fill="url(#g7)"/>
<rect class="m" x="1081.5" y="1463.6" width="6.5" height="13" fill="url(#g19)"/>
<rect class="m" x="1110" y="1463.6" width="14.5" height="13" fill="url(#g20)"/>
<rect class="m" x="1134.5" y="1463.6" width="8" height="13" fill="url(#g12)"/>
<rect class="m" x="1142.5" y="1463.6" width="5" height="13" fill="url(#g13)"/>
<rect class="m" x="1148" y="1463.6" width="6.5" height="13" fill="url(#g3)"/>
<rect class="m" x="1154.5" y="1463.6" width="6" height="13" fill="url(#g14)"/>
<rect class="m" x="1161.5" y="1463.6" width="12.5" height="13" fill="url(#g8)"/>
<rect class="m" x="1177.5" y="1463.6" width="6" height="13" fill="url(#g5)"/>
<rect class="m" x="1188.5" y="1463.6" width="7" height="13" fill="url(#g9)"/>
<path d="M1066.2 1488.8H1216" stroke="#888" stroke-width="1"/>
<rect class="m" x="1066.5" y="1482.2" width="8.5" height="13" fill="url(#g21)"/>
<rect class="m" x="1075" y="1482.2" width="6.5" height="13" fill="url(#g7)"/>
<rect class="m" x="1081.5" y="1482.2" width="6.5" height="13" fill="url(#g19)"/>
<rect class="m" x="1110" y="1482.2" width="14.5" height="13" fill="url(#g20)"/>
<rect class="m" x="1134.5" y="1482.2" width="8" height="13" fill="url(#g12)"/>
<rect class="m" x="1142.5" y="1482.2" width="5" height="13" fill="url(#g13)"/>
<rect class="m" x="1148" y="1482.2" width="6.5" height="13" fill="url(#g3)"/>
<rect class="m" x="1154.5" y="1482.2" width="6" height="13" fill="url(#g14)"/>
<rect class="m" x="1161.5" y="1482.2" width="12.5" height="13" fill="url(#g8)"/>
<rect class="m" x="1177.5" y="1482.2" width="6" height="13" fill="url(#g5)"/>
<rect class="m" x="1188.5" y="1482.2" width="7" height="13" fill="url(#g9)"/>
<path d="M1066.2 1507.4H1216" stroke="#888" stroke-width="1"/>
<rect class="m" x="1066.5" y="1500.9" width="8.5" height="13" fill="url(#g21)"/>
<rect class="m" x="1075" y="1500.9" width="6.5" height="13" fill="url(#g7)"/>
<rect class="m" x="1081.5" y="1500.9" width="6.5" height="13" fill="url(#g19)"/>
<rect class="m" x="1110" y="1500.9" width="14.5" height="13" fill="url(#g20)"/>
<rect class="m" x="1134.5" y="1500.9" width="8" height="13" fill="url(#g12)"/>
<rect class="m" x="1142.5" y="1500.9" width="5" height="13" fill="url(#g13)"/>
<rect class="m" x="1148" y="1500.9" width="6.5" height="13" fill="url(#g3)"/>
<rect class="m" x="1154.5" y="1500.9" width="6" height="13" fill="url(#g14)"/>
<rect class="m" x="1161.5" y="1500.9" width="12.5" height="13" fill="url(#g8)"/>
<rect class="m" x="1177.5" y="1500.9" width="6" height="13" fill="url(#g5)"/>
<rect class="m" x="1188.5" y="1500.9" width="7" height="13" fill="url(#g9)"/>
<path d="M1066.2 1526H1216" stroke="#888" stroke-width="1"/>
<rect class="m" x="1066.5" y="1519.5" width="8.5" height="13" fill="url(#g21)"/>
<rect class="m" x="1075" y="1519.5" width="6.5" height="13" fill="url(#g7)"/>
<rect class="m" x="1081.5" y="1519.5" width="6.5" height="13" fill="url(#g19)"/>
<rect class="m" x="1110" y="1519.5" width="14.5" height="13" fill="url(#g20)"/>
<rect class="m" x="1134.5" y="1519.5" width="8" height="13" fill="url(#g12)"/>
<rect class="m" x="1142.5" y="1519.5" width="5" height="13" fill="url(#g13)"/>
<rect class="m" x="1148" y="1519.5" width="6.5" height="13" fill="url(#g3)"/>
<rect class="m" x="1154.5" y="1519.5" width="6" height="13" fill="url(#g14)"/>
<rect class="m" x="1161.5" y="1519.5" width="12.5" height="13" fill="url(#g8)"/>
<rect class="m" x="1177.5" y="1519.5" width="6" height="13" fill="url(#g5)"/>
<rect class="m" x="1188.5" y="1519.5" width="7" height="13" fill="url(#g9)"/>
<path d="M1266.3 910H1414.3" stroke="#666" stroke-width="1.3"/>
<rect x="1274" y="903.9" width="131.3" height="12.2" fill="#73b33d" rx="2"/>
<path d="M1266.3 928.7H1414.3" stroke="#666" stroke-width="1.3"/>
<rect x="1274" y="922.6" width="131.3" height="12.2" fill="#73b33d" rx="2"/>
<path d="M1266.3 947.3H1417" stroke="#666" stroke-width="1.3"/>
<rect x="1274" y="941.2" width="134" height="12.2" fill="#73b33d" rx="2"/>
<path d="M1266.3 966H1414.3" stroke="#666" stroke-width="1.3"/>
<rect x="1271.6" y="959.9" width="133.7" height="12.2" fill="#73b33d" rx="2"/>
<path d="M1266.3 984.7H1417" stroke="#666" stroke-width="1.3"/>
<rect x="1279" y="978.6" width="129" height="12.2" fill="#73b33d" rx="2"/>
<path d="M1266.3 1003.4H1417" stroke="#666" stroke-width="1.3"/>
<rect x="1280" y="997.2" width="128" height="12.2" fill="#73b33d" rx="2"/>
<path d="M1266.3 1022H1417" stroke="#666" stroke-width="1.3"/>
<rect x="1274" y="1015.9" width="134" height="12.2" fill="#73b33d" rx="2"/>
<path d="M1266.3 1040.7H1415.5" stroke="#666" stroke-width="1.3"/>
<rect x="1273.5" y="1034.6" width="133" height="12.2" fill="#73b33d" rx="2"/>
<path d="M1266.3 1059.4H1417" stroke="#666" stroke-width="1.3"/>
<rect x="1279" y="1053.3" width="129" height="12.2" fill="#73b33d" rx="2"/>
<path d="M1266.3 1078H1417" stroke="#666" stroke-width="1.3"/>
<rect x="1274" y="1071.9" width="134" height="12.2" fill="#73b33d" rx="2"/>
<path d="M1266.3 1096.7H1417" stroke="#666" stroke-width="1.3"/>
<rect x="1277" y="1090.6" width="131" height="12.2" fill="#73b33d" rx="2"/>
<path d="M1266.3 1115.4H1417" stroke="#666" stroke-width="1.3"/>
<rect x="1274" y="1109.3" width="134" height="12.2" fill="#73b33d" rx="2"/>
<path d="M1266.3 1134H1417" stroke="#666" stroke-width="1.3"/>
<rect x="1274" y="1127.9" width="134" height="12.2" fill="#73b33d" rx="2"/>
<path d="M1266.3 1152.7H1419.7" stroke="#666" stroke-width="1.3"/>
<rect x="1274" y="1146.6" width="136.7" height="12.2" fill="#73b33d" rx="2"/>
<path d="M1266.3 1171.4H1417" stroke="#666" stroke-width="1.3"/>
<rect x="1274" y="1165.3" width="134" height="12.2" fill="#73b33d" rx="2"/>
<path d="M1266.3 1190H1417" stroke="#666" stroke-width="1.3"/>
<rect x="1274" y="1184" width="134" height="12.2" fill="#73b33d" rx="2"/>
<path d="M1266.3 1208.7H1417.4" stroke="#666" stroke-width="1.3"/>
<rect x="1274.5" y="1202.6" width="133.9" height="12.2" fill="#73b33d" rx="2"/>
<path d="M1266.3 1227.4H1424" stroke="#666" stroke-width="1.3"/>
<rect x="1266.3" y="1221.3" width="156.4" height="12.2" fill="#fdcb03" rx="2"/>
<path d="M1266.3 1246.1H1431" stroke="#666" stroke-width="1.3"/>
<rect x="1266.3" y="1240" width="163.7" height="12.2" fill="#ef5b82" rx="2"/>
<path d="M1266.3 1264.7H1427" stroke="#666" stroke-width="1.3"/>
<rect x="1266.3" y="1258.6" width="159.7" height="12.2" fill="#ef5b82" rx="2"/>
<path d="M1266.3 1283.4H1439" stroke="#666" stroke-width="1.3"/>
<rect x="1266.3" y="1277.3" width="171.7" height="12.2" fill="#ef5b82" rx="2"/>
<path d="M1266.3 1302.1H1434.6" stroke="#666" stroke-width="1.3"/>
<rect x="1266.3" y="1296" width="167.3" height="12.2" fill="#ef5b82" rx="2"/>
<path d="M1266.3 1320.7H1441.7" stroke="#666" stroke-width="1.3"/>
<rect x="1266.3" y="1314.6" width="174.4" height="12.2" fill="#ef5b82" rx="2"/>
<path d="M1266.3 1339.4H1439" stroke="#666" stroke-width="1.3"/>
<rect x="1266.3" y="1333.3" width="171.7" height="12.2" fill="#ef5b82" rx="2"/>
<path d="M1266.3 1358.1H1439" stroke="#666" stroke-width="1.3"/>
<rect x="1266.3" y="1352" width="171.7" height="12.2" fill="#ef5b82" rx="2"/>
<path d="M1266.3 1376.8H1420" stroke="#666" stroke-width="1.3"/>
<rect x="1268" y="1370.7" width="151" height="12.2" fill="#00837b" rx="2"/>
<path d="M1266.3 1395.4H1417" stroke="#666" stroke-width="1.3"/>
<rect x="1269" y="1389.3" width="146" height="12.2" fill="#00837b" rx="2"/>
<path d="M1266.3 1414.1H1415" stroke="#666" stroke-width="1.3"/>
<rect x="1272" y="1408" width="141.5" height="12.2" fill="#e8102a" rx="2"/>
<path d="M1266.3 1432.8H1420.5" stroke="#666" stroke-width="1.3"/>
<rect x="1266.3" y="1426.7" width="132.4" height="12.2" fill="#e8102a" rx="2"/>
<path d="M1266.3 1451.4H1411" stroke="#666" stroke-width="1.3"/>
<rect x="1272" y="1445.3" width="130.6" height="12.2" fill="#e8102a" rx="2"/>
<path d="M1266.3 1470.1H1419" stroke="#666" stroke-width="1.3"/>
<rect x="1266" y="1464" width="139" height="12.2" fill="#e8102a" rx="2"/>
<path d="M1266.3 1488.8H1419" stroke="#666" stroke-width="1.3"/>
<rect x="1266" y="1482.7" width="138" height="12.2" fill="#00837b" rx="2"/>
<path d="M1266.3 1507.4H1417" stroke="#666" stroke-width="1.3"/>
<rect x="1266" y="1501.3" width="138" height="12.2" fill="#00837b" rx="2"/>
<path d="M1266.3 1526.1H1417" stroke="#666" stroke-width="1.3"/>
<rect x="1266" y="1520" width="139" height="12.2" fill="#00837b" rx="2"/>
<path d="M1066.3 1545H1246.2" stroke="#666" stroke-width="0.8"/>
<path d="M1066.3 1545V1548" stroke="#666" stroke-width="0.8"/>
<text x="1066.3" y="1558" font-size="9.5" fill="#333" text-anchor="middle">0</text>
<path d="M1096.3 1545V1548" stroke="#666" stroke-width="0.8"/>
<text x="1096.3" y="1558" font-size="9.5" fill="#333" text-anchor="middle">100</text>
<path d="M1126.3 1545V1548" stroke="#666" stroke-width="0.8"/>
<text x="1126.3" y="1558" font-size="9.5" fill="#333" text-anchor="middle">200</text>
<path d="M1156.2 1545V1548" stroke="#666" stroke-width="0.8"/>
<text x="1156.2" y="1558" font-size="9.5" fill="#333" text-anchor="middle">300</text>
<path d="M1186.2 1545V1548" stroke="#666" stroke-width="0.8"/>
<text x="1186.2" y="1558" font-size="9.5" fill="#333" text-anchor="middle">400</text>
<path d="M1216.2 1545V1548" stroke="#666" stroke-width="0.8"/>
<text x="1216.2" y="1558" font-size="9.5" fill="#333" text-anchor="middle">500</text>
<path d="M1246.2 1545V1548" stroke="#666" stroke-width="0.8"/>
<text x="1246.2" y="1558" font-size="9.5" fill="#333" text-anchor="middle">600</text>
<text x="1065.3" y="1544" font-size="9" fill="#333" text-anchor="end">5'</text>
<text x="1247.2" y="1544" font-size="9" fill="#333">3'</text>
<path d="M1268 1545H1447.8" stroke="#666" stroke-width="0.8"/>
<path d="M1268 1545V1548" stroke="#666" stroke-width="0.8"/>
<text x="1268" y="1558" font-size="9.5" fill="#333" text-anchor="middle">0</text>
<path d="M1298 1545V1548" stroke="#666" stroke-width="0.8"/>
<text x="1298" y="1558" font-size="9.5" fill="#333" text-anchor="middle">100</text>
<path d="M1327.9 1545V1548" stroke="#666" stroke-width="0.8"/>
<text x="1327.9" y="1558" font-size="9.5" fill="#333" text-anchor="middle">200</text>
<path d="M1357.9 1545V1548" stroke="#666" stroke-width="0.8"/>
<text x="1357.9" y="1558" font-size="9.5" fill="#333" text-anchor="middle">300</text>
<path d="M1387.9 1545V1548" stroke="#666" stroke-width="0.8"/>
<text x="1387.9" y="1558" font-size="9.5" fill="#333" text-anchor="middle">400</text>
<path d="M1417.8 1545V1548" stroke="#666" stroke-width="0.8"/>
<text x="1417.8" y="1558" font-size="9.5" fill="#333" text-anchor="middle">500</text>
<path d="M1447.8 1545V1548" stroke="#666" stroke-width="0.8"/>
<text x="1447.8" y="1558" font-size="9.5" fill="#333" text-anchor="middle">600</text>
<text x="1267" y="1544" font-size="9" fill="#333" text-anchor="end">5'</text>
<text x="1448.8" y="1544" font-size="9" fill="#333">3'</text>
<rect class="m" x="1439" y="905.7" width="25.7" height="10" fill="url(#g21)" stroke="#ccc"/>
<text x="1467.3" y="913.7" font-size="8.5" fill="#444">Motif 11</text>
<rect class="m" x="1439" y="918.8" width="25.7" height="10" fill="url(#g7)" stroke="#ccc"/>
<text x="1467.3" y="926.8" font-size="8.5" fill="#444">Motif 2</text>
<rect class="m" x="1439" y="931.9" width="25.7" height="10" fill="url(#g15)" stroke="#ccc"/>
<text x="1467.3" y="939.9" font-size="8.5" fill="#444">Motif 3</text>
<rect class="m" x="1439" y="944.9" width="25.7" height="10" fill="url(#g2)" stroke="#ccc"/>
<text x="1467.3" y="952.9" font-size="8.5" fill="#444">Motif 10</text>
<rect class="m" x="1439" y="958" width="25.7" height="10" fill="url(#g0)" stroke="#ccc"/>
<text x="1467.3" y="966" font-size="8.5" fill="#444">Motif 8</text>
<rect class="m" x="1439" y="971.1" width="25.7" height="10" fill="url(#g11)" stroke="#ccc"/>
<text x="1467.3" y="979.1" font-size="8.5" fill="#444">Motif 9</text>
<rect class="m" x="1439" y="984.2" width="25.7" height="10" fill="url(#g12)" stroke="#ccc"/>
<text x="1467.3" y="992.2" font-size="8.5" fill="#444">Motif 4</text>
<rect class="m" x="1439" y="997.3" width="25.7" height="10" fill="url(#g13)" stroke="#ccc"/>
<text x="1467.3" y="1005.3" font-size="8.5" fill="#444">Motif 12</text>
<rect class="m" x="1439" y="1010.3" width="25.7" height="10" fill="url(#g3)" stroke="#ccc"/>
<text x="1467.3" y="1018.3" font-size="8.5" fill="#444">Motif 1</text>
<rect class="m" x="1439" y="1023.4" width="25.7" height="10" fill="url(#g8)" stroke="#ccc"/>
<text x="1467.3" y="1031.4" font-size="8.5" fill="#444">Motif 7</text>
<rect class="m" x="1439" y="1036.5" width="25.7" height="10" fill="url(#g5)" stroke="#ccc"/>
<text x="1467.3" y="1044.5" font-size="8.5" fill="#444">Motif 5</text>
<rect class="m" x="1439" y="1049.6" width="25.7" height="10" fill="url(#g9)" stroke="#ccc"/>
<text x="1467.3" y="1057.6" font-size="8.5" fill="#444">Motif 6</text>
<rect class="m" x="1439" y="1062.7" width="25.7" height="10" fill="url(#g14)" stroke="#ccc"/>
<text x="1467.3" y="1070.7" font-size="8.5" fill="#444">Motif 13</text>
<rect class="m" x="1439" y="1075.7" width="25.7" height="10" fill="url(#g19)" stroke="#ccc"/>
<text x="1467.3" y="1083.7" font-size="8.5" fill="#444">Motif 15</text>
<rect class="m" x="1439" y="1088.8" width="25.7" height="10" fill="url(#g20)" stroke="#ccc"/>
<text x="1467.3" y="1096.8" font-size="8.5" fill="#444">Motif 14</text>
<rect x="1439" y="1102.7" width="25.7" height="10" fill="#73b33d" rx="2"/>
<text x="1467.3" y="1110.7" font-size="7.5">PLN02268</text>
<rect x="1439" y="1118.8" width="25.7" height="10" fill="#fdcb03" rx="2"/>
<text x="1467.3" y="1126.8" font-size="7.5">PLN02568</text>
<rect x="1439" y="1152" width="25.7" height="10" fill="#ef5b82" rx="2"/>
<text x="1467.3" y="1160" font-size="7.5">PLN02568</text>
<rect x="1439" y="1169.2" width="25.7" height="10" fill="#00837b" rx="2"/>
<text x="1467.3" y="1177.2" font-size="7.5">PLN02676</text>
<rect x="1439" y="1185.4" width="25.7" height="10" fill="#e8102a" rx="2"/>
<text x="1467.3" y="1193.4" font-size="7.5">PLN02676</text>
<text x="1467.3" y="1144" font-size="7.5">superfamily</text>
<text x="1467.3" y="1210.5" font-size="7.5">superfamily</text>
<polygon points="1454.6,1223.4 1456.2,1227.2 1460.3,1227.6 1457.2,1230.2 1458.1,1234.2 1454.6,1232.1 1451.1,1234.2 1452,1230.2 1448.9,1227.6 1453,1227.2" fill="#f00"/>
<text x="1466" y="1232.6" font-size="10" font-weight="bold" font-style="italic" textLength="89.2" lengthAdjust="spacingAndGlyphs">Dimocarpus longan</text>
<rect x="1448.6" y="1241.6" width="11.9" height="11.9" rx="1.6" fill="#fff" stroke="#333" stroke-width="1.1"/>
<text x="1466" y="1251.2" font-size="10" font-weight="bold" font-style="italic" textLength="94" lengthAdjust="spacingAndGlyphs">Arabidopsis thaliana</text>
<rect x="1448.1" y="1259.7" width="13" height="13" fill="#ffff00"/>
<text x="1466" y="1269.8" font-size="10" font-weight="bold" font-style="italic" textLength="56.3" lengthAdjust="spacingAndGlyphs">Oryza sativa</text>
<circle cx="1454.6" cy="1284.8" r="6.5" fill="#ff9e0a"/>
<text x="1466" y="1288.4" font-size="10" font-weight="bold" font-style="italic" textLength="68.5" lengthAdjust="spacingAndGlyphs">Citrus sinensis</text>
<circle cx="1454.6" cy="1303.4" r="6.5" fill="#ff0000"/>
<text x="1466" y="1307" font-size="10" font-weight="bold" font-style="italic" textLength="77" lengthAdjust="spacingAndGlyphs">Malus domestica</text>
<circle cx="1454.6" cy="1322" r="6" fill="#fff" stroke="#333" stroke-width="1.1"/>
<text x="1466" y="1325.6" font-size="10" font-weight="bold" font-style="italic" textLength="81.8" lengthAdjust="spacingAndGlyphs">Theobroma cacao</text>
<polygon points="1454.6,1335.3 1460.5,1345.9 1448.6,1345.9" fill="#fff" stroke="#333" stroke-width="1.1" stroke-linejoin="miter"/>
<text x="1466" y="1344.2" font-size="10" font-weight="bold" font-style="italic" textLength="95.6" lengthAdjust="spacingAndGlyphs">Gossypium hirsutum</text>
<polygon points="1454.6,1353.4 1461.1,1365 1448.1,1365" fill="#ffff00"/>
<text x="1466" y="1362.8" font-size="10" font-weight="bold" font-style="italic" textLength="92.4" lengthAdjust="spacingAndGlyphs">Solanum tuberosum</text>
</g>
</svg>
</body></html>
